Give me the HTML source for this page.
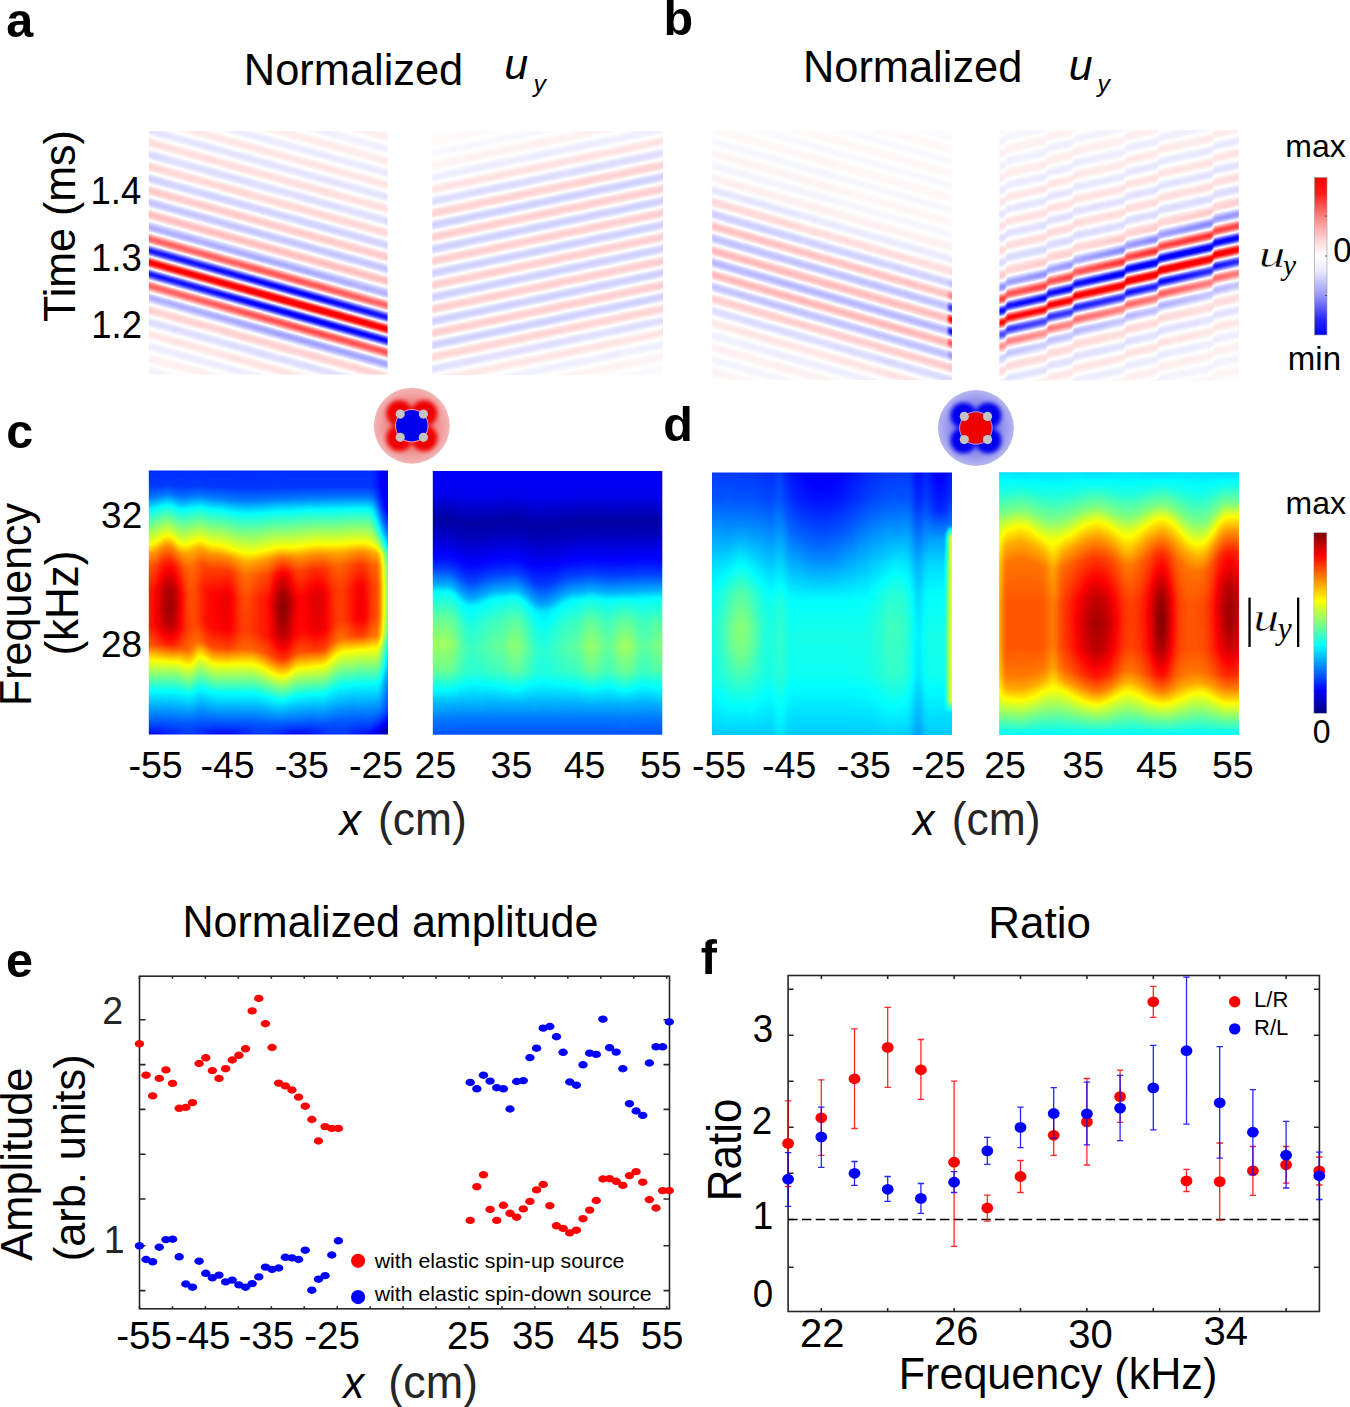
<!DOCTYPE html>
<html><head><meta charset="utf-8"><style>html,body{margin:0;padding:0;background:#fff}svg{display:block}text{font-family:"Liberation Sans",sans-serif}.b{font-weight:bold}.i{font-style:italic}.ga stop{stop-color:#808080}.si{font-family:"Liberation Serif",serif;font-style:italic}</style></head><body>
<svg width="1350" height="1407" viewBox="0 0 1350 1407">
<rect width="1350" height="1407" fill="#fff"/>
<defs><filter id="fjet" filterUnits="userSpaceOnUse" x="100" y="440" width="1200" height="320" color-interpolation-filters="sRGB"><feGaussianBlur stdDeviation="2.2 0.6"/><feComponentTransfer><feFuncR type="table" tableValues="0 0 0 0 0.5 1 1 1 0.5"/><feFuncG type="table" tableValues="0 0 0.5 1 1 1 0.5 0 0"/><feFuncB type="table" tableValues="0.5 1 1 1 0.5 0 0 0 0"/></feComponentTransfer></filter>
<filter id="fbwr" filterUnits="userSpaceOnUse" x="100" y="100" width="1200" height="320" color-interpolation-filters="sRGB"><feGaussianBlur stdDeviation="0.8 0.5"/><feComponentTransfer><feFuncR type="table" tableValues="0 0 0 0 0 0 0 0 0.08 0.17 0.25 0.34 0.42 0.5 0.58 0.66 0.74 0.81 0.88 0.95 1 1 1 1 1 1 1 1 1 1 1 1 1 1 1 1 1 1 1 1 1"/><feFuncG type="table" tableValues="0 0 0 0 0 0 0 0 0.08 0.17 0.25 0.34 0.42 0.5 0.58 0.66 0.74 0.81 0.88 0.95 1 0.95 0.88 0.81 0.74 0.66 0.58 0.5 0.42 0.34 0.25 0.17 0.08 0 0 0 0 0 0 0 0"/><feFuncB type="table" tableValues="1 1 1 1 1 1 1 1 1 1 1 1 1 1 1 1 1 1 1 1 1 0.95 0.88 0.81 0.74 0.66 0.58 0.5 0.42 0.34 0.25 0.17 0.08 0 0 0 0 0 0 0 0"/></feComponentTransfer></filter>
</defs>
<text x="6.19" y="37.3" font-size="48.5" class="b">a</text>
<text x="663.55" y="35" font-size="48.5" class="b">b</text>
<text x="6.3" y="448.4" font-size="48.5" class="b">c</text>
<text x="663.26" y="441.3" font-size="48.5" class="b">d</text>
<text x="6.1" y="976.7" font-size="48.5" class="b">e</text>
<text x="700.87" y="974" font-size="48.5" class="b">f</text>
<text transform="translate(243.83 84.8) scale(1 1.04)" font-size="43.4">Normalized</text>
<text transform="translate(504.28 79.4) scale(1 0.99)" font-size="43" class="i">u</text>
<text x="533.39" y="91.8" font-size="24.8" class="i">y</text>
<text transform="translate(802.93 82.3) scale(1 1.04)" font-size="43.4">Normalized</text>
<text transform="translate(1068.68 80.1) scale(1 0.99)" font-size="43" class="i">u</text>
<text x="1097.49" y="91.6" font-size="24.8" class="i">y</text>
<defs><linearGradient id="car0" gradientUnits="userSpaceOnUse" x1="0" y1="220.61" x2="0" y2="244.61" spreadMethod="repeat" gradientTransform="matrix(1 0.28 0 1 0 0)"><stop offset="0.0000" stop-color="#ffffff"/><stop offset="0.0625" stop-color="#f5f5f5"/><stop offset="0.1250" stop-color="#dadada"/><stop offset="0.1875" stop-color="#b0b0b0"/><stop offset="0.2500" stop-color="#808080"/><stop offset="0.3125" stop-color="#4f4f4f"/><stop offset="0.3750" stop-color="#252525"/><stop offset="0.4375" stop-color="#0a0a0a"/><stop offset="0.5000" stop-color="#000000"/><stop offset="0.5625" stop-color="#0a0a0a"/><stop offset="0.6250" stop-color="#252525"/><stop offset="0.6875" stop-color="#4f4f4f"/><stop offset="0.7500" stop-color="#7f7f7f"/><stop offset="0.8125" stop-color="#b0b0b0"/><stop offset="0.8750" stop-color="#dadada"/><stop offset="0.9375" stop-color="#f5f5f5"/><stop offset="1.0000" stop-color="#ffffff"/></linearGradient><linearGradient id="g1" class="ga" x2="0" y2="1"><stop offset="0.000" stop-opacity="0.91"/><stop offset="0.385" stop-opacity="0.79"/><stop offset="0.485" stop-opacity="0.39"/><stop offset="0.513" stop-opacity="0.32"/><stop offset="0.537" stop-opacity="0.30"/><stop offset="0.561" stop-opacity="0.33"/><stop offset="0.585" stop-opacity="0.39"/><stop offset="0.665" stop-opacity="0.72"/><stop offset="0.701" stop-opacity="0.84"/><stop offset="0.834" stop-opacity="0.92"/><stop offset="1.002" stop-opacity="0.97"/></linearGradient><linearGradient id="g2" class="ga" x2="0" y2="1"><stop offset="0.000" stop-opacity="0.91"/><stop offset="0.389" stop-opacity="0.79"/><stop offset="0.489" stop-opacity="0.39"/><stop offset="0.517" stop-opacity="0.32"/><stop offset="0.541" stop-opacity="0.30"/><stop offset="0.565" stop-opacity="0.32"/><stop offset="0.589" stop-opacity="0.39"/><stop offset="0.669" stop-opacity="0.72"/><stop offset="0.705" stop-opacity="0.84"/><stop offset="0.834" stop-opacity="0.92"/><stop offset="1.002" stop-opacity="0.96"/></linearGradient><linearGradient id="g3" class="ga" x2="0" y2="1"><stop offset="0.000" stop-opacity="0.91"/><stop offset="0.393" stop-opacity="0.79"/><stop offset="0.497" stop-opacity="0.38"/><stop offset="0.521" stop-opacity="0.32"/><stop offset="0.545" stop-opacity="0.30"/><stop offset="0.569" stop-opacity="0.32"/><stop offset="0.593" stop-opacity="0.39"/><stop offset="0.673" stop-opacity="0.72"/><stop offset="0.709" stop-opacity="0.84"/><stop offset="0.834" stop-opacity="0.92"/><stop offset="1.002" stop-opacity="0.96"/></linearGradient><linearGradient id="g4" class="ga" x2="0" y2="1"><stop offset="0.000" stop-opacity="0.91"/><stop offset="0.397" stop-opacity="0.79"/><stop offset="0.417" stop-opacity="0.72"/><stop offset="0.501" stop-opacity="0.38"/><stop offset="0.525" stop-opacity="0.32"/><stop offset="0.549" stop-opacity="0.30"/><stop offset="0.573" stop-opacity="0.32"/><stop offset="0.597" stop-opacity="0.38"/><stop offset="0.681" stop-opacity="0.73"/><stop offset="0.717" stop-opacity="0.85"/><stop offset="0.842" stop-opacity="0.92"/><stop offset="1.002" stop-opacity="0.96"/></linearGradient><linearGradient id="g5" class="ga" x2="0" y2="1"><stop offset="0.000" stop-opacity="0.91"/><stop offset="0.200" stop-opacity="0.86"/><stop offset="0.401" stop-opacity="0.79"/><stop offset="0.421" stop-opacity="0.73"/><stop offset="0.505" stop-opacity="0.38"/><stop offset="0.529" stop-opacity="0.32"/><stop offset="0.553" stop-opacity="0.30"/><stop offset="0.577" stop-opacity="0.32"/><stop offset="0.601" stop-opacity="0.38"/><stop offset="0.685" stop-opacity="0.73"/><stop offset="0.721" stop-opacity="0.85"/><stop offset="0.846" stop-opacity="0.92"/><stop offset="1.002" stop-opacity="0.96"/></linearGradient><linearGradient id="g6" class="ga" x2="0" y2="1"><stop offset="0.000" stop-opacity="0.91"/><stop offset="0.212" stop-opacity="0.86"/><stop offset="0.409" stop-opacity="0.79"/><stop offset="0.509" stop-opacity="0.38"/><stop offset="0.533" stop-opacity="0.32"/><stop offset="0.557" stop-opacity="0.30"/><stop offset="0.581" stop-opacity="0.32"/><stop offset="0.605" stop-opacity="0.38"/><stop offset="0.689" stop-opacity="0.73"/><stop offset="0.725" stop-opacity="0.85"/><stop offset="0.850" stop-opacity="0.92"/><stop offset="1.002" stop-opacity="0.96"/></linearGradient><linearGradient id="g7" class="ga" x2="0" y2="1"><stop offset="0.000" stop-opacity="0.92"/><stop offset="0.208" stop-opacity="0.86"/><stop offset="0.413" stop-opacity="0.79"/><stop offset="0.513" stop-opacity="0.38"/><stop offset="0.537" stop-opacity="0.32"/><stop offset="0.561" stop-opacity="0.30"/><stop offset="0.585" stop-opacity="0.32"/><stop offset="0.609" stop-opacity="0.38"/><stop offset="0.693" stop-opacity="0.72"/><stop offset="0.729" stop-opacity="0.85"/><stop offset="0.850" stop-opacity="0.92"/><stop offset="1.002" stop-opacity="0.96"/></linearGradient><linearGradient id="g8" class="ga" x2="0" y2="1"><stop offset="0.000" stop-opacity="0.92"/><stop offset="0.208" stop-opacity="0.87"/><stop offset="0.417" stop-opacity="0.79"/><stop offset="0.517" stop-opacity="0.38"/><stop offset="0.541" stop-opacity="0.32"/><stop offset="0.565" stop-opacity="0.30"/><stop offset="0.589" stop-opacity="0.32"/><stop offset="0.613" stop-opacity="0.38"/><stop offset="0.697" stop-opacity="0.72"/><stop offset="0.733" stop-opacity="0.84"/><stop offset="0.854" stop-opacity="0.91"/><stop offset="1.002" stop-opacity="0.96"/></linearGradient><linearGradient id="g9" class="ga" x2="0" y2="1"><stop offset="0.000" stop-opacity="0.92"/><stop offset="0.212" stop-opacity="0.87"/><stop offset="0.421" stop-opacity="0.79"/><stop offset="0.521" stop-opacity="0.39"/><stop offset="0.549" stop-opacity="0.31"/><stop offset="0.573" stop-opacity="0.30"/><stop offset="0.597" stop-opacity="0.32"/><stop offset="0.621" stop-opacity="0.39"/><stop offset="0.701" stop-opacity="0.72"/><stop offset="0.737" stop-opacity="0.84"/><stop offset="0.854" stop-opacity="0.91"/><stop offset="1.002" stop-opacity="0.96"/></linearGradient><linearGradient id="ga" class="ga" x2="0" y2="1"><stop offset="0.000" stop-opacity="0.92"/><stop offset="0.212" stop-opacity="0.87"/><stop offset="0.425" stop-opacity="0.79"/><stop offset="0.529" stop-opacity="0.37"/><stop offset="0.553" stop-opacity="0.31"/><stop offset="0.577" stop-opacity="0.30"/><stop offset="0.601" stop-opacity="0.32"/><stop offset="0.625" stop-opacity="0.38"/><stop offset="0.709" stop-opacity="0.73"/><stop offset="0.745" stop-opacity="0.85"/><stop offset="0.862" stop-opacity="0.91"/><stop offset="1.002" stop-opacity="0.96"/></linearGradient><linearGradient id="gb" class="ga" x2="0" y2="1"><stop offset="0.000" stop-opacity="0.92"/><stop offset="0.216" stop-opacity="0.87"/><stop offset="0.429" stop-opacity="0.79"/><stop offset="0.449" stop-opacity="0.72"/><stop offset="0.533" stop-opacity="0.37"/><stop offset="0.557" stop-opacity="0.31"/><stop offset="0.581" stop-opacity="0.29"/><stop offset="0.605" stop-opacity="0.32"/><stop offset="0.629" stop-opacity="0.38"/><stop offset="0.713" stop-opacity="0.73"/><stop offset="0.749" stop-opacity="0.85"/><stop offset="0.862" stop-opacity="0.91"/><stop offset="1.002" stop-opacity="0.96"/></linearGradient><linearGradient id="gc" class="ga" x2="0" y2="1"><stop offset="0.000" stop-opacity="0.92"/><stop offset="0.220" stop-opacity="0.87"/><stop offset="0.433" stop-opacity="0.79"/><stop offset="0.453" stop-opacity="0.72"/><stop offset="0.537" stop-opacity="0.38"/><stop offset="0.561" stop-opacity="0.31"/><stop offset="0.585" stop-opacity="0.29"/><stop offset="0.609" stop-opacity="0.32"/><stop offset="0.633" stop-opacity="0.38"/><stop offset="0.717" stop-opacity="0.73"/><stop offset="0.754" stop-opacity="0.85"/><stop offset="0.866" stop-opacity="0.91"/><stop offset="1.002" stop-opacity="0.96"/></linearGradient><linearGradient id="gd" class="ga" x2="0" y2="1"><stop offset="0.000" stop-opacity="0.92"/><stop offset="0.224" stop-opacity="0.87"/><stop offset="0.437" stop-opacity="0.79"/><stop offset="0.457" stop-opacity="0.73"/><stop offset="0.541" stop-opacity="0.38"/><stop offset="0.565" stop-opacity="0.31"/><stop offset="0.589" stop-opacity="0.29"/><stop offset="0.613" stop-opacity="0.31"/><stop offset="0.637" stop-opacity="0.38"/><stop offset="0.721" stop-opacity="0.72"/><stop offset="0.758" stop-opacity="0.85"/><stop offset="0.866" stop-opacity="0.91"/><stop offset="1.002" stop-opacity="0.95"/></linearGradient><linearGradient id="ge" class="ga" x2="0" y2="1"><stop offset="0.000" stop-opacity="0.92"/><stop offset="0.232" stop-opacity="0.87"/><stop offset="0.445" stop-opacity="0.79"/><stop offset="0.545" stop-opacity="0.38"/><stop offset="0.569" stop-opacity="0.31"/><stop offset="0.593" stop-opacity="0.29"/><stop offset="0.617" stop-opacity="0.31"/><stop offset="0.641" stop-opacity="0.37"/><stop offset="0.725" stop-opacity="0.72"/><stop offset="0.762" stop-opacity="0.84"/><stop offset="0.870" stop-opacity="0.91"/><stop offset="1.002" stop-opacity="0.95"/></linearGradient><linearGradient id="gf" class="ga" x2="0" y2="1"><stop offset="0.000" stop-opacity="0.92"/><stop offset="0.232" stop-opacity="0.87"/><stop offset="0.449" stop-opacity="0.79"/><stop offset="0.549" stop-opacity="0.38"/><stop offset="0.573" stop-opacity="0.31"/><stop offset="0.597" stop-opacity="0.29"/><stop offset="0.621" stop-opacity="0.31"/><stop offset="0.645" stop-opacity="0.37"/><stop offset="0.729" stop-opacity="0.72"/><stop offset="0.766" stop-opacity="0.84"/><stop offset="0.870" stop-opacity="0.91"/><stop offset="1.002" stop-opacity="0.95"/></linearGradient><linearGradient id="g10" class="ga" x2="0" y2="1"><stop offset="0.000" stop-opacity="0.92"/><stop offset="0.232" stop-opacity="0.87"/><stop offset="0.453" stop-opacity="0.79"/><stop offset="0.553" stop-opacity="0.38"/><stop offset="0.581" stop-opacity="0.31"/><stop offset="0.605" stop-opacity="0.29"/><stop offset="0.629" stop-opacity="0.31"/><stop offset="0.653" stop-opacity="0.38"/><stop offset="0.737" stop-opacity="0.73"/><stop offset="0.774" stop-opacity="0.85"/><stop offset="0.878" stop-opacity="0.91"/><stop offset="1.002" stop-opacity="0.95"/></linearGradient><linearGradient id="g11" class="ga" x2="0" y2="1"><stop offset="0.000" stop-opacity="0.92"/><stop offset="0.232" stop-opacity="0.87"/><stop offset="0.457" stop-opacity="0.79"/><stop offset="0.557" stop-opacity="0.38"/><stop offset="0.585" stop-opacity="0.31"/><stop offset="0.609" stop-opacity="0.29"/><stop offset="0.633" stop-opacity="0.31"/><stop offset="0.657" stop-opacity="0.38"/><stop offset="0.741" stop-opacity="0.73"/><stop offset="0.778" stop-opacity="0.85"/><stop offset="0.878" stop-opacity="0.91"/><stop offset="1.002" stop-opacity="0.95"/></linearGradient><linearGradient id="g12" class="ga" x2="0" y2="1"><stop offset="0.000" stop-opacity="0.92"/><stop offset="0.236" stop-opacity="0.87"/><stop offset="0.461" stop-opacity="0.79"/><stop offset="0.565" stop-opacity="0.36"/><stop offset="0.589" stop-opacity="0.30"/><stop offset="0.613" stop-opacity="0.28"/><stop offset="0.637" stop-opacity="0.31"/><stop offset="0.661" stop-opacity="0.37"/><stop offset="0.745" stop-opacity="0.73"/><stop offset="0.782" stop-opacity="0.85"/><stop offset="0.882" stop-opacity="0.91"/><stop offset="1.002" stop-opacity="0.95"/></linearGradient><linearGradient id="g13" class="ga" x2="0" y2="1"><stop offset="0.000" stop-opacity="0.93"/><stop offset="0.240" stop-opacity="0.87"/><stop offset="0.465" stop-opacity="0.79"/><stop offset="0.569" stop-opacity="0.36"/><stop offset="0.593" stop-opacity="0.30"/><stop offset="0.617" stop-opacity="0.28"/><stop offset="0.641" stop-opacity="0.30"/><stop offset="0.665" stop-opacity="0.37"/><stop offset="0.749" stop-opacity="0.72"/><stop offset="0.786" stop-opacity="0.85"/><stop offset="0.882" stop-opacity="0.90"/><stop offset="1.002" stop-opacity="0.95"/></linearGradient><linearGradient id="g14" class="ga" x2="0" y2="1"><stop offset="0.000" stop-opacity="0.93"/><stop offset="0.244" stop-opacity="0.87"/><stop offset="0.469" stop-opacity="0.79"/><stop offset="0.493" stop-opacity="0.70"/><stop offset="0.573" stop-opacity="0.36"/><stop offset="0.597" stop-opacity="0.30"/><stop offset="0.621" stop-opacity="0.28"/><stop offset="0.645" stop-opacity="0.30"/><stop offset="0.669" stop-opacity="0.36"/><stop offset="0.754" stop-opacity="0.72"/><stop offset="0.790" stop-opacity="0.84"/><stop offset="0.882" stop-opacity="0.90"/><stop offset="1.002" stop-opacity="0.95"/></linearGradient><linearGradient id="g15" class="ga" x2="0" y2="1"><stop offset="0.000" stop-opacity="0.93"/><stop offset="0.244" stop-opacity="0.87"/><stop offset="0.473" stop-opacity="0.79"/><stop offset="0.497" stop-opacity="0.71"/><stop offset="0.577" stop-opacity="0.36"/><stop offset="0.601" stop-opacity="0.30"/><stop offset="0.625" stop-opacity="0.28"/><stop offset="0.649" stop-opacity="0.30"/><stop offset="0.673" stop-opacity="0.36"/><stop offset="0.758" stop-opacity="0.72"/><stop offset="0.794" stop-opacity="0.84"/><stop offset="0.882" stop-opacity="0.90"/><stop offset="1.002" stop-opacity="0.95"/></linearGradient><linearGradient id="g16" class="ga" x2="0" y2="1"><stop offset="0.000" stop-opacity="0.93"/><stop offset="0.248" stop-opacity="0.87"/><stop offset="0.477" stop-opacity="0.79"/><stop offset="0.501" stop-opacity="0.71"/><stop offset="0.581" stop-opacity="0.36"/><stop offset="0.605" stop-opacity="0.30"/><stop offset="0.629" stop-opacity="0.27"/><stop offset="0.653" stop-opacity="0.29"/><stop offset="0.677" stop-opacity="0.35"/><stop offset="0.766" stop-opacity="0.73"/><stop offset="0.802" stop-opacity="0.85"/><stop offset="1.002" stop-opacity="0.94"/></linearGradient><linearGradient id="g17" class="ga" x2="0" y2="1"><stop offset="0.000" stop-opacity="0.93"/><stop offset="0.253" stop-opacity="0.87"/><stop offset="0.481" stop-opacity="0.79"/><stop offset="0.505" stop-opacity="0.71"/><stop offset="0.585" stop-opacity="0.36"/><stop offset="0.609" stop-opacity="0.30"/><stop offset="0.633" stop-opacity="0.27"/><stop offset="0.657" stop-opacity="0.29"/><stop offset="0.681" stop-opacity="0.35"/><stop offset="0.770" stop-opacity="0.73"/><stop offset="0.806" stop-opacity="0.85"/><stop offset="1.002" stop-opacity="0.94"/></linearGradient><linearGradient id="g18" class="ga" x2="0" y2="1"><stop offset="0.000" stop-opacity="0.93"/><stop offset="0.257" stop-opacity="0.87"/><stop offset="0.485" stop-opacity="0.79"/><stop offset="0.509" stop-opacity="0.71"/><stop offset="0.593" stop-opacity="0.35"/><stop offset="0.617" stop-opacity="0.29"/><stop offset="0.641" stop-opacity="0.27"/><stop offset="0.665" stop-opacity="0.29"/><stop offset="0.689" stop-opacity="0.36"/><stop offset="0.774" stop-opacity="0.72"/><stop offset="0.810" stop-opacity="0.85"/><stop offset="1.002" stop-opacity="0.94"/></linearGradient><linearGradient id="g19" class="ga" x2="0" y2="1"><stop offset="0.000" stop-opacity="0.93"/><stop offset="0.269" stop-opacity="0.87"/><stop offset="0.493" stop-opacity="0.79"/><stop offset="0.593" stop-opacity="0.36"/><stop offset="0.621" stop-opacity="0.28"/><stop offset="0.645" stop-opacity="0.26"/><stop offset="0.669" stop-opacity="0.29"/><stop offset="0.693" stop-opacity="0.35"/><stop offset="0.778" stop-opacity="0.72"/><stop offset="0.814" stop-opacity="0.84"/><stop offset="0.894" stop-opacity="0.90"/><stop offset="1.002" stop-opacity="0.94"/></linearGradient><linearGradient id="g1a" class="ga" x2="0" y2="1"><stop offset="0.000" stop-opacity="0.93"/><stop offset="0.269" stop-opacity="0.87"/><stop offset="0.497" stop-opacity="0.79"/><stop offset="0.601" stop-opacity="0.35"/><stop offset="0.625" stop-opacity="0.28"/><stop offset="0.649" stop-opacity="0.26"/><stop offset="0.673" stop-opacity="0.28"/><stop offset="0.697" stop-opacity="0.35"/><stop offset="0.782" stop-opacity="0.71"/><stop offset="0.818" stop-opacity="0.84"/><stop offset="0.894" stop-opacity="0.89"/><stop offset="1.002" stop-opacity="0.94"/></linearGradient><linearGradient id="g1b" class="ga" x2="0" y2="1"><stop offset="0.000" stop-opacity="0.93"/><stop offset="0.269" stop-opacity="0.87"/><stop offset="0.501" stop-opacity="0.79"/><stop offset="0.605" stop-opacity="0.34"/><stop offset="0.629" stop-opacity="0.28"/><stop offset="0.653" stop-opacity="0.26"/><stop offset="0.677" stop-opacity="0.28"/><stop offset="0.701" stop-opacity="0.34"/><stop offset="0.790" stop-opacity="0.73"/><stop offset="0.826" stop-opacity="0.85"/><stop offset="1.002" stop-opacity="0.94"/></linearGradient><linearGradient id="g1c" class="ga" x2="0" y2="1"><stop offset="0.000" stop-opacity="0.93"/><stop offset="0.269" stop-opacity="0.88"/><stop offset="0.505" stop-opacity="0.79"/><stop offset="0.609" stop-opacity="0.34"/><stop offset="0.633" stop-opacity="0.28"/><stop offset="0.657" stop-opacity="0.25"/><stop offset="0.681" stop-opacity="0.28"/><stop offset="0.705" stop-opacity="0.34"/><stop offset="0.794" stop-opacity="0.72"/><stop offset="0.830" stop-opacity="0.85"/><stop offset="1.002" stop-opacity="0.94"/></linearGradient><linearGradient id="g1d" class="ga" x2="0" y2="1"><stop offset="0.000" stop-opacity="0.93"/><stop offset="0.269" stop-opacity="0.88"/><stop offset="0.509" stop-opacity="0.79"/><stop offset="0.613" stop-opacity="0.34"/><stop offset="0.637" stop-opacity="0.28"/><stop offset="0.661" stop-opacity="0.25"/><stop offset="0.685" stop-opacity="0.27"/><stop offset="0.709" stop-opacity="0.33"/><stop offset="0.798" stop-opacity="0.72"/><stop offset="0.834" stop-opacity="0.85"/><stop offset="1.002" stop-opacity="0.93"/></linearGradient><linearGradient id="g1e" class="ga" x2="0" y2="1"><stop offset="0.000" stop-opacity="0.93"/><stop offset="0.273" stop-opacity="0.88"/><stop offset="0.513" stop-opacity="0.79"/><stop offset="0.617" stop-opacity="0.34"/><stop offset="0.641" stop-opacity="0.27"/><stop offset="0.665" stop-opacity="0.25"/><stop offset="0.689" stop-opacity="0.27"/><stop offset="0.713" stop-opacity="0.33"/><stop offset="0.802" stop-opacity="0.72"/><stop offset="0.838" stop-opacity="0.84"/><stop offset="1.002" stop-opacity="0.93"/></linearGradient><linearGradient id="g1f" class="ga" x2="0" y2="1"><stop offset="0.000" stop-opacity="0.93"/><stop offset="0.277" stop-opacity="0.88"/><stop offset="0.517" stop-opacity="0.79"/><stop offset="0.545" stop-opacity="0.68"/><stop offset="0.621" stop-opacity="0.34"/><stop offset="0.649" stop-opacity="0.26"/><stop offset="0.673" stop-opacity="0.24"/><stop offset="0.697" stop-opacity="0.27"/><stop offset="0.721" stop-opacity="0.34"/><stop offset="0.806" stop-opacity="0.71"/><stop offset="0.846" stop-opacity="0.85"/><stop offset="1.002" stop-opacity="0.93"/></linearGradient><linearGradient id="g20" class="ga" x2="0" y2="1"><stop offset="0.000" stop-opacity="0.93"/><stop offset="0.277" stop-opacity="0.88"/><stop offset="0.521" stop-opacity="0.79"/><stop offset="0.545" stop-opacity="0.70"/><stop offset="0.629" stop-opacity="0.33"/><stop offset="0.653" stop-opacity="0.26"/><stop offset="0.677" stop-opacity="0.24"/><stop offset="0.701" stop-opacity="0.27"/><stop offset="0.725" stop-opacity="0.33"/><stop offset="0.810" stop-opacity="0.71"/><stop offset="0.850" stop-opacity="0.85"/><stop offset="1.002" stop-opacity="0.93"/></linearGradient><linearGradient id="g21" class="ga" x2="0" y2="1"><stop offset="0.000" stop-opacity="0.94"/><stop offset="0.281" stop-opacity="0.88"/><stop offset="0.525" stop-opacity="0.79"/><stop offset="0.549" stop-opacity="0.70"/><stop offset="0.633" stop-opacity="0.33"/><stop offset="0.657" stop-opacity="0.26"/><stop offset="0.681" stop-opacity="0.24"/><stop offset="0.705" stop-opacity="0.26"/><stop offset="0.729" stop-opacity="0.33"/><stop offset="0.814" stop-opacity="0.71"/><stop offset="0.854" stop-opacity="0.85"/><stop offset="1.002" stop-opacity="0.93"/></linearGradient><linearGradient id="g22" class="ga" x2="0" y2="1"><stop offset="0.000" stop-opacity="0.94"/><stop offset="0.285" stop-opacity="0.88"/><stop offset="0.529" stop-opacity="0.79"/><stop offset="0.553" stop-opacity="0.70"/><stop offset="0.637" stop-opacity="0.33"/><stop offset="0.661" stop-opacity="0.26"/><stop offset="0.685" stop-opacity="0.24"/><stop offset="0.709" stop-opacity="0.26"/><stop offset="0.733" stop-opacity="0.33"/><stop offset="0.818" stop-opacity="0.70"/><stop offset="0.858" stop-opacity="0.85"/><stop offset="1.002" stop-opacity="0.93"/></linearGradient><linearGradient id="g23" class="ga" x2="0" y2="1"><stop offset="0.000" stop-opacity="0.94"/><stop offset="0.289" stop-opacity="0.88"/><stop offset="0.533" stop-opacity="0.79"/><stop offset="0.557" stop-opacity="0.70"/><stop offset="0.641" stop-opacity="0.33"/><stop offset="0.665" stop-opacity="0.26"/><stop offset="0.689" stop-opacity="0.23"/><stop offset="0.713" stop-opacity="0.26"/><stop offset="0.737" stop-opacity="0.32"/><stop offset="0.826" stop-opacity="0.72"/><stop offset="0.862" stop-opacity="0.84"/><stop offset="1.002" stop-opacity="0.92"/></linearGradient><linearGradient id="g24" class="ga" x2="0" y2="1"><stop offset="0.000" stop-opacity="0.94"/><stop offset="0.293" stop-opacity="0.88"/><stop offset="0.537" stop-opacity="0.79"/><stop offset="0.561" stop-opacity="0.71"/><stop offset="0.645" stop-opacity="0.33"/><stop offset="0.669" stop-opacity="0.26"/><stop offset="0.693" stop-opacity="0.23"/><stop offset="0.717" stop-opacity="0.25"/><stop offset="0.741" stop-opacity="0.32"/><stop offset="0.830" stop-opacity="0.71"/><stop offset="0.866" stop-opacity="0.84"/><stop offset="1.002" stop-opacity="0.92"/></linearGradient><linearGradient id="g25" class="ga" x2="0" y2="1"><stop offset="0.000" stop-opacity="0.94"/><stop offset="0.301" stop-opacity="0.88"/><stop offset="0.545" stop-opacity="0.79"/><stop offset="0.649" stop-opacity="0.33"/><stop offset="0.673" stop-opacity="0.26"/><stop offset="0.697" stop-opacity="0.23"/><stop offset="0.721" stop-opacity="0.25"/><stop offset="0.745" stop-opacity="0.32"/><stop offset="0.834" stop-opacity="0.71"/><stop offset="0.874" stop-opacity="0.85"/><stop offset="1.002" stop-opacity="0.92"/></linearGradient><linearGradient id="g26" class="ga" x2="0" y2="1"><stop offset="0.000" stop-opacity="0.94"/><stop offset="0.301" stop-opacity="0.88"/><stop offset="0.549" stop-opacity="0.79"/><stop offset="0.653" stop-opacity="0.33"/><stop offset="0.677" stop-opacity="0.26"/><stop offset="0.701" stop-opacity="0.23"/><stop offset="0.725" stop-opacity="0.25"/><stop offset="0.749" stop-opacity="0.31"/><stop offset="0.838" stop-opacity="0.71"/><stop offset="0.878" stop-opacity="0.85"/><stop offset="1.002" stop-opacity="0.92"/></linearGradient><linearGradient id="g27" class="ga" x2="0" y2="1"><stop offset="0.000" stop-opacity="0.94"/><stop offset="0.297" stop-opacity="0.88"/><stop offset="0.553" stop-opacity="0.79"/><stop offset="0.657" stop-opacity="0.33"/><stop offset="0.685" stop-opacity="0.25"/><stop offset="0.709" stop-opacity="0.23"/><stop offset="0.733" stop-opacity="0.26"/><stop offset="0.758" stop-opacity="0.32"/><stop offset="0.842" stop-opacity="0.71"/><stop offset="0.882" stop-opacity="0.85"/><stop offset="1.002" stop-opacity="0.92"/></linearGradient><linearGradient id="g28" class="ga" x2="0" y2="1"><stop offset="0.000" stop-opacity="0.94"/><stop offset="0.301" stop-opacity="0.88"/><stop offset="0.557" stop-opacity="0.79"/><stop offset="0.585" stop-opacity="0.68"/><stop offset="0.665" stop-opacity="0.32"/><stop offset="0.689" stop-opacity="0.25"/><stop offset="0.713" stop-opacity="0.23"/><stop offset="0.737" stop-opacity="0.26"/><stop offset="0.762" stop-opacity="0.32"/><stop offset="0.846" stop-opacity="0.70"/><stop offset="0.886" stop-opacity="0.85"/><stop offset="1.002" stop-opacity="0.92"/></linearGradient><linearGradient id="g29" class="ga" x2="0" y2="1"><stop offset="0.000" stop-opacity="0.94"/><stop offset="0.305" stop-opacity="0.88"/><stop offset="0.561" stop-opacity="0.79"/><stop offset="0.589" stop-opacity="0.68"/><stop offset="0.669" stop-opacity="0.32"/><stop offset="0.693" stop-opacity="0.25"/><stop offset="0.717" stop-opacity="0.23"/><stop offset="0.741" stop-opacity="0.25"/><stop offset="0.766" stop-opacity="0.32"/><stop offset="0.850" stop-opacity="0.70"/><stop offset="0.890" stop-opacity="0.85"/><stop offset="1.002" stop-opacity="0.91"/></linearGradient><linearGradient id="g2a" class="ga" x2="0" y2="1"><stop offset="0.000" stop-opacity="0.94"/><stop offset="0.309" stop-opacity="0.88"/><stop offset="0.565" stop-opacity="0.79"/><stop offset="0.593" stop-opacity="0.69"/><stop offset="0.673" stop-opacity="0.32"/><stop offset="0.697" stop-opacity="0.26"/><stop offset="0.721" stop-opacity="0.23"/><stop offset="0.745" stop-opacity="0.25"/><stop offset="0.770" stop-opacity="0.32"/><stop offset="0.858" stop-opacity="0.72"/><stop offset="0.894" stop-opacity="0.84"/><stop offset="1.002" stop-opacity="0.91"/></linearGradient><linearGradient id="g2b" class="ga" x2="0" y2="1"><stop offset="0.000" stop-opacity="0.94"/><stop offset="0.313" stop-opacity="0.88"/><stop offset="0.569" stop-opacity="0.79"/><stop offset="0.593" stop-opacity="0.71"/><stop offset="0.677" stop-opacity="0.33"/><stop offset="0.701" stop-opacity="0.26"/><stop offset="0.725" stop-opacity="0.23"/><stop offset="0.749" stop-opacity="0.25"/><stop offset="0.774" stop-opacity="0.32"/><stop offset="0.862" stop-opacity="0.71"/><stop offset="0.898" stop-opacity="0.84"/><stop offset="1.002" stop-opacity="0.91"/></linearGradient><linearGradient id="g2c" class="ga" x2="0" y2="1"><stop offset="0.000" stop-opacity="0.94"/><stop offset="0.321" stop-opacity="0.88"/><stop offset="0.577" stop-opacity="0.79"/><stop offset="0.681" stop-opacity="0.33"/><stop offset="0.705" stop-opacity="0.26"/><stop offset="0.729" stop-opacity="0.23"/><stop offset="0.754" stop-opacity="0.25"/><stop offset="0.778" stop-opacity="0.32"/><stop offset="0.866" stop-opacity="0.71"/><stop offset="0.902" stop-opacity="0.84"/><stop offset="1.002" stop-opacity="0.91"/></linearGradient><linearGradient id="g2d" class="ga" x2="0" y2="1"><stop offset="0.000" stop-opacity="0.94"/><stop offset="0.317" stop-opacity="0.88"/><stop offset="0.581" stop-opacity="0.79"/><stop offset="0.685" stop-opacity="0.33"/><stop offset="0.709" stop-opacity="0.26"/><stop offset="0.733" stop-opacity="0.24"/><stop offset="0.758" stop-opacity="0.26"/><stop offset="0.786" stop-opacity="0.33"/><stop offset="0.870" stop-opacity="0.71"/><stop offset="0.906" stop-opacity="0.84"/><stop offset="1.002" stop-opacity="0.91"/></linearGradient><linearGradient id="g2e" class="ga" x2="0" y2="1"><stop offset="0.000" stop-opacity="0.94"/><stop offset="0.317" stop-opacity="0.88"/><stop offset="0.585" stop-opacity="0.79"/><stop offset="0.609" stop-opacity="0.70"/><stop offset="0.693" stop-opacity="0.32"/><stop offset="0.717" stop-opacity="0.26"/><stop offset="0.741" stop-opacity="0.24"/><stop offset="0.766" stop-opacity="0.26"/><stop offset="0.790" stop-opacity="0.33"/><stop offset="0.874" stop-opacity="0.71"/><stop offset="0.914" stop-opacity="0.85"/><stop offset="1.002" stop-opacity="0.90"/></linearGradient><linearGradient id="g2f" class="ga" x2="0" y2="1"><stop offset="0.000" stop-opacity="0.94"/><stop offset="0.321" stop-opacity="0.88"/><stop offset="0.589" stop-opacity="0.79"/><stop offset="0.613" stop-opacity="0.70"/><stop offset="0.697" stop-opacity="0.33"/><stop offset="0.721" stop-opacity="0.26"/><stop offset="0.745" stop-opacity="0.24"/><stop offset="0.770" stop-opacity="0.27"/><stop offset="0.794" stop-opacity="0.33"/><stop offset="0.878" stop-opacity="0.71"/><stop offset="0.918" stop-opacity="0.85"/><stop offset="1.002" stop-opacity="0.90"/></linearGradient><linearGradient id="g30" class="ga" x2="0" y2="1"><stop offset="0.000" stop-opacity="0.94"/><stop offset="0.325" stop-opacity="0.88"/><stop offset="0.593" stop-opacity="0.79"/><stop offset="0.617" stop-opacity="0.71"/><stop offset="0.701" stop-opacity="0.33"/><stop offset="0.725" stop-opacity="0.27"/><stop offset="0.749" stop-opacity="0.24"/><stop offset="0.774" stop-opacity="0.27"/><stop offset="0.798" stop-opacity="0.33"/><stop offset="0.882" stop-opacity="0.71"/><stop offset="0.922" stop-opacity="0.85"/><stop offset="1.002" stop-opacity="0.90"/></linearGradient><linearGradient id="g31" class="ga" x2="0" y2="1"><stop offset="0.000" stop-opacity="0.95"/><stop offset="0.333" stop-opacity="0.88"/><stop offset="0.601" stop-opacity="0.79"/><stop offset="0.705" stop-opacity="0.34"/><stop offset="0.729" stop-opacity="0.27"/><stop offset="0.754" stop-opacity="0.25"/><stop offset="0.778" stop-opacity="0.27"/><stop offset="0.802" stop-opacity="0.33"/><stop offset="0.890" stop-opacity="0.72"/><stop offset="0.926" stop-opacity="0.85"/><stop offset="1.002" stop-opacity="0.90"/></linearGradient><linearGradient id="g32" class="ga" x2="0" y2="1"><stop offset="0.000" stop-opacity="0.95"/><stop offset="0.329" stop-opacity="0.89"/><stop offset="0.605" stop-opacity="0.79"/><stop offset="0.709" stop-opacity="0.34"/><stop offset="0.733" stop-opacity="0.28"/><stop offset="0.758" stop-opacity="0.25"/><stop offset="0.782" stop-opacity="0.27"/><stop offset="0.806" stop-opacity="0.34"/><stop offset="0.894" stop-opacity="0.72"/><stop offset="0.930" stop-opacity="0.85"/><stop offset="1.002" stop-opacity="0.89"/></linearGradient><linearGradient id="g33" class="ga" x2="0" y2="1"><stop offset="0.000" stop-opacity="0.95"/><stop offset="0.329" stop-opacity="0.89"/><stop offset="0.609" stop-opacity="0.79"/><stop offset="0.713" stop-opacity="0.35"/><stop offset="0.737" stop-opacity="0.28"/><stop offset="0.762" stop-opacity="0.25"/><stop offset="0.786" stop-opacity="0.27"/><stop offset="0.810" stop-opacity="0.34"/><stop offset="0.898" stop-opacity="0.72"/><stop offset="0.934" stop-opacity="0.85"/><stop offset="1.002" stop-opacity="0.89"/></linearGradient><linearGradient id="g34" class="ga" x2="0" y2="1"><stop offset="0.000" stop-opacity="0.95"/><stop offset="0.333" stop-opacity="0.89"/><stop offset="0.613" stop-opacity="0.79"/><stop offset="0.637" stop-opacity="0.70"/><stop offset="0.717" stop-opacity="0.35"/><stop offset="0.741" stop-opacity="0.28"/><stop offset="0.766" stop-opacity="0.26"/><stop offset="0.790" stop-opacity="0.28"/><stop offset="0.818" stop-opacity="0.35"/><stop offset="0.902" stop-opacity="0.72"/><stop offset="0.938" stop-opacity="0.85"/><stop offset="1.002" stop-opacity="0.89"/></linearGradient><linearGradient id="g35" class="ga" x2="0" y2="1"><stop offset="0.000" stop-opacity="0.95"/><stop offset="0.337" stop-opacity="0.89"/><stop offset="0.617" stop-opacity="0.79"/><stop offset="0.641" stop-opacity="0.71"/><stop offset="0.721" stop-opacity="0.36"/><stop offset="0.745" stop-opacity="0.29"/><stop offset="0.770" stop-opacity="0.26"/><stop offset="0.794" stop-opacity="0.28"/><stop offset="0.822" stop-opacity="0.35"/><stop offset="0.906" stop-opacity="0.72"/><stop offset="0.942" stop-opacity="0.84"/><stop offset="1.002" stop-opacity="0.89"/></linearGradient><linearGradient id="g36" class="ga" x2="0" y2="1"><stop offset="0.000" stop-opacity="0.95"/><stop offset="0.345" stop-opacity="0.89"/><stop offset="0.625" stop-opacity="0.79"/><stop offset="0.729" stop-opacity="0.35"/><stop offset="0.754" stop-opacity="0.29"/><stop offset="0.778" stop-opacity="0.26"/><stop offset="0.802" stop-opacity="0.29"/><stop offset="0.826" stop-opacity="0.35"/><stop offset="0.910" stop-opacity="0.72"/><stop offset="0.946" stop-opacity="0.84"/><stop offset="1.002" stop-opacity="0.88"/></linearGradient><linearGradient id="g37" class="ga" x2="0" y2="1"><stop offset="0.000" stop-opacity="0.95"/><stop offset="0.341" stop-opacity="0.89"/><stop offset="0.629" stop-opacity="0.79"/><stop offset="0.733" stop-opacity="0.35"/><stop offset="0.758" stop-opacity="0.29"/><stop offset="0.782" stop-opacity="0.27"/><stop offset="0.806" stop-opacity="0.29"/><stop offset="0.830" stop-opacity="0.35"/><stop offset="0.914" stop-opacity="0.72"/><stop offset="0.950" stop-opacity="0.84"/><stop offset="1.002" stop-opacity="0.88"/></linearGradient><linearGradient id="g38" class="ga" x2="0" y2="1"><stop offset="0.000" stop-opacity="0.95"/><stop offset="0.345" stop-opacity="0.89"/><stop offset="0.633" stop-opacity="0.79"/><stop offset="0.737" stop-opacity="0.36"/><stop offset="0.762" stop-opacity="0.29"/><stop offset="0.786" stop-opacity="0.27"/><stop offset="0.810" stop-opacity="0.29"/><stop offset="0.834" stop-opacity="0.36"/><stop offset="0.918" stop-opacity="0.72"/><stop offset="0.954" stop-opacity="0.84"/><stop offset="1.002" stop-opacity="0.88"/></linearGradient><linearGradient id="g39" class="ga" x2="0" y2="1"><stop offset="0.000" stop-opacity="0.95"/><stop offset="0.349" stop-opacity="0.89"/><stop offset="0.637" stop-opacity="0.79"/><stop offset="0.661" stop-opacity="0.70"/><stop offset="0.741" stop-opacity="0.36"/><stop offset="0.766" stop-opacity="0.30"/><stop offset="0.790" stop-opacity="0.27"/><stop offset="0.814" stop-opacity="0.29"/><stop offset="0.838" stop-opacity="0.36"/><stop offset="0.922" stop-opacity="0.71"/><stop offset="0.958" stop-opacity="0.84"/><stop offset="1.002" stop-opacity="0.88"/></linearGradient><linearGradient id="g3a" class="ga" x2="0" y2="1"><stop offset="0.000" stop-opacity="0.95"/><stop offset="0.349" stop-opacity="0.89"/><stop offset="0.641" stop-opacity="0.79"/><stop offset="0.665" stop-opacity="0.71"/><stop offset="0.745" stop-opacity="0.37"/><stop offset="0.770" stop-opacity="0.30"/><stop offset="0.794" stop-opacity="0.28"/><stop offset="0.818" stop-opacity="0.30"/><stop offset="0.842" stop-opacity="0.36"/><stop offset="0.926" stop-opacity="0.71"/><stop offset="0.962" stop-opacity="0.84"/><stop offset="1.002" stop-opacity="0.87"/></linearGradient><linearGradient id="g3b" class="ga" x2="0" y2="1"><stop offset="0.000" stop-opacity="0.95"/><stop offset="0.357" stop-opacity="0.89"/><stop offset="0.649" stop-opacity="0.79"/><stop offset="0.749" stop-opacity="0.37"/><stop offset="0.774" stop-opacity="0.31"/><stop offset="0.798" stop-opacity="0.28"/><stop offset="0.822" stop-opacity="0.30"/><stop offset="0.850" stop-opacity="0.37"/><stop offset="0.930" stop-opacity="0.71"/><stop offset="0.966" stop-opacity="0.84"/><stop offset="1.002" stop-opacity="0.87"/></linearGradient><linearGradient id="g3c" class="ga" x2="0" y2="1"><stop offset="0.000" stop-opacity="0.95"/><stop offset="0.353" stop-opacity="0.89"/><stop offset="0.653" stop-opacity="0.79"/><stop offset="0.754" stop-opacity="0.37"/><stop offset="0.778" stop-opacity="0.31"/><stop offset="0.802" stop-opacity="0.28"/><stop offset="0.822" stop-opacity="0.29"/><stop offset="0.846" stop-opacity="0.35"/><stop offset="0.870" stop-opacity="0.43"/><stop offset="0.958" stop-opacity="0.80"/><stop offset="0.974" stop-opacity="0.85"/><stop offset="1.002" stop-opacity="0.87"/></linearGradient><linearGradient id="g3d" class="ga" x2="0" y2="1"><stop offset="0.000" stop-opacity="0.95"/><stop offset="0.357" stop-opacity="0.89"/><stop offset="0.657" stop-opacity="0.79"/><stop offset="0.758" stop-opacity="0.38"/><stop offset="0.782" stop-opacity="0.31"/><stop offset="0.806" stop-opacity="0.28"/><stop offset="0.826" stop-opacity="0.30"/><stop offset="0.850" stop-opacity="0.35"/><stop offset="0.874" stop-opacity="0.43"/><stop offset="0.962" stop-opacity="0.80"/><stop offset="0.978" stop-opacity="0.85"/><stop offset="1.002" stop-opacity="0.86"/></linearGradient><linearGradient id="g3e" class="ga" x2="0" y2="1"><stop offset="0.000" stop-opacity="0.95"/><stop offset="0.361" stop-opacity="0.89"/><stop offset="0.661" stop-opacity="0.79"/><stop offset="0.685" stop-opacity="0.71"/><stop offset="0.766" stop-opacity="0.37"/><stop offset="0.790" stop-opacity="0.31"/><stop offset="0.814" stop-opacity="0.29"/><stop offset="0.834" stop-opacity="0.30"/><stop offset="0.858" stop-opacity="0.36"/><stop offset="0.962" stop-opacity="0.78"/><stop offset="0.982" stop-opacity="0.85"/><stop offset="1.002" stop-opacity="0.86"/></linearGradient><clipPath id="cs0"><rect x="148.9" y="131.1" width="238.7" height="243.5"/></clipPath><linearGradient id="car1" gradientUnits="userSpaceOnUse" x1="0" y1="352.1" x2="0" y2="376.1" spreadMethod="repeat" gradientTransform="matrix(1 -0.21 0 1 0 0)"><stop offset="0.0000" stop-color="#ffffff"/><stop offset="0.0625" stop-color="#f5f5f5"/><stop offset="0.1250" stop-color="#dadada"/><stop offset="0.1875" stop-color="#b0b0b0"/><stop offset="0.2500" stop-color="#808080"/><stop offset="0.3125" stop-color="#4f4f4f"/><stop offset="0.3750" stop-color="#252525"/><stop offset="0.4375" stop-color="#0a0a0a"/><stop offset="0.5000" stop-color="#000000"/><stop offset="0.5625" stop-color="#0a0a0a"/><stop offset="0.6250" stop-color="#252525"/><stop offset="0.6875" stop-color="#4f4f4f"/><stop offset="0.7500" stop-color="#7f7f7f"/><stop offset="0.8125" stop-color="#b0b0b0"/><stop offset="0.8750" stop-color="#dadada"/><stop offset="0.9375" stop-color="#f5f5f5"/><stop offset="1.0000" stop-color="#ffffff"/></linearGradient><linearGradient id="g3f" class="ga" x2="0" y2="1"><stop offset="0.000" stop-opacity="0.98"/><stop offset="0.148" stop-opacity="0.96"/><stop offset="0.360" stop-opacity="0.85"/><stop offset="0.876" stop-opacity="0.85"/><stop offset="1.000" stop-opacity="0.91"/></linearGradient><linearGradient id="g40" class="ga" x2="0" y2="1"><stop offset="0.000" stop-opacity="0.98"/><stop offset="0.144" stop-opacity="0.96"/><stop offset="0.360" stop-opacity="0.85"/><stop offset="0.872" stop-opacity="0.85"/><stop offset="1.000" stop-opacity="0.91"/></linearGradient><linearGradient id="g41" class="ga" x2="0" y2="1"><stop offset="0.000" stop-opacity="0.98"/><stop offset="0.140" stop-opacity="0.96"/><stop offset="0.356" stop-opacity="0.85"/><stop offset="0.872" stop-opacity="0.85"/><stop offset="1.000" stop-opacity="0.92"/></linearGradient><linearGradient id="g42" class="ga" x2="0" y2="1"><stop offset="0.000" stop-opacity="0.98"/><stop offset="0.140" stop-opacity="0.96"/><stop offset="0.352" stop-opacity="0.85"/><stop offset="0.868" stop-opacity="0.85"/><stop offset="1.000" stop-opacity="0.92"/></linearGradient><linearGradient id="g43" class="ga" x2="0" y2="1"><stop offset="0.000" stop-opacity="0.98"/><stop offset="0.136" stop-opacity="0.96"/><stop offset="0.352" stop-opacity="0.85"/><stop offset="0.864" stop-opacity="0.85"/><stop offset="1.000" stop-opacity="0.92"/></linearGradient><linearGradient id="g44" class="ga" x2="0" y2="1"><stop offset="0.000" stop-opacity="0.98"/><stop offset="0.132" stop-opacity="0.96"/><stop offset="0.348" stop-opacity="0.85"/><stop offset="0.860" stop-opacity="0.85"/><stop offset="1.000" stop-opacity="0.92"/></linearGradient><linearGradient id="g45" class="ga" x2="0" y2="1"><stop offset="0.000" stop-opacity="0.98"/><stop offset="0.132" stop-opacity="0.95"/><stop offset="0.344" stop-opacity="0.85"/><stop offset="0.860" stop-opacity="0.85"/><stop offset="1.000" stop-opacity="0.92"/></linearGradient><linearGradient id="g46" class="ga" x2="0" y2="1"><stop offset="0.000" stop-opacity="0.98"/><stop offset="0.128" stop-opacity="0.96"/><stop offset="0.340" stop-opacity="0.85"/><stop offset="0.856" stop-opacity="0.85"/><stop offset="1.000" stop-opacity="0.93"/></linearGradient><linearGradient id="g47" class="ga" x2="0" y2="1"><stop offset="0.000" stop-opacity="0.98"/><stop offset="0.124" stop-opacity="0.96"/><stop offset="0.340" stop-opacity="0.85"/><stop offset="0.852" stop-opacity="0.85"/><stop offset="1.000" stop-opacity="0.93"/></linearGradient><linearGradient id="g48" class="ga" x2="0" y2="1"><stop offset="0.000" stop-opacity="0.98"/><stop offset="0.124" stop-opacity="0.95"/><stop offset="0.336" stop-opacity="0.85"/><stop offset="0.848" stop-opacity="0.85"/><stop offset="1.000" stop-opacity="0.93"/></linearGradient><linearGradient id="g49" class="ga" x2="0" y2="1"><stop offset="0.000" stop-opacity="0.98"/><stop offset="0.120" stop-opacity="0.95"/><stop offset="0.332" stop-opacity="0.85"/><stop offset="0.848" stop-opacity="0.85"/><stop offset="1.000" stop-opacity="0.93"/></linearGradient><linearGradient id="g4a" class="ga" x2="0" y2="1"><stop offset="0.000" stop-opacity="0.98"/><stop offset="0.120" stop-opacity="0.95"/><stop offset="0.328" stop-opacity="0.85"/><stop offset="0.844" stop-opacity="0.85"/><stop offset="1.000" stop-opacity="0.93"/></linearGradient><linearGradient id="g4b" class="ga" x2="0" y2="1"><stop offset="0.000" stop-opacity="0.98"/><stop offset="0.116" stop-opacity="0.95"/><stop offset="0.268" stop-opacity="0.87"/><stop offset="0.328" stop-opacity="0.85"/><stop offset="0.840" stop-opacity="0.85"/><stop offset="1.000" stop-opacity="0.93"/></linearGradient><linearGradient id="g4c" class="ga" x2="0" y2="1"><stop offset="0.000" stop-opacity="0.98"/><stop offset="0.112" stop-opacity="0.95"/><stop offset="0.264" stop-opacity="0.87"/><stop offset="0.324" stop-opacity="0.85"/><stop offset="0.836" stop-opacity="0.85"/><stop offset="1.000" stop-opacity="0.94"/></linearGradient><linearGradient id="g4d" class="ga" x2="0" y2="1"><stop offset="0.000" stop-opacity="0.98"/><stop offset="0.112" stop-opacity="0.95"/><stop offset="0.320" stop-opacity="0.85"/><stop offset="0.836" stop-opacity="0.85"/><stop offset="1.000" stop-opacity="0.94"/></linearGradient><linearGradient id="g4e" class="ga" x2="0" y2="1"><stop offset="0.000" stop-opacity="0.98"/><stop offset="0.108" stop-opacity="0.95"/><stop offset="0.316" stop-opacity="0.85"/><stop offset="0.832" stop-opacity="0.85"/><stop offset="1.000" stop-opacity="0.94"/></linearGradient><linearGradient id="g4f" class="ga" x2="0" y2="1"><stop offset="0.000" stop-opacity="0.98"/><stop offset="0.104" stop-opacity="0.95"/><stop offset="0.256" stop-opacity="0.87"/><stop offset="0.316" stop-opacity="0.85"/><stop offset="0.828" stop-opacity="0.85"/><stop offset="1.000" stop-opacity="0.94"/></linearGradient><linearGradient id="g50" class="ga" x2="0" y2="1"><stop offset="0.000" stop-opacity="0.97"/><stop offset="0.104" stop-opacity="0.95"/><stop offset="0.252" stop-opacity="0.87"/><stop offset="0.312" stop-opacity="0.85"/><stop offset="0.828" stop-opacity="0.85"/><stop offset="1.000" stop-opacity="0.94"/></linearGradient><linearGradient id="g51" class="ga" x2="0" y2="1"><stop offset="0.000" stop-opacity="0.97"/><stop offset="0.100" stop-opacity="0.95"/><stop offset="0.248" stop-opacity="0.87"/><stop offset="0.308" stop-opacity="0.85"/><stop offset="0.824" stop-opacity="0.85"/><stop offset="1.000" stop-opacity="0.94"/></linearGradient><linearGradient id="g52" class="ga" x2="0" y2="1"><stop offset="0.000" stop-opacity="0.97"/><stop offset="0.100" stop-opacity="0.95"/><stop offset="0.304" stop-opacity="0.85"/><stop offset="0.820" stop-opacity="0.85"/><stop offset="1.000" stop-opacity="0.95"/></linearGradient><linearGradient id="g53" class="ga" x2="0" y2="1"><stop offset="0.000" stop-opacity="0.97"/><stop offset="0.096" stop-opacity="0.95"/><stop offset="0.244" stop-opacity="0.87"/><stop offset="0.304" stop-opacity="0.85"/><stop offset="0.816" stop-opacity="0.85"/><stop offset="1.000" stop-opacity="0.95"/></linearGradient><linearGradient id="g54" class="ga" x2="0" y2="1"><stop offset="0.000" stop-opacity="0.97"/><stop offset="0.092" stop-opacity="0.95"/><stop offset="0.240" stop-opacity="0.87"/><stop offset="0.300" stop-opacity="0.85"/><stop offset="0.812" stop-opacity="0.85"/><stop offset="1.000" stop-opacity="0.95"/></linearGradient><linearGradient id="g55" class="ga" x2="0" y2="1"><stop offset="0.000" stop-opacity="0.97"/><stop offset="0.092" stop-opacity="0.95"/><stop offset="0.236" stop-opacity="0.87"/><stop offset="0.296" stop-opacity="0.85"/><stop offset="0.812" stop-opacity="0.85"/><stop offset="1.000" stop-opacity="0.95"/></linearGradient><linearGradient id="g56" class="ga" x2="0" y2="1"><stop offset="0.000" stop-opacity="0.97"/><stop offset="0.088" stop-opacity="0.95"/><stop offset="0.232" stop-opacity="0.87"/><stop offset="0.292" stop-opacity="0.85"/><stop offset="0.808" stop-opacity="0.85"/><stop offset="1.000" stop-opacity="0.95"/></linearGradient><linearGradient id="g57" class="ga" x2="0" y2="1"><stop offset="0.000" stop-opacity="0.97"/><stop offset="0.084" stop-opacity="0.95"/><stop offset="0.232" stop-opacity="0.87"/><stop offset="0.292" stop-opacity="0.85"/><stop offset="0.804" stop-opacity="0.85"/><stop offset="1.000" stop-opacity="0.95"/></linearGradient><linearGradient id="g58" class="ga" x2="0" y2="1"><stop offset="0.000" stop-opacity="0.97"/><stop offset="0.084" stop-opacity="0.95"/><stop offset="0.228" stop-opacity="0.87"/><stop offset="0.288" stop-opacity="0.85"/><stop offset="0.800" stop-opacity="0.85"/><stop offset="1.000" stop-opacity="0.95"/></linearGradient><linearGradient id="g59" class="ga" x2="0" y2="1"><stop offset="0.000" stop-opacity="0.97"/><stop offset="0.284" stop-opacity="0.85"/><stop offset="0.800" stop-opacity="0.85"/><stop offset="1.000" stop-opacity="0.95"/></linearGradient><linearGradient id="g5a" class="ga" x2="0" y2="1"><stop offset="0.000" stop-opacity="0.97"/><stop offset="0.280" stop-opacity="0.85"/><stop offset="0.796" stop-opacity="0.85"/><stop offset="1.000" stop-opacity="0.96"/></linearGradient><linearGradient id="g5b" class="ga" x2="0" y2="1"><stop offset="0.000" stop-opacity="0.97"/><stop offset="0.280" stop-opacity="0.85"/><stop offset="0.792" stop-opacity="0.85"/><stop offset="1.000" stop-opacity="0.96"/></linearGradient><linearGradient id="g5c" class="ga" x2="0" y2="1"><stop offset="0.000" stop-opacity="0.97"/><stop offset="0.276" stop-opacity="0.85"/><stop offset="0.788" stop-opacity="0.85"/><stop offset="1.000" stop-opacity="0.96"/></linearGradient><linearGradient id="g5d" class="ga" x2="0" y2="1"><stop offset="0.000" stop-opacity="0.97"/><stop offset="0.272" stop-opacity="0.85"/><stop offset="0.788" stop-opacity="0.85"/><stop offset="1.000" stop-opacity="0.96"/></linearGradient><linearGradient id="g5e" class="ga" x2="0" y2="1"><stop offset="0.000" stop-opacity="0.97"/><stop offset="0.268" stop-opacity="0.85"/><stop offset="0.784" stop-opacity="0.85"/><stop offset="1.000" stop-opacity="0.96"/></linearGradient><linearGradient id="g5f" class="ga" x2="0" y2="1"><stop offset="0.000" stop-opacity="0.97"/><stop offset="0.268" stop-opacity="0.85"/><stop offset="0.780" stop-opacity="0.85"/><stop offset="1.000" stop-opacity="0.96"/></linearGradient><linearGradient id="g60" class="ga" x2="0" y2="1"><stop offset="0.000" stop-opacity="0.97"/><stop offset="0.264" stop-opacity="0.85"/><stop offset="0.776" stop-opacity="0.85"/><stop offset="1.000" stop-opacity="0.96"/></linearGradient><linearGradient id="g61" class="ga" x2="0" y2="1"><stop offset="0.000" stop-opacity="0.97"/><stop offset="0.260" stop-opacity="0.85"/><stop offset="0.772" stop-opacity="0.85"/><stop offset="1.000" stop-opacity="0.96"/></linearGradient><linearGradient id="g62" class="ga" x2="0" y2="1"><stop offset="0.000" stop-opacity="0.97"/><stop offset="0.256" stop-opacity="0.85"/><stop offset="0.772" stop-opacity="0.85"/><stop offset="1.000" stop-opacity="0.96"/></linearGradient><linearGradient id="g63" class="ga" x2="0" y2="1"><stop offset="0.000" stop-opacity="0.97"/><stop offset="0.200" stop-opacity="0.87"/><stop offset="0.256" stop-opacity="0.85"/><stop offset="0.768" stop-opacity="0.85"/><stop offset="1.000" stop-opacity="0.96"/></linearGradient><linearGradient id="g64" class="ga" x2="0" y2="1"><stop offset="0.000" stop-opacity="0.96"/><stop offset="0.232" stop-opacity="0.85"/><stop offset="0.744" stop-opacity="0.85"/><stop offset="0.804" stop-opacity="0.87"/><stop offset="1.000" stop-opacity="0.97"/></linearGradient><linearGradient id="g65" class="ga" x2="0" y2="1"><stop offset="0.000" stop-opacity="0.96"/><stop offset="0.232" stop-opacity="0.85"/><stop offset="0.744" stop-opacity="0.85"/><stop offset="1.000" stop-opacity="0.97"/></linearGradient><linearGradient id="g66" class="ga" x2="0" y2="1"><stop offset="0.000" stop-opacity="0.96"/><stop offset="0.228" stop-opacity="0.85"/><stop offset="0.740" stop-opacity="0.85"/><stop offset="1.000" stop-opacity="0.97"/></linearGradient><linearGradient id="g67" class="ga" x2="0" y2="1"><stop offset="0.000" stop-opacity="0.96"/><stop offset="0.224" stop-opacity="0.85"/><stop offset="0.736" stop-opacity="0.85"/><stop offset="1.000" stop-opacity="0.97"/></linearGradient><linearGradient id="g68" class="ga" x2="0" y2="1"><stop offset="0.000" stop-opacity="0.96"/><stop offset="0.220" stop-opacity="0.85"/><stop offset="0.736" stop-opacity="0.85"/><stop offset="1.000" stop-opacity="0.97"/></linearGradient><linearGradient id="g69" class="ga" x2="0" y2="1"><stop offset="0.000" stop-opacity="0.96"/><stop offset="0.220" stop-opacity="0.85"/><stop offset="0.732" stop-opacity="0.85"/><stop offset="1.000" stop-opacity="0.97"/></linearGradient><linearGradient id="g6a" class="ga" x2="0" y2="1"><stop offset="0.000" stop-opacity="0.96"/><stop offset="0.216" stop-opacity="0.85"/><stop offset="0.728" stop-opacity="0.85"/><stop offset="1.000" stop-opacity="0.97"/></linearGradient><linearGradient id="g6b" class="ga" x2="0" y2="1"><stop offset="0.000" stop-opacity="0.96"/><stop offset="0.212" stop-opacity="0.85"/><stop offset="0.724" stop-opacity="0.85"/><stop offset="1.000" stop-opacity="0.97"/></linearGradient><linearGradient id="g6c" class="ga" x2="0" y2="1"><stop offset="0.000" stop-opacity="0.96"/><stop offset="0.208" stop-opacity="0.85"/><stop offset="0.724" stop-opacity="0.85"/><stop offset="1.000" stop-opacity="0.97"/></linearGradient><linearGradient id="g6d" class="ga" x2="0" y2="1"><stop offset="0.000" stop-opacity="0.96"/><stop offset="0.204" stop-opacity="0.85"/><stop offset="0.720" stop-opacity="0.85"/><stop offset="1.000" stop-opacity="0.97"/></linearGradient><linearGradient id="g6e" class="ga" x2="0" y2="1"><stop offset="0.000" stop-opacity="0.96"/><stop offset="0.204" stop-opacity="0.85"/><stop offset="0.716" stop-opacity="0.85"/><stop offset="1.000" stop-opacity="0.97"/></linearGradient><linearGradient id="g6f" class="ga" x2="0" y2="1"><stop offset="0.000" stop-opacity="0.95"/><stop offset="0.200" stop-opacity="0.85"/><stop offset="0.712" stop-opacity="0.85"/><stop offset="0.772" stop-opacity="0.87"/><stop offset="0.916" stop-opacity="0.95"/><stop offset="1.000" stop-opacity="0.97"/></linearGradient><linearGradient id="g70" class="ga" x2="0" y2="1"><stop offset="0.000" stop-opacity="0.95"/><stop offset="0.196" stop-opacity="0.85"/><stop offset="0.712" stop-opacity="0.85"/><stop offset="0.772" stop-opacity="0.87"/><stop offset="0.916" stop-opacity="0.95"/><stop offset="1.000" stop-opacity="0.97"/></linearGradient><linearGradient id="g71" class="ga" x2="0" y2="1"><stop offset="0.000" stop-opacity="0.95"/><stop offset="0.192" stop-opacity="0.85"/><stop offset="0.708" stop-opacity="0.85"/><stop offset="0.768" stop-opacity="0.87"/><stop offset="0.912" stop-opacity="0.95"/><stop offset="1.000" stop-opacity="0.97"/></linearGradient><linearGradient id="g72" class="ga" x2="0" y2="1"><stop offset="0.000" stop-opacity="0.95"/><stop offset="0.192" stop-opacity="0.85"/><stop offset="0.704" stop-opacity="0.85"/><stop offset="0.764" stop-opacity="0.87"/><stop offset="0.912" stop-opacity="0.95"/><stop offset="1.000" stop-opacity="0.97"/></linearGradient><linearGradient id="g73" class="ga" x2="0" y2="1"><stop offset="0.000" stop-opacity="0.95"/><stop offset="0.188" stop-opacity="0.85"/><stop offset="0.700" stop-opacity="0.85"/><stop offset="0.760" stop-opacity="0.87"/><stop offset="0.908" stop-opacity="0.95"/><stop offset="1.000" stop-opacity="0.97"/></linearGradient><linearGradient id="g74" class="ga" x2="0" y2="1"><stop offset="0.000" stop-opacity="0.95"/><stop offset="0.184" stop-opacity="0.85"/><stop offset="0.700" stop-opacity="0.85"/><stop offset="0.760" stop-opacity="0.87"/><stop offset="0.904" stop-opacity="0.95"/><stop offset="1.000" stop-opacity="0.97"/></linearGradient><linearGradient id="g75" class="ga" x2="0" y2="1"><stop offset="0.000" stop-opacity="0.95"/><stop offset="0.180" stop-opacity="0.85"/><stop offset="0.696" stop-opacity="0.85"/><stop offset="0.756" stop-opacity="0.87"/><stop offset="0.904" stop-opacity="0.95"/><stop offset="1.000" stop-opacity="0.97"/></linearGradient><linearGradient id="g76" class="ga" x2="0" y2="1"><stop offset="0.000" stop-opacity="0.94"/><stop offset="0.180" stop-opacity="0.85"/><stop offset="0.692" stop-opacity="0.85"/><stop offset="0.752" stop-opacity="0.87"/><stop offset="0.900" stop-opacity="0.95"/><stop offset="1.000" stop-opacity="0.97"/></linearGradient><linearGradient id="g77" class="ga" x2="0" y2="1"><stop offset="0.000" stop-opacity="0.94"/><stop offset="0.176" stop-opacity="0.85"/><stop offset="0.688" stop-opacity="0.85"/><stop offset="0.748" stop-opacity="0.87"/><stop offset="0.896" stop-opacity="0.95"/><stop offset="1.000" stop-opacity="0.97"/></linearGradient><linearGradient id="g78" class="ga" x2="0" y2="1"><stop offset="0.000" stop-opacity="0.94"/><stop offset="0.172" stop-opacity="0.85"/><stop offset="0.688" stop-opacity="0.85"/><stop offset="0.896" stop-opacity="0.95"/><stop offset="1.000" stop-opacity="0.98"/></linearGradient><linearGradient id="g79" class="ga" x2="0" y2="1"><stop offset="0.000" stop-opacity="0.94"/><stop offset="0.168" stop-opacity="0.85"/><stop offset="0.684" stop-opacity="0.85"/><stop offset="0.744" stop-opacity="0.87"/><stop offset="0.892" stop-opacity="0.95"/><stop offset="1.000" stop-opacity="0.98"/></linearGradient><linearGradient id="g7a" class="ga" x2="0" y2="1"><stop offset="0.000" stop-opacity="0.94"/><stop offset="0.168" stop-opacity="0.85"/><stop offset="0.680" stop-opacity="0.85"/><stop offset="0.740" stop-opacity="0.87"/><stop offset="0.892" stop-opacity="0.95"/><stop offset="1.000" stop-opacity="0.98"/></linearGradient><clipPath id="cs1"><rect x="432.3" y="131.1" width="230.7" height="243.9"/></clipPath><linearGradient id="car2" gradientUnits="userSpaceOnUse" x1="0" y1="43.76" x2="0" y2="68.06" spreadMethod="repeat" gradientTransform="matrix(1 0.29 0 1 0 0)"><stop offset="0.0000" stop-color="#ffffff"/><stop offset="0.0625" stop-color="#f5f5f5"/><stop offset="0.1250" stop-color="#dadada"/><stop offset="0.1875" stop-color="#b0b0b0"/><stop offset="0.2500" stop-color="#808080"/><stop offset="0.3125" stop-color="#4f4f4f"/><stop offset="0.3750" stop-color="#252525"/><stop offset="0.4375" stop-color="#0a0a0a"/><stop offset="0.5000" stop-color="#000000"/><stop offset="0.5625" stop-color="#0a0a0a"/><stop offset="0.6250" stop-color="#252525"/><stop offset="0.6875" stop-color="#4f4f4f"/><stop offset="0.7500" stop-color="#7f7f7f"/><stop offset="0.8125" stop-color="#b0b0b0"/><stop offset="0.8750" stop-color="#dadada"/><stop offset="0.9375" stop-color="#f5f5f5"/><stop offset="1.0000" stop-color="#ffffff"/></linearGradient><linearGradient id="g7b" class="ga" x2="0" y2="1"><stop offset="0.000" stop-opacity="0.97"/><stop offset="0.188" stop-opacity="0.95"/><stop offset="0.372" stop-opacity="0.82"/><stop offset="0.474" stop-opacity="0.80"/><stop offset="0.478" stop-opacity="0.78"/><stop offset="0.580" stop-opacity="0.79"/><stop offset="0.795" stop-opacity="0.94"/><stop offset="1.000" stop-opacity="0.96"/></linearGradient><linearGradient id="g7c" class="ga" x2="0" y2="1"><stop offset="0.000" stop-opacity="0.97"/><stop offset="0.192" stop-opacity="0.95"/><stop offset="0.380" stop-opacity="0.81"/><stop offset="0.478" stop-opacity="0.80"/><stop offset="0.482" stop-opacity="0.78"/><stop offset="0.584" stop-opacity="0.79"/><stop offset="0.799" stop-opacity="0.94"/><stop offset="1.000" stop-opacity="0.96"/></linearGradient><linearGradient id="g7d" class="ga" x2="0" y2="1"><stop offset="0.000" stop-opacity="0.97"/><stop offset="0.196" stop-opacity="0.95"/><stop offset="0.384" stop-opacity="0.82"/><stop offset="0.486" stop-opacity="0.80"/><stop offset="0.490" stop-opacity="0.78"/><stop offset="0.591" stop-opacity="0.79"/><stop offset="0.803" stop-opacity="0.94"/><stop offset="1.000" stop-opacity="0.96"/></linearGradient><linearGradient id="g7e" class="ga" x2="0" y2="1"><stop offset="0.000" stop-opacity="0.97"/><stop offset="0.200" stop-opacity="0.95"/><stop offset="0.388" stop-opacity="0.82"/><stop offset="0.490" stop-opacity="0.80"/><stop offset="0.494" stop-opacity="0.78"/><stop offset="0.595" stop-opacity="0.79"/><stop offset="0.807" stop-opacity="0.94"/><stop offset="1.000" stop-opacity="0.96"/></linearGradient><linearGradient id="g7f" class="ga" x2="0" y2="1"><stop offset="0.000" stop-opacity="0.97"/><stop offset="0.204" stop-opacity="0.95"/><stop offset="0.392" stop-opacity="0.82"/><stop offset="0.494" stop-opacity="0.80"/><stop offset="0.497" stop-opacity="0.78"/><stop offset="0.599" stop-opacity="0.79"/><stop offset="0.811" stop-opacity="0.94"/><stop offset="1.000" stop-opacity="0.96"/></linearGradient><linearGradient id="g80" class="ga" x2="0" y2="1"><stop offset="0.000" stop-opacity="0.97"/><stop offset="0.208" stop-opacity="0.95"/><stop offset="0.400" stop-opacity="0.81"/><stop offset="0.497" stop-opacity="0.80"/><stop offset="0.501" stop-opacity="0.78"/><stop offset="0.603" stop-opacity="0.79"/><stop offset="0.815" stop-opacity="0.94"/><stop offset="1.000" stop-opacity="0.96"/></linearGradient><linearGradient id="g81" class="ga" x2="0" y2="1"><stop offset="0.000" stop-opacity="0.97"/><stop offset="0.212" stop-opacity="0.95"/><stop offset="0.403" stop-opacity="0.82"/><stop offset="0.505" stop-opacity="0.80"/><stop offset="0.509" stop-opacity="0.78"/><stop offset="0.611" stop-opacity="0.79"/><stop offset="0.819" stop-opacity="0.94"/><stop offset="1.000" stop-opacity="0.96"/></linearGradient><linearGradient id="g82" class="ga" x2="0" y2="1"><stop offset="0.000" stop-opacity="0.97"/><stop offset="0.215" stop-opacity="0.95"/><stop offset="0.407" stop-opacity="0.82"/><stop offset="0.509" stop-opacity="0.80"/><stop offset="0.513" stop-opacity="0.78"/><stop offset="0.615" stop-opacity="0.79"/><stop offset="0.823" stop-opacity="0.94"/><stop offset="1.000" stop-opacity="0.96"/></linearGradient><linearGradient id="g83" class="ga" x2="0" y2="1"><stop offset="0.000" stop-opacity="0.97"/><stop offset="0.219" stop-opacity="0.95"/><stop offset="0.411" stop-opacity="0.82"/><stop offset="0.513" stop-opacity="0.80"/><stop offset="0.517" stop-opacity="0.78"/><stop offset="0.619" stop-opacity="0.79"/><stop offset="0.826" stop-opacity="0.94"/><stop offset="1.000" stop-opacity="0.96"/></linearGradient><linearGradient id="g84" class="ga" x2="0" y2="1"><stop offset="0.000" stop-opacity="0.97"/><stop offset="0.223" stop-opacity="0.95"/><stop offset="0.419" stop-opacity="0.81"/><stop offset="0.517" stop-opacity="0.80"/><stop offset="0.521" stop-opacity="0.78"/><stop offset="0.623" stop-opacity="0.79"/><stop offset="0.830" stop-opacity="0.93"/><stop offset="1.000" stop-opacity="0.96"/></linearGradient><linearGradient id="g85" class="ga" x2="0" y2="1"><stop offset="0.000" stop-opacity="0.97"/><stop offset="0.227" stop-opacity="0.95"/><stop offset="0.423" stop-opacity="0.81"/><stop offset="0.525" stop-opacity="0.80"/><stop offset="0.529" stop-opacity="0.78"/><stop offset="0.631" stop-opacity="0.79"/><stop offset="0.834" stop-opacity="0.93"/><stop offset="1.000" stop-opacity="0.96"/></linearGradient><linearGradient id="g86" class="ga" x2="0" y2="1"><stop offset="0.000" stop-opacity="0.97"/><stop offset="0.231" stop-opacity="0.95"/><stop offset="0.427" stop-opacity="0.82"/><stop offset="0.529" stop-opacity="0.80"/><stop offset="0.533" stop-opacity="0.78"/><stop offset="0.635" stop-opacity="0.79"/><stop offset="0.838" stop-opacity="0.93"/><stop offset="1.000" stop-opacity="0.96"/></linearGradient><linearGradient id="g87" class="ga" x2="0" y2="1"><stop offset="0.000" stop-opacity="0.97"/><stop offset="0.235" stop-opacity="0.95"/><stop offset="0.431" stop-opacity="0.82"/><stop offset="0.533" stop-opacity="0.80"/><stop offset="0.537" stop-opacity="0.78"/><stop offset="0.638" stop-opacity="0.79"/><stop offset="0.846" stop-opacity="0.94"/><stop offset="1.000" stop-opacity="0.96"/></linearGradient><linearGradient id="g88" class="ga" x2="0" y2="1"><stop offset="0.000" stop-opacity="0.97"/><stop offset="0.239" stop-opacity="0.95"/><stop offset="0.439" stop-opacity="0.81"/><stop offset="0.537" stop-opacity="0.80"/><stop offset="0.541" stop-opacity="0.78"/><stop offset="0.642" stop-opacity="0.79"/><stop offset="0.850" stop-opacity="0.93"/><stop offset="1.000" stop-opacity="0.96"/></linearGradient><linearGradient id="g89" class="ga" x2="0" y2="1"><stop offset="0.000" stop-opacity="0.97"/><stop offset="0.247" stop-opacity="0.95"/><stop offset="0.443" stop-opacity="0.81"/><stop offset="0.541" stop-opacity="0.80"/><stop offset="0.544" stop-opacity="0.78"/><stop offset="0.650" stop-opacity="0.79"/><stop offset="0.854" stop-opacity="0.93"/><stop offset="1.000" stop-opacity="0.96"/></linearGradient><linearGradient id="g8a" class="ga" x2="0" y2="1"><stop offset="0.000" stop-opacity="0.97"/><stop offset="0.251" stop-opacity="0.95"/><stop offset="0.447" stop-opacity="0.82"/><stop offset="0.548" stop-opacity="0.80"/><stop offset="0.552" stop-opacity="0.78"/><stop offset="0.654" stop-opacity="0.79"/><stop offset="0.858" stop-opacity="0.93"/><stop offset="1.000" stop-opacity="0.96"/></linearGradient><linearGradient id="g8b" class="ga" x2="0" y2="1"><stop offset="0.000" stop-opacity="0.97"/><stop offset="0.255" stop-opacity="0.95"/><stop offset="0.450" stop-opacity="0.82"/><stop offset="0.552" stop-opacity="0.80"/><stop offset="0.556" stop-opacity="0.78"/><stop offset="0.658" stop-opacity="0.79"/><stop offset="0.862" stop-opacity="0.93"/><stop offset="1.000" stop-opacity="0.96"/></linearGradient><linearGradient id="g8c" class="ga" x2="0" y2="1"><stop offset="0.000" stop-opacity="0.97"/><stop offset="0.259" stop-opacity="0.95"/><stop offset="0.458" stop-opacity="0.81"/><stop offset="0.556" stop-opacity="0.80"/><stop offset="0.560" stop-opacity="0.78"/><stop offset="0.654" stop-opacity="0.78"/><stop offset="0.846" stop-opacity="0.92"/><stop offset="1.000" stop-opacity="0.96"/></linearGradient><linearGradient id="g8d" class="ga" x2="0" y2="1"><stop offset="0.000" stop-opacity="0.97"/><stop offset="0.262" stop-opacity="0.95"/><stop offset="0.462" stop-opacity="0.81"/><stop offset="0.560" stop-opacity="0.80"/><stop offset="0.564" stop-opacity="0.78"/><stop offset="0.658" stop-opacity="0.78"/><stop offset="0.850" stop-opacity="0.92"/><stop offset="1.000" stop-opacity="0.96"/></linearGradient><linearGradient id="g8e" class="ga" x2="0" y2="1"><stop offset="0.000" stop-opacity="0.97"/><stop offset="0.266" stop-opacity="0.95"/><stop offset="0.466" stop-opacity="0.82"/><stop offset="0.568" stop-opacity="0.80"/><stop offset="0.572" stop-opacity="0.78"/><stop offset="0.666" stop-opacity="0.78"/><stop offset="0.854" stop-opacity="0.92"/><stop offset="1.000" stop-opacity="0.96"/></linearGradient><linearGradient id="g8f" class="ga" x2="0" y2="1"><stop offset="0.000" stop-opacity="0.97"/><stop offset="0.270" stop-opacity="0.95"/><stop offset="0.470" stop-opacity="0.82"/><stop offset="0.572" stop-opacity="0.80"/><stop offset="0.576" stop-opacity="0.78"/><stop offset="0.670" stop-opacity="0.78"/><stop offset="0.858" stop-opacity="0.92"/><stop offset="1.000" stop-opacity="0.96"/></linearGradient><linearGradient id="g90" class="ga" x2="0" y2="1"><stop offset="0.000" stop-opacity="0.97"/><stop offset="0.274" stop-opacity="0.95"/><stop offset="0.478" stop-opacity="0.81"/><stop offset="0.576" stop-opacity="0.80"/><stop offset="0.580" stop-opacity="0.78"/><stop offset="0.674" stop-opacity="0.78"/><stop offset="0.862" stop-opacity="0.92"/><stop offset="1.000" stop-opacity="0.96"/></linearGradient><linearGradient id="g91" class="ga" x2="0" y2="1"><stop offset="0.000" stop-opacity="0.97"/><stop offset="0.278" stop-opacity="0.95"/><stop offset="0.482" stop-opacity="0.81"/><stop offset="0.580" stop-opacity="0.80"/><stop offset="0.584" stop-opacity="0.78"/><stop offset="0.682" stop-opacity="0.79"/><stop offset="0.866" stop-opacity="0.92"/><stop offset="1.000" stop-opacity="0.96"/></linearGradient><linearGradient id="g92" class="ga" x2="0" y2="1"><stop offset="0.000" stop-opacity="0.97"/><stop offset="0.282" stop-opacity="0.95"/><stop offset="0.349" stop-opacity="0.92"/><stop offset="0.486" stop-opacity="0.82"/><stop offset="0.588" stop-opacity="0.80"/><stop offset="0.591" stop-opacity="0.78"/><stop offset="0.685" stop-opacity="0.78"/><stop offset="0.870" stop-opacity="0.92"/><stop offset="1.000" stop-opacity="0.96"/></linearGradient><linearGradient id="g93" class="ga" x2="0" y2="1"><stop offset="0.000" stop-opacity="0.97"/><stop offset="0.286" stop-opacity="0.95"/><stop offset="0.356" stop-opacity="0.92"/><stop offset="0.490" stop-opacity="0.82"/><stop offset="0.591" stop-opacity="0.80"/><stop offset="0.595" stop-opacity="0.78"/><stop offset="0.689" stop-opacity="0.78"/><stop offset="0.873" stop-opacity="0.92"/><stop offset="1.000" stop-opacity="0.96"/></linearGradient><linearGradient id="g94" class="ga" x2="0" y2="1"><stop offset="0.000" stop-opacity="0.97"/><stop offset="0.290" stop-opacity="0.95"/><stop offset="0.360" stop-opacity="0.92"/><stop offset="0.497" stop-opacity="0.81"/><stop offset="0.595" stop-opacity="0.80"/><stop offset="0.599" stop-opacity="0.78"/><stop offset="0.697" stop-opacity="0.79"/><stop offset="0.877" stop-opacity="0.92"/><stop offset="1.000" stop-opacity="0.96"/></linearGradient><linearGradient id="g95" class="ga" x2="0" y2="1"><stop offset="0.000" stop-opacity="0.97"/><stop offset="0.298" stop-opacity="0.95"/><stop offset="0.501" stop-opacity="0.81"/><stop offset="0.599" stop-opacity="0.80"/><stop offset="0.603" stop-opacity="0.78"/><stop offset="0.701" stop-opacity="0.79"/><stop offset="0.881" stop-opacity="0.92"/><stop offset="1.000" stop-opacity="0.96"/></linearGradient><linearGradient id="g96" class="ga" x2="0" y2="1"><stop offset="0.000" stop-opacity="0.97"/><stop offset="0.302" stop-opacity="0.95"/><stop offset="0.368" stop-opacity="0.92"/><stop offset="0.505" stop-opacity="0.82"/><stop offset="0.607" stop-opacity="0.80"/><stop offset="0.611" stop-opacity="0.78"/><stop offset="0.705" stop-opacity="0.78"/><stop offset="0.885" stop-opacity="0.92"/><stop offset="1.000" stop-opacity="0.95"/></linearGradient><linearGradient id="g97" class="ga" x2="0" y2="1"><stop offset="0.000" stop-opacity="0.97"/><stop offset="0.306" stop-opacity="0.95"/><stop offset="0.372" stop-opacity="0.92"/><stop offset="0.509" stop-opacity="0.82"/><stop offset="0.611" stop-opacity="0.80"/><stop offset="0.615" stop-opacity="0.78"/><stop offset="0.713" stop-opacity="0.79"/><stop offset="0.889" stop-opacity="0.92"/><stop offset="1.000" stop-opacity="0.95"/></linearGradient><linearGradient id="g98" class="ga" x2="0" y2="1"><stop offset="0.000" stop-opacity="0.97"/><stop offset="0.309" stop-opacity="0.95"/><stop offset="0.376" stop-opacity="0.92"/><stop offset="0.517" stop-opacity="0.81"/><stop offset="0.615" stop-opacity="0.80"/><stop offset="0.619" stop-opacity="0.78"/><stop offset="0.717" stop-opacity="0.79"/><stop offset="0.889" stop-opacity="0.92"/><stop offset="1.000" stop-opacity="0.95"/></linearGradient><linearGradient id="g99" class="ga" x2="0" y2="1"><stop offset="0.000" stop-opacity="0.97"/><stop offset="0.313" stop-opacity="0.95"/><stop offset="0.384" stop-opacity="0.92"/><stop offset="0.521" stop-opacity="0.81"/><stop offset="0.619" stop-opacity="0.80"/><stop offset="0.623" stop-opacity="0.78"/><stop offset="0.721" stop-opacity="0.79"/><stop offset="0.893" stop-opacity="0.92"/><stop offset="1.000" stop-opacity="0.95"/></linearGradient><linearGradient id="g9a" class="ga" x2="0" y2="1"><stop offset="0.000" stop-opacity="0.97"/><stop offset="0.317" stop-opacity="0.95"/><stop offset="0.388" stop-opacity="0.92"/><stop offset="0.525" stop-opacity="0.82"/><stop offset="0.627" stop-opacity="0.80"/><stop offset="0.631" stop-opacity="0.78"/><stop offset="0.729" stop-opacity="0.79"/><stop offset="0.897" stop-opacity="0.91"/><stop offset="1.000" stop-opacity="0.95"/></linearGradient><linearGradient id="g9b" class="ga" x2="0" y2="1"><stop offset="0.000" stop-opacity="0.97"/><stop offset="0.321" stop-opacity="0.96"/><stop offset="0.392" stop-opacity="0.92"/><stop offset="0.529" stop-opacity="0.82"/><stop offset="0.631" stop-opacity="0.80"/><stop offset="0.635" stop-opacity="0.78"/><stop offset="0.732" stop-opacity="0.79"/><stop offset="0.901" stop-opacity="0.91"/><stop offset="1.000" stop-opacity="0.95"/></linearGradient><linearGradient id="g9c" class="ga" x2="0" y2="1"><stop offset="0.000" stop-opacity="0.97"/><stop offset="0.325" stop-opacity="0.96"/><stop offset="0.396" stop-opacity="0.92"/><stop offset="0.537" stop-opacity="0.81"/><stop offset="0.635" stop-opacity="0.80"/><stop offset="0.638" stop-opacity="0.78"/><stop offset="0.736" stop-opacity="0.79"/><stop offset="0.905" stop-opacity="0.91"/><stop offset="1.000" stop-opacity="0.95"/></linearGradient><linearGradient id="g9d" class="ga" x2="0" y2="1"><stop offset="0.000" stop-opacity="0.97"/><stop offset="0.329" stop-opacity="0.96"/><stop offset="0.400" stop-opacity="0.92"/><stop offset="0.541" stop-opacity="0.81"/><stop offset="0.638" stop-opacity="0.80"/><stop offset="0.642" stop-opacity="0.78"/><stop offset="0.744" stop-opacity="0.79"/><stop offset="0.909" stop-opacity="0.91"/><stop offset="1.000" stop-opacity="0.95"/></linearGradient><linearGradient id="g9e" class="ga" x2="0" y2="1"><stop offset="0.000" stop-opacity="0.97"/><stop offset="0.333" stop-opacity="0.96"/><stop offset="0.407" stop-opacity="0.92"/><stop offset="0.544" stop-opacity="0.81"/><stop offset="0.646" stop-opacity="0.80"/><stop offset="0.650" stop-opacity="0.78"/><stop offset="0.748" stop-opacity="0.79"/><stop offset="0.913" stop-opacity="0.91"/><stop offset="1.000" stop-opacity="0.95"/></linearGradient><linearGradient id="g9f" class="ga" x2="0" y2="1"><stop offset="0.000" stop-opacity="0.97"/><stop offset="0.337" stop-opacity="0.96"/><stop offset="0.411" stop-opacity="0.92"/><stop offset="0.548" stop-opacity="0.82"/><stop offset="0.650" stop-opacity="0.80"/><stop offset="0.654" stop-opacity="0.78"/><stop offset="0.752" stop-opacity="0.79"/><stop offset="0.917" stop-opacity="0.91"/><stop offset="1.000" stop-opacity="0.95"/></linearGradient><linearGradient id="ga0" class="ga" x2="0" y2="1"><stop offset="0.000" stop-opacity="0.97"/><stop offset="0.345" stop-opacity="0.96"/><stop offset="0.415" stop-opacity="0.92"/><stop offset="0.556" stop-opacity="0.81"/><stop offset="0.654" stop-opacity="0.80"/><stop offset="0.658" stop-opacity="0.78"/><stop offset="0.760" stop-opacity="0.79"/><stop offset="0.920" stop-opacity="0.91"/><stop offset="1.000" stop-opacity="0.95"/></linearGradient><linearGradient id="ga1" class="ga" x2="0" y2="1"><stop offset="0.000" stop-opacity="0.97"/><stop offset="0.349" stop-opacity="0.96"/><stop offset="0.419" stop-opacity="0.92"/><stop offset="0.560" stop-opacity="0.81"/><stop offset="0.658" stop-opacity="0.80"/><stop offset="0.662" stop-opacity="0.78"/><stop offset="0.764" stop-opacity="0.79"/><stop offset="0.920" stop-opacity="0.91"/><stop offset="1.000" stop-opacity="0.94"/></linearGradient><linearGradient id="ga2" class="ga" x2="0" y2="1"><stop offset="0.000" stop-opacity="0.97"/><stop offset="0.353" stop-opacity="0.96"/><stop offset="0.423" stop-opacity="0.92"/><stop offset="0.564" stop-opacity="0.81"/><stop offset="0.662" stop-opacity="0.80"/><stop offset="0.666" stop-opacity="0.78"/><stop offset="0.768" stop-opacity="0.79"/><stop offset="0.924" stop-opacity="0.91"/><stop offset="1.000" stop-opacity="0.94"/></linearGradient><linearGradient id="ga3" class="ga" x2="0" y2="1"><stop offset="0.000" stop-opacity="0.97"/><stop offset="0.356" stop-opacity="0.96"/><stop offset="0.431" stop-opacity="0.92"/><stop offset="0.568" stop-opacity="0.82"/><stop offset="0.670" stop-opacity="0.80"/><stop offset="0.674" stop-opacity="0.78"/><stop offset="0.776" stop-opacity="0.79"/><stop offset="0.928" stop-opacity="0.91"/><stop offset="1.000" stop-opacity="0.94"/></linearGradient><linearGradient id="ga4" class="ga" x2="0" y2="1"><stop offset="0.000" stop-opacity="0.97"/><stop offset="0.360" stop-opacity="0.96"/><stop offset="0.435" stop-opacity="0.92"/><stop offset="0.576" stop-opacity="0.81"/><stop offset="0.674" stop-opacity="0.80"/><stop offset="0.678" stop-opacity="0.78"/><stop offset="0.779" stop-opacity="0.79"/><stop offset="0.932" stop-opacity="0.91"/><stop offset="1.000" stop-opacity="0.94"/></linearGradient><linearGradient id="ga5" class="ga" x2="0" y2="1"><stop offset="0.000" stop-opacity="0.97"/><stop offset="0.364" stop-opacity="0.96"/><stop offset="0.439" stop-opacity="0.92"/><stop offset="0.580" stop-opacity="0.81"/><stop offset="0.678" stop-opacity="0.80"/><stop offset="0.682" stop-opacity="0.78"/><stop offset="0.783" stop-opacity="0.79"/><stop offset="1.000" stop-opacity="0.94"/></linearGradient><linearGradient id="ga6" class="ga" x2="0" y2="1"><stop offset="0.000" stop-opacity="0.97"/><stop offset="0.368" stop-opacity="0.96"/><stop offset="0.443" stop-opacity="0.92"/><stop offset="0.584" stop-opacity="0.81"/><stop offset="0.682" stop-opacity="0.80"/><stop offset="0.685" stop-opacity="0.78"/><stop offset="0.787" stop-opacity="0.79"/><stop offset="1.000" stop-opacity="0.94"/></linearGradient><linearGradient id="ga7" class="ga" x2="0" y2="1"><stop offset="0.000" stop-opacity="0.97"/><stop offset="0.372" stop-opacity="0.96"/><stop offset="0.447" stop-opacity="0.92"/><stop offset="0.588" stop-opacity="0.82"/><stop offset="0.689" stop-opacity="0.80"/><stop offset="0.693" stop-opacity="0.78"/><stop offset="0.795" stop-opacity="0.79"/><stop offset="1.000" stop-opacity="0.93"/></linearGradient><linearGradient id="ga8" class="ga" x2="0" y2="1"><stop offset="0.000" stop-opacity="0.97"/><stop offset="0.380" stop-opacity="0.96"/><stop offset="0.454" stop-opacity="0.92"/><stop offset="0.595" stop-opacity="0.81"/><stop offset="0.693" stop-opacity="0.80"/><stop offset="0.697" stop-opacity="0.78"/><stop offset="0.799" stop-opacity="0.79"/><stop offset="1.000" stop-opacity="0.93"/></linearGradient><linearGradient id="ga9" class="ga" x2="0" y2="1"><stop offset="0.000" stop-opacity="0.97"/><stop offset="0.384" stop-opacity="0.96"/><stop offset="0.458" stop-opacity="0.92"/><stop offset="0.599" stop-opacity="0.81"/><stop offset="0.697" stop-opacity="0.80"/><stop offset="0.701" stop-opacity="0.78"/><stop offset="0.803" stop-opacity="0.79"/><stop offset="1.000" stop-opacity="0.93"/></linearGradient><linearGradient id="gaa" class="ga" x2="0" y2="1"><stop offset="0.000" stop-opacity="0.97"/><stop offset="0.388" stop-opacity="0.96"/><stop offset="0.462" stop-opacity="0.92"/><stop offset="0.603" stop-opacity="0.81"/><stop offset="0.701" stop-opacity="0.80"/><stop offset="0.705" stop-opacity="0.78"/><stop offset="0.811" stop-opacity="0.79"/><stop offset="1.000" stop-opacity="0.93"/></linearGradient><linearGradient id="gab" class="ga" x2="0" y2="1"><stop offset="0.000" stop-opacity="0.97"/><stop offset="0.392" stop-opacity="0.96"/><stop offset="0.466" stop-opacity="0.92"/><stop offset="0.607" stop-opacity="0.82"/><stop offset="0.709" stop-opacity="0.80"/><stop offset="0.713" stop-opacity="0.78"/><stop offset="0.815" stop-opacity="0.79"/><stop offset="1.000" stop-opacity="0.93"/></linearGradient><linearGradient id="gac" class="ga" x2="0" y2="1"><stop offset="0.000" stop-opacity="0.97"/><stop offset="0.396" stop-opacity="0.96"/><stop offset="0.470" stop-opacity="0.92"/><stop offset="0.615" stop-opacity="0.81"/><stop offset="0.713" stop-opacity="0.80"/><stop offset="0.717" stop-opacity="0.78"/><stop offset="0.819" stop-opacity="0.79"/><stop offset="1.000" stop-opacity="0.92"/></linearGradient><linearGradient id="gad" class="ga" x2="0" y2="1"><stop offset="0.000" stop-opacity="0.97"/><stop offset="0.400" stop-opacity="0.96"/><stop offset="0.478" stop-opacity="0.92"/><stop offset="0.619" stop-opacity="0.81"/><stop offset="0.717" stop-opacity="0.80"/><stop offset="0.721" stop-opacity="0.78"/><stop offset="0.823" stop-opacity="0.79"/><stop offset="1.000" stop-opacity="0.92"/></linearGradient><linearGradient id="gae" class="ga" x2="0" y2="1"><stop offset="0.000" stop-opacity="0.97"/><stop offset="0.403" stop-opacity="0.96"/><stop offset="0.482" stop-opacity="0.92"/><stop offset="0.623" stop-opacity="0.81"/><stop offset="0.721" stop-opacity="0.80"/><stop offset="0.725" stop-opacity="0.78"/><stop offset="0.830" stop-opacity="0.79"/><stop offset="1.000" stop-opacity="0.92"/></linearGradient><linearGradient id="gaf" class="ga" x2="0" y2="1"><stop offset="0.000" stop-opacity="0.97"/><stop offset="0.407" stop-opacity="0.96"/><stop offset="0.486" stop-opacity="0.92"/><stop offset="0.627" stop-opacity="0.82"/><stop offset="0.729" stop-opacity="0.80"/><stop offset="0.732" stop-opacity="0.78"/><stop offset="0.834" stop-opacity="0.79"/><stop offset="1.000" stop-opacity="0.92"/></linearGradient><linearGradient id="gb0" class="ga" x2="0" y2="1"><stop offset="0.000" stop-opacity="0.97"/><stop offset="0.411" stop-opacity="0.96"/><stop offset="0.490" stop-opacity="0.92"/><stop offset="0.635" stop-opacity="0.81"/><stop offset="0.732" stop-opacity="0.80"/><stop offset="0.736" stop-opacity="0.78"/><stop offset="0.838" stop-opacity="0.79"/><stop offset="1.000" stop-opacity="0.91"/></linearGradient><linearGradient id="gb1" class="ga" x2="0" y2="1"><stop offset="0.000" stop-opacity="0.97"/><stop offset="0.419" stop-opacity="0.96"/><stop offset="0.494" stop-opacity="0.92"/><stop offset="0.638" stop-opacity="0.81"/><stop offset="0.736" stop-opacity="0.80"/><stop offset="0.740" stop-opacity="0.78"/><stop offset="0.842" stop-opacity="0.79"/><stop offset="1.000" stop-opacity="0.91"/></linearGradient><linearGradient id="gb2" class="ga" x2="0" y2="1"><stop offset="0.000" stop-opacity="0.97"/><stop offset="0.423" stop-opacity="0.96"/><stop offset="0.501" stop-opacity="0.92"/><stop offset="0.642" stop-opacity="0.81"/><stop offset="0.740" stop-opacity="0.80"/><stop offset="0.744" stop-opacity="0.78"/><stop offset="0.846" stop-opacity="0.79"/><stop offset="1.000" stop-opacity="0.91"/></linearGradient><linearGradient id="gb3" class="ga" x2="0" y2="1"><stop offset="0.000" stop-opacity="0.97"/><stop offset="0.427" stop-opacity="0.96"/><stop offset="0.505" stop-opacity="0.92"/><stop offset="0.646" stop-opacity="0.82"/><stop offset="0.748" stop-opacity="0.80"/><stop offset="0.752" stop-opacity="0.78"/><stop offset="0.854" stop-opacity="0.79"/><stop offset="1.000" stop-opacity="0.90"/></linearGradient><linearGradient id="gb4" class="ga" x2="0" y2="1"><stop offset="0.000" stop-opacity="0.97"/><stop offset="0.431" stop-opacity="0.96"/><stop offset="0.509" stop-opacity="0.92"/><stop offset="0.654" stop-opacity="0.81"/><stop offset="0.752" stop-opacity="0.80"/><stop offset="0.756" stop-opacity="0.78"/><stop offset="0.858" stop-opacity="0.79"/><stop offset="1.000" stop-opacity="0.90"/></linearGradient><linearGradient id="gb5" class="ga" x2="0" y2="1"><stop offset="0.000" stop-opacity="0.97"/><stop offset="0.435" stop-opacity="0.96"/><stop offset="0.513" stop-opacity="0.92"/><stop offset="0.658" stop-opacity="0.81"/><stop offset="0.756" stop-opacity="0.80"/><stop offset="0.760" stop-opacity="0.78"/><stop offset="0.862" stop-opacity="0.79"/><stop offset="1.000" stop-opacity="0.89"/></linearGradient><linearGradient id="gb6" class="ga" x2="0" y2="1"><stop offset="0.000" stop-opacity="0.97"/><stop offset="0.439" stop-opacity="0.96"/><stop offset="0.517" stop-opacity="0.92"/><stop offset="0.662" stop-opacity="0.81"/><stop offset="0.760" stop-opacity="0.80"/><stop offset="0.764" stop-opacity="0.78"/><stop offset="0.866" stop-opacity="0.79"/><stop offset="1.000" stop-opacity="0.89"/></linearGradient><linearGradient id="gb7" class="ga" x2="0" y2="1"><stop offset="0.000" stop-opacity="0.97"/><stop offset="0.396" stop-opacity="0.97"/><stop offset="0.474" stop-opacity="0.95"/><stop offset="0.537" stop-opacity="0.91"/><stop offset="0.584" stop-opacity="0.86"/><stop offset="0.619" stop-opacity="0.79"/><stop offset="0.650" stop-opacity="0.69"/><stop offset="0.725" stop-opacity="0.41"/><stop offset="0.748" stop-opacity="0.36"/><stop offset="0.768" stop-opacity="0.36"/><stop offset="0.772" stop-opacity="0.33"/><stop offset="0.803" stop-opacity="0.40"/><stop offset="0.870" stop-opacity="0.65"/><stop offset="0.905" stop-opacity="0.75"/><stop offset="0.948" stop-opacity="0.83"/><stop offset="1.000" stop-opacity="0.89"/></linearGradient><linearGradient id="gb8" class="ga" x2="0" y2="1"><stop offset="0.000" stop-opacity="0.97"/><stop offset="0.403" stop-opacity="0.97"/><stop offset="0.482" stop-opacity="0.95"/><stop offset="0.544" stop-opacity="0.91"/><stop offset="0.584" stop-opacity="0.86"/><stop offset="0.619" stop-opacity="0.78"/><stop offset="0.654" stop-opacity="0.65"/><stop offset="0.725" stop-opacity="0.31"/><stop offset="0.744" stop-opacity="0.26"/><stop offset="0.772" stop-opacity="0.25"/><stop offset="0.776" stop-opacity="0.23"/><stop offset="0.803" stop-opacity="0.31"/><stop offset="0.866" stop-opacity="0.60"/><stop offset="0.901" stop-opacity="0.72"/><stop offset="0.944" stop-opacity="0.82"/><stop offset="1.000" stop-opacity="0.88"/></linearGradient><clipPath id="cs2"><rect x="712.2" y="130.7" width="239.8" height="249.3"/></clipPath><linearGradient id="car3_0" gradientUnits="userSpaceOnUse" x1="0" y1="543.11" x2="0" y2="567.31" spreadMethod="repeat" gradientTransform="matrix(1 -0.22 0 1 0 0)"><stop offset="0.0000" stop-color="#ffffff"/><stop offset="0.0625" stop-color="#f5f5f5"/><stop offset="0.1250" stop-color="#dadada"/><stop offset="0.1875" stop-color="#b0b0b0"/><stop offset="0.2500" stop-color="#808080"/><stop offset="0.3125" stop-color="#4f4f4f"/><stop offset="0.3750" stop-color="#252525"/><stop offset="0.4375" stop-color="#0a0a0a"/><stop offset="0.5000" stop-color="#000000"/><stop offset="0.5625" stop-color="#0a0a0a"/><stop offset="0.6250" stop-color="#252525"/><stop offset="0.6875" stop-color="#4f4f4f"/><stop offset="0.7500" stop-color="#7f7f7f"/><stop offset="0.8125" stop-color="#b0b0b0"/><stop offset="0.8750" stop-color="#dadada"/><stop offset="0.9375" stop-color="#f5f5f5"/><stop offset="1.0000" stop-color="#ffffff"/></linearGradient><linearGradient id="car3_1" gradientUnits="userSpaceOnUse" x1="0" y1="539.61" x2="0" y2="563.81" spreadMethod="repeat" gradientTransform="matrix(1 -0.22 0 1 0 0)"><stop offset="0.0000" stop-color="#ffffff"/><stop offset="0.0625" stop-color="#f5f5f5"/><stop offset="0.1250" stop-color="#dadada"/><stop offset="0.1875" stop-color="#b0b0b0"/><stop offset="0.2500" stop-color="#808080"/><stop offset="0.3125" stop-color="#4f4f4f"/><stop offset="0.3750" stop-color="#252525"/><stop offset="0.4375" stop-color="#0a0a0a"/><stop offset="0.5000" stop-color="#000000"/><stop offset="0.5625" stop-color="#0a0a0a"/><stop offset="0.6250" stop-color="#252525"/><stop offset="0.6875" stop-color="#4f4f4f"/><stop offset="0.7500" stop-color="#7f7f7f"/><stop offset="0.8125" stop-color="#b0b0b0"/><stop offset="0.8750" stop-color="#dadada"/><stop offset="0.9375" stop-color="#f5f5f5"/><stop offset="1.0000" stop-color="#ffffff"/></linearGradient><linearGradient id="car3_2" gradientUnits="userSpaceOnUse" x1="0" y1="536.11" x2="0" y2="560.31" spreadMethod="repeat" gradientTransform="matrix(1 -0.22 0 1 0 0)"><stop offset="0.0000" stop-color="#ffffff"/><stop offset="0.0625" stop-color="#f5f5f5"/><stop offset="0.1250" stop-color="#dadada"/><stop offset="0.1875" stop-color="#b0b0b0"/><stop offset="0.2500" stop-color="#808080"/><stop offset="0.3125" stop-color="#4f4f4f"/><stop offset="0.3750" stop-color="#252525"/><stop offset="0.4375" stop-color="#0a0a0a"/><stop offset="0.5000" stop-color="#000000"/><stop offset="0.5625" stop-color="#0a0a0a"/><stop offset="0.6250" stop-color="#252525"/><stop offset="0.6875" stop-color="#4f4f4f"/><stop offset="0.7500" stop-color="#7f7f7f"/><stop offset="0.8125" stop-color="#b0b0b0"/><stop offset="0.8750" stop-color="#dadada"/><stop offset="0.9375" stop-color="#f5f5f5"/><stop offset="1.0000" stop-color="#ffffff"/></linearGradient><linearGradient id="car3_3" gradientUnits="userSpaceOnUse" x1="0" y1="532.61" x2="0" y2="556.81" spreadMethod="repeat" gradientTransform="matrix(1 -0.22 0 1 0 0)"><stop offset="0.0000" stop-color="#ffffff"/><stop offset="0.0625" stop-color="#f5f5f5"/><stop offset="0.1250" stop-color="#dadada"/><stop offset="0.1875" stop-color="#b0b0b0"/><stop offset="0.2500" stop-color="#808080"/><stop offset="0.3125" stop-color="#4f4f4f"/><stop offset="0.3750" stop-color="#252525"/><stop offset="0.4375" stop-color="#0a0a0a"/><stop offset="0.5000" stop-color="#000000"/><stop offset="0.5625" stop-color="#0a0a0a"/><stop offset="0.6250" stop-color="#252525"/><stop offset="0.6875" stop-color="#4f4f4f"/><stop offset="0.7500" stop-color="#7f7f7f"/><stop offset="0.8125" stop-color="#b0b0b0"/><stop offset="0.8750" stop-color="#dadada"/><stop offset="0.9375" stop-color="#f5f5f5"/><stop offset="1.0000" stop-color="#ffffff"/></linearGradient><linearGradient id="car3_4" gradientUnits="userSpaceOnUse" x1="0" y1="529.11" x2="0" y2="553.31" spreadMethod="repeat" gradientTransform="matrix(1 -0.22 0 1 0 0)"><stop offset="0.0000" stop-color="#ffffff"/><stop offset="0.0625" stop-color="#f5f5f5"/><stop offset="0.1250" stop-color="#dadada"/><stop offset="0.1875" stop-color="#b0b0b0"/><stop offset="0.2500" stop-color="#808080"/><stop offset="0.3125" stop-color="#4f4f4f"/><stop offset="0.3750" stop-color="#252525"/><stop offset="0.4375" stop-color="#0a0a0a"/><stop offset="0.5000" stop-color="#000000"/><stop offset="0.5625" stop-color="#0a0a0a"/><stop offset="0.6250" stop-color="#252525"/><stop offset="0.6875" stop-color="#4f4f4f"/><stop offset="0.7500" stop-color="#7f7f7f"/><stop offset="0.8125" stop-color="#b0b0b0"/><stop offset="0.8750" stop-color="#dadada"/><stop offset="0.9375" stop-color="#f5f5f5"/><stop offset="1.0000" stop-color="#ffffff"/></linearGradient><linearGradient id="car3_5" gradientUnits="userSpaceOnUse" x1="0" y1="525.61" x2="0" y2="549.81" spreadMethod="repeat" gradientTransform="matrix(1 -0.22 0 1 0 0)"><stop offset="0.0000" stop-color="#ffffff"/><stop offset="0.0625" stop-color="#f5f5f5"/><stop offset="0.1250" stop-color="#dadada"/><stop offset="0.1875" stop-color="#b0b0b0"/><stop offset="0.2500" stop-color="#808080"/><stop offset="0.3125" stop-color="#4f4f4f"/><stop offset="0.3750" stop-color="#252525"/><stop offset="0.4375" stop-color="#0a0a0a"/><stop offset="0.5000" stop-color="#000000"/><stop offset="0.5625" stop-color="#0a0a0a"/><stop offset="0.6250" stop-color="#252525"/><stop offset="0.6875" stop-color="#4f4f4f"/><stop offset="0.7500" stop-color="#7f7f7f"/><stop offset="0.8125" stop-color="#b0b0b0"/><stop offset="0.8750" stop-color="#dadada"/><stop offset="0.9375" stop-color="#f5f5f5"/><stop offset="1.0000" stop-color="#ffffff"/></linearGradient><linearGradient id="car3_6" gradientUnits="userSpaceOnUse" x1="0" y1="522.11" x2="0" y2="546.31" spreadMethod="repeat" gradientTransform="matrix(1 -0.22 0 1 0 0)"><stop offset="0.0000" stop-color="#ffffff"/><stop offset="0.0625" stop-color="#f5f5f5"/><stop offset="0.1250" stop-color="#dadada"/><stop offset="0.1875" stop-color="#b0b0b0"/><stop offset="0.2500" stop-color="#808080"/><stop offset="0.3125" stop-color="#4f4f4f"/><stop offset="0.3750" stop-color="#252525"/><stop offset="0.4375" stop-color="#0a0a0a"/><stop offset="0.5000" stop-color="#000000"/><stop offset="0.5625" stop-color="#0a0a0a"/><stop offset="0.6250" stop-color="#252525"/><stop offset="0.6875" stop-color="#4f4f4f"/><stop offset="0.7500" stop-color="#7f7f7f"/><stop offset="0.8125" stop-color="#b0b0b0"/><stop offset="0.8750" stop-color="#dadada"/><stop offset="0.9375" stop-color="#f5f5f5"/><stop offset="1.0000" stop-color="#ffffff"/></linearGradient><linearGradient id="gb9" class="ga" x2="0" y2="1"><stop offset="0.000" stop-opacity="0.96"/><stop offset="0.570" stop-opacity="0.87"/><stop offset="0.609" stop-opacity="0.76"/><stop offset="0.695" stop-opacity="0.42"/><stop offset="0.718" stop-opacity="0.36"/><stop offset="0.742" stop-opacity="0.33"/><stop offset="0.765" stop-opacity="0.35"/><stop offset="0.788" stop-opacity="0.41"/><stop offset="0.874" stop-opacity="0.75"/><stop offset="0.913" stop-opacity="0.87"/><stop offset="1.000" stop-opacity="0.91"/></linearGradient><linearGradient id="gba" class="ga" x2="0" y2="1"><stop offset="0.000" stop-opacity="0.96"/><stop offset="0.566" stop-opacity="0.87"/><stop offset="0.605" stop-opacity="0.76"/><stop offset="0.691" stop-opacity="0.41"/><stop offset="0.714" stop-opacity="0.36"/><stop offset="0.738" stop-opacity="0.33"/><stop offset="0.761" stop-opacity="0.35"/><stop offset="0.785" stop-opacity="0.41"/><stop offset="0.870" stop-opacity="0.75"/><stop offset="0.909" stop-opacity="0.87"/><stop offset="1.000" stop-opacity="0.91"/></linearGradient><linearGradient id="gbb" class="ga" x2="0" y2="1"><stop offset="0.000" stop-opacity="0.96"/><stop offset="0.562" stop-opacity="0.87"/><stop offset="0.601" stop-opacity="0.76"/><stop offset="0.687" stop-opacity="0.41"/><stop offset="0.710" stop-opacity="0.35"/><stop offset="0.734" stop-opacity="0.33"/><stop offset="0.757" stop-opacity="0.35"/><stop offset="0.781" stop-opacity="0.41"/><stop offset="0.867" stop-opacity="0.75"/><stop offset="0.906" stop-opacity="0.87"/><stop offset="1.000" stop-opacity="0.91"/></linearGradient><linearGradient id="gbc" class="ga" x2="0" y2="1"><stop offset="0.000" stop-opacity="0.96"/><stop offset="0.558" stop-opacity="0.87"/><stop offset="0.597" stop-opacity="0.75"/><stop offset="0.683" stop-opacity="0.41"/><stop offset="0.706" stop-opacity="0.35"/><stop offset="0.730" stop-opacity="0.33"/><stop offset="0.753" stop-opacity="0.35"/><stop offset="0.777" stop-opacity="0.41"/><stop offset="0.859" stop-opacity="0.74"/><stop offset="0.898" stop-opacity="0.87"/><stop offset="1.000" stop-opacity="0.91"/></linearGradient><linearGradient id="gbd" class="ga" x2="0" y2="1"><stop offset="0.000" stop-opacity="0.96"/><stop offset="0.312" stop-opacity="0.92"/><stop offset="0.554" stop-opacity="0.87"/><stop offset="0.593" stop-opacity="0.75"/><stop offset="0.679" stop-opacity="0.41"/><stop offset="0.703" stop-opacity="0.35"/><stop offset="0.726" stop-opacity="0.33"/><stop offset="0.749" stop-opacity="0.35"/><stop offset="0.773" stop-opacity="0.41"/><stop offset="0.855" stop-opacity="0.75"/><stop offset="0.894" stop-opacity="0.87"/><stop offset="1.000" stop-opacity="0.91"/></linearGradient><linearGradient id="gbe" class="ga" x2="0" y2="1"><stop offset="0.000" stop-opacity="0.96"/><stop offset="0.546" stop-opacity="0.87"/><stop offset="0.585" stop-opacity="0.76"/><stop offset="0.671" stop-opacity="0.42"/><stop offset="0.695" stop-opacity="0.35"/><stop offset="0.718" stop-opacity="0.33"/><stop offset="0.742" stop-opacity="0.35"/><stop offset="0.765" stop-opacity="0.40"/><stop offset="0.851" stop-opacity="0.75"/><stop offset="0.890" stop-opacity="0.87"/><stop offset="1.000" stop-opacity="0.92"/></linearGradient><linearGradient id="gbf" class="ga" x2="0" y2="1"><stop offset="0.000" stop-opacity="0.96"/><stop offset="0.543" stop-opacity="0.87"/><stop offset="0.582" stop-opacity="0.76"/><stop offset="0.667" stop-opacity="0.41"/><stop offset="0.691" stop-opacity="0.35"/><stop offset="0.714" stop-opacity="0.33"/><stop offset="0.738" stop-opacity="0.35"/><stop offset="0.761" stop-opacity="0.41"/><stop offset="0.847" stop-opacity="0.75"/><stop offset="0.886" stop-opacity="0.87"/><stop offset="1.000" stop-opacity="0.92"/></linearGradient><linearGradient id="gc0" class="ga" x2="0" y2="1"><stop offset="0.000" stop-opacity="0.96"/><stop offset="0.539" stop-opacity="0.87"/><stop offset="0.578" stop-opacity="0.76"/><stop offset="0.664" stop-opacity="0.41"/><stop offset="0.687" stop-opacity="0.35"/><stop offset="0.710" stop-opacity="0.33"/><stop offset="0.734" stop-opacity="0.35"/><stop offset="0.757" stop-opacity="0.41"/><stop offset="0.843" stop-opacity="0.75"/><stop offset="0.882" stop-opacity="0.87"/><stop offset="1.000" stop-opacity="0.92"/></linearGradient><linearGradient id="gc1" class="ga" x2="0" y2="1"><stop offset="0.000" stop-opacity="0.96"/><stop offset="0.535" stop-opacity="0.87"/><stop offset="0.574" stop-opacity="0.75"/><stop offset="0.660" stop-opacity="0.41"/><stop offset="0.683" stop-opacity="0.35"/><stop offset="0.706" stop-opacity="0.33"/><stop offset="0.730" stop-opacity="0.35"/><stop offset="0.753" stop-opacity="0.41"/><stop offset="0.835" stop-opacity="0.74"/><stop offset="0.874" stop-opacity="0.87"/><stop offset="1.000" stop-opacity="0.92"/></linearGradient><linearGradient id="gc2" class="ga" x2="0" y2="1"><stop offset="0.000" stop-opacity="0.96"/><stop offset="0.531" stop-opacity="0.87"/><stop offset="0.570" stop-opacity="0.75"/><stop offset="0.656" stop-opacity="0.40"/><stop offset="0.679" stop-opacity="0.35"/><stop offset="0.703" stop-opacity="0.33"/><stop offset="0.726" stop-opacity="0.35"/><stop offset="0.749" stop-opacity="0.41"/><stop offset="0.831" stop-opacity="0.74"/><stop offset="0.870" stop-opacity="0.87"/><stop offset="1.000" stop-opacity="0.92"/></linearGradient><linearGradient id="gc3" class="ga" x2="0" y2="1"><stop offset="0.000" stop-opacity="0.96"/><stop offset="0.523" stop-opacity="0.87"/><stop offset="0.562" stop-opacity="0.76"/><stop offset="0.648" stop-opacity="0.41"/><stop offset="0.671" stop-opacity="0.35"/><stop offset="0.695" stop-opacity="0.33"/><stop offset="0.718" stop-opacity="0.34"/><stop offset="0.742" stop-opacity="0.40"/><stop offset="0.827" stop-opacity="0.75"/><stop offset="0.867" stop-opacity="0.87"/><stop offset="1.000" stop-opacity="0.92"/></linearGradient><linearGradient id="gc4" class="ga" x2="0" y2="1"><stop offset="0.000" stop-opacity="0.95"/><stop offset="0.519" stop-opacity="0.87"/><stop offset="0.558" stop-opacity="0.76"/><stop offset="0.644" stop-opacity="0.41"/><stop offset="0.667" stop-opacity="0.35"/><stop offset="0.691" stop-opacity="0.32"/><stop offset="0.714" stop-opacity="0.34"/><stop offset="0.738" stop-opacity="0.40"/><stop offset="0.824" stop-opacity="0.75"/><stop offset="0.863" stop-opacity="0.87"/><stop offset="1.000" stop-opacity="0.92"/></linearGradient><linearGradient id="gc5" class="ga" x2="0" y2="1"><stop offset="0.000" stop-opacity="0.95"/><stop offset="0.515" stop-opacity="0.87"/><stop offset="0.554" stop-opacity="0.75"/><stop offset="0.640" stop-opacity="0.40"/><stop offset="0.664" stop-opacity="0.34"/><stop offset="0.687" stop-opacity="0.32"/><stop offset="0.710" stop-opacity="0.34"/><stop offset="0.734" stop-opacity="0.40"/><stop offset="0.820" stop-opacity="0.75"/><stop offset="0.859" stop-opacity="0.87"/><stop offset="1.000" stop-opacity="0.92"/></linearGradient><linearGradient id="gc6" class="ga" x2="0" y2="1"><stop offset="0.000" stop-opacity="0.95"/><stop offset="0.511" stop-opacity="0.87"/><stop offset="0.550" stop-opacity="0.75"/><stop offset="0.636" stop-opacity="0.40"/><stop offset="0.660" stop-opacity="0.34"/><stop offset="0.683" stop-opacity="0.32"/><stop offset="0.706" stop-opacity="0.34"/><stop offset="0.730" stop-opacity="0.40"/><stop offset="0.816" stop-opacity="0.75"/><stop offset="0.855" stop-opacity="0.87"/><stop offset="1.000" stop-opacity="0.93"/></linearGradient><linearGradient id="gc7" class="ga" x2="0" y2="1"><stop offset="0.000" stop-opacity="0.95"/><stop offset="0.504" stop-opacity="0.87"/><stop offset="0.543" stop-opacity="0.76"/><stop offset="0.632" stop-opacity="0.40"/><stop offset="0.656" stop-opacity="0.34"/><stop offset="0.679" stop-opacity="0.32"/><stop offset="0.703" stop-opacity="0.34"/><stop offset="0.726" stop-opacity="0.40"/><stop offset="0.812" stop-opacity="0.76"/><stop offset="0.851" stop-opacity="0.87"/><stop offset="1.000" stop-opacity="0.93"/></linearGradient><linearGradient id="gc8" class="ga" x2="0" y2="1"><stop offset="0.000" stop-opacity="0.95"/><stop offset="0.500" stop-opacity="0.87"/><stop offset="0.539" stop-opacity="0.76"/><stop offset="0.625" stop-opacity="0.40"/><stop offset="0.648" stop-opacity="0.34"/><stop offset="0.671" stop-opacity="0.32"/><stop offset="0.695" stop-opacity="0.34"/><stop offset="0.718" stop-opacity="0.39"/><stop offset="0.804" stop-opacity="0.74"/><stop offset="0.843" stop-opacity="0.87"/><stop offset="1.000" stop-opacity="0.93"/></linearGradient><linearGradient id="gc9" class="ga" x2="0" y2="1"><stop offset="0.000" stop-opacity="0.95"/><stop offset="0.496" stop-opacity="0.87"/><stop offset="0.535" stop-opacity="0.75"/><stop offset="0.621" stop-opacity="0.40"/><stop offset="0.644" stop-opacity="0.34"/><stop offset="0.667" stop-opacity="0.31"/><stop offset="0.691" stop-opacity="0.33"/><stop offset="0.714" stop-opacity="0.39"/><stop offset="0.800" stop-opacity="0.74"/><stop offset="0.839" stop-opacity="0.87"/><stop offset="1.000" stop-opacity="0.93"/></linearGradient><linearGradient id="gca" class="ga" x2="0" y2="1"><stop offset="0.000" stop-opacity="0.95"/><stop offset="0.492" stop-opacity="0.87"/><stop offset="0.531" stop-opacity="0.75"/><stop offset="0.617" stop-opacity="0.39"/><stop offset="0.640" stop-opacity="0.33"/><stop offset="0.664" stop-opacity="0.31"/><stop offset="0.687" stop-opacity="0.33"/><stop offset="0.710" stop-opacity="0.39"/><stop offset="0.796" stop-opacity="0.75"/><stop offset="0.835" stop-opacity="0.87"/><stop offset="1.000" stop-opacity="0.93"/></linearGradient><linearGradient id="gcb" class="ga" x2="0" y2="1"><stop offset="0.000" stop-opacity="0.95"/><stop offset="0.484" stop-opacity="0.88"/><stop offset="0.523" stop-opacity="0.76"/><stop offset="0.613" stop-opacity="0.39"/><stop offset="0.636" stop-opacity="0.33"/><stop offset="0.660" stop-opacity="0.31"/><stop offset="0.683" stop-opacity="0.33"/><stop offset="0.706" stop-opacity="0.39"/><stop offset="0.792" stop-opacity="0.75"/><stop offset="0.831" stop-opacity="0.87"/><stop offset="1.000" stop-opacity="0.93"/></linearGradient><linearGradient id="gcc" class="ga" x2="0" y2="1"><stop offset="0.000" stop-opacity="0.95"/><stop offset="0.480" stop-opacity="0.87"/><stop offset="0.519" stop-opacity="0.76"/><stop offset="0.609" stop-opacity="0.38"/><stop offset="0.632" stop-opacity="0.33"/><stop offset="0.656" stop-opacity="0.31"/><stop offset="0.679" stop-opacity="0.33"/><stop offset="0.703" stop-opacity="0.39"/><stop offset="0.788" stop-opacity="0.75"/><stop offset="0.827" stop-opacity="0.87"/><stop offset="1.000" stop-opacity="0.93"/></linearGradient><linearGradient id="gcd" class="ga" x2="0" y2="1"><stop offset="0.000" stop-opacity="0.95"/><stop offset="0.476" stop-opacity="0.87"/><stop offset="0.519" stop-opacity="0.74"/><stop offset="0.601" stop-opacity="0.39"/><stop offset="0.625" stop-opacity="0.33"/><stop offset="0.648" stop-opacity="0.30"/><stop offset="0.671" stop-opacity="0.32"/><stop offset="0.695" stop-opacity="0.38"/><stop offset="0.785" stop-opacity="0.75"/><stop offset="0.824" stop-opacity="0.87"/><stop offset="1.000" stop-opacity="0.93"/></linearGradient><linearGradient id="gce" class="ga" x2="0" y2="1"><stop offset="0.000" stop-opacity="0.95"/><stop offset="0.472" stop-opacity="0.87"/><stop offset="0.511" stop-opacity="0.75"/><stop offset="0.597" stop-opacity="0.39"/><stop offset="0.621" stop-opacity="0.32"/><stop offset="0.644" stop-opacity="0.30"/><stop offset="0.667" stop-opacity="0.32"/><stop offset="0.691" stop-opacity="0.38"/><stop offset="0.781" stop-opacity="0.75"/><stop offset="0.820" stop-opacity="0.88"/><stop offset="1.000" stop-opacity="0.94"/></linearGradient><linearGradient id="gcf" class="ga" x2="0" y2="1"><stop offset="0.000" stop-opacity="0.95"/><stop offset="0.464" stop-opacity="0.88"/><stop offset="0.507" stop-opacity="0.74"/><stop offset="0.593" stop-opacity="0.38"/><stop offset="0.617" stop-opacity="0.32"/><stop offset="0.640" stop-opacity="0.30"/><stop offset="0.664" stop-opacity="0.32"/><stop offset="0.687" stop-opacity="0.38"/><stop offset="0.773" stop-opacity="0.74"/><stop offset="0.816" stop-opacity="0.88"/><stop offset="1.000" stop-opacity="0.94"/></linearGradient><linearGradient id="gd0" class="ga" x2="0" y2="1"><stop offset="0.000" stop-opacity="0.95"/><stop offset="0.461" stop-opacity="0.88"/><stop offset="0.504" stop-opacity="0.74"/><stop offset="0.589" stop-opacity="0.37"/><stop offset="0.613" stop-opacity="0.31"/><stop offset="0.636" stop-opacity="0.29"/><stop offset="0.660" stop-opacity="0.32"/><stop offset="0.683" stop-opacity="0.38"/><stop offset="0.769" stop-opacity="0.74"/><stop offset="0.808" stop-opacity="0.87"/><stop offset="1.000" stop-opacity="0.94"/></linearGradient><linearGradient id="gd1" class="ga" x2="0" y2="1"><stop offset="0.000" stop-opacity="0.95"/><stop offset="0.457" stop-opacity="0.87"/><stop offset="0.500" stop-opacity="0.73"/><stop offset="0.585" stop-opacity="0.37"/><stop offset="0.609" stop-opacity="0.31"/><stop offset="0.632" stop-opacity="0.29"/><stop offset="0.656" stop-opacity="0.31"/><stop offset="0.679" stop-opacity="0.38"/><stop offset="0.765" stop-opacity="0.74"/><stop offset="0.804" stop-opacity="0.87"/><stop offset="1.000" stop-opacity="0.94"/></linearGradient><linearGradient id="gd2" class="ga" x2="0" y2="1"><stop offset="0.000" stop-opacity="0.95"/><stop offset="0.453" stop-opacity="0.87"/><stop offset="0.496" stop-opacity="0.73"/><stop offset="0.578" stop-opacity="0.38"/><stop offset="0.601" stop-opacity="0.31"/><stop offset="0.625" stop-opacity="0.29"/><stop offset="0.648" stop-opacity="0.30"/><stop offset="0.671" stop-opacity="0.36"/><stop offset="0.761" stop-opacity="0.75"/><stop offset="0.800" stop-opacity="0.87"/><stop offset="1.000" stop-opacity="0.94"/></linearGradient><linearGradient id="gd3" class="ga" x2="0" y2="1"><stop offset="0.000" stop-opacity="0.95"/><stop offset="0.445" stop-opacity="0.88"/><stop offset="0.488" stop-opacity="0.74"/><stop offset="0.574" stop-opacity="0.37"/><stop offset="0.597" stop-opacity="0.31"/><stop offset="0.621" stop-opacity="0.28"/><stop offset="0.644" stop-opacity="0.30"/><stop offset="0.667" stop-opacity="0.36"/><stop offset="0.753" stop-opacity="0.73"/><stop offset="0.796" stop-opacity="0.87"/><stop offset="1.000" stop-opacity="0.94"/></linearGradient><linearGradient id="gd4" class="ga" x2="0" y2="1"><stop offset="0.000" stop-opacity="0.95"/><stop offset="0.441" stop-opacity="0.88"/><stop offset="0.484" stop-opacity="0.74"/><stop offset="0.570" stop-opacity="0.36"/><stop offset="0.593" stop-opacity="0.30"/><stop offset="0.617" stop-opacity="0.28"/><stop offset="0.640" stop-opacity="0.30"/><stop offset="0.664" stop-opacity="0.36"/><stop offset="0.749" stop-opacity="0.73"/><stop offset="0.792" stop-opacity="0.87"/><stop offset="1.000" stop-opacity="0.94"/></linearGradient><linearGradient id="gd5" class="ga" x2="0" y2="1"><stop offset="0.000" stop-opacity="0.95"/><stop offset="0.437" stop-opacity="0.87"/><stop offset="0.480" stop-opacity="0.73"/><stop offset="0.566" stop-opacity="0.36"/><stop offset="0.589" stop-opacity="0.29"/><stop offset="0.613" stop-opacity="0.27"/><stop offset="0.636" stop-opacity="0.30"/><stop offset="0.660" stop-opacity="0.36"/><stop offset="0.746" stop-opacity="0.74"/><stop offset="0.788" stop-opacity="0.88"/><stop offset="1.000" stop-opacity="0.94"/></linearGradient><linearGradient id="gd6" class="ga" x2="0" y2="1"><stop offset="0.000" stop-opacity="0.95"/><stop offset="0.429" stop-opacity="0.88"/><stop offset="0.472" stop-opacity="0.74"/><stop offset="0.562" stop-opacity="0.35"/><stop offset="0.585" stop-opacity="0.29"/><stop offset="0.609" stop-opacity="0.27"/><stop offset="0.632" stop-opacity="0.29"/><stop offset="0.656" stop-opacity="0.36"/><stop offset="0.742" stop-opacity="0.74"/><stop offset="0.785" stop-opacity="0.88"/><stop offset="1.000" stop-opacity="0.94"/></linearGradient><linearGradient id="gd7" class="ga" x2="0" y2="1"><stop offset="0.000" stop-opacity="0.95"/><stop offset="0.425" stop-opacity="0.88"/><stop offset="0.468" stop-opacity="0.74"/><stop offset="0.554" stop-opacity="0.36"/><stop offset="0.578" stop-opacity="0.29"/><stop offset="0.601" stop-opacity="0.26"/><stop offset="0.625" stop-opacity="0.28"/><stop offset="0.648" stop-opacity="0.34"/><stop offset="0.738" stop-opacity="0.74"/><stop offset="0.781" stop-opacity="0.88"/><stop offset="1.000" stop-opacity="0.94"/></linearGradient><linearGradient id="gd8" class="ga" x2="0" y2="1"><stop offset="0.000" stop-opacity="0.95"/><stop offset="0.422" stop-opacity="0.88"/><stop offset="0.464" stop-opacity="0.73"/><stop offset="0.550" stop-opacity="0.35"/><stop offset="0.574" stop-opacity="0.28"/><stop offset="0.597" stop-opacity="0.26"/><stop offset="0.621" stop-opacity="0.28"/><stop offset="0.644" stop-opacity="0.34"/><stop offset="0.734" stop-opacity="0.74"/><stop offset="0.777" stop-opacity="0.88"/><stop offset="1.000" stop-opacity="0.95"/></linearGradient><linearGradient id="gd9" class="ga" x2="0" y2="1"><stop offset="0.000" stop-opacity="0.95"/><stop offset="0.418" stop-opacity="0.87"/><stop offset="0.461" stop-opacity="0.73"/><stop offset="0.546" stop-opacity="0.34"/><stop offset="0.570" stop-opacity="0.28"/><stop offset="0.593" stop-opacity="0.26"/><stop offset="0.617" stop-opacity="0.28"/><stop offset="0.640" stop-opacity="0.34"/><stop offset="0.726" stop-opacity="0.73"/><stop offset="0.769" stop-opacity="0.87"/><stop offset="1.000" stop-opacity="0.95"/></linearGradient><linearGradient id="gda" class="ga" x2="0" y2="1"><stop offset="0.000" stop-opacity="0.94"/><stop offset="0.410" stop-opacity="0.88"/><stop offset="0.453" stop-opacity="0.74"/><stop offset="0.543" stop-opacity="0.34"/><stop offset="0.566" stop-opacity="0.27"/><stop offset="0.589" stop-opacity="0.25"/><stop offset="0.613" stop-opacity="0.28"/><stop offset="0.636" stop-opacity="0.34"/><stop offset="0.722" stop-opacity="0.73"/><stop offset="0.765" stop-opacity="0.87"/><stop offset="1.000" stop-opacity="0.95"/></linearGradient><linearGradient id="gdb" class="ga" x2="0" y2="1"><stop offset="0.000" stop-opacity="0.94"/><stop offset="0.406" stop-opacity="0.88"/><stop offset="0.449" stop-opacity="0.74"/><stop offset="0.539" stop-opacity="0.33"/><stop offset="0.562" stop-opacity="0.27"/><stop offset="0.585" stop-opacity="0.25"/><stop offset="0.609" stop-opacity="0.27"/><stop offset="0.632" stop-opacity="0.34"/><stop offset="0.718" stop-opacity="0.73"/><stop offset="0.761" stop-opacity="0.87"/><stop offset="1.000" stop-opacity="0.95"/></linearGradient><linearGradient id="gdc" class="ga" x2="0" y2="1"><stop offset="0.000" stop-opacity="0.94"/><stop offset="0.402" stop-opacity="0.87"/><stop offset="0.445" stop-opacity="0.73"/><stop offset="0.531" stop-opacity="0.34"/><stop offset="0.554" stop-opacity="0.27"/><stop offset="0.578" stop-opacity="0.24"/><stop offset="0.601" stop-opacity="0.26"/><stop offset="0.625" stop-opacity="0.33"/><stop offset="0.714" stop-opacity="0.73"/><stop offset="0.757" stop-opacity="0.87"/><stop offset="1.000" stop-opacity="0.95"/></linearGradient><linearGradient id="gdd" class="ga" x2="0" y2="1"><stop offset="0.000" stop-opacity="0.94"/><stop offset="0.398" stop-opacity="0.87"/><stop offset="0.441" stop-opacity="0.73"/><stop offset="0.527" stop-opacity="0.33"/><stop offset="0.550" stop-opacity="0.27"/><stop offset="0.574" stop-opacity="0.24"/><stop offset="0.597" stop-opacity="0.26"/><stop offset="0.621" stop-opacity="0.33"/><stop offset="0.710" stop-opacity="0.73"/><stop offset="0.753" stop-opacity="0.88"/><stop offset="1.000" stop-opacity="0.95"/></linearGradient><linearGradient id="gde" class="ga" x2="0" y2="1"><stop offset="0.000" stop-opacity="0.94"/><stop offset="0.390" stop-opacity="0.88"/><stop offset="0.433" stop-opacity="0.74"/><stop offset="0.523" stop-opacity="0.33"/><stop offset="0.546" stop-opacity="0.26"/><stop offset="0.570" stop-opacity="0.24"/><stop offset="0.593" stop-opacity="0.26"/><stop offset="0.617" stop-opacity="0.33"/><stop offset="0.706" stop-opacity="0.74"/><stop offset="0.749" stop-opacity="0.88"/><stop offset="1.000" stop-opacity="0.95"/></linearGradient><linearGradient id="gdf" class="ga" x2="0" y2="1"><stop offset="0.000" stop-opacity="0.94"/><stop offset="0.386" stop-opacity="0.88"/><stop offset="0.429" stop-opacity="0.73"/><stop offset="0.519" stop-opacity="0.32"/><stop offset="0.543" stop-opacity="0.26"/><stop offset="0.566" stop-opacity="0.24"/><stop offset="0.589" stop-opacity="0.26"/><stop offset="0.613" stop-opacity="0.33"/><stop offset="0.703" stop-opacity="0.74"/><stop offset="0.746" stop-opacity="0.88"/><stop offset="1.000" stop-opacity="0.95"/></linearGradient><linearGradient id="ge0" class="ga" x2="0" y2="1"><stop offset="0.000" stop-opacity="0.94"/><stop offset="0.383" stop-opacity="0.87"/><stop offset="0.425" stop-opacity="0.73"/><stop offset="0.515" stop-opacity="0.32"/><stop offset="0.539" stop-opacity="0.26"/><stop offset="0.562" stop-opacity="0.23"/><stop offset="0.585" stop-opacity="0.26"/><stop offset="0.609" stop-opacity="0.33"/><stop offset="0.699" stop-opacity="0.74"/><stop offset="0.742" stop-opacity="0.88"/><stop offset="1.000" stop-opacity="0.95"/></linearGradient><linearGradient id="ge1" class="ga" x2="0" y2="1"><stop offset="0.000" stop-opacity="0.94"/><stop offset="0.379" stop-opacity="0.87"/><stop offset="0.422" stop-opacity="0.73"/><stop offset="0.511" stop-opacity="0.32"/><stop offset="0.535" stop-opacity="0.25"/><stop offset="0.558" stop-opacity="0.23"/><stop offset="0.582" stop-opacity="0.26"/><stop offset="0.605" stop-opacity="0.33"/><stop offset="0.691" stop-opacity="0.73"/><stop offset="0.734" stop-opacity="0.87"/><stop offset="1.000" stop-opacity="0.95"/></linearGradient><linearGradient id="ge2" class="ga" x2="0" y2="1"><stop offset="0.000" stop-opacity="0.94"/><stop offset="0.371" stop-opacity="0.88"/><stop offset="0.414" stop-opacity="0.74"/><stop offset="0.504" stop-opacity="0.33"/><stop offset="0.527" stop-opacity="0.26"/><stop offset="0.550" stop-opacity="0.23"/><stop offset="0.574" stop-opacity="0.25"/><stop offset="0.597" stop-opacity="0.32"/><stop offset="0.687" stop-opacity="0.73"/><stop offset="0.730" stop-opacity="0.87"/><stop offset="1.000" stop-opacity="0.95"/></linearGradient><linearGradient id="ge3" class="ga" x2="0" y2="1"><stop offset="0.000" stop-opacity="0.94"/><stop offset="0.367" stop-opacity="0.88"/><stop offset="0.410" stop-opacity="0.74"/><stop offset="0.500" stop-opacity="0.32"/><stop offset="0.523" stop-opacity="0.25"/><stop offset="0.546" stop-opacity="0.23"/><stop offset="0.570" stop-opacity="0.25"/><stop offset="0.593" stop-opacity="0.32"/><stop offset="0.683" stop-opacity="0.73"/><stop offset="0.726" stop-opacity="0.88"/><stop offset="1.000" stop-opacity="0.95"/></linearGradient><linearGradient id="ge4" class="ga" x2="0" y2="1"><stop offset="0.000" stop-opacity="0.94"/><stop offset="0.363" stop-opacity="0.88"/><stop offset="0.406" stop-opacity="0.73"/><stop offset="0.496" stop-opacity="0.32"/><stop offset="0.519" stop-opacity="0.25"/><stop offset="0.543" stop-opacity="0.23"/><stop offset="0.566" stop-opacity="0.25"/><stop offset="0.589" stop-opacity="0.32"/><stop offset="0.679" stop-opacity="0.74"/><stop offset="0.722" stop-opacity="0.88"/><stop offset="1.000" stop-opacity="0.96"/></linearGradient><linearGradient id="ge5" class="ga" x2="0" y2="1"><stop offset="0.000" stop-opacity="0.94"/><stop offset="0.359" stop-opacity="0.87"/><stop offset="0.402" stop-opacity="0.73"/><stop offset="0.492" stop-opacity="0.32"/><stop offset="0.515" stop-opacity="0.25"/><stop offset="0.539" stop-opacity="0.23"/><stop offset="0.562" stop-opacity="0.26"/><stop offset="0.585" stop-opacity="0.33"/><stop offset="0.671" stop-opacity="0.72"/><stop offset="0.718" stop-opacity="0.88"/><stop offset="1.000" stop-opacity="0.96"/></linearGradient><linearGradient id="ge6" class="ga" x2="0" y2="1"><stop offset="0.000" stop-opacity="0.94"/><stop offset="0.355" stop-opacity="0.87"/><stop offset="0.398" stop-opacity="0.73"/><stop offset="0.488" stop-opacity="0.31"/><stop offset="0.511" stop-opacity="0.25"/><stop offset="0.535" stop-opacity="0.23"/><stop offset="0.558" stop-opacity="0.26"/><stop offset="0.582" stop-opacity="0.33"/><stop offset="0.667" stop-opacity="0.73"/><stop offset="0.710" stop-opacity="0.87"/><stop offset="0.831" stop-opacity="0.92"/><stop offset="1.000" stop-opacity="0.96"/></linearGradient><linearGradient id="ge7" class="ga" x2="0" y2="1"><stop offset="0.000" stop-opacity="0.94"/><stop offset="0.347" stop-opacity="0.88"/><stop offset="0.390" stop-opacity="0.74"/><stop offset="0.480" stop-opacity="0.33"/><stop offset="0.504" stop-opacity="0.26"/><stop offset="0.527" stop-opacity="0.23"/><stop offset="0.550" stop-opacity="0.25"/><stop offset="0.574" stop-opacity="0.32"/><stop offset="0.664" stop-opacity="0.73"/><stop offset="0.706" stop-opacity="0.87"/><stop offset="1.000" stop-opacity="0.96"/></linearGradient><linearGradient id="ge8" class="ga" x2="0" y2="1"><stop offset="0.000" stop-opacity="0.94"/><stop offset="0.343" stop-opacity="0.88"/><stop offset="0.386" stop-opacity="0.74"/><stop offset="0.476" stop-opacity="0.32"/><stop offset="0.500" stop-opacity="0.26"/><stop offset="0.523" stop-opacity="0.23"/><stop offset="0.546" stop-opacity="0.26"/><stop offset="0.570" stop-opacity="0.32"/><stop offset="0.660" stop-opacity="0.73"/><stop offset="0.703" stop-opacity="0.88"/><stop offset="1.000" stop-opacity="0.96"/></linearGradient><linearGradient id="ge9" class="ga" x2="0" y2="1"><stop offset="0.000" stop-opacity="0.94"/><stop offset="0.340" stop-opacity="0.88"/><stop offset="0.383" stop-opacity="0.73"/><stop offset="0.472" stop-opacity="0.32"/><stop offset="0.496" stop-opacity="0.26"/><stop offset="0.519" stop-opacity="0.24"/><stop offset="0.543" stop-opacity="0.26"/><stop offset="0.566" stop-opacity="0.33"/><stop offset="0.656" stop-opacity="0.74"/><stop offset="0.699" stop-opacity="0.88"/><stop offset="1.000" stop-opacity="0.96"/></linearGradient><linearGradient id="gea" class="ga" x2="0" y2="1"><stop offset="0.000" stop-opacity="0.94"/><stop offset="0.336" stop-opacity="0.88"/><stop offset="0.379" stop-opacity="0.73"/><stop offset="0.468" stop-opacity="0.32"/><stop offset="0.492" stop-opacity="0.26"/><stop offset="0.515" stop-opacity="0.24"/><stop offset="0.539" stop-opacity="0.26"/><stop offset="0.562" stop-opacity="0.33"/><stop offset="0.652" stop-opacity="0.74"/><stop offset="0.695" stop-opacity="0.88"/><stop offset="1.000" stop-opacity="0.96"/></linearGradient><linearGradient id="geb" class="ga" x2="0" y2="1"><stop offset="0.000" stop-opacity="0.94"/><stop offset="0.332" stop-opacity="0.87"/><stop offset="0.375" stop-opacity="0.73"/><stop offset="0.464" stop-opacity="0.32"/><stop offset="0.488" stop-opacity="0.26"/><stop offset="0.511" stop-opacity="0.24"/><stop offset="0.535" stop-opacity="0.27"/><stop offset="0.558" stop-opacity="0.34"/><stop offset="0.644" stop-opacity="0.73"/><stop offset="0.687" stop-opacity="0.87"/><stop offset="0.820" stop-opacity="0.92"/><stop offset="1.000" stop-opacity="0.96"/></linearGradient><linearGradient id="gec" class="ga" x2="0" y2="1"><stop offset="0.000" stop-opacity="0.93"/><stop offset="0.328" stop-opacity="0.87"/><stop offset="0.371" stop-opacity="0.73"/><stop offset="0.457" stop-opacity="0.34"/><stop offset="0.480" stop-opacity="0.27"/><stop offset="0.504" stop-opacity="0.24"/><stop offset="0.527" stop-opacity="0.26"/><stop offset="0.550" stop-opacity="0.33"/><stop offset="0.640" stop-opacity="0.73"/><stop offset="0.683" stop-opacity="0.88"/><stop offset="0.824" stop-opacity="0.93"/><stop offset="1.000" stop-opacity="0.96"/></linearGradient><linearGradient id="ged" class="ga" x2="0" y2="1"><stop offset="0.000" stop-opacity="0.93"/><stop offset="0.320" stop-opacity="0.88"/><stop offset="0.363" stop-opacity="0.74"/><stop offset="0.453" stop-opacity="0.34"/><stop offset="0.476" stop-opacity="0.27"/><stop offset="0.500" stop-opacity="0.25"/><stop offset="0.523" stop-opacity="0.27"/><stop offset="0.546" stop-opacity="0.33"/><stop offset="0.636" stop-opacity="0.74"/><stop offset="0.679" stop-opacity="0.88"/><stop offset="0.824" stop-opacity="0.93"/><stop offset="1.000" stop-opacity="0.96"/></linearGradient><linearGradient id="gee" class="ga" x2="0" y2="1"><stop offset="0.000" stop-opacity="0.93"/><stop offset="0.316" stop-opacity="0.88"/><stop offset="0.359" stop-opacity="0.74"/><stop offset="0.449" stop-opacity="0.34"/><stop offset="0.472" stop-opacity="0.27"/><stop offset="0.496" stop-opacity="0.25"/><stop offset="0.519" stop-opacity="0.27"/><stop offset="0.543" stop-opacity="0.34"/><stop offset="0.632" stop-opacity="0.74"/><stop offset="0.675" stop-opacity="0.88"/><stop offset="0.824" stop-opacity="0.93"/><stop offset="1.000" stop-opacity="0.96"/></linearGradient><linearGradient id="gef" class="ga" x2="0" y2="1"><stop offset="0.000" stop-opacity="0.93"/><stop offset="0.312" stop-opacity="0.88"/><stop offset="0.355" stop-opacity="0.74"/><stop offset="0.445" stop-opacity="0.34"/><stop offset="0.468" stop-opacity="0.27"/><stop offset="0.492" stop-opacity="0.25"/><stop offset="0.515" stop-opacity="0.28"/><stop offset="0.539" stop-opacity="0.35"/><stop offset="0.625" stop-opacity="0.73"/><stop offset="0.667" stop-opacity="0.87"/><stop offset="0.812" stop-opacity="0.93"/><stop offset="1.000" stop-opacity="0.96"/></linearGradient><linearGradient id="gf0" class="ga" x2="0" y2="1"><stop offset="0.000" stop-opacity="0.93"/><stop offset="0.308" stop-opacity="0.88"/><stop offset="0.351" stop-opacity="0.74"/><stop offset="0.441" stop-opacity="0.34"/><stop offset="0.464" stop-opacity="0.28"/><stop offset="0.488" stop-opacity="0.26"/><stop offset="0.511" stop-opacity="0.28"/><stop offset="0.535" stop-opacity="0.35"/><stop offset="0.621" stop-opacity="0.74"/><stop offset="0.664" stop-opacity="0.88"/><stop offset="0.816" stop-opacity="0.93"/><stop offset="1.000" stop-opacity="0.96"/></linearGradient><linearGradient id="gf1" class="ga" x2="0" y2="1"><stop offset="0.000" stop-opacity="0.93"/><stop offset="0.304" stop-opacity="0.88"/><stop offset="0.347" stop-opacity="0.73"/><stop offset="0.433" stop-opacity="0.35"/><stop offset="0.457" stop-opacity="0.29"/><stop offset="0.480" stop-opacity="0.26"/><stop offset="0.504" stop-opacity="0.28"/><stop offset="0.527" stop-opacity="0.34"/><stop offset="0.617" stop-opacity="0.74"/><stop offset="0.660" stop-opacity="0.88"/><stop offset="0.812" stop-opacity="0.93"/><stop offset="1.000" stop-opacity="0.96"/></linearGradient><linearGradient id="gf2" class="ga" x2="0" y2="1"><stop offset="0.000" stop-opacity="0.93"/><stop offset="0.301" stop-opacity="0.87"/><stop offset="0.343" stop-opacity="0.73"/><stop offset="0.429" stop-opacity="0.35"/><stop offset="0.453" stop-opacity="0.29"/><stop offset="0.476" stop-opacity="0.27"/><stop offset="0.500" stop-opacity="0.29"/><stop offset="0.523" stop-opacity="0.35"/><stop offset="0.609" stop-opacity="0.73"/><stop offset="0.652" stop-opacity="0.87"/><stop offset="0.800" stop-opacity="0.93"/><stop offset="1.000" stop-opacity="0.97"/></linearGradient><linearGradient id="gf3" class="ga" x2="0" y2="1"><stop offset="0.000" stop-opacity="0.93"/><stop offset="0.297" stop-opacity="0.87"/><stop offset="0.340" stop-opacity="0.73"/><stop offset="0.425" stop-opacity="0.35"/><stop offset="0.449" stop-opacity="0.29"/><stop offset="0.472" stop-opacity="0.27"/><stop offset="0.496" stop-opacity="0.29"/><stop offset="0.519" stop-opacity="0.36"/><stop offset="0.605" stop-opacity="0.73"/><stop offset="0.648" stop-opacity="0.88"/><stop offset="0.804" stop-opacity="0.93"/><stop offset="1.000" stop-opacity="0.97"/></linearGradient><linearGradient id="gf4" class="ga" x2="0" y2="1"><stop offset="0.000" stop-opacity="0.93"/><stop offset="0.293" stop-opacity="0.87"/><stop offset="0.336" stop-opacity="0.73"/><stop offset="0.422" stop-opacity="0.36"/><stop offset="0.445" stop-opacity="0.29"/><stop offset="0.468" stop-opacity="0.27"/><stop offset="0.492" stop-opacity="0.30"/><stop offset="0.515" stop-opacity="0.36"/><stop offset="0.601" stop-opacity="0.74"/><stop offset="0.644" stop-opacity="0.88"/><stop offset="0.804" stop-opacity="0.93"/><stop offset="1.000" stop-opacity="0.97"/></linearGradient><linearGradient id="gf5" class="ga" x2="0" y2="1"><stop offset="0.000" stop-opacity="0.93"/><stop offset="0.289" stop-opacity="0.87"/><stop offset="0.328" stop-opacity="0.74"/><stop offset="0.418" stop-opacity="0.36"/><stop offset="0.441" stop-opacity="0.30"/><stop offset="0.464" stop-opacity="0.28"/><stop offset="0.488" stop-opacity="0.30"/><stop offset="0.511" stop-opacity="0.37"/><stop offset="0.597" stop-opacity="0.74"/><stop offset="0.640" stop-opacity="0.88"/><stop offset="0.800" stop-opacity="0.93"/><stop offset="1.000" stop-opacity="0.97"/></linearGradient><linearGradient id="gf6" class="ga" x2="0" y2="1"><stop offset="0.000" stop-opacity="0.93"/><stop offset="0.281" stop-opacity="0.88"/><stop offset="0.324" stop-opacity="0.74"/><stop offset="0.410" stop-opacity="0.37"/><stop offset="0.433" stop-opacity="0.31"/><stop offset="0.457" stop-opacity="0.28"/><stop offset="0.480" stop-opacity="0.30"/><stop offset="0.504" stop-opacity="0.36"/><stop offset="0.589" stop-opacity="0.73"/><stop offset="0.632" stop-opacity="0.87"/><stop offset="0.792" stop-opacity="0.93"/><stop offset="1.000" stop-opacity="0.97"/></linearGradient><clipPath id="cs3"><rect x="999.4" y="130.3" width="239.4" height="250.2"/></clipPath></defs>
<g clip-path="url(#cs0)"><g filter="url(#fbwr)"><rect x="142.9" y="128.1" width="250.7" height="249.5" fill="url(#car0)"/><g fill="#808080"><rect x="144" y="128.1" width="4" height="249.5" fill="url(#g1)"/><rect x="148" y="128.1" width="4" height="249.5" fill="url(#g2)"/><rect x="152" y="128.1" width="4" height="249.5" fill="url(#g3)"/><rect x="156" y="128.1" width="4" height="249.5" fill="url(#g4)"/><rect x="160" y="128.1" width="4" height="249.5" fill="url(#g5)"/><rect x="164" y="128.1" width="4" height="249.5" fill="url(#g6)"/><rect x="168" y="128.1" width="4" height="249.5" fill="url(#g7)"/><rect x="172" y="128.1" width="4" height="249.5" fill="url(#g8)"/><rect x="176" y="128.1" width="4" height="249.5" fill="url(#g9)"/><rect x="180" y="128.1" width="4" height="249.5" fill="url(#ga)"/><rect x="184" y="128.1" width="4" height="249.5" fill="url(#gb)"/><rect x="188" y="128.1" width="4" height="249.5" fill="url(#gc)"/><rect x="192" y="128.1" width="4" height="249.5" fill="url(#gd)"/><rect x="196" y="128.1" width="4" height="249.5" fill="url(#ge)"/><rect x="200" y="128.1" width="4" height="249.5" fill="url(#gf)"/><rect x="204" y="128.1" width="4" height="249.5" fill="url(#g10)"/><rect x="208" y="128.1" width="4" height="249.5" fill="url(#g11)"/><rect x="212" y="128.1" width="4" height="249.5" fill="url(#g12)"/><rect x="216" y="128.1" width="4" height="249.5" fill="url(#g13)"/><rect x="220" y="128.1" width="4" height="249.5" fill="url(#g14)"/><rect x="224" y="128.1" width="4" height="249.5" fill="url(#g15)"/><rect x="228" y="128.1" width="4" height="249.5" fill="url(#g16)"/><rect x="232" y="128.1" width="4" height="249.5" fill="url(#g17)"/><rect x="236" y="128.1" width="4" height="249.5" fill="url(#g18)"/><rect x="240" y="128.1" width="4" height="249.5" fill="url(#g19)"/><rect x="244" y="128.1" width="4" height="249.5" fill="url(#g1a)"/><rect x="248" y="128.1" width="4" height="249.5" fill="url(#g1b)"/><rect x="252" y="128.1" width="4" height="249.5" fill="url(#g1c)"/><rect x="256" y="128.1" width="4" height="249.5" fill="url(#g1d)"/><rect x="260" y="128.1" width="4" height="249.5" fill="url(#g1e)"/><rect x="264" y="128.1" width="4" height="249.5" fill="url(#g1f)"/><rect x="268" y="128.1" width="4" height="249.5" fill="url(#g20)"/><rect x="272" y="128.1" width="4" height="249.5" fill="url(#g21)"/><rect x="276" y="128.1" width="4" height="249.5" fill="url(#g22)"/><rect x="280" y="128.1" width="4" height="249.5" fill="url(#g23)"/><rect x="284" y="128.1" width="4" height="249.5" fill="url(#g24)"/><rect x="288" y="128.1" width="4" height="249.5" fill="url(#g25)"/><rect x="292" y="128.1" width="4" height="249.5" fill="url(#g26)"/><rect x="296" y="128.1" width="4" height="249.5" fill="url(#g27)"/><rect x="300" y="128.1" width="4" height="249.5" fill="url(#g28)"/><rect x="304" y="128.1" width="4" height="249.5" fill="url(#g29)"/><rect x="308" y="128.1" width="4" height="249.5" fill="url(#g2a)"/><rect x="312" y="128.1" width="4" height="249.5" fill="url(#g2b)"/><rect x="316" y="128.1" width="4" height="249.5" fill="url(#g2c)"/><rect x="320" y="128.1" width="4" height="249.5" fill="url(#g2d)"/><rect x="324" y="128.1" width="4" height="249.5" fill="url(#g2e)"/><rect x="328" y="128.1" width="4" height="249.5" fill="url(#g2f)"/><rect x="332" y="128.1" width="4" height="249.5" fill="url(#g30)"/><rect x="336" y="128.1" width="4" height="249.5" fill="url(#g31)"/><rect x="340" y="128.1" width="4" height="249.5" fill="url(#g32)"/><rect x="344" y="128.1" width="4" height="249.5" fill="url(#g33)"/><rect x="348" y="128.1" width="4" height="249.5" fill="url(#g34)"/><rect x="352" y="128.1" width="4" height="249.5" fill="url(#g35)"/><rect x="356" y="128.1" width="4" height="249.5" fill="url(#g36)"/><rect x="360" y="128.1" width="4" height="249.5" fill="url(#g37)"/><rect x="364" y="128.1" width="4" height="249.5" fill="url(#g38)"/><rect x="368" y="128.1" width="4" height="249.5" fill="url(#g39)"/><rect x="372" y="128.1" width="4" height="249.5" fill="url(#g3a)"/><rect x="376" y="128.1" width="4" height="249.5" fill="url(#g3b)"/><rect x="380" y="128.1" width="4" height="249.5" fill="url(#g3c)"/><rect x="384" y="128.1" width="4" height="249.5" fill="url(#g3d)"/><rect x="388" y="128.1" width="4" height="249.5" fill="url(#g3e)"/></g></g></g><g clip-path="url(#cs1)"><g filter="url(#fbwr)"><rect x="426.3" y="128.1" width="242.7" height="249.9" fill="url(#car1)"/><g fill="#808080"><rect x="428" y="128.1" width="4" height="249.9" fill="url(#g3f)"/><rect x="432" y="128.1" width="4" height="249.9" fill="url(#g40)"/><rect x="436" y="128.1" width="4" height="249.9" fill="url(#g41)"/><rect x="440" y="128.1" width="4" height="249.9" fill="url(#g42)"/><rect x="444" y="128.1" width="4" height="249.9" fill="url(#g43)"/><rect x="448" y="128.1" width="4" height="249.9" fill="url(#g44)"/><rect x="452" y="128.1" width="4" height="249.9" fill="url(#g45)"/><rect x="456" y="128.1" width="4" height="249.9" fill="url(#g46)"/><rect x="460" y="128.1" width="4" height="249.9" fill="url(#g47)"/><rect x="464" y="128.1" width="4" height="249.9" fill="url(#g48)"/><rect x="468" y="128.1" width="4" height="249.9" fill="url(#g49)"/><rect x="472" y="128.1" width="4" height="249.9" fill="url(#g4a)"/><rect x="476" y="128.1" width="4" height="249.9" fill="url(#g4b)"/><rect x="480" y="128.1" width="4" height="249.9" fill="url(#g4c)"/><rect x="484" y="128.1" width="4" height="249.9" fill="url(#g4d)"/><rect x="488" y="128.1" width="4" height="249.9" fill="url(#g4e)"/><rect x="492" y="128.1" width="4" height="249.9" fill="url(#g4f)"/><rect x="496" y="128.1" width="4" height="249.9" fill="url(#g50)"/><rect x="500" y="128.1" width="4" height="249.9" fill="url(#g51)"/><rect x="504" y="128.1" width="4" height="249.9" fill="url(#g52)"/><rect x="508" y="128.1" width="4" height="249.9" fill="url(#g53)"/><rect x="512" y="128.1" width="4" height="249.9" fill="url(#g54)"/><rect x="516" y="128.1" width="4" height="249.9" fill="url(#g55)"/><rect x="520" y="128.1" width="4" height="249.9" fill="url(#g56)"/><rect x="524" y="128.1" width="4" height="249.9" fill="url(#g57)"/><rect x="528" y="128.1" width="4" height="249.9" fill="url(#g58)"/><rect x="532" y="128.1" width="4" height="249.9" fill="url(#g59)"/><rect x="536" y="128.1" width="4" height="249.9" fill="url(#g5a)"/><rect x="540" y="128.1" width="4" height="249.9" fill="url(#g5b)"/><rect x="544" y="128.1" width="4" height="249.9" fill="url(#g5c)"/><rect x="548" y="128.1" width="4" height="249.9" fill="url(#g5d)"/><rect x="552" y="128.1" width="4" height="249.9" fill="url(#g5e)"/><rect x="556" y="128.1" width="4" height="249.9" fill="url(#g5f)"/><rect x="560" y="128.1" width="4" height="249.9" fill="url(#g60)"/><rect x="564" y="128.1" width="4" height="249.9" fill="url(#g61)"/><rect x="568" y="128.1" width="4" height="249.9" fill="url(#g62)"/><rect x="572" y="128.1" width="4" height="249.9" fill="url(#g63)"/><rect x="576" y="128.1" width="4" height="249.9" fill="url(#g64)"/><rect x="580" y="128.1" width="4" height="249.9" fill="url(#g65)"/><rect x="584" y="128.1" width="4" height="249.9" fill="url(#g66)"/><rect x="588" y="128.1" width="4" height="249.9" fill="url(#g67)"/><rect x="592" y="128.1" width="4" height="249.9" fill="url(#g68)"/><rect x="596" y="128.1" width="4" height="249.9" fill="url(#g69)"/><rect x="600" y="128.1" width="4" height="249.9" fill="url(#g6a)"/><rect x="604" y="128.1" width="4" height="249.9" fill="url(#g6b)"/><rect x="608" y="128.1" width="4" height="249.9" fill="url(#g6c)"/><rect x="612" y="128.1" width="4" height="249.9" fill="url(#g6d)"/><rect x="616" y="128.1" width="4" height="249.9" fill="url(#g6e)"/><rect x="620" y="128.1" width="4" height="249.9" fill="url(#g6f)"/><rect x="624" y="128.1" width="4" height="249.9" fill="url(#g70)"/><rect x="628" y="128.1" width="4" height="249.9" fill="url(#g71)"/><rect x="632" y="128.1" width="4" height="249.9" fill="url(#g72)"/><rect x="636" y="128.1" width="4" height="249.9" fill="url(#g73)"/><rect x="640" y="128.1" width="4" height="249.9" fill="url(#g74)"/><rect x="644" y="128.1" width="4" height="249.9" fill="url(#g75)"/><rect x="648" y="128.1" width="4" height="249.9" fill="url(#g76)"/><rect x="652" y="128.1" width="4" height="249.9" fill="url(#g77)"/><rect x="656" y="128.1" width="4" height="249.9" fill="url(#g78)"/><rect x="660" y="128.1" width="4" height="249.9" fill="url(#g79)"/><rect x="664" y="128.1" width="4" height="249.9" fill="url(#g7a)"/></g></g></g><g clip-path="url(#cs2)"><g filter="url(#fbwr)"><rect x="706.2" y="127.7" width="251.8" height="255.3" fill="url(#car2)"/><g fill="#808080"><rect x="708" y="127.7" width="4" height="255.3" fill="url(#g7b)"/><rect x="712" y="127.7" width="4" height="255.3" fill="url(#g7c)"/><rect x="716" y="127.7" width="4" height="255.3" fill="url(#g7d)"/><rect x="720" y="127.7" width="4" height="255.3" fill="url(#g7e)"/><rect x="724" y="127.7" width="4" height="255.3" fill="url(#g7f)"/><rect x="728" y="127.7" width="4" height="255.3" fill="url(#g80)"/><rect x="732" y="127.7" width="4" height="255.3" fill="url(#g81)"/><rect x="736" y="127.7" width="4" height="255.3" fill="url(#g82)"/><rect x="740" y="127.7" width="4" height="255.3" fill="url(#g83)"/><rect x="744" y="127.7" width="4" height="255.3" fill="url(#g84)"/><rect x="748" y="127.7" width="4" height="255.3" fill="url(#g85)"/><rect x="752" y="127.7" width="4" height="255.3" fill="url(#g86)"/><rect x="756" y="127.7" width="4" height="255.3" fill="url(#g87)"/><rect x="760" y="127.7" width="4" height="255.3" fill="url(#g88)"/><rect x="764" y="127.7" width="4" height="255.3" fill="url(#g89)"/><rect x="768" y="127.7" width="4" height="255.3" fill="url(#g8a)"/><rect x="772" y="127.7" width="4" height="255.3" fill="url(#g8b)"/><rect x="776" y="127.7" width="4" height="255.3" fill="url(#g8c)"/><rect x="780" y="127.7" width="4" height="255.3" fill="url(#g8d)"/><rect x="784" y="127.7" width="4" height="255.3" fill="url(#g8e)"/><rect x="788" y="127.7" width="4" height="255.3" fill="url(#g8f)"/><rect x="792" y="127.7" width="4" height="255.3" fill="url(#g90)"/><rect x="796" y="127.7" width="4" height="255.3" fill="url(#g91)"/><rect x="800" y="127.7" width="4" height="255.3" fill="url(#g92)"/><rect x="804" y="127.7" width="4" height="255.3" fill="url(#g93)"/><rect x="808" y="127.7" width="4" height="255.3" fill="url(#g94)"/><rect x="812" y="127.7" width="4" height="255.3" fill="url(#g95)"/><rect x="816" y="127.7" width="4" height="255.3" fill="url(#g96)"/><rect x="820" y="127.7" width="4" height="255.3" fill="url(#g97)"/><rect x="824" y="127.7" width="4" height="255.3" fill="url(#g98)"/><rect x="828" y="127.7" width="4" height="255.3" fill="url(#g99)"/><rect x="832" y="127.7" width="4" height="255.3" fill="url(#g9a)"/><rect x="836" y="127.7" width="4" height="255.3" fill="url(#g9b)"/><rect x="840" y="127.7" width="4" height="255.3" fill="url(#g9c)"/><rect x="844" y="127.7" width="4" height="255.3" fill="url(#g9d)"/><rect x="848" y="127.7" width="4" height="255.3" fill="url(#g9e)"/><rect x="852" y="127.7" width="4" height="255.3" fill="url(#g9f)"/><rect x="856" y="127.7" width="4" height="255.3" fill="url(#ga0)"/><rect x="860" y="127.7" width="4" height="255.3" fill="url(#ga1)"/><rect x="864" y="127.7" width="4" height="255.3" fill="url(#ga2)"/><rect x="868" y="127.7" width="4" height="255.3" fill="url(#ga3)"/><rect x="872" y="127.7" width="4" height="255.3" fill="url(#ga4)"/><rect x="876" y="127.7" width="4" height="255.3" fill="url(#ga5)"/><rect x="880" y="127.7" width="4" height="255.3" fill="url(#ga6)"/><rect x="884" y="127.7" width="4" height="255.3" fill="url(#ga7)"/><rect x="888" y="127.7" width="4" height="255.3" fill="url(#ga8)"/><rect x="892" y="127.7" width="4" height="255.3" fill="url(#ga9)"/><rect x="896" y="127.7" width="4" height="255.3" fill="url(#gaa)"/><rect x="900" y="127.7" width="4" height="255.3" fill="url(#gab)"/><rect x="904" y="127.7" width="4" height="255.3" fill="url(#gac)"/><rect x="908" y="127.7" width="4" height="255.3" fill="url(#gad)"/><rect x="912" y="127.7" width="4" height="255.3" fill="url(#gae)"/><rect x="916" y="127.7" width="4" height="255.3" fill="url(#gaf)"/><rect x="920" y="127.7" width="4" height="255.3" fill="url(#gb0)"/><rect x="924" y="127.7" width="4" height="255.3" fill="url(#gb1)"/><rect x="928" y="127.7" width="4" height="255.3" fill="url(#gb2)"/><rect x="932" y="127.7" width="4" height="255.3" fill="url(#gb3)"/><rect x="936" y="127.7" width="4" height="255.3" fill="url(#gb4)"/><rect x="940" y="127.7" width="4" height="255.3" fill="url(#gb5)"/><rect x="944" y="127.7" width="4" height="255.3" fill="url(#gb6)"/><rect x="948" y="127.7" width="4" height="255.3" fill="url(#gb7)"/><rect x="952" y="127.7" width="4" height="255.3" fill="url(#gb8)"/></g></g></g><g clip-path="url(#cs3)"><g filter="url(#fbwr)"><rect x="993.4" y="127.3" width="12.9" height="256.2" fill="url(#car3_0)"/><rect x="1006" y="127.3" width="41.3" height="256.2" fill="url(#car3_1)"/><rect x="1047" y="127.3" width="26.3" height="256.2" fill="url(#car3_2)"/><rect x="1073" y="127.3" width="52.3" height="256.2" fill="url(#car3_3)"/><rect x="1125" y="127.3" width="33.3" height="256.2" fill="url(#car3_4)"/><rect x="1158" y="127.3" width="55.3" height="256.2" fill="url(#car3_5)"/><rect x="1213" y="127.3" width="32.1" height="256.2" fill="url(#car3_6)"/><g fill="#808080"><rect x="995" y="127.3" width="4" height="256.2" fill="url(#gb9)"/><rect x="999" y="127.3" width="4" height="256.2" fill="url(#gba)"/><rect x="1003" y="127.3" width="4" height="256.2" fill="url(#gbb)"/><rect x="1007" y="127.3" width="4" height="256.2" fill="url(#gbc)"/><rect x="1011" y="127.3" width="4" height="256.2" fill="url(#gbd)"/><rect x="1015" y="127.3" width="4" height="256.2" fill="url(#gbe)"/><rect x="1019" y="127.3" width="4" height="256.2" fill="url(#gbf)"/><rect x="1023" y="127.3" width="4" height="256.2" fill="url(#gc0)"/><rect x="1027" y="127.3" width="4" height="256.2" fill="url(#gc1)"/><rect x="1031" y="127.3" width="4" height="256.2" fill="url(#gc2)"/><rect x="1035" y="127.3" width="4" height="256.2" fill="url(#gc3)"/><rect x="1039" y="127.3" width="4" height="256.2" fill="url(#gc4)"/><rect x="1043" y="127.3" width="4" height="256.2" fill="url(#gc5)"/><rect x="1047" y="127.3" width="4" height="256.2" fill="url(#gc6)"/><rect x="1051" y="127.3" width="4" height="256.2" fill="url(#gc7)"/><rect x="1055" y="127.3" width="4" height="256.2" fill="url(#gc8)"/><rect x="1059" y="127.3" width="4" height="256.2" fill="url(#gc9)"/><rect x="1063" y="127.3" width="4" height="256.2" fill="url(#gca)"/><rect x="1067" y="127.3" width="4" height="256.2" fill="url(#gcb)"/><rect x="1071" y="127.3" width="4" height="256.2" fill="url(#gcc)"/><rect x="1075" y="127.3" width="4" height="256.2" fill="url(#gcd)"/><rect x="1079" y="127.3" width="4" height="256.2" fill="url(#gce)"/><rect x="1083" y="127.3" width="4" height="256.2" fill="url(#gcf)"/><rect x="1087" y="127.3" width="4" height="256.2" fill="url(#gd0)"/><rect x="1091" y="127.3" width="4" height="256.2" fill="url(#gd1)"/><rect x="1095" y="127.3" width="4" height="256.2" fill="url(#gd2)"/><rect x="1099" y="127.3" width="4" height="256.2" fill="url(#gd3)"/><rect x="1103" y="127.3" width="4" height="256.2" fill="url(#gd4)"/><rect x="1107" y="127.3" width="4" height="256.2" fill="url(#gd5)"/><rect x="1111" y="127.3" width="4" height="256.2" fill="url(#gd6)"/><rect x="1115" y="127.3" width="4" height="256.2" fill="url(#gd7)"/><rect x="1119" y="127.3" width="4" height="256.2" fill="url(#gd8)"/><rect x="1123" y="127.3" width="4" height="256.2" fill="url(#gd9)"/><rect x="1127" y="127.3" width="4" height="256.2" fill="url(#gda)"/><rect x="1131" y="127.3" width="4" height="256.2" fill="url(#gdb)"/><rect x="1135" y="127.3" width="4" height="256.2" fill="url(#gdc)"/><rect x="1139" y="127.3" width="4" height="256.2" fill="url(#gdd)"/><rect x="1143" y="127.3" width="4" height="256.2" fill="url(#gde)"/><rect x="1147" y="127.3" width="4" height="256.2" fill="url(#gdf)"/><rect x="1151" y="127.3" width="4" height="256.2" fill="url(#ge0)"/><rect x="1155" y="127.3" width="4" height="256.2" fill="url(#ge1)"/><rect x="1159" y="127.3" width="4" height="256.2" fill="url(#ge2)"/><rect x="1163" y="127.3" width="4" height="256.2" fill="url(#ge3)"/><rect x="1167" y="127.3" width="4" height="256.2" fill="url(#ge4)"/><rect x="1171" y="127.3" width="4" height="256.2" fill="url(#ge5)"/><rect x="1175" y="127.3" width="4" height="256.2" fill="url(#ge6)"/><rect x="1179" y="127.3" width="4" height="256.2" fill="url(#ge7)"/><rect x="1183" y="127.3" width="4" height="256.2" fill="url(#ge8)"/><rect x="1187" y="127.3" width="4" height="256.2" fill="url(#ge9)"/><rect x="1191" y="127.3" width="4" height="256.2" fill="url(#gea)"/><rect x="1195" y="127.3" width="4" height="256.2" fill="url(#geb)"/><rect x="1199" y="127.3" width="4" height="256.2" fill="url(#gec)"/><rect x="1203" y="127.3" width="4" height="256.2" fill="url(#ged)"/><rect x="1207" y="127.3" width="4" height="256.2" fill="url(#gee)"/><rect x="1211" y="127.3" width="4" height="256.2" fill="url(#gef)"/><rect x="1215" y="127.3" width="4" height="256.2" fill="url(#gf0)"/><rect x="1219" y="127.3" width="4" height="256.2" fill="url(#gf1)"/><rect x="1223" y="127.3" width="4" height="256.2" fill="url(#gf2)"/><rect x="1227" y="127.3" width="4" height="256.2" fill="url(#gf3)"/><rect x="1231" y="127.3" width="4" height="256.2" fill="url(#gf4)"/><rect x="1235" y="127.3" width="4" height="256.2" fill="url(#gf5)"/><rect x="1239" y="127.3" width="4" height="256.2" fill="url(#gf6)"/></g></g></g>
<text transform="translate(75.4 226.8) rotate(-90) scale(1 1.04)" x="-95.14" font-size="43">Time (ms)</text>
<text transform="translate(90.48 203.7) scale(1 1.04)" font-size="36.5">1.4</text>
<text transform="translate(91.03 271) scale(1 1.04)" font-size="36.5">1.3</text>
<text transform="translate(91.21 337.5) scale(1 1.04)" font-size="36.5">1.2</text>
<defs><linearGradient id="cbw" x1="0" y1="0" x2="0" y2="1"><stop offset="0" stop-color="#f00"/><stop offset=".1" stop-color="#ff1919"/><stop offset=".25" stop-color="#ff8282"/><stop offset=".4" stop-color="#ffd7d7"/><stop offset=".5" stop-color="#fff"/><stop offset=".6" stop-color="#e6e6ff"/><stop offset=".75" stop-color="#9696ff"/><stop offset=".9" stop-color="#2828ff"/><stop offset="1" stop-color="#00f"/></linearGradient></defs>
<rect x="1314.5" y="177.5" width="12.5" height="157.5" fill="url(#cbw)" stroke="#999" stroke-width="0.6"/>
<path d="M1327 216h-2M1327 256h-2M1327 295.5h-2" stroke="#555" stroke-width="1"/>
<text x="1285.22" y="157.4" font-size="32">max</text>
<text transform="translate(1333.14 261.6) scale(1 1.04)" font-size="33">0</text>
<text transform="translate(1287.86 370.3) scale(1 0.98)" font-size="33">min</text>
<text class="si" font-size="38.7" stroke="#fff" stroke-width="0.6" transform="translate(1258.56 266.5) scale(1.4 1)">u</text>
<text x="1283.1" y="274.5" font-size="29.4" class="si">y</text>
<defs><filter id="fic" x="-20%" y="-20%" width="140%" height="140%"><feGaussianBlur stdDeviation="2.2"/></filter><clipPath id="cic1"><circle cx="411.8" cy="425.7" r="38"/></clipPath><clipPath id="cic2"><circle cx="975.9" cy="428" r="38"/></clipPath><radialGradient id="rg1"><stop offset=".55" stop-color="#f08080"/><stop offset="1" stop-color="#f2b6b6"/></radialGradient><radialGradient id="rg2"><stop offset=".55" stop-color="#8080f0"/><stop offset="1" stop-color="#b6b6ee"/></radialGradient></defs>
<circle cx="411.8" cy="425.7" r="38" fill="url(#rg1)"/>
<g clip-path="url(#cic1)"><g fill="#ee0000" filter="url(#fic)"><circle cx="399.3" cy="413.2" r="13"/><circle cx="399.3" cy="438.2" r="13"/><circle cx="424.3" cy="413.2" r="13"/><circle cx="424.3" cy="438.2" r="13"/></g></g>
<circle cx="411.8" cy="425.7" r="16.8" fill="#fff" opacity=".6"/>
<circle cx="411.8" cy="425.7" r="15.8" fill="#0000ee"/>
<g fill="#c4c4c4"><circle cx="400.2" cy="414.1" r="4.6"/><circle cx="400.2" cy="437.3" r="4.6"/><circle cx="423.4" cy="414.1" r="4.6"/><circle cx="423.4" cy="437.3" r="4.6"/></g>
<circle cx="975.9" cy="428" r="38" fill="url(#rg2)"/>
<g clip-path="url(#cic2)"><g fill="#0000ee" filter="url(#fic)"><circle cx="963.4" cy="415.5" r="13"/><circle cx="963.4" cy="440.5" r="13"/><circle cx="988.4" cy="415.5" r="13"/><circle cx="988.4" cy="440.5" r="13"/></g></g>
<circle cx="975.9" cy="428" r="16.8" fill="#fff" opacity=".6"/>
<circle cx="975.9" cy="428" r="15.8" fill="#ee0000"/>
<g fill="#c4c4c4"><circle cx="964.3" cy="416.4" r="4.6"/><circle cx="964.3" cy="439.6" r="4.6"/><circle cx="987.5" cy="416.4" r="4.6"/><circle cx="987.5" cy="439.6" r="4.6"/></g>
<defs><linearGradient id="gf7" x2="0" y2="1"><stop offset="0.000" stop-color="#2b2b2b"/><stop offset="0.070" stop-color="#2e2e2e"/><stop offset="0.111" stop-color="#3e3e3e"/><stop offset="0.156" stop-color="#5f5f5f"/><stop offset="0.285" stop-color="#9f9f9f"/><stop offset="0.319" stop-color="#b7b7b7"/><stop offset="0.371" stop-color="#cbcbcb"/><stop offset="0.463" stop-color="#d9d9d9"/><stop offset="0.586" stop-color="#d9d9d9"/><stop offset="0.656" stop-color="#cacaca"/><stop offset="0.715" stop-color="#9e9e9e"/><stop offset="0.827" stop-color="#606060"/><stop offset="0.941" stop-color="#373737"/><stop offset="0.986" stop-color="#232323"/><stop offset="1.001" stop-color="#222222"/></linearGradient><linearGradient id="gf8" x2="0" y2="1"><stop offset="0.000" stop-color="#2b2b2b"/><stop offset="0.070" stop-color="#2e2e2e"/><stop offset="0.111" stop-color="#3e3e3e"/><stop offset="0.156" stop-color="#5f5f5f"/><stop offset="0.285" stop-color="#9f9f9f"/><stop offset="0.319" stop-color="#b7b7b7"/><stop offset="0.371" stop-color="#cbcbcb"/><stop offset="0.463" stop-color="#d9d9d9"/><stop offset="0.586" stop-color="#d9d9d9"/><stop offset="0.656" stop-color="#cacaca"/><stop offset="0.715" stop-color="#9e9e9e"/><stop offset="0.827" stop-color="#606060"/><stop offset="0.941" stop-color="#373737"/><stop offset="0.986" stop-color="#232323"/><stop offset="1.001" stop-color="#212121"/></linearGradient><linearGradient id="gf9" x2="0" y2="1"><stop offset="0.000" stop-color="#2b2b2b"/><stop offset="0.070" stop-color="#2e2e2e"/><stop offset="0.111" stop-color="#3e3e3e"/><stop offset="0.156" stop-color="#5f5f5f"/><stop offset="0.285" stop-color="#9f9f9f"/><stop offset="0.319" stop-color="#b8b8b8"/><stop offset="0.371" stop-color="#cbcbcb"/><stop offset="0.463" stop-color="#d9d9d9"/><stop offset="0.586" stop-color="#d9d9d9"/><stop offset="0.656" stop-color="#cacaca"/><stop offset="0.715" stop-color="#9e9e9e"/><stop offset="0.827" stop-color="#606060"/><stop offset="0.941" stop-color="#373737"/><stop offset="0.986" stop-color="#232323"/><stop offset="1.001" stop-color="#212121"/></linearGradient><linearGradient id="gfa" x2="0" y2="1"><stop offset="0.000" stop-color="#2b2b2b"/><stop offset="0.070" stop-color="#2e2e2e"/><stop offset="0.111" stop-color="#3f3f3f"/><stop offset="0.156" stop-color="#616161"/><stop offset="0.282" stop-color="#a0a0a0"/><stop offset="0.315" stop-color="#b9b9b9"/><stop offset="0.367" stop-color="#cdcdcd"/><stop offset="0.460" stop-color="#dcdcdc"/><stop offset="0.545" stop-color="#dddddd"/><stop offset="0.586" stop-color="#dcdcdc"/><stop offset="0.656" stop-color="#cccccc"/><stop offset="0.715" stop-color="#9f9f9f"/><stop offset="0.827" stop-color="#606060"/><stop offset="0.941" stop-color="#373737"/><stop offset="0.986" stop-color="#232323"/><stop offset="1.001" stop-color="#222222"/></linearGradient><linearGradient id="gfb" x2="0" y2="1"><stop offset="0.000" stop-color="#2b2b2b"/><stop offset="0.067" stop-color="#2e2e2e"/><stop offset="0.107" stop-color="#3f3f3f"/><stop offset="0.148" stop-color="#606060"/><stop offset="0.271" stop-color="#9f9f9f"/><stop offset="0.304" stop-color="#b9b9b9"/><stop offset="0.360" stop-color="#d1d1d1"/><stop offset="0.452" stop-color="#e3e3e3"/><stop offset="0.519" stop-color="#e5e5e5"/><stop offset="0.582" stop-color="#e3e3e3"/><stop offset="0.656" stop-color="#cfcfcf"/><stop offset="0.715" stop-color="#a0a0a0"/><stop offset="0.827" stop-color="#606060"/><stop offset="0.941" stop-color="#373737"/><stop offset="0.986" stop-color="#242424"/><stop offset="1.001" stop-color="#232323"/></linearGradient><linearGradient id="gfc" x2="0" y2="1"><stop offset="0.000" stop-color="#2b2b2b"/><stop offset="0.067" stop-color="#2e2e2e"/><stop offset="0.104" stop-color="#3f3f3f"/><stop offset="0.145" stop-color="#616161"/><stop offset="0.259" stop-color="#9f9f9f"/><stop offset="0.297" stop-color="#bcbcbc"/><stop offset="0.352" stop-color="#d5d5d5"/><stop offset="0.448" stop-color="#ebebeb"/><stop offset="0.515" stop-color="#eeeeee"/><stop offset="0.582" stop-color="#eaeaea"/><stop offset="0.656" stop-color="#d3d3d3"/><stop offset="0.715" stop-color="#a1a1a1"/><stop offset="0.767" stop-color="#808080"/><stop offset="0.827" stop-color="#606060"/><stop offset="0.986" stop-color="#252525"/><stop offset="1.001" stop-color="#242424"/></linearGradient><linearGradient id="gfd" x2="0" y2="1"><stop offset="0.000" stop-color="#2b2b2b"/><stop offset="0.063" stop-color="#2e2e2e"/><stop offset="0.100" stop-color="#3f3f3f"/><stop offset="0.141" stop-color="#616161"/><stop offset="0.245" stop-color="#9a9a9a"/><stop offset="0.289" stop-color="#bcbcbc"/><stop offset="0.348" stop-color="#d7d7d7"/><stop offset="0.445" stop-color="#f1f1f1"/><stop offset="0.511" stop-color="#f5f5f5"/><stop offset="0.578" stop-color="#f0f0f0"/><stop offset="0.656" stop-color="#d6d6d6"/><stop offset="0.719" stop-color="#9f9f9f"/><stop offset="0.767" stop-color="#818181"/><stop offset="0.827" stop-color="#616161"/><stop offset="0.986" stop-color="#272727"/><stop offset="1.001" stop-color="#252525"/></linearGradient><linearGradient id="gfe" x2="0" y2="1"><stop offset="0.000" stop-color="#2b2b2b"/><stop offset="0.063" stop-color="#2e2e2e"/><stop offset="0.100" stop-color="#3f3f3f"/><stop offset="0.141" stop-color="#606060"/><stop offset="0.245" stop-color="#9a9a9a"/><stop offset="0.289" stop-color="#bcbcbc"/><stop offset="0.348" stop-color="#d8d8d8"/><stop offset="0.445" stop-color="#f3f3f3"/><stop offset="0.511" stop-color="#f7f7f7"/><stop offset="0.578" stop-color="#f3f3f3"/><stop offset="0.656" stop-color="#d8d8d8"/><stop offset="0.723" stop-color="#9d9d9d"/><stop offset="0.767" stop-color="#818181"/><stop offset="0.827" stop-color="#616161"/><stop offset="0.901" stop-color="#444444"/><stop offset="0.986" stop-color="#282828"/><stop offset="1.001" stop-color="#272727"/></linearGradient><linearGradient id="gff" x2="0" y2="1"><stop offset="0.000" stop-color="#2b2b2b"/><stop offset="0.067" stop-color="#2e2e2e"/><stop offset="0.104" stop-color="#3e3e3e"/><stop offset="0.145" stop-color="#5f5f5f"/><stop offset="0.263" stop-color="#9f9f9f"/><stop offset="0.300" stop-color="#bcbcbc"/><stop offset="0.356" stop-color="#d7d7d7"/><stop offset="0.452" stop-color="#f1f1f1"/><stop offset="0.511" stop-color="#f4f4f4"/><stop offset="0.582" stop-color="#efefef"/><stop offset="0.656" stop-color="#d6d6d6"/><stop offset="0.675" stop-color="#c9c9c9"/><stop offset="0.719" stop-color="#a0a0a0"/><stop offset="0.767" stop-color="#818181"/><stop offset="0.827" stop-color="#616161"/><stop offset="0.949" stop-color="#353535"/><stop offset="0.990" stop-color="#292929"/><stop offset="1.001" stop-color="#292929"/></linearGradient><linearGradient id="g100" x2="0" y2="1"><stop offset="0.000" stop-color="#2b2b2b"/><stop offset="0.070" stop-color="#2e2e2e"/><stop offset="0.111" stop-color="#3f3f3f"/><stop offset="0.152" stop-color="#5f5f5f"/><stop offset="0.256" stop-color="#939393"/><stop offset="0.282" stop-color="#a1a1a1"/><stop offset="0.315" stop-color="#bcbcbc"/><stop offset="0.367" stop-color="#d4d4d4"/><stop offset="0.460" stop-color="#e8e8e8"/><stop offset="0.511" stop-color="#eaeaea"/><stop offset="0.589" stop-color="#e6e6e6"/><stop offset="0.660" stop-color="#d2d2d2"/><stop offset="0.719" stop-color="#a0a0a0"/><stop offset="0.771" stop-color="#808080"/><stop offset="0.830" stop-color="#606060"/><stop offset="0.945" stop-color="#363636"/><stop offset="0.990" stop-color="#2a2a2a"/><stop offset="1.001" stop-color="#2a2a2a"/></linearGradient><linearGradient id="g101" x2="0" y2="1"><stop offset="0.000" stop-color="#2b2b2b"/><stop offset="0.070" stop-color="#2e2e2e"/><stop offset="0.111" stop-color="#3e3e3e"/><stop offset="0.156" stop-color="#5f5f5f"/><stop offset="0.285" stop-color="#9f9f9f"/><stop offset="0.322" stop-color="#bababa"/><stop offset="0.374" stop-color="#cecece"/><stop offset="0.467" stop-color="#dddddd"/><stop offset="0.511" stop-color="#dddddd"/><stop offset="0.593" stop-color="#dcdcdc"/><stop offset="0.667" stop-color="#cbcbcb"/><stop offset="0.726" stop-color="#9f9f9f"/><stop offset="0.834" stop-color="#606060"/><stop offset="0.949" stop-color="#353535"/><stop offset="1.001" stop-color="#2b2b2b"/></linearGradient><linearGradient id="g102" x2="0" y2="1"><stop offset="0.000" stop-color="#2b2b2b"/><stop offset="0.070" stop-color="#2e2e2e"/><stop offset="0.111" stop-color="#3f3f3f"/><stop offset="0.156" stop-color="#606060"/><stop offset="0.282" stop-color="#9d9d9d"/><stop offset="0.319" stop-color="#b6b6b6"/><stop offset="0.374" stop-color="#c8c8c8"/><stop offset="0.467" stop-color="#d2d2d2"/><stop offset="0.597" stop-color="#d3d3d3"/><stop offset="0.675" stop-color="#c6c6c6"/><stop offset="0.734" stop-color="#9e9e9e"/><stop offset="0.838" stop-color="#606060"/><stop offset="0.949" stop-color="#363636"/><stop offset="1.001" stop-color="#2b2b2b"/></linearGradient><linearGradient id="g103" x2="0" y2="1"><stop offset="0.000" stop-color="#2b2b2b"/><stop offset="0.070" stop-color="#2e2e2e"/><stop offset="0.111" stop-color="#404040"/><stop offset="0.152" stop-color="#606060"/><stop offset="0.278" stop-color="#9e9e9e"/><stop offset="0.311" stop-color="#b3b3b3"/><stop offset="0.371" stop-color="#c5c5c5"/><stop offset="0.467" stop-color="#cbcbcb"/><stop offset="0.600" stop-color="#cecece"/><stop offset="0.678" stop-color="#c3c3c3"/><stop offset="0.841" stop-color="#5f5f5f"/><stop offset="0.949" stop-color="#363636"/><stop offset="1.001" stop-color="#2b2b2b"/></linearGradient><linearGradient id="g104" x2="0" y2="1"><stop offset="0.000" stop-color="#2b2b2b"/><stop offset="0.070" stop-color="#2f2f2f"/><stop offset="0.107" stop-color="#3f3f3f"/><stop offset="0.148" stop-color="#5f5f5f"/><stop offset="0.271" stop-color="#9d9d9d"/><stop offset="0.308" stop-color="#b5b5b5"/><stop offset="0.363" stop-color="#c5c5c5"/><stop offset="0.456" stop-color="#cbcbcb"/><stop offset="0.589" stop-color="#cdcdcd"/><stop offset="0.663" stop-color="#c3c3c3"/><stop offset="0.775" stop-color="#808080"/><stop offset="0.834" stop-color="#5f5f5f"/><stop offset="0.949" stop-color="#353535"/><stop offset="1.001" stop-color="#2a2a2a"/></linearGradient><linearGradient id="g105" x2="0" y2="1"><stop offset="0.000" stop-color="#2b2b2b"/><stop offset="0.070" stop-color="#2f2f2f"/><stop offset="0.107" stop-color="#404040"/><stop offset="0.148" stop-color="#606060"/><stop offset="0.267" stop-color="#9e9e9e"/><stop offset="0.300" stop-color="#b5b5b5"/><stop offset="0.356" stop-color="#c8c8c8"/><stop offset="0.445" stop-color="#d0d0d0"/><stop offset="0.571" stop-color="#d0d0d0"/><stop offset="0.645" stop-color="#c4c4c4"/><stop offset="0.704" stop-color="#9d9d9d"/><stop offset="0.819" stop-color="#606060"/><stop offset="0.945" stop-color="#353535"/><stop offset="0.990" stop-color="#2a2a2a"/><stop offset="1.001" stop-color="#292929"/></linearGradient><linearGradient id="g106" x2="0" y2="1"><stop offset="0.000" stop-color="#2b2b2b"/><stop offset="0.067" stop-color="#2e2e2e"/><stop offset="0.107" stop-color="#404040"/><stop offset="0.148" stop-color="#606060"/><stop offset="0.267" stop-color="#9e9e9e"/><stop offset="0.300" stop-color="#b6b6b6"/><stop offset="0.356" stop-color="#cbcbcb"/><stop offset="0.445" stop-color="#d6d6d6"/><stop offset="0.571" stop-color="#d6d6d6"/><stop offset="0.645" stop-color="#c7c7c7"/><stop offset="0.701" stop-color="#9f9f9f"/><stop offset="0.819" stop-color="#606060"/><stop offset="0.893" stop-color="#454545"/><stop offset="0.986" stop-color="#292929"/><stop offset="1.001" stop-color="#282828"/></linearGradient><linearGradient id="g107" x2="0" y2="1"><stop offset="0.000" stop-color="#2b2b2b"/><stop offset="0.070" stop-color="#2e2e2e"/><stop offset="0.111" stop-color="#404040"/><stop offset="0.152" stop-color="#606060"/><stop offset="0.278" stop-color="#a0a0a0"/><stop offset="0.311" stop-color="#b9b9b9"/><stop offset="0.363" stop-color="#cdcdcd"/><stop offset="0.456" stop-color="#dbdbdb"/><stop offset="0.537" stop-color="#dbdbdb"/><stop offset="0.582" stop-color="#dbdbdb"/><stop offset="0.652" stop-color="#cbcbcb"/><stop offset="0.712" stop-color="#9e9e9e"/><stop offset="0.823" stop-color="#606060"/><stop offset="0.986" stop-color="#272727"/><stop offset="1.001" stop-color="#262626"/></linearGradient><linearGradient id="g108" x2="0" y2="1"><stop offset="0.000" stop-color="#2b2b2b"/><stop offset="0.070" stop-color="#2e2e2e"/><stop offset="0.111" stop-color="#3f3f3f"/><stop offset="0.156" stop-color="#606060"/><stop offset="0.285" stop-color="#a0a0a0"/><stop offset="0.319" stop-color="#b9b9b9"/><stop offset="0.371" stop-color="#cecece"/><stop offset="0.463" stop-color="#dddddd"/><stop offset="0.530" stop-color="#dedede"/><stop offset="0.593" stop-color="#dcdcdc"/><stop offset="0.663" stop-color="#cccccc"/><stop offset="0.723" stop-color="#9e9e9e"/><stop offset="0.830" stop-color="#606060"/><stop offset="0.986" stop-color="#262626"/><stop offset="1.001" stop-color="#242424"/></linearGradient><linearGradient id="g109" x2="0" y2="1"><stop offset="0.000" stop-color="#2b2b2b"/><stop offset="0.070" stop-color="#2e2e2e"/><stop offset="0.115" stop-color="#404040"/><stop offset="0.156" stop-color="#5f5f5f"/><stop offset="0.285" stop-color="#9f9f9f"/><stop offset="0.322" stop-color="#bababa"/><stop offset="0.374" stop-color="#cfcfcf"/><stop offset="0.467" stop-color="#dedede"/><stop offset="0.530" stop-color="#dedede"/><stop offset="0.597" stop-color="#dddddd"/><stop offset="0.671" stop-color="#cbcbcb"/><stop offset="0.730" stop-color="#9e9e9e"/><stop offset="0.834" stop-color="#606060"/><stop offset="0.986" stop-color="#242424"/><stop offset="1.001" stop-color="#232323"/></linearGradient><linearGradient id="g10a" x2="0" y2="1"><stop offset="0.000" stop-color="#2b2b2b"/><stop offset="0.070" stop-color="#2e2e2e"/><stop offset="0.115" stop-color="#404040"/><stop offset="0.159" stop-color="#616161"/><stop offset="0.285" stop-color="#9e9e9e"/><stop offset="0.322" stop-color="#bababa"/><stop offset="0.374" stop-color="#cfcfcf"/><stop offset="0.467" stop-color="#dfdfdf"/><stop offset="0.526" stop-color="#e0e0e0"/><stop offset="0.597" stop-color="#dedede"/><stop offset="0.671" stop-color="#cccccc"/><stop offset="0.730" stop-color="#9e9e9e"/><stop offset="0.834" stop-color="#616161"/><stop offset="0.941" stop-color="#383838"/><stop offset="0.986" stop-color="#232323"/><stop offset="1.001" stop-color="#222222"/></linearGradient><linearGradient id="g10b" x2="0" y2="1"><stop offset="0.000" stop-color="#2b2b2b"/><stop offset="0.070" stop-color="#2e2e2e"/><stop offset="0.115" stop-color="#3f3f3f"/><stop offset="0.159" stop-color="#606060"/><stop offset="0.289" stop-color="#9f9f9f"/><stop offset="0.326" stop-color="#bababa"/><stop offset="0.378" stop-color="#d0d0d0"/><stop offset="0.471" stop-color="#e1e1e1"/><stop offset="0.526" stop-color="#e2e2e2"/><stop offset="0.597" stop-color="#e0e0e0"/><stop offset="0.671" stop-color="#cdcdcd"/><stop offset="0.730" stop-color="#9f9f9f"/><stop offset="0.834" stop-color="#616161"/><stop offset="0.941" stop-color="#383838"/><stop offset="0.986" stop-color="#232323"/><stop offset="1.001" stop-color="#212121"/></linearGradient><linearGradient id="g10c" x2="0" y2="1"><stop offset="0.000" stop-color="#2b2b2b"/><stop offset="0.074" stop-color="#2e2e2e"/><stop offset="0.115" stop-color="#3e3e3e"/><stop offset="0.163" stop-color="#616161"/><stop offset="0.285" stop-color="#9b9b9b"/><stop offset="0.297" stop-color="#a0a0a0"/><stop offset="0.330" stop-color="#bbbbbb"/><stop offset="0.382" stop-color="#d1d1d1"/><stop offset="0.471" stop-color="#e2e2e2"/><stop offset="0.523" stop-color="#e3e3e3"/><stop offset="0.600" stop-color="#e0e0e0"/><stop offset="0.671" stop-color="#cecece"/><stop offset="0.730" stop-color="#9f9f9f"/><stop offset="0.834" stop-color="#616161"/><stop offset="0.941" stop-color="#383838"/><stop offset="0.986" stop-color="#232323"/><stop offset="1.001" stop-color="#212121"/></linearGradient><linearGradient id="g10d" x2="0" y2="1"><stop offset="0.000" stop-color="#2b2b2b"/><stop offset="0.074" stop-color="#2e2e2e"/><stop offset="0.119" stop-color="#3f3f3f"/><stop offset="0.163" stop-color="#5f5f5f"/><stop offset="0.297" stop-color="#9e9e9e"/><stop offset="0.334" stop-color="#bababa"/><stop offset="0.385" stop-color="#d1d1d1"/><stop offset="0.474" stop-color="#e2e2e2"/><stop offset="0.523" stop-color="#e2e2e2"/><stop offset="0.600" stop-color="#e0e0e0"/><stop offset="0.671" stop-color="#cecece"/><stop offset="0.730" stop-color="#9f9f9f"/><stop offset="0.834" stop-color="#616161"/><stop offset="0.941" stop-color="#383838"/><stop offset="0.986" stop-color="#232323"/><stop offset="1.001" stop-color="#222222"/></linearGradient><linearGradient id="g10e" x2="0" y2="1"><stop offset="0.000" stop-color="#2b2b2b"/><stop offset="0.074" stop-color="#2e2e2e"/><stop offset="0.119" stop-color="#3e3e3e"/><stop offset="0.167" stop-color="#606060"/><stop offset="0.304" stop-color="#9f9f9f"/><stop offset="0.337" stop-color="#b8b8b8"/><stop offset="0.389" stop-color="#cecece"/><stop offset="0.478" stop-color="#dcdcdc"/><stop offset="0.541" stop-color="#dcdcdc"/><stop offset="0.604" stop-color="#dbdbdb"/><stop offset="0.671" stop-color="#cbcbcb"/><stop offset="0.730" stop-color="#9e9e9e"/><stop offset="0.834" stop-color="#616161"/><stop offset="0.941" stop-color="#383838"/><stop offset="0.986" stop-color="#242424"/><stop offset="1.001" stop-color="#232323"/></linearGradient><linearGradient id="g10f" x2="0" y2="1"><stop offset="0.000" stop-color="#2b2b2b"/><stop offset="0.078" stop-color="#2e2e2e"/><stop offset="0.122" stop-color="#3f3f3f"/><stop offset="0.170" stop-color="#606060"/><stop offset="0.308" stop-color="#9e9e9e"/><stop offset="0.341" stop-color="#b6b6b6"/><stop offset="0.393" stop-color="#c9c9c9"/><stop offset="0.482" stop-color="#d4d4d4"/><stop offset="0.604" stop-color="#d5d5d5"/><stop offset="0.675" stop-color="#c7c7c7"/><stop offset="0.730" stop-color="#9e9e9e"/><stop offset="0.834" stop-color="#616161"/><stop offset="0.986" stop-color="#262626"/><stop offset="1.001" stop-color="#242424"/></linearGradient><linearGradient id="g110" x2="0" y2="1"><stop offset="0.000" stop-color="#2b2b2b"/><stop offset="0.078" stop-color="#2e2e2e"/><stop offset="0.122" stop-color="#3f3f3f"/><stop offset="0.170" stop-color="#606060"/><stop offset="0.311" stop-color="#9d9d9d"/><stop offset="0.345" stop-color="#b4b4b4"/><stop offset="0.397" stop-color="#c5c5c5"/><stop offset="0.482" stop-color="#cecece"/><stop offset="0.604" stop-color="#d1d1d1"/><stop offset="0.675" stop-color="#c5c5c5"/><stop offset="0.730" stop-color="#9d9d9d"/><stop offset="0.834" stop-color="#616161"/><stop offset="0.986" stop-color="#272727"/><stop offset="1.001" stop-color="#262626"/></linearGradient><linearGradient id="g111" x2="0" y2="1"><stop offset="0.000" stop-color="#2b2b2b"/><stop offset="0.078" stop-color="#2e2e2e"/><stop offset="0.122" stop-color="#3e3e3e"/><stop offset="0.174" stop-color="#616161"/><stop offset="0.315" stop-color="#9e9e9e"/><stop offset="0.348" stop-color="#b4b4b4"/><stop offset="0.397" stop-color="#c3c3c3"/><stop offset="0.486" stop-color="#cccccc"/><stop offset="0.604" stop-color="#d0d0d0"/><stop offset="0.675" stop-color="#c5c5c5"/><stop offset="0.730" stop-color="#9d9d9d"/><stop offset="0.834" stop-color="#616161"/><stop offset="0.949" stop-color="#353535"/><stop offset="0.990" stop-color="#282828"/><stop offset="1.001" stop-color="#272727"/></linearGradient><linearGradient id="g112" x2="0" y2="1"><stop offset="0.000" stop-color="#2b2b2b"/><stop offset="0.078" stop-color="#2e2e2e"/><stop offset="0.122" stop-color="#3e3e3e"/><stop offset="0.174" stop-color="#616161"/><stop offset="0.315" stop-color="#9e9e9e"/><stop offset="0.348" stop-color="#b4b4b4"/><stop offset="0.397" stop-color="#c4c4c4"/><stop offset="0.486" stop-color="#cecece"/><stop offset="0.604" stop-color="#d1d1d1"/><stop offset="0.675" stop-color="#c5c5c5"/><stop offset="0.730" stop-color="#9d9d9d"/><stop offset="0.834" stop-color="#616161"/><stop offset="0.949" stop-color="#353535"/><stop offset="0.990" stop-color="#292929"/><stop offset="1.001" stop-color="#292929"/></linearGradient><linearGradient id="g113" x2="0" y2="1"><stop offset="0.000" stop-color="#2b2b2b"/><stop offset="0.078" stop-color="#2e2e2e"/><stop offset="0.122" stop-color="#3f3f3f"/><stop offset="0.170" stop-color="#5f5f5f"/><stop offset="0.315" stop-color="#9e9e9e"/><stop offset="0.348" stop-color="#b6b6b6"/><stop offset="0.397" stop-color="#c6c6c6"/><stop offset="0.486" stop-color="#d2d2d2"/><stop offset="0.604" stop-color="#d3d3d3"/><stop offset="0.675" stop-color="#c7c7c7"/><stop offset="0.730" stop-color="#9f9f9f"/><stop offset="0.838" stop-color="#5f5f5f"/><stop offset="0.949" stop-color="#353535"/><stop offset="0.990" stop-color="#2b2b2b"/><stop offset="1.001" stop-color="#2a2a2a"/></linearGradient><linearGradient id="g114" x2="0" y2="1"><stop offset="0.000" stop-color="#2b2b2b"/><stop offset="0.078" stop-color="#2e2e2e"/><stop offset="0.122" stop-color="#3f3f3f"/><stop offset="0.170" stop-color="#606060"/><stop offset="0.311" stop-color="#9e9e9e"/><stop offset="0.345" stop-color="#b6b6b6"/><stop offset="0.397" stop-color="#c9c9c9"/><stop offset="0.486" stop-color="#d5d5d5"/><stop offset="0.608" stop-color="#d6d6d6"/><stop offset="0.678" stop-color="#c8c8c8"/><stop offset="0.734" stop-color="#9f9f9f"/><stop offset="0.841" stop-color="#5f5f5f"/><stop offset="0.949" stop-color="#363636"/><stop offset="1.001" stop-color="#2b2b2b"/></linearGradient><linearGradient id="g115" x2="0" y2="1"><stop offset="0.000" stop-color="#2b2b2b"/><stop offset="0.078" stop-color="#2e2e2e"/><stop offset="0.122" stop-color="#3f3f3f"/><stop offset="0.170" stop-color="#606060"/><stop offset="0.308" stop-color="#9e9e9e"/><stop offset="0.345" stop-color="#b8b8b8"/><stop offset="0.397" stop-color="#cbcbcb"/><stop offset="0.486" stop-color="#d8d8d8"/><stop offset="0.612" stop-color="#d8d8d8"/><stop offset="0.686" stop-color="#c9c9c9"/><stop offset="0.741" stop-color="#9f9f9f"/><stop offset="0.845" stop-color="#5f5f5f"/><stop offset="0.949" stop-color="#363636"/><stop offset="1.001" stop-color="#2b2b2b"/></linearGradient><linearGradient id="g116" x2="0" y2="1"><stop offset="0.000" stop-color="#2b2b2b"/><stop offset="0.074" stop-color="#2e2e2e"/><stop offset="0.122" stop-color="#404040"/><stop offset="0.167" stop-color="#606060"/><stop offset="0.308" stop-color="#a0a0a0"/><stop offset="0.341" stop-color="#b8b8b8"/><stop offset="0.397" stop-color="#cccccc"/><stop offset="0.489" stop-color="#d9d9d9"/><stop offset="0.523" stop-color="#d9d9d9"/><stop offset="0.619" stop-color="#d9d9d9"/><stop offset="0.689" stop-color="#cacaca"/><stop offset="0.793" stop-color="#828282"/><stop offset="0.849" stop-color="#5f5f5f"/><stop offset="0.953" stop-color="#353535"/><stop offset="1.001" stop-color="#2b2b2b"/></linearGradient><linearGradient id="g117" x2="0" y2="1"><stop offset="0.000" stop-color="#2b2b2b"/><stop offset="0.074" stop-color="#2e2e2e"/><stop offset="0.119" stop-color="#3f3f3f"/><stop offset="0.167" stop-color="#606060"/><stop offset="0.304" stop-color="#a0a0a0"/><stop offset="0.337" stop-color="#b9b9b9"/><stop offset="0.393" stop-color="#cfcfcf"/><stop offset="0.489" stop-color="#dfdfdf"/><stop offset="0.511" stop-color="#dfdfdf"/><stop offset="0.623" stop-color="#dddddd"/><stop offset="0.697" stop-color="#cccccc"/><stop offset="0.801" stop-color="#818181"/><stop offset="0.852" stop-color="#606060"/><stop offset="0.953" stop-color="#363636"/><stop offset="0.990" stop-color="#2b2b2b"/><stop offset="1.001" stop-color="#2a2a2a"/></linearGradient><linearGradient id="g118" x2="0" y2="1"><stop offset="0.000" stop-color="#2b2b2b"/><stop offset="0.078" stop-color="#2f2f2f"/><stop offset="0.119" stop-color="#3f3f3f"/><stop offset="0.163" stop-color="#5f5f5f"/><stop offset="0.282" stop-color="#979797"/><stop offset="0.300" stop-color="#a0a0a0"/><stop offset="0.337" stop-color="#bdbdbd"/><stop offset="0.393" stop-color="#d7d7d7"/><stop offset="0.478" stop-color="#e8e8e8"/><stop offset="0.511" stop-color="#ebebeb"/><stop offset="0.626" stop-color="#e4e4e4"/><stop offset="0.704" stop-color="#cecece"/><stop offset="0.808" stop-color="#808080"/><stop offset="0.856" stop-color="#606060"/><stop offset="0.956" stop-color="#343434"/><stop offset="0.990" stop-color="#292929"/><stop offset="1.001" stop-color="#292929"/></linearGradient><linearGradient id="g119" x2="0" y2="1"><stop offset="0.000" stop-color="#2b2b2b"/><stop offset="0.078" stop-color="#2f2f2f"/><stop offset="0.119" stop-color="#404040"/><stop offset="0.163" stop-color="#606060"/><stop offset="0.285" stop-color="#9a9a9a"/><stop offset="0.300" stop-color="#a3a3a3"/><stop offset="0.334" stop-color="#bfbfbf"/><stop offset="0.393" stop-color="#dedede"/><stop offset="0.471" stop-color="#f2f2f2"/><stop offset="0.511" stop-color="#f6f6f6"/><stop offset="0.563" stop-color="#f3f3f3"/><stop offset="0.630" stop-color="#eaeaea"/><stop offset="0.708" stop-color="#d1d1d1"/><stop offset="0.797" stop-color="#8b8b8b"/><stop offset="0.860" stop-color="#606060"/><stop offset="0.956" stop-color="#343434"/><stop offset="0.990" stop-color="#282828"/><stop offset="1.001" stop-color="#272727"/></linearGradient><linearGradient id="g11a" x2="0" y2="1"><stop offset="0.000" stop-color="#2b2b2b"/><stop offset="0.074" stop-color="#2e2e2e"/><stop offset="0.119" stop-color="#404040"/><stop offset="0.163" stop-color="#606060"/><stop offset="0.234" stop-color="#808080"/><stop offset="0.293" stop-color="#9f9f9f"/><stop offset="0.334" stop-color="#c2c2c2"/><stop offset="0.393" stop-color="#e2e2e2"/><stop offset="0.471" stop-color="#f8f8f8"/><stop offset="0.511" stop-color="#fcfcfc"/><stop offset="0.563" stop-color="#f9f9f9"/><stop offset="0.630" stop-color="#eeeeee"/><stop offset="0.712" stop-color="#d1d1d1"/><stop offset="0.797" stop-color="#8d8d8d"/><stop offset="0.860" stop-color="#616161"/><stop offset="0.956" stop-color="#343434"/><stop offset="0.990" stop-color="#262626"/><stop offset="1.001" stop-color="#262626"/></linearGradient><linearGradient id="g11b" x2="0" y2="1"><stop offset="0.000" stop-color="#2b2b2b"/><stop offset="0.074" stop-color="#2e2e2e"/><stop offset="0.119" stop-color="#404040"/><stop offset="0.163" stop-color="#606060"/><stop offset="0.234" stop-color="#808080"/><stop offset="0.297" stop-color="#a1a1a1"/><stop offset="0.334" stop-color="#c1c1c1"/><stop offset="0.393" stop-color="#e1e1e1"/><stop offset="0.471" stop-color="#f6f6f6"/><stop offset="0.511" stop-color="#fafafa"/><stop offset="0.563" stop-color="#f7f7f7"/><stop offset="0.630" stop-color="#ededed"/><stop offset="0.708" stop-color="#d2d2d2"/><stop offset="0.797" stop-color="#8c8c8c"/><stop offset="0.860" stop-color="#606060"/><stop offset="0.986" stop-color="#262626"/><stop offset="1.001" stop-color="#242424"/></linearGradient><linearGradient id="g11c" x2="0" y2="1"><stop offset="0.000" stop-color="#2b2b2b"/><stop offset="0.074" stop-color="#2e2e2e"/><stop offset="0.119" stop-color="#404040"/><stop offset="0.163" stop-color="#606060"/><stop offset="0.285" stop-color="#9b9b9b"/><stop offset="0.297" stop-color="#a1a1a1"/><stop offset="0.334" stop-color="#bfbfbf"/><stop offset="0.389" stop-color="#dadada"/><stop offset="0.478" stop-color="#efefef"/><stop offset="0.515" stop-color="#f1f1f1"/><stop offset="0.623" stop-color="#e8e8e8"/><stop offset="0.701" stop-color="#d0d0d0"/><stop offset="0.789" stop-color="#8c8c8c"/><stop offset="0.856" stop-color="#5f5f5f"/><stop offset="0.986" stop-color="#242424"/><stop offset="1.001" stop-color="#232323"/></linearGradient><linearGradient id="g11d" x2="0" y2="1"><stop offset="0.000" stop-color="#2b2b2b"/><stop offset="0.074" stop-color="#2e2e2e"/><stop offset="0.115" stop-color="#3f3f3f"/><stop offset="0.163" stop-color="#616161"/><stop offset="0.271" stop-color="#939393"/><stop offset="0.297" stop-color="#a1a1a1"/><stop offset="0.330" stop-color="#bbbbbb"/><stop offset="0.385" stop-color="#d3d3d3"/><stop offset="0.482" stop-color="#e6e6e6"/><stop offset="0.519" stop-color="#e6e6e6"/><stop offset="0.615" stop-color="#e2e2e2"/><stop offset="0.693" stop-color="#cdcdcd"/><stop offset="0.775" stop-color="#8f8f8f"/><stop offset="0.849" stop-color="#606060"/><stop offset="0.941" stop-color="#3a3a3a"/><stop offset="0.986" stop-color="#232323"/><stop offset="1.001" stop-color="#222222"/></linearGradient><linearGradient id="g11e" x2="0" y2="1"><stop offset="0.000" stop-color="#2b2b2b"/><stop offset="0.074" stop-color="#2e2e2e"/><stop offset="0.115" stop-color="#3f3f3f"/><stop offset="0.159" stop-color="#5f5f5f"/><stop offset="0.293" stop-color="#9f9f9f"/><stop offset="0.330" stop-color="#bababa"/><stop offset="0.382" stop-color="#cecece"/><stop offset="0.478" stop-color="#dfdfdf"/><stop offset="0.534" stop-color="#dfdfdf"/><stop offset="0.612" stop-color="#dddddd"/><stop offset="0.686" stop-color="#cbcbcb"/><stop offset="0.752" stop-color="#9a9a9a"/><stop offset="0.845" stop-color="#606060"/><stop offset="0.941" stop-color="#393939"/><stop offset="0.986" stop-color="#232323"/><stop offset="1.001" stop-color="#212121"/></linearGradient><linearGradient id="g11f" x2="0" y2="1"><stop offset="0.000" stop-color="#2b2b2b"/><stop offset="0.070" stop-color="#2e2e2e"/><stop offset="0.115" stop-color="#3f3f3f"/><stop offset="0.159" stop-color="#606060"/><stop offset="0.289" stop-color="#9e9e9e"/><stop offset="0.326" stop-color="#b9b9b9"/><stop offset="0.382" stop-color="#cfcfcf"/><stop offset="0.478" stop-color="#dedede"/><stop offset="0.537" stop-color="#dedede"/><stop offset="0.608" stop-color="#dddddd"/><stop offset="0.682" stop-color="#cccccc"/><stop offset="0.771" stop-color="#8d8d8d"/><stop offset="0.845" stop-color="#5f5f5f"/><stop offset="0.941" stop-color="#393939"/><stop offset="0.986" stop-color="#232323"/><stop offset="1.001" stop-color="#212121"/></linearGradient><linearGradient id="g120" x2="0" y2="1"><stop offset="0.000" stop-color="#2b2b2b"/><stop offset="0.070" stop-color="#2e2e2e"/><stop offset="0.115" stop-color="#3f3f3f"/><stop offset="0.159" stop-color="#606060"/><stop offset="0.289" stop-color="#9f9f9f"/><stop offset="0.326" stop-color="#bababa"/><stop offset="0.382" stop-color="#d0d0d0"/><stop offset="0.474" stop-color="#e0e0e0"/><stop offset="0.526" stop-color="#e0e0e0"/><stop offset="0.608" stop-color="#dedede"/><stop offset="0.682" stop-color="#cccccc"/><stop offset="0.749" stop-color="#9b9b9b"/><stop offset="0.841" stop-color="#616161"/><stop offset="0.941" stop-color="#393939"/><stop offset="0.986" stop-color="#232323"/><stop offset="1.001" stop-color="#222222"/></linearGradient><linearGradient id="g121" x2="0" y2="1"><stop offset="0.000" stop-color="#2b2b2b"/><stop offset="0.070" stop-color="#2e2e2e"/><stop offset="0.115" stop-color="#404040"/><stop offset="0.159" stop-color="#616161"/><stop offset="0.285" stop-color="#9e9e9e"/><stop offset="0.322" stop-color="#bababa"/><stop offset="0.378" stop-color="#d2d2d2"/><stop offset="0.471" stop-color="#e3e3e3"/><stop offset="0.519" stop-color="#e4e4e4"/><stop offset="0.604" stop-color="#e1e1e1"/><stop offset="0.678" stop-color="#cecece"/><stop offset="0.749" stop-color="#999999"/><stop offset="0.841" stop-color="#606060"/><stop offset="0.986" stop-color="#242424"/><stop offset="1.001" stop-color="#232323"/></linearGradient><linearGradient id="g122" x2="0" y2="1"><stop offset="0.000" stop-color="#2b2b2b"/><stop offset="0.070" stop-color="#2e2e2e"/><stop offset="0.115" stop-color="#404040"/><stop offset="0.156" stop-color="#5f5f5f"/><stop offset="0.285" stop-color="#9f9f9f"/><stop offset="0.322" stop-color="#bbbbbb"/><stop offset="0.378" stop-color="#d4d4d4"/><stop offset="0.471" stop-color="#e6e6e6"/><stop offset="0.515" stop-color="#e7e7e7"/><stop offset="0.604" stop-color="#e3e3e3"/><stop offset="0.678" stop-color="#cfcfcf"/><stop offset="0.741" stop-color="#9d9d9d"/><stop offset="0.841" stop-color="#5f5f5f"/><stop offset="0.986" stop-color="#262626"/><stop offset="1.001" stop-color="#242424"/></linearGradient><linearGradient id="g123" x2="0" y2="1"><stop offset="0.000" stop-color="#2b2b2b"/><stop offset="0.070" stop-color="#2e2e2e"/><stop offset="0.115" stop-color="#404040"/><stop offset="0.156" stop-color="#5f5f5f"/><stop offset="0.285" stop-color="#a0a0a0"/><stop offset="0.322" stop-color="#bcbcbc"/><stop offset="0.378" stop-color="#d4d4d4"/><stop offset="0.471" stop-color="#e7e7e7"/><stop offset="0.515" stop-color="#e8e8e8"/><stop offset="0.600" stop-color="#e4e4e4"/><stop offset="0.678" stop-color="#cecece"/><stop offset="0.741" stop-color="#9c9c9c"/><stop offset="0.841" stop-color="#5f5f5f"/><stop offset="0.986" stop-color="#272727"/><stop offset="1.001" stop-color="#262626"/></linearGradient><linearGradient id="g124" x2="0" y2="1"><stop offset="0.000" stop-color="#2b2b2b"/><stop offset="0.070" stop-color="#2e2e2e"/><stop offset="0.115" stop-color="#404040"/><stop offset="0.156" stop-color="#5f5f5f"/><stop offset="0.285" stop-color="#9f9f9f"/><stop offset="0.322" stop-color="#bcbcbc"/><stop offset="0.374" stop-color="#d2d2d2"/><stop offset="0.471" stop-color="#e5e5e5"/><stop offset="0.511" stop-color="#e6e6e6"/><stop offset="0.600" stop-color="#e3e3e3"/><stop offset="0.675" stop-color="#cfcfcf"/><stop offset="0.738" stop-color="#9e9e9e"/><stop offset="0.838" stop-color="#616161"/><stop offset="0.953" stop-color="#343434"/><stop offset="0.990" stop-color="#282828"/><stop offset="1.001" stop-color="#282828"/></linearGradient><linearGradient id="g125" x2="0" y2="1"><stop offset="0.000" stop-color="#2b2b2b"/><stop offset="0.070" stop-color="#2e2e2e"/><stop offset="0.111" stop-color="#3e3e3e"/><stop offset="0.156" stop-color="#5f5f5f"/><stop offset="0.285" stop-color="#9f9f9f"/><stop offset="0.322" stop-color="#bbbbbb"/><stop offset="0.374" stop-color="#d0d0d0"/><stop offset="0.467" stop-color="#e0e0e0"/><stop offset="0.511" stop-color="#e1e1e1"/><stop offset="0.597" stop-color="#dfdfdf"/><stop offset="0.671" stop-color="#cdcdcd"/><stop offset="0.730" stop-color="#9f9f9f"/><stop offset="0.834" stop-color="#616161"/><stop offset="0.949" stop-color="#353535"/><stop offset="0.990" stop-color="#2a2a2a"/><stop offset="1.001" stop-color="#292929"/></linearGradient><linearGradient id="g126" x2="0" y2="1"><stop offset="0.000" stop-color="#2b2b2b"/><stop offset="0.070" stop-color="#2e2e2e"/><stop offset="0.111" stop-color="#3e3e3e"/><stop offset="0.156" stop-color="#606060"/><stop offset="0.285" stop-color="#9f9f9f"/><stop offset="0.319" stop-color="#b8b8b8"/><stop offset="0.371" stop-color="#cccccc"/><stop offset="0.463" stop-color="#d9d9d9"/><stop offset="0.526" stop-color="#d9d9d9"/><stop offset="0.589" stop-color="#d9d9d9"/><stop offset="0.660" stop-color="#cacaca"/><stop offset="0.719" stop-color="#9e9e9e"/><stop offset="0.830" stop-color="#5f5f5f"/><stop offset="0.945" stop-color="#363636"/><stop offset="1.001" stop-color="#2a2a2a"/></linearGradient><linearGradient id="g127" x2="0" y2="1"><stop offset="0.000" stop-color="#2b2b2b"/><stop offset="0.070" stop-color="#2e2e2e"/><stop offset="0.111" stop-color="#3f3f3f"/><stop offset="0.156" stop-color="#606060"/><stop offset="0.285" stop-color="#9f9f9f"/><stop offset="0.319" stop-color="#b7b7b7"/><stop offset="0.367" stop-color="#c8c8c8"/><stop offset="0.456" stop-color="#d3d3d3"/><stop offset="0.578" stop-color="#d4d4d4"/><stop offset="0.649" stop-color="#c7c7c7"/><stop offset="0.704" stop-color="#9f9f9f"/><stop offset="0.823" stop-color="#5f5f5f"/><stop offset="0.945" stop-color="#353535"/><stop offset="1.001" stop-color="#2b2b2b"/></linearGradient><linearGradient id="g128" x2="0" y2="1"><stop offset="0.000" stop-color="#2b2b2b"/><stop offset="0.070" stop-color="#2e2e2e"/><stop offset="0.111" stop-color="#3f3f3f"/><stop offset="0.156" stop-color="#606060"/><stop offset="0.282" stop-color="#9e9e9e"/><stop offset="0.315" stop-color="#b6b6b6"/><stop offset="0.367" stop-color="#c7c7c7"/><stop offset="0.452" stop-color="#d0d0d0"/><stop offset="0.571" stop-color="#d0d0d0"/><stop offset="0.641" stop-color="#c3c3c3"/><stop offset="0.693" stop-color="#9e9e9e"/><stop offset="0.815" stop-color="#5f5f5f"/><stop offset="0.941" stop-color="#363636"/><stop offset="1.001" stop-color="#2b2b2b"/></linearGradient><linearGradient id="g129" x2="0" y2="1"><stop offset="0.000" stop-color="#2b2b2b"/><stop offset="0.070" stop-color="#2e2e2e"/><stop offset="0.111" stop-color="#3f3f3f"/><stop offset="0.156" stop-color="#606060"/><stop offset="0.282" stop-color="#9e9e9e"/><stop offset="0.315" stop-color="#b6b6b6"/><stop offset="0.363" stop-color="#c7c7c7"/><stop offset="0.448" stop-color="#d0d0d0"/><stop offset="0.567" stop-color="#d0d0d0"/><stop offset="0.634" stop-color="#c3c3c3"/><stop offset="0.686" stop-color="#9e9e9e"/><stop offset="0.812" stop-color="#5f5f5f"/><stop offset="0.941" stop-color="#363636"/><stop offset="1.001" stop-color="#2b2b2b"/></linearGradient><linearGradient id="g12a" x2="0" y2="1"><stop offset="0.000" stop-color="#2b2b2b"/><stop offset="0.070" stop-color="#2e2e2e"/><stop offset="0.111" stop-color="#3f3f3f"/><stop offset="0.156" stop-color="#616161"/><stop offset="0.282" stop-color="#9f9f9f"/><stop offset="0.315" stop-color="#b7b7b7"/><stop offset="0.363" stop-color="#c9c9c9"/><stop offset="0.448" stop-color="#d3d3d3"/><stop offset="0.563" stop-color="#d3d3d3"/><stop offset="0.630" stop-color="#c6c6c6"/><stop offset="0.686" stop-color="#9d9d9d"/><stop offset="0.808" stop-color="#606060"/><stop offset="0.941" stop-color="#363636"/><stop offset="1.001" stop-color="#2a2a2a"/></linearGradient><linearGradient id="g12b" x2="0" y2="1"><stop offset="0.000" stop-color="#2b2b2b"/><stop offset="0.070" stop-color="#2e2e2e"/><stop offset="0.111" stop-color="#3f3f3f"/><stop offset="0.156" stop-color="#616161"/><stop offset="0.278" stop-color="#9e9e9e"/><stop offset="0.311" stop-color="#b7b7b7"/><stop offset="0.360" stop-color="#cbcbcb"/><stop offset="0.445" stop-color="#d7d7d7"/><stop offset="0.560" stop-color="#d7d7d7"/><stop offset="0.630" stop-color="#c8c8c8"/><stop offset="0.682" stop-color="#9f9f9f"/><stop offset="0.808" stop-color="#606060"/><stop offset="0.890" stop-color="#444444"/><stop offset="0.986" stop-color="#2a2a2a"/><stop offset="1.001" stop-color="#292929"/></linearGradient><linearGradient id="g12c" x2="0" y2="1"><stop offset="0.000" stop-color="#2b2b2b"/><stop offset="0.070" stop-color="#2e2e2e"/><stop offset="0.111" stop-color="#3f3f3f"/><stop offset="0.152" stop-color="#5f5f5f"/><stop offset="0.278" stop-color="#9e9e9e"/><stop offset="0.311" stop-color="#b9b9b9"/><stop offset="0.360" stop-color="#cecece"/><stop offset="0.445" stop-color="#dcdcdc"/><stop offset="0.523" stop-color="#dddddd"/><stop offset="0.560" stop-color="#dddddd"/><stop offset="0.626" stop-color="#cccccc"/><stop offset="0.678" stop-color="#a0a0a0"/><stop offset="0.804" stop-color="#606060"/><stop offset="0.886" stop-color="#454545"/><stop offset="0.986" stop-color="#282828"/><stop offset="1.001" stop-color="#272727"/></linearGradient><linearGradient id="g12d" x2="0" y2="1"><stop offset="0.000" stop-color="#2b2b2b"/><stop offset="0.070" stop-color="#2e2e2e"/><stop offset="0.111" stop-color="#3f3f3f"/><stop offset="0.152" stop-color="#5f5f5f"/><stop offset="0.278" stop-color="#9f9f9f"/><stop offset="0.311" stop-color="#bababa"/><stop offset="0.360" stop-color="#d0d0d0"/><stop offset="0.441" stop-color="#e0e0e0"/><stop offset="0.519" stop-color="#e1e1e1"/><stop offset="0.556" stop-color="#e1e1e1"/><stop offset="0.623" stop-color="#cfcfcf"/><stop offset="0.675" stop-color="#a0a0a0"/><stop offset="0.734" stop-color="#818181"/><stop offset="0.804" stop-color="#606060"/><stop offset="0.986" stop-color="#272727"/><stop offset="1.001" stop-color="#262626"/></linearGradient><linearGradient id="g12e" x2="0" y2="1"><stop offset="0.000" stop-color="#2b2b2b"/><stop offset="0.070" stop-color="#2e2e2e"/><stop offset="0.111" stop-color="#3f3f3f"/><stop offset="0.152" stop-color="#5f5f5f"/><stop offset="0.274" stop-color="#9d9d9d"/><stop offset="0.311" stop-color="#bbbbbb"/><stop offset="0.360" stop-color="#d1d1d1"/><stop offset="0.441" stop-color="#e1e1e1"/><stop offset="0.519" stop-color="#e3e3e3"/><stop offset="0.556" stop-color="#e2e2e2"/><stop offset="0.619" stop-color="#d1d1d1"/><stop offset="0.634" stop-color="#c6c6c6"/><stop offset="0.675" stop-color="#a0a0a0"/><stop offset="0.734" stop-color="#808080"/><stop offset="0.801" stop-color="#616161"/><stop offset="0.986" stop-color="#252525"/><stop offset="1.001" stop-color="#242424"/></linearGradient><linearGradient id="g12f" x2="0" y2="1"><stop offset="0.000" stop-color="#2b2b2b"/><stop offset="0.070" stop-color="#2e2e2e"/><stop offset="0.111" stop-color="#3f3f3f"/><stop offset="0.152" stop-color="#5f5f5f"/><stop offset="0.278" stop-color="#9f9f9f"/><stop offset="0.311" stop-color="#b9b9b9"/><stop offset="0.360" stop-color="#cecece"/><stop offset="0.441" stop-color="#dddddd"/><stop offset="0.534" stop-color="#dedede"/><stop offset="0.556" stop-color="#dedede"/><stop offset="0.623" stop-color="#cccccc"/><stop offset="0.675" stop-color="#9f9f9f"/><stop offset="0.804" stop-color="#5f5f5f"/><stop offset="0.945" stop-color="#343434"/><stop offset="0.986" stop-color="#242424"/><stop offset="1.001" stop-color="#232323"/></linearGradient><linearGradient id="g130" x2="0" y2="1"><stop offset="0.000" stop-color="#2b2b2b"/><stop offset="0.070" stop-color="#2e2e2e"/><stop offset="0.111" stop-color="#3f3f3f"/><stop offset="0.156" stop-color="#616161"/><stop offset="0.282" stop-color="#9f9f9f"/><stop offset="0.311" stop-color="#b6b6b6"/><stop offset="0.360" stop-color="#c9c9c9"/><stop offset="0.441" stop-color="#d4d4d4"/><stop offset="0.556" stop-color="#d4d4d4"/><stop offset="0.623" stop-color="#c5c5c5"/><stop offset="0.675" stop-color="#9e9e9e"/><stop offset="0.804" stop-color="#5f5f5f"/><stop offset="0.945" stop-color="#343434"/><stop offset="0.986" stop-color="#232323"/><stop offset="1.001" stop-color="#222222"/></linearGradient><linearGradient id="g131" x2="0" y2="1"><stop offset="0.000" stop-color="#292929"/><stop offset="0.070" stop-color="#2b2b2b"/><stop offset="0.111" stop-color="#393939"/><stop offset="0.156" stop-color="#565656"/><stop offset="0.222" stop-color="#777777"/><stop offset="0.282" stop-color="#999999"/><stop offset="0.315" stop-color="#b4b4b4"/><stop offset="0.363" stop-color="#c6c6c6"/><stop offset="0.445" stop-color="#cecece"/><stop offset="0.556" stop-color="#cdcdcd"/><stop offset="0.623" stop-color="#c1c1c1"/><stop offset="0.675" stop-color="#9d9d9d"/><stop offset="0.801" stop-color="#616161"/><stop offset="0.941" stop-color="#323232"/><stop offset="0.986" stop-color="#1d1d1d"/><stop offset="1.001" stop-color="#1c1c1c"/></linearGradient><linearGradient id="g132" x2="0" y2="1"><stop offset="0.000" stop-color="#232323"/><stop offset="0.070" stop-color="#252525"/><stop offset="0.115" stop-color="#2f2f2f"/><stop offset="0.137" stop-color="#383838"/><stop offset="0.204" stop-color="#5b5b5b"/><stop offset="0.245" stop-color="#747474"/><stop offset="0.285" stop-color="#929292"/><stop offset="0.322" stop-color="#b7b7b7"/><stop offset="0.363" stop-color="#c6c6c6"/><stop offset="0.445" stop-color="#cecece"/><stop offset="0.556" stop-color="#cdcdcd"/><stop offset="0.623" stop-color="#c1c1c1"/><stop offset="0.675" stop-color="#9d9d9d"/><stop offset="0.801" stop-color="#616161"/><stop offset="0.908" stop-color="#3e3e3e"/><stop offset="0.945" stop-color="#2e2e2e"/><stop offset="0.982" stop-color="#191919"/><stop offset="1.001" stop-color="#161616"/></linearGradient><linearGradient id="g133" x2="0" y2="1"><stop offset="0.000" stop-color="#1d1d1d"/><stop offset="0.074" stop-color="#1e1e1e"/><stop offset="0.145" stop-color="#282828"/><stop offset="0.196" stop-color="#3e3e3e"/><stop offset="0.241" stop-color="#575757"/><stop offset="0.289" stop-color="#7a7a7a"/><stop offset="0.322" stop-color="#9d9d9d"/><stop offset="0.363" stop-color="#aaaaaa"/><stop offset="0.445" stop-color="#b1b1b1"/><stop offset="0.556" stop-color="#b0b0b0"/><stop offset="0.619" stop-color="#a6a6a6"/><stop offset="0.671" stop-color="#888888"/><stop offset="0.734" stop-color="#6f6f6f"/><stop offset="0.801" stop-color="#555555"/><stop offset="0.904" stop-color="#3a3a3a"/><stop offset="0.941" stop-color="#292929"/><stop offset="0.982" stop-color="#111111"/><stop offset="1.001" stop-color="#0f0f0f"/></linearGradient><linearGradient id="g134" x2="0" y2="1"><stop offset="0.000" stop-color="#1b1b1b"/><stop offset="0.119" stop-color="#1c1c1c"/><stop offset="0.156" stop-color="#212121"/><stop offset="0.204" stop-color="#313131"/><stop offset="0.248" stop-color="#454545"/><stop offset="0.297" stop-color="#626262"/><stop offset="0.322" stop-color="#797979"/><stop offset="0.367" stop-color="#848484"/><stop offset="0.445" stop-color="#8a8a8a"/><stop offset="0.549" stop-color="#898989"/><stop offset="0.608" stop-color="#828282"/><stop offset="0.656" stop-color="#6c6c6c"/><stop offset="0.789" stop-color="#474747"/><stop offset="0.904" stop-color="#323232"/><stop offset="0.941" stop-color="#212121"/><stop offset="0.979" stop-color="#0b0b0b"/><stop offset="1.001" stop-color="#070707"/></linearGradient><linearGradient id="g135" x2="0" y2="1"><stop offset="0.000" stop-color="#1b1b1b"/><stop offset="0.122" stop-color="#1c1c1c"/><stop offset="0.156" stop-color="#202020"/><stop offset="0.204" stop-color="#2d2d2d"/><stop offset="0.248" stop-color="#3d3d3d"/><stop offset="0.304" stop-color="#585858"/><stop offset="0.330" stop-color="#696969"/><stop offset="0.371" stop-color="#727272"/><stop offset="0.441" stop-color="#767676"/><stop offset="0.541" stop-color="#767676"/><stop offset="0.597" stop-color="#6f6f6f"/><stop offset="0.641" stop-color="#5e5e5e"/><stop offset="0.782" stop-color="#404040"/><stop offset="0.904" stop-color="#2e2e2e"/><stop offset="0.941" stop-color="#1d1d1d"/><stop offset="0.979" stop-color="#080808"/><stop offset="1.001" stop-color="#050505"/></linearGradient><linearGradient id="g136" x2="0" y2="1"><stop offset="0.000" stop-color="#1b1b1b"/><stop offset="0.122" stop-color="#1c1c1c"/><stop offset="0.156" stop-color="#202020"/><stop offset="0.204" stop-color="#2d2d2d"/><stop offset="0.248" stop-color="#3d3d3d"/><stop offset="0.304" stop-color="#575757"/><stop offset="0.330" stop-color="#696969"/><stop offset="0.371" stop-color="#727272"/><stop offset="0.441" stop-color="#767676"/><stop offset="0.537" stop-color="#757575"/><stop offset="0.597" stop-color="#6f6f6f"/><stop offset="0.641" stop-color="#5d5d5d"/><stop offset="0.782" stop-color="#3f3f3f"/><stop offset="0.904" stop-color="#2e2e2e"/><stop offset="0.979" stop-color="#090909"/><stop offset="1.001" stop-color="#060606"/></linearGradient><clipPath id="cj0"><rect x="148.8" y="470.6" width="239.2" height="263.8"/></clipPath><linearGradient id="g137" x2="0" y2="1"><stop offset="0.000" stop-color="#1f1f1f"/><stop offset="0.093" stop-color="#1c1c1c"/><stop offset="0.185" stop-color="#090909"/><stop offset="0.234" stop-color="#0f0f0f"/><stop offset="0.334" stop-color="#232323"/><stop offset="0.374" stop-color="#303030"/><stop offset="0.434" stop-color="#4c4c4c"/><stop offset="0.460" stop-color="#616161"/><stop offset="0.552" stop-color="#787878"/><stop offset="0.649" stop-color="#888888"/><stop offset="0.749" stop-color="#7b7b7b"/><stop offset="0.871" stop-color="#4e4e4e"/><stop offset="0.934" stop-color="#3e3e3e"/><stop offset="1.001" stop-color="#333333"/></linearGradient><linearGradient id="g138" x2="0" y2="1"><stop offset="0.000" stop-color="#1f1f1f"/><stop offset="0.093" stop-color="#1c1c1c"/><stop offset="0.185" stop-color="#090909"/><stop offset="0.234" stop-color="#0f0f0f"/><stop offset="0.334" stop-color="#232323"/><stop offset="0.374" stop-color="#303030"/><stop offset="0.434" stop-color="#4c4c4c"/><stop offset="0.460" stop-color="#616161"/><stop offset="0.552" stop-color="#787878"/><stop offset="0.649" stop-color="#888888"/><stop offset="0.749" stop-color="#7b7b7b"/><stop offset="0.871" stop-color="#4e4e4e"/><stop offset="0.934" stop-color="#3e3e3e"/><stop offset="1.001" stop-color="#333333"/></linearGradient><linearGradient id="g139" x2="0" y2="1"><stop offset="0.000" stop-color="#1f1f1f"/><stop offset="0.093" stop-color="#1c1c1c"/><stop offset="0.185" stop-color="#090909"/><stop offset="0.234" stop-color="#0f0f0f"/><stop offset="0.334" stop-color="#232323"/><stop offset="0.374" stop-color="#303030"/><stop offset="0.434" stop-color="#4c4c4c"/><stop offset="0.460" stop-color="#616161"/><stop offset="0.552" stop-color="#787878"/><stop offset="0.649" stop-color="#888888"/><stop offset="0.749" stop-color="#7b7b7b"/><stop offset="0.871" stop-color="#4e4e4e"/><stop offset="0.934" stop-color="#3e3e3e"/><stop offset="1.001" stop-color="#333333"/></linearGradient><linearGradient id="g13a" x2="0" y2="1"><stop offset="0.000" stop-color="#1f1f1f"/><stop offset="0.093" stop-color="#1c1c1c"/><stop offset="0.185" stop-color="#090909"/><stop offset="0.234" stop-color="#0f0f0f"/><stop offset="0.334" stop-color="#232323"/><stop offset="0.374" stop-color="#303030"/><stop offset="0.434" stop-color="#4c4c4c"/><stop offset="0.460" stop-color="#616161"/><stop offset="0.552" stop-color="#787878"/><stop offset="0.649" stop-color="#888888"/><stop offset="0.749" stop-color="#7b7b7b"/><stop offset="0.871" stop-color="#4e4e4e"/><stop offset="0.934" stop-color="#3e3e3e"/><stop offset="1.001" stop-color="#333333"/></linearGradient><linearGradient id="g13b" x2="0" y2="1"><stop offset="0.000" stop-color="#1f1f1f"/><stop offset="0.093" stop-color="#1c1c1c"/><stop offset="0.185" stop-color="#090909"/><stop offset="0.234" stop-color="#0f0f0f"/><stop offset="0.334" stop-color="#232323"/><stop offset="0.374" stop-color="#303030"/><stop offset="0.434" stop-color="#4c4c4c"/><stop offset="0.460" stop-color="#616161"/><stop offset="0.552" stop-color="#787878"/><stop offset="0.649" stop-color="#888888"/><stop offset="0.749" stop-color="#7b7b7b"/><stop offset="0.871" stop-color="#4e4e4e"/><stop offset="0.934" stop-color="#3e3e3e"/><stop offset="1.001" stop-color="#333333"/></linearGradient><linearGradient id="g13c" x2="0" y2="1"><stop offset="0.000" stop-color="#1f1f1f"/><stop offset="0.093" stop-color="#1c1c1c"/><stop offset="0.185" stop-color="#090909"/><stop offset="0.234" stop-color="#0f0f0f"/><stop offset="0.334" stop-color="#232323"/><stop offset="0.374" stop-color="#303030"/><stop offset="0.434" stop-color="#4c4c4c"/><stop offset="0.460" stop-color="#616161"/><stop offset="0.552" stop-color="#787878"/><stop offset="0.649" stop-color="#888888"/><stop offset="0.749" stop-color="#7b7b7b"/><stop offset="0.871" stop-color="#4e4e4e"/><stop offset="0.934" stop-color="#3e3e3e"/><stop offset="1.001" stop-color="#333333"/></linearGradient><linearGradient id="g13d" x2="0" y2="1"><stop offset="0.000" stop-color="#1f1f1f"/><stop offset="0.096" stop-color="#1c1c1c"/><stop offset="0.189" stop-color="#090909"/><stop offset="0.237" stop-color="#0f0f0f"/><stop offset="0.337" stop-color="#242424"/><stop offset="0.378" stop-color="#303030"/><stop offset="0.437" stop-color="#4d4d4d"/><stop offset="0.463" stop-color="#616161"/><stop offset="0.552" stop-color="#777777"/><stop offset="0.649" stop-color="#878787"/><stop offset="0.749" stop-color="#7a7a7a"/><stop offset="0.871" stop-color="#4e4e4e"/><stop offset="0.934" stop-color="#3e3e3e"/><stop offset="1.001" stop-color="#333333"/></linearGradient><linearGradient id="g13e" x2="0" y2="1"><stop offset="0.000" stop-color="#1f1f1f"/><stop offset="0.096" stop-color="#1c1c1c"/><stop offset="0.193" stop-color="#090909"/><stop offset="0.241" stop-color="#0f0f0f"/><stop offset="0.341" stop-color="#232323"/><stop offset="0.385" stop-color="#313131"/><stop offset="0.445" stop-color="#4d4d4d"/><stop offset="0.471" stop-color="#616161"/><stop offset="0.560" stop-color="#767676"/><stop offset="0.652" stop-color="#838383"/><stop offset="0.752" stop-color="#777777"/><stop offset="0.871" stop-color="#4e4e4e"/><stop offset="0.934" stop-color="#3d3d3d"/><stop offset="1.001" stop-color="#333333"/></linearGradient><linearGradient id="g13f" x2="0" y2="1"><stop offset="0.000" stop-color="#1f1f1f"/><stop offset="0.100" stop-color="#1c1c1c"/><stop offset="0.196" stop-color="#090909"/><stop offset="0.248" stop-color="#0f0f0f"/><stop offset="0.352" stop-color="#242424"/><stop offset="0.397" stop-color="#313131"/><stop offset="0.456" stop-color="#4c4c4c"/><stop offset="0.486" stop-color="#616161"/><stop offset="0.567" stop-color="#727272"/><stop offset="0.660" stop-color="#7c7c7c"/><stop offset="0.756" stop-color="#727272"/><stop offset="0.871" stop-color="#4d4d4d"/><stop offset="0.934" stop-color="#3d3d3d"/><stop offset="1.001" stop-color="#333333"/></linearGradient><linearGradient id="g140" x2="0" y2="1"><stop offset="0.000" stop-color="#1f1f1f"/><stop offset="0.100" stop-color="#1c1c1c"/><stop offset="0.200" stop-color="#090909"/><stop offset="0.252" stop-color="#0f0f0f"/><stop offset="0.363" stop-color="#242424"/><stop offset="0.408" stop-color="#303030"/><stop offset="0.471" stop-color="#4c4c4c"/><stop offset="0.500" stop-color="#5f5f5f"/><stop offset="0.578" stop-color="#6e6e6e"/><stop offset="0.663" stop-color="#767676"/><stop offset="0.756" stop-color="#6e6e6e"/><stop offset="0.871" stop-color="#4c4c4c"/><stop offset="0.934" stop-color="#3d3d3d"/><stop offset="1.001" stop-color="#333333"/></linearGradient><linearGradient id="g141" x2="0" y2="1"><stop offset="0.000" stop-color="#1f1f1f"/><stop offset="0.104" stop-color="#1c1c1c"/><stop offset="0.208" stop-color="#090909"/><stop offset="0.259" stop-color="#0f0f0f"/><stop offset="0.371" stop-color="#242424"/><stop offset="0.415" stop-color="#303030"/><stop offset="0.482" stop-color="#4c4c4c"/><stop offset="0.508" stop-color="#5e5e5e"/><stop offset="0.586" stop-color="#6a6a6a"/><stop offset="0.671" stop-color="#717171"/><stop offset="0.760" stop-color="#6b6b6b"/><stop offset="0.934" stop-color="#3d3d3d"/><stop offset="1.001" stop-color="#333333"/></linearGradient><linearGradient id="g142" x2="0" y2="1"><stop offset="0.000" stop-color="#1f1f1f"/><stop offset="0.104" stop-color="#1c1c1c"/><stop offset="0.208" stop-color="#090909"/><stop offset="0.259" stop-color="#0f0f0f"/><stop offset="0.371" stop-color="#232323"/><stop offset="0.419" stop-color="#303030"/><stop offset="0.486" stop-color="#4b4b4b"/><stop offset="0.511" stop-color="#5d5d5d"/><stop offset="0.589" stop-color="#696969"/><stop offset="0.671" stop-color="#6f6f6f"/><stop offset="0.760" stop-color="#6a6a6a"/><stop offset="0.934" stop-color="#3d3d3d"/><stop offset="1.001" stop-color="#333333"/></linearGradient><linearGradient id="g143" x2="0" y2="1"><stop offset="0.000" stop-color="#1f1f1f"/><stop offset="0.104" stop-color="#1c1c1c"/><stop offset="0.208" stop-color="#090909"/><stop offset="0.259" stop-color="#0f0f0f"/><stop offset="0.371" stop-color="#232323"/><stop offset="0.419" stop-color="#303030"/><stop offset="0.482" stop-color="#4a4a4a"/><stop offset="0.511" stop-color="#5d5d5d"/><stop offset="0.586" stop-color="#696969"/><stop offset="0.671" stop-color="#6f6f6f"/><stop offset="0.760" stop-color="#6a6a6a"/><stop offset="0.934" stop-color="#3d3d3d"/><stop offset="1.001" stop-color="#333333"/></linearGradient><linearGradient id="g144" x2="0" y2="1"><stop offset="0.000" stop-color="#1f1f1f"/><stop offset="0.104" stop-color="#1c1c1c"/><stop offset="0.204" stop-color="#090909"/><stop offset="0.256" stop-color="#0f0f0f"/><stop offset="0.367" stop-color="#232323"/><stop offset="0.415" stop-color="#303030"/><stop offset="0.478" stop-color="#4a4a4a"/><stop offset="0.508" stop-color="#5e5e5e"/><stop offset="0.586" stop-color="#6a6a6a"/><stop offset="0.671" stop-color="#717171"/><stop offset="0.760" stop-color="#6a6a6a"/><stop offset="0.934" stop-color="#3d3d3d"/><stop offset="1.001" stop-color="#333333"/></linearGradient><linearGradient id="g145" x2="0" y2="1"><stop offset="0.000" stop-color="#1f1f1f"/><stop offset="0.104" stop-color="#1c1c1c"/><stop offset="0.204" stop-color="#090909"/><stop offset="0.256" stop-color="#0f0f0f"/><stop offset="0.363" stop-color="#232323"/><stop offset="0.411" stop-color="#313131"/><stop offset="0.474" stop-color="#4b4b4b"/><stop offset="0.504" stop-color="#5f5f5f"/><stop offset="0.582" stop-color="#6c6c6c"/><stop offset="0.667" stop-color="#727272"/><stop offset="0.756" stop-color="#6c6c6c"/><stop offset="0.934" stop-color="#3d3d3d"/><stop offset="1.001" stop-color="#333333"/></linearGradient><linearGradient id="g146" x2="0" y2="1"><stop offset="0.000" stop-color="#1f1f1f"/><stop offset="0.100" stop-color="#1c1c1c"/><stop offset="0.200" stop-color="#090909"/><stop offset="0.252" stop-color="#0f0f0f"/><stop offset="0.360" stop-color="#232323"/><stop offset="0.404" stop-color="#303030"/><stop offset="0.467" stop-color="#4b4b4b"/><stop offset="0.497" stop-color="#5f5f5f"/><stop offset="0.574" stop-color="#6d6d6d"/><stop offset="0.663" stop-color="#747474"/><stop offset="0.756" stop-color="#6d6d6d"/><stop offset="0.871" stop-color="#4c4c4c"/><stop offset="0.934" stop-color="#3d3d3d"/><stop offset="1.001" stop-color="#333333"/></linearGradient><linearGradient id="g147" x2="0" y2="1"><stop offset="0.000" stop-color="#1f1f1f"/><stop offset="0.100" stop-color="#1c1c1c"/><stop offset="0.200" stop-color="#090909"/><stop offset="0.248" stop-color="#0f0f0f"/><stop offset="0.356" stop-color="#232323"/><stop offset="0.400" stop-color="#303030"/><stop offset="0.463" stop-color="#4c4c4c"/><stop offset="0.489" stop-color="#5f5f5f"/><stop offset="0.571" stop-color="#6e6e6e"/><stop offset="0.660" stop-color="#767676"/><stop offset="0.756" stop-color="#6e6e6e"/><stop offset="0.871" stop-color="#4c4c4c"/><stop offset="0.934" stop-color="#3d3d3d"/><stop offset="1.001" stop-color="#333333"/></linearGradient><linearGradient id="g148" x2="0" y2="1"><stop offset="0.000" stop-color="#1f1f1f"/><stop offset="0.100" stop-color="#1c1c1c"/><stop offset="0.196" stop-color="#090909"/><stop offset="0.248" stop-color="#0f0f0f"/><stop offset="0.352" stop-color="#232323"/><stop offset="0.397" stop-color="#303030"/><stop offset="0.460" stop-color="#4d4d4d"/><stop offset="0.486" stop-color="#606060"/><stop offset="0.567" stop-color="#6f6f6f"/><stop offset="0.660" stop-color="#787878"/><stop offset="0.756" stop-color="#6f6f6f"/><stop offset="0.871" stop-color="#4c4c4c"/><stop offset="0.934" stop-color="#3d3d3d"/><stop offset="1.001" stop-color="#333333"/></linearGradient><linearGradient id="g149" x2="0" y2="1"><stop offset="0.000" stop-color="#1f1f1f"/><stop offset="0.100" stop-color="#1c1c1c"/><stop offset="0.196" stop-color="#090909"/><stop offset="0.245" stop-color="#0f0f0f"/><stop offset="0.352" stop-color="#242424"/><stop offset="0.393" stop-color="#303030"/><stop offset="0.456" stop-color="#4c4c4c"/><stop offset="0.482" stop-color="#5f5f5f"/><stop offset="0.567" stop-color="#707070"/><stop offset="0.660" stop-color="#797979"/><stop offset="0.756" stop-color="#707070"/><stop offset="0.871" stop-color="#4c4c4c"/><stop offset="0.934" stop-color="#3d3d3d"/><stop offset="1.001" stop-color="#333333"/></linearGradient><linearGradient id="g14a" x2="0" y2="1"><stop offset="0.000" stop-color="#1f1f1f"/><stop offset="0.100" stop-color="#1c1c1c"/><stop offset="0.196" stop-color="#090909"/><stop offset="0.245" stop-color="#0f0f0f"/><stop offset="0.352" stop-color="#242424"/><stop offset="0.393" stop-color="#303030"/><stop offset="0.456" stop-color="#4c4c4c"/><stop offset="0.482" stop-color="#606060"/><stop offset="0.567" stop-color="#717171"/><stop offset="0.660" stop-color="#797979"/><stop offset="0.756" stop-color="#707070"/><stop offset="0.871" stop-color="#4d4d4d"/><stop offset="0.934" stop-color="#3d3d3d"/><stop offset="1.001" stop-color="#333333"/></linearGradient><linearGradient id="g14b" x2="0" y2="1"><stop offset="0.000" stop-color="#1f1f1f"/><stop offset="0.096" stop-color="#1c1c1c"/><stop offset="0.196" stop-color="#090909"/><stop offset="0.245" stop-color="#0f0f0f"/><stop offset="0.348" stop-color="#232323"/><stop offset="0.393" stop-color="#303030"/><stop offset="0.456" stop-color="#4d4d4d"/><stop offset="0.482" stop-color="#616161"/><stop offset="0.567" stop-color="#737373"/><stop offset="0.656" stop-color="#7d7d7d"/><stop offset="0.752" stop-color="#737373"/><stop offset="0.871" stop-color="#4d4d4d"/><stop offset="0.934" stop-color="#3d3d3d"/><stop offset="1.001" stop-color="#333333"/></linearGradient><linearGradient id="g14c" x2="0" y2="1"><stop offset="0.000" stop-color="#1f1f1f"/><stop offset="0.096" stop-color="#1c1c1c"/><stop offset="0.193" stop-color="#090909"/><stop offset="0.245" stop-color="#0f0f0f"/><stop offset="0.348" stop-color="#242424"/><stop offset="0.393" stop-color="#313131"/><stop offset="0.452" stop-color="#4c4c4c"/><stop offset="0.482" stop-color="#626262"/><stop offset="0.563" stop-color="#757575"/><stop offset="0.656" stop-color="#818181"/><stop offset="0.752" stop-color="#767676"/><stop offset="0.871" stop-color="#4d4d4d"/><stop offset="0.934" stop-color="#3d3d3d"/><stop offset="1.001" stop-color="#333333"/></linearGradient><linearGradient id="g14d" x2="0" y2="1"><stop offset="0.000" stop-color="#1f1f1f"/><stop offset="0.096" stop-color="#1c1c1c"/><stop offset="0.193" stop-color="#090909"/><stop offset="0.245" stop-color="#0f0f0f"/><stop offset="0.348" stop-color="#242424"/><stop offset="0.393" stop-color="#313131"/><stop offset="0.452" stop-color="#4d4d4d"/><stop offset="0.478" stop-color="#616161"/><stop offset="0.563" stop-color="#767676"/><stop offset="0.656" stop-color="#838383"/><stop offset="0.752" stop-color="#777777"/><stop offset="0.871" stop-color="#4e4e4e"/><stop offset="0.934" stop-color="#3d3d3d"/><stop offset="1.001" stop-color="#333333"/></linearGradient><linearGradient id="g14e" x2="0" y2="1"><stop offset="0.000" stop-color="#1f1f1f"/><stop offset="0.096" stop-color="#1c1c1c"/><stop offset="0.196" stop-color="#090909"/><stop offset="0.245" stop-color="#0f0f0f"/><stop offset="0.348" stop-color="#232323"/><stop offset="0.393" stop-color="#303030"/><stop offset="0.456" stop-color="#4e4e4e"/><stop offset="0.482" stop-color="#616161"/><stop offset="0.567" stop-color="#767676"/><stop offset="0.656" stop-color="#828282"/><stop offset="0.752" stop-color="#767676"/><stop offset="0.871" stop-color="#4d4d4d"/><stop offset="0.934" stop-color="#3d3d3d"/><stop offset="1.001" stop-color="#333333"/></linearGradient><linearGradient id="g14f" x2="0" y2="1"><stop offset="0.000" stop-color="#1f1f1f"/><stop offset="0.100" stop-color="#1c1c1c"/><stop offset="0.200" stop-color="#090909"/><stop offset="0.248" stop-color="#0f0f0f"/><stop offset="0.356" stop-color="#242424"/><stop offset="0.400" stop-color="#313131"/><stop offset="0.463" stop-color="#4d4d4d"/><stop offset="0.489" stop-color="#616161"/><stop offset="0.571" stop-color="#737373"/><stop offset="0.660" stop-color="#7e7e7e"/><stop offset="0.756" stop-color="#747474"/><stop offset="0.871" stop-color="#4d4d4d"/><stop offset="0.934" stop-color="#3d3d3d"/><stop offset="1.001" stop-color="#333333"/></linearGradient><linearGradient id="g150" x2="0" y2="1"><stop offset="0.000" stop-color="#1f1f1f"/><stop offset="0.100" stop-color="#1c1c1c"/><stop offset="0.204" stop-color="#090909"/><stop offset="0.256" stop-color="#0f0f0f"/><stop offset="0.363" stop-color="#232323"/><stop offset="0.408" stop-color="#303030"/><stop offset="0.471" stop-color="#4b4b4b"/><stop offset="0.500" stop-color="#606060"/><stop offset="0.578" stop-color="#707070"/><stop offset="0.667" stop-color="#797979"/><stop offset="0.756" stop-color="#707070"/><stop offset="0.871" stop-color="#4d4d4d"/><stop offset="0.934" stop-color="#3d3d3d"/><stop offset="1.001" stop-color="#333333"/></linearGradient><linearGradient id="g151" x2="0" y2="1"><stop offset="0.000" stop-color="#1f1f1f"/><stop offset="0.104" stop-color="#1c1c1c"/><stop offset="0.208" stop-color="#090909"/><stop offset="0.259" stop-color="#0f0f0f"/><stop offset="0.371" stop-color="#232323"/><stop offset="0.419" stop-color="#303030"/><stop offset="0.486" stop-color="#4c4c4c"/><stop offset="0.515" stop-color="#5f5f5f"/><stop offset="0.589" stop-color="#6c6c6c"/><stop offset="0.671" stop-color="#747474"/><stop offset="0.760" stop-color="#6d6d6d"/><stop offset="0.871" stop-color="#4c4c4c"/><stop offset="0.934" stop-color="#3d3d3d"/><stop offset="1.001" stop-color="#333333"/></linearGradient><linearGradient id="g152" x2="0" y2="1"><stop offset="0.000" stop-color="#1f1f1f"/><stop offset="0.107" stop-color="#1c1c1c"/><stop offset="0.211" stop-color="#090909"/><stop offset="0.267" stop-color="#0f0f0f"/><stop offset="0.382" stop-color="#242424"/><stop offset="0.426" stop-color="#2f2f2f"/><stop offset="0.493" stop-color="#494949"/><stop offset="0.526" stop-color="#5d5d5d"/><stop offset="0.597" stop-color="#686868"/><stop offset="0.678" stop-color="#6f6f6f"/><stop offset="0.760" stop-color="#6a6a6a"/><stop offset="0.934" stop-color="#3d3d3d"/><stop offset="1.001" stop-color="#333333"/></linearGradient><linearGradient id="g153" x2="0" y2="1"><stop offset="0.000" stop-color="#1f1f1f"/><stop offset="0.107" stop-color="#1c1c1c"/><stop offset="0.219" stop-color="#090909"/><stop offset="0.330" stop-color="#191919"/><stop offset="0.434" stop-color="#2f2f2f"/><stop offset="0.500" stop-color="#484848"/><stop offset="0.534" stop-color="#5b5b5b"/><stop offset="0.600" stop-color="#656565"/><stop offset="0.682" stop-color="#6b6b6b"/><stop offset="0.764" stop-color="#676767"/><stop offset="0.934" stop-color="#3d3d3d"/><stop offset="1.001" stop-color="#333333"/></linearGradient><linearGradient id="g154" x2="0" y2="1"><stop offset="0.000" stop-color="#1f1f1f"/><stop offset="0.107" stop-color="#1c1c1c"/><stop offset="0.219" stop-color="#090909"/><stop offset="0.334" stop-color="#1a1a1a"/><stop offset="0.437" stop-color="#303030"/><stop offset="0.504" stop-color="#484848"/><stop offset="0.534" stop-color="#5a5a5a"/><stop offset="0.604" stop-color="#646464"/><stop offset="0.682" stop-color="#6a6a6a"/><stop offset="0.764" stop-color="#676767"/><stop offset="0.934" stop-color="#3d3d3d"/><stop offset="1.001" stop-color="#333333"/></linearGradient><linearGradient id="g155" x2="0" y2="1"><stop offset="0.000" stop-color="#1f1f1f"/><stop offset="0.107" stop-color="#1c1c1c"/><stop offset="0.219" stop-color="#090909"/><stop offset="0.334" stop-color="#1a1a1a"/><stop offset="0.434" stop-color="#2f2f2f"/><stop offset="0.504" stop-color="#494949"/><stop offset="0.534" stop-color="#5a5a5a"/><stop offset="0.604" stop-color="#646464"/><stop offset="0.682" stop-color="#6a6a6a"/><stop offset="0.764" stop-color="#676767"/><stop offset="0.934" stop-color="#3d3d3d"/><stop offset="1.001" stop-color="#333333"/></linearGradient><linearGradient id="g156" x2="0" y2="1"><stop offset="0.000" stop-color="#1f1f1f"/><stop offset="0.107" stop-color="#1c1c1c"/><stop offset="0.215" stop-color="#090909"/><stop offset="0.330" stop-color="#1a1a1a"/><stop offset="0.430" stop-color="#2f2f2f"/><stop offset="0.500" stop-color="#4a4a4a"/><stop offset="0.530" stop-color="#5b5b5b"/><stop offset="0.600" stop-color="#666666"/><stop offset="0.678" stop-color="#6c6c6c"/><stop offset="0.764" stop-color="#676767"/><stop offset="0.934" stop-color="#3d3d3d"/><stop offset="1.001" stop-color="#333333"/></linearGradient><linearGradient id="g157" x2="0" y2="1"><stop offset="0.000" stop-color="#1f1f1f"/><stop offset="0.104" stop-color="#1c1c1c"/><stop offset="0.211" stop-color="#090909"/><stop offset="0.263" stop-color="#0f0f0f"/><stop offset="0.378" stop-color="#232323"/><stop offset="0.426" stop-color="#303030"/><stop offset="0.493" stop-color="#4a4a4a"/><stop offset="0.523" stop-color="#5c5c5c"/><stop offset="0.593" stop-color="#676767"/><stop offset="0.675" stop-color="#6d6d6d"/><stop offset="0.760" stop-color="#696969"/><stop offset="0.934" stop-color="#3d3d3d"/><stop offset="1.001" stop-color="#333333"/></linearGradient><linearGradient id="g158" x2="0" y2="1"><stop offset="0.000" stop-color="#1f1f1f"/><stop offset="0.104" stop-color="#1c1c1c"/><stop offset="0.208" stop-color="#090909"/><stop offset="0.259" stop-color="#0f0f0f"/><stop offset="0.374" stop-color="#242424"/><stop offset="0.419" stop-color="#303030"/><stop offset="0.486" stop-color="#4b4b4b"/><stop offset="0.515" stop-color="#5e5e5e"/><stop offset="0.589" stop-color="#6a6a6a"/><stop offset="0.671" stop-color="#707070"/><stop offset="0.760" stop-color="#6a6a6a"/><stop offset="0.934" stop-color="#3d3d3d"/><stop offset="1.001" stop-color="#333333"/></linearGradient><linearGradient id="g159" x2="0" y2="1"><stop offset="0.000" stop-color="#1f1f1f"/><stop offset="0.104" stop-color="#1c1c1c"/><stop offset="0.204" stop-color="#090909"/><stop offset="0.256" stop-color="#0f0f0f"/><stop offset="0.367" stop-color="#242424"/><stop offset="0.411" stop-color="#303030"/><stop offset="0.478" stop-color="#4c4c4c"/><stop offset="0.504" stop-color="#5e5e5e"/><stop offset="0.582" stop-color="#6b6b6b"/><stop offset="0.667" stop-color="#727272"/><stop offset="0.760" stop-color="#6b6b6b"/><stop offset="0.871" stop-color="#4c4c4c"/><stop offset="0.934" stop-color="#3d3d3d"/><stop offset="1.001" stop-color="#333333"/></linearGradient><linearGradient id="g15a" x2="0" y2="1"><stop offset="0.000" stop-color="#1f1f1f"/><stop offset="0.100" stop-color="#1c1c1c"/><stop offset="0.200" stop-color="#090909"/><stop offset="0.252" stop-color="#0f0f0f"/><stop offset="0.363" stop-color="#242424"/><stop offset="0.408" stop-color="#313131"/><stop offset="0.471" stop-color="#4c4c4c"/><stop offset="0.497" stop-color="#5e5e5e"/><stop offset="0.578" stop-color="#6d6d6d"/><stop offset="0.663" stop-color="#747474"/><stop offset="0.756" stop-color="#6d6d6d"/><stop offset="0.871" stop-color="#4c4c4c"/><stop offset="0.934" stop-color="#3d3d3d"/><stop offset="1.001" stop-color="#333333"/></linearGradient><linearGradient id="g15b" x2="0" y2="1"><stop offset="0.000" stop-color="#1f1f1f"/><stop offset="0.100" stop-color="#1c1c1c"/><stop offset="0.200" stop-color="#090909"/><stop offset="0.248" stop-color="#0f0f0f"/><stop offset="0.356" stop-color="#232323"/><stop offset="0.404" stop-color="#313131"/><stop offset="0.463" stop-color="#4b4b4b"/><stop offset="0.493" stop-color="#5f5f5f"/><stop offset="0.574" stop-color="#6e6e6e"/><stop offset="0.663" stop-color="#767676"/><stop offset="0.756" stop-color="#6e6e6e"/><stop offset="0.871" stop-color="#4c4c4c"/><stop offset="0.934" stop-color="#3d3d3d"/><stop offset="1.001" stop-color="#333333"/></linearGradient><linearGradient id="g15c" x2="0" y2="1"><stop offset="0.000" stop-color="#1f1f1f"/><stop offset="0.100" stop-color="#1c1c1c"/><stop offset="0.200" stop-color="#090909"/><stop offset="0.248" stop-color="#0f0f0f"/><stop offset="0.356" stop-color="#232323"/><stop offset="0.400" stop-color="#303030"/><stop offset="0.463" stop-color="#4c4c4c"/><stop offset="0.489" stop-color="#5f5f5f"/><stop offset="0.571" stop-color="#6e6e6e"/><stop offset="0.660" stop-color="#767676"/><stop offset="0.756" stop-color="#6e6e6e"/><stop offset="0.871" stop-color="#4c4c4c"/><stop offset="0.934" stop-color="#3d3d3d"/><stop offset="1.001" stop-color="#333333"/></linearGradient><linearGradient id="g15d" x2="0" y2="1"><stop offset="0.000" stop-color="#1f1f1f"/><stop offset="0.100" stop-color="#1c1c1c"/><stop offset="0.200" stop-color="#090909"/><stop offset="0.248" stop-color="#0f0f0f"/><stop offset="0.356" stop-color="#242424"/><stop offset="0.400" stop-color="#303030"/><stop offset="0.463" stop-color="#4d4d4d"/><stop offset="0.489" stop-color="#606060"/><stop offset="0.571" stop-color="#6f6f6f"/><stop offset="0.660" stop-color="#787878"/><stop offset="0.756" stop-color="#6f6f6f"/><stop offset="0.871" stop-color="#4c4c4c"/><stop offset="0.934" stop-color="#3d3d3d"/><stop offset="1.001" stop-color="#333333"/></linearGradient><linearGradient id="g15e" x2="0" y2="1"><stop offset="0.000" stop-color="#1f1f1f"/><stop offset="0.100" stop-color="#1c1c1c"/><stop offset="0.196" stop-color="#090909"/><stop offset="0.248" stop-color="#0f0f0f"/><stop offset="0.352" stop-color="#232323"/><stop offset="0.397" stop-color="#303030"/><stop offset="0.460" stop-color="#4c4c4c"/><stop offset="0.489" stop-color="#616161"/><stop offset="0.571" stop-color="#737373"/><stop offset="0.660" stop-color="#7d7d7d"/><stop offset="0.756" stop-color="#727272"/><stop offset="0.871" stop-color="#4d4d4d"/><stop offset="0.934" stop-color="#3d3d3d"/><stop offset="1.001" stop-color="#333333"/></linearGradient><linearGradient id="g15f" x2="0" y2="1"><stop offset="0.000" stop-color="#1f1f1f"/><stop offset="0.100" stop-color="#1c1c1c"/><stop offset="0.196" stop-color="#090909"/><stop offset="0.248" stop-color="#0f0f0f"/><stop offset="0.352" stop-color="#242424"/><stop offset="0.397" stop-color="#313131"/><stop offset="0.456" stop-color="#4c4c4c"/><stop offset="0.486" stop-color="#626262"/><stop offset="0.567" stop-color="#767676"/><stop offset="0.660" stop-color="#828282"/><stop offset="0.752" stop-color="#777777"/><stop offset="0.871" stop-color="#4d4d4d"/><stop offset="0.934" stop-color="#3d3d3d"/><stop offset="1.001" stop-color="#333333"/></linearGradient><linearGradient id="g160" x2="0" y2="1"><stop offset="0.000" stop-color="#1f1f1f"/><stop offset="0.100" stop-color="#1c1c1c"/><stop offset="0.196" stop-color="#090909"/><stop offset="0.245" stop-color="#0f0f0f"/><stop offset="0.352" stop-color="#242424"/><stop offset="0.393" stop-color="#303030"/><stop offset="0.456" stop-color="#4d4d4d"/><stop offset="0.482" stop-color="#626262"/><stop offset="0.567" stop-color="#787878"/><stop offset="0.660" stop-color="#868686"/><stop offset="0.752" stop-color="#797979"/><stop offset="0.871" stop-color="#4e4e4e"/><stop offset="0.934" stop-color="#3d3d3d"/><stop offset="1.001" stop-color="#333333"/></linearGradient><linearGradient id="g161" x2="0" y2="1"><stop offset="0.000" stop-color="#1f1f1f"/><stop offset="0.100" stop-color="#1c1c1c"/><stop offset="0.196" stop-color="#090909"/><stop offset="0.248" stop-color="#101010"/><stop offset="0.352" stop-color="#242424"/><stop offset="0.397" stop-color="#313131"/><stop offset="0.456" stop-color="#4d4d4d"/><stop offset="0.486" stop-color="#626262"/><stop offset="0.567" stop-color="#777777"/><stop offset="0.660" stop-color="#858585"/><stop offset="0.752" stop-color="#787878"/><stop offset="0.871" stop-color="#4e4e4e"/><stop offset="0.934" stop-color="#3d3d3d"/><stop offset="1.001" stop-color="#333333"/></linearGradient><linearGradient id="g162" x2="0" y2="1"><stop offset="0.000" stop-color="#1f1f1f"/><stop offset="0.100" stop-color="#1c1c1c"/><stop offset="0.196" stop-color="#090909"/><stop offset="0.248" stop-color="#0f0f0f"/><stop offset="0.352" stop-color="#232323"/><stop offset="0.397" stop-color="#303030"/><stop offset="0.460" stop-color="#4e4e4e"/><stop offset="0.486" stop-color="#616161"/><stop offset="0.567" stop-color="#757575"/><stop offset="0.660" stop-color="#818181"/><stop offset="0.756" stop-color="#757575"/><stop offset="0.871" stop-color="#4d4d4d"/><stop offset="0.934" stop-color="#3d3d3d"/><stop offset="1.001" stop-color="#333333"/></linearGradient><linearGradient id="g163" x2="0" y2="1"><stop offset="0.000" stop-color="#1f1f1f"/><stop offset="0.100" stop-color="#1c1c1c"/><stop offset="0.196" stop-color="#090909"/><stop offset="0.248" stop-color="#0f0f0f"/><stop offset="0.356" stop-color="#242424"/><stop offset="0.400" stop-color="#313131"/><stop offset="0.460" stop-color="#4c4c4c"/><stop offset="0.489" stop-color="#616161"/><stop offset="0.571" stop-color="#727272"/><stop offset="0.660" stop-color="#7d7d7d"/><stop offset="0.756" stop-color="#727272"/><stop offset="0.871" stop-color="#4d4d4d"/><stop offset="0.934" stop-color="#3d3d3d"/><stop offset="1.001" stop-color="#333333"/></linearGradient><linearGradient id="g164" x2="0" y2="1"><stop offset="0.000" stop-color="#1f1f1f"/><stop offset="0.100" stop-color="#1c1c1c"/><stop offset="0.200" stop-color="#090909"/><stop offset="0.248" stop-color="#0f0f0f"/><stop offset="0.356" stop-color="#242424"/><stop offset="0.400" stop-color="#303030"/><stop offset="0.463" stop-color="#4d4d4d"/><stop offset="0.489" stop-color="#606060"/><stop offset="0.571" stop-color="#707070"/><stop offset="0.660" stop-color="#797979"/><stop offset="0.756" stop-color="#707070"/><stop offset="0.871" stop-color="#4d4d4d"/><stop offset="0.934" stop-color="#3d3d3d"/><stop offset="1.001" stop-color="#333333"/></linearGradient><linearGradient id="g165" x2="0" y2="1"><stop offset="0.000" stop-color="#1f1f1f"/><stop offset="0.100" stop-color="#1c1c1c"/><stop offset="0.200" stop-color="#090909"/><stop offset="0.248" stop-color="#0f0f0f"/><stop offset="0.356" stop-color="#232323"/><stop offset="0.400" stop-color="#303030"/><stop offset="0.463" stop-color="#4c4c4c"/><stop offset="0.489" stop-color="#606060"/><stop offset="0.571" stop-color="#707070"/><stop offset="0.660" stop-color="#797979"/><stop offset="0.756" stop-color="#707070"/><stop offset="0.871" stop-color="#4d4d4d"/><stop offset="0.934" stop-color="#3d3d3d"/><stop offset="1.001" stop-color="#333333"/></linearGradient><linearGradient id="g166" x2="0" y2="1"><stop offset="0.000" stop-color="#1f1f1f"/><stop offset="0.100" stop-color="#1c1c1c"/><stop offset="0.200" stop-color="#090909"/><stop offset="0.248" stop-color="#0f0f0f"/><stop offset="0.356" stop-color="#242424"/><stop offset="0.400" stop-color="#303030"/><stop offset="0.463" stop-color="#4d4d4d"/><stop offset="0.489" stop-color="#606060"/><stop offset="0.571" stop-color="#737373"/><stop offset="0.660" stop-color="#7d7d7d"/><stop offset="0.756" stop-color="#737373"/><stop offset="0.871" stop-color="#4d4d4d"/><stop offset="0.934" stop-color="#3d3d3d"/><stop offset="1.001" stop-color="#333333"/></linearGradient><linearGradient id="g167" x2="0" y2="1"><stop offset="0.000" stop-color="#1f1f1f"/><stop offset="0.100" stop-color="#1c1c1c"/><stop offset="0.200" stop-color="#090909"/><stop offset="0.248" stop-color="#0f0f0f"/><stop offset="0.356" stop-color="#242424"/><stop offset="0.400" stop-color="#303030"/><stop offset="0.463" stop-color="#4d4d4d"/><stop offset="0.489" stop-color="#616161"/><stop offset="0.571" stop-color="#767676"/><stop offset="0.660" stop-color="#838383"/><stop offset="0.756" stop-color="#767676"/><stop offset="0.871" stop-color="#4e4e4e"/><stop offset="0.934" stop-color="#3d3d3d"/><stop offset="1.001" stop-color="#333333"/></linearGradient><linearGradient id="g168" x2="0" y2="1"><stop offset="0.000" stop-color="#1f1f1f"/><stop offset="0.100" stop-color="#1c1c1c"/><stop offset="0.200" stop-color="#090909"/><stop offset="0.252" stop-color="#101010"/><stop offset="0.356" stop-color="#242424"/><stop offset="0.400" stop-color="#313131"/><stop offset="0.463" stop-color="#4e4e4e"/><stop offset="0.489" stop-color="#626262"/><stop offset="0.571" stop-color="#797979"/><stop offset="0.660" stop-color="#878787"/><stop offset="0.756" stop-color="#797979"/><stop offset="0.871" stop-color="#4e4e4e"/><stop offset="0.934" stop-color="#3e3e3e"/><stop offset="1.001" stop-color="#333333"/></linearGradient><linearGradient id="g169" x2="0" y2="1"><stop offset="0.000" stop-color="#1f1f1f"/><stop offset="0.100" stop-color="#1c1c1c"/><stop offset="0.200" stop-color="#090909"/><stop offset="0.252" stop-color="#101010"/><stop offset="0.356" stop-color="#242424"/><stop offset="0.400" stop-color="#313131"/><stop offset="0.463" stop-color="#4e4e4e"/><stop offset="0.489" stop-color="#626262"/><stop offset="0.571" stop-color="#797979"/><stop offset="0.660" stop-color="#888888"/><stop offset="0.756" stop-color="#7a7a7a"/><stop offset="0.871" stop-color="#4e4e4e"/><stop offset="0.934" stop-color="#3e3e3e"/><stop offset="1.001" stop-color="#333333"/></linearGradient><linearGradient id="g16a" x2="0" y2="1"><stop offset="0.000" stop-color="#1f1f1f"/><stop offset="0.100" stop-color="#1c1c1c"/><stop offset="0.196" stop-color="#090909"/><stop offset="0.248" stop-color="#0f0f0f"/><stop offset="0.356" stop-color="#242424"/><stop offset="0.400" stop-color="#313131"/><stop offset="0.460" stop-color="#4c4c4c"/><stop offset="0.489" stop-color="#626262"/><stop offset="0.571" stop-color="#787878"/><stop offset="0.660" stop-color="#868686"/><stop offset="0.756" stop-color="#787878"/><stop offset="0.871" stop-color="#4e4e4e"/><stop offset="0.934" stop-color="#3d3d3d"/><stop offset="1.001" stop-color="#333333"/></linearGradient><linearGradient id="g16b" x2="0" y2="1"><stop offset="0.000" stop-color="#1f1f1f"/><stop offset="0.100" stop-color="#1c1c1c"/><stop offset="0.196" stop-color="#090909"/><stop offset="0.248" stop-color="#0f0f0f"/><stop offset="0.352" stop-color="#232323"/><stop offset="0.397" stop-color="#303030"/><stop offset="0.460" stop-color="#4d4d4d"/><stop offset="0.489" stop-color="#626262"/><stop offset="0.571" stop-color="#757575"/><stop offset="0.660" stop-color="#818181"/><stop offset="0.756" stop-color="#757575"/><stop offset="0.871" stop-color="#4d4d4d"/><stop offset="0.934" stop-color="#3d3d3d"/><stop offset="1.001" stop-color="#333333"/></linearGradient><linearGradient id="g16c" x2="0" y2="1"><stop offset="0.000" stop-color="#1f1f1f"/><stop offset="0.100" stop-color="#1c1c1c"/><stop offset="0.196" stop-color="#090909"/><stop offset="0.248" stop-color="#0f0f0f"/><stop offset="0.352" stop-color="#242424"/><stop offset="0.397" stop-color="#303030"/><stop offset="0.456" stop-color="#4c4c4c"/><stop offset="0.486" stop-color="#606060"/><stop offset="0.567" stop-color="#717171"/><stop offset="0.660" stop-color="#7b7b7b"/><stop offset="0.756" stop-color="#717171"/><stop offset="0.871" stop-color="#4d4d4d"/><stop offset="0.934" stop-color="#3d3d3d"/><stop offset="1.001" stop-color="#333333"/></linearGradient><linearGradient id="g16d" x2="0" y2="1"><stop offset="0.000" stop-color="#1f1f1f"/><stop offset="0.100" stop-color="#1c1c1c"/><stop offset="0.196" stop-color="#090909"/><stop offset="0.245" stop-color="#0f0f0f"/><stop offset="0.352" stop-color="#242424"/><stop offset="0.393" stop-color="#303030"/><stop offset="0.456" stop-color="#4c4c4c"/><stop offset="0.486" stop-color="#606060"/><stop offset="0.567" stop-color="#6f6f6f"/><stop offset="0.660" stop-color="#777777"/><stop offset="0.756" stop-color="#6f6f6f"/><stop offset="0.871" stop-color="#4c4c4c"/><stop offset="0.934" stop-color="#3d3d3d"/><stop offset="1.001" stop-color="#333333"/></linearGradient><linearGradient id="g16e" x2="0" y2="1"><stop offset="0.000" stop-color="#1f1f1f"/><stop offset="0.100" stop-color="#1c1c1c"/><stop offset="0.196" stop-color="#090909"/><stop offset="0.245" stop-color="#0f0f0f"/><stop offset="0.352" stop-color="#242424"/><stop offset="0.393" stop-color="#303030"/><stop offset="0.456" stop-color="#4c4c4c"/><stop offset="0.482" stop-color="#5f5f5f"/><stop offset="0.567" stop-color="#6f6f6f"/><stop offset="0.660" stop-color="#777777"/><stop offset="0.756" stop-color="#6e6e6e"/><stop offset="0.871" stop-color="#4c4c4c"/><stop offset="0.934" stop-color="#3d3d3d"/><stop offset="1.001" stop-color="#333333"/></linearGradient><linearGradient id="g16f" x2="0" y2="1"><stop offset="0.000" stop-color="#1f1f1f"/><stop offset="0.100" stop-color="#1c1c1c"/><stop offset="0.196" stop-color="#090909"/><stop offset="0.245" stop-color="#0f0f0f"/><stop offset="0.352" stop-color="#242424"/><stop offset="0.393" stop-color="#303030"/><stop offset="0.456" stop-color="#4c4c4c"/><stop offset="0.482" stop-color="#606060"/><stop offset="0.567" stop-color="#707070"/><stop offset="0.660" stop-color="#797979"/><stop offset="0.756" stop-color="#707070"/><stop offset="0.871" stop-color="#4c4c4c"/><stop offset="0.934" stop-color="#3d3d3d"/><stop offset="1.001" stop-color="#333333"/></linearGradient><linearGradient id="g170" x2="0" y2="1"><stop offset="0.000" stop-color="#1f1f1f"/><stop offset="0.100" stop-color="#1c1c1c"/><stop offset="0.196" stop-color="#090909"/><stop offset="0.245" stop-color="#0f0f0f"/><stop offset="0.352" stop-color="#242424"/><stop offset="0.393" stop-color="#303030"/><stop offset="0.456" stop-color="#4d4d4d"/><stop offset="0.482" stop-color="#606060"/><stop offset="0.567" stop-color="#737373"/><stop offset="0.660" stop-color="#7d7d7d"/><stop offset="0.752" stop-color="#737373"/><stop offset="0.871" stop-color="#4d4d4d"/><stop offset="0.934" stop-color="#3d3d3d"/><stop offset="1.001" stop-color="#333333"/></linearGradient><linearGradient id="g171" x2="0" y2="1"><stop offset="0.000" stop-color="#1f1f1f"/><stop offset="0.100" stop-color="#1c1c1c"/><stop offset="0.196" stop-color="#090909"/><stop offset="0.245" stop-color="#0f0f0f"/><stop offset="0.352" stop-color="#242424"/><stop offset="0.393" stop-color="#303030"/><stop offset="0.456" stop-color="#4d4d4d"/><stop offset="0.482" stop-color="#616161"/><stop offset="0.567" stop-color="#747474"/><stop offset="0.660" stop-color="#808080"/><stop offset="0.752" stop-color="#757575"/><stop offset="0.871" stop-color="#4d4d4d"/><stop offset="0.934" stop-color="#3d3d3d"/><stop offset="1.001" stop-color="#333333"/></linearGradient><linearGradient id="g172" x2="0" y2="1"><stop offset="0.000" stop-color="#1f1f1f"/><stop offset="0.100" stop-color="#1c1c1c"/><stop offset="0.196" stop-color="#090909"/><stop offset="0.245" stop-color="#0f0f0f"/><stop offset="0.352" stop-color="#242424"/><stop offset="0.393" stop-color="#303030"/><stop offset="0.456" stop-color="#4d4d4d"/><stop offset="0.482" stop-color="#616161"/><stop offset="0.567" stop-color="#757575"/><stop offset="0.660" stop-color="#818181"/><stop offset="0.752" stop-color="#767676"/><stop offset="0.871" stop-color="#4d4d4d"/><stop offset="0.934" stop-color="#3d3d3d"/><stop offset="1.001" stop-color="#333333"/></linearGradient><linearGradient id="g173" x2="0" y2="1"><stop offset="0.000" stop-color="#1f1f1f"/><stop offset="0.100" stop-color="#1c1c1c"/><stop offset="0.196" stop-color="#090909"/><stop offset="0.245" stop-color="#0f0f0f"/><stop offset="0.352" stop-color="#242424"/><stop offset="0.393" stop-color="#303030"/><stop offset="0.456" stop-color="#4d4d4d"/><stop offset="0.482" stop-color="#616161"/><stop offset="0.567" stop-color="#757575"/><stop offset="0.660" stop-color="#818181"/><stop offset="0.752" stop-color="#767676"/><stop offset="0.871" stop-color="#4d4d4d"/><stop offset="0.934" stop-color="#3d3d3d"/><stop offset="1.001" stop-color="#333333"/></linearGradient><linearGradient id="g174" x2="0" y2="1"><stop offset="0.000" stop-color="#1f1f1f"/><stop offset="0.100" stop-color="#1c1c1c"/><stop offset="0.196" stop-color="#090909"/><stop offset="0.245" stop-color="#0f0f0f"/><stop offset="0.352" stop-color="#242424"/><stop offset="0.393" stop-color="#303030"/><stop offset="0.456" stop-color="#4d4d4d"/><stop offset="0.482" stop-color="#616161"/><stop offset="0.567" stop-color="#757575"/><stop offset="0.660" stop-color="#818181"/><stop offset="0.752" stop-color="#767676"/><stop offset="0.871" stop-color="#4d4d4d"/><stop offset="0.934" stop-color="#3d3d3d"/><stop offset="1.001" stop-color="#333333"/></linearGradient><clipPath id="cj1"><rect x="432.8" y="471.0" width="229.5" height="263.8"/></clipPath><linearGradient id="g175" x2="0" y2="1"><stop offset="0.000" stop-color="#2e2e2e"/><stop offset="0.115" stop-color="#363636"/><stop offset="0.350" stop-color="#565656"/><stop offset="0.462" stop-color="#606060"/><stop offset="0.548" stop-color="#636363"/><stop offset="0.615" stop-color="#666666"/><stop offset="0.764" stop-color="#646464"/><stop offset="1.000" stop-color="#525252"/></linearGradient><linearGradient id="g176" x2="0" y2="1"><stop offset="0.000" stop-color="#2e2e2e"/><stop offset="0.115" stop-color="#363636"/><stop offset="0.350" stop-color="#565656"/><stop offset="0.466" stop-color="#616161"/><stop offset="0.570" stop-color="#656565"/><stop offset="0.764" stop-color="#646464"/><stop offset="1.000" stop-color="#525252"/></linearGradient><linearGradient id="g177" x2="0" y2="1"><stop offset="0.000" stop-color="#2e2e2e"/><stop offset="0.115" stop-color="#363636"/><stop offset="0.350" stop-color="#575757"/><stop offset="0.462" stop-color="#626262"/><stop offset="0.581" stop-color="#676767"/><stop offset="0.764" stop-color="#656565"/><stop offset="1.000" stop-color="#525252"/></linearGradient><linearGradient id="g178" x2="0" y2="1"><stop offset="0.000" stop-color="#2e2e2e"/><stop offset="0.115" stop-color="#363636"/><stop offset="0.350" stop-color="#575757"/><stop offset="0.462" stop-color="#646464"/><stop offset="0.585" stop-color="#6a6a6a"/><stop offset="0.764" stop-color="#676767"/><stop offset="1.000" stop-color="#525252"/></linearGradient><linearGradient id="g179" x2="0" y2="1"><stop offset="0.000" stop-color="#2e2e2e"/><stop offset="0.115" stop-color="#363636"/><stop offset="0.462" stop-color="#676767"/><stop offset="0.585" stop-color="#6e6e6e"/><stop offset="0.764" stop-color="#696969"/><stop offset="1.000" stop-color="#525252"/></linearGradient><linearGradient id="g17a" x2="0" y2="1"><stop offset="0.000" stop-color="#2e2e2e"/><stop offset="0.115" stop-color="#363636"/><stop offset="0.238" stop-color="#464646"/><stop offset="0.462" stop-color="#6a6a6a"/><stop offset="0.589" stop-color="#747474"/><stop offset="0.648" stop-color="#737373"/><stop offset="0.764" stop-color="#6b6b6b"/><stop offset="1.000" stop-color="#525252"/></linearGradient><linearGradient id="g17b" x2="0" y2="1"><stop offset="0.000" stop-color="#2e2e2e"/><stop offset="0.130" stop-color="#383838"/><stop offset="0.238" stop-color="#464646"/><stop offset="0.466" stop-color="#6f6f6f"/><stop offset="0.589" stop-color="#797979"/><stop offset="0.652" stop-color="#787878"/><stop offset="0.764" stop-color="#6e6e6e"/><stop offset="1.000" stop-color="#525252"/></linearGradient><linearGradient id="g17c" x2="0" y2="1"><stop offset="0.000" stop-color="#2e2e2e"/><stop offset="0.112" stop-color="#353535"/><stop offset="0.190" stop-color="#404040"/><stop offset="0.265" stop-color="#4b4b4b"/><stop offset="0.466" stop-color="#727272"/><stop offset="0.589" stop-color="#7e7e7e"/><stop offset="0.633" stop-color="#7e7e7e"/><stop offset="0.700" stop-color="#787878"/><stop offset="0.917" stop-color="#5b5b5b"/><stop offset="1.000" stop-color="#525252"/></linearGradient><linearGradient id="g17d" x2="0" y2="1"><stop offset="0.000" stop-color="#2e2e2e"/><stop offset="0.112" stop-color="#353535"/><stop offset="0.205" stop-color="#424242"/><stop offset="0.466" stop-color="#757575"/><stop offset="0.589" stop-color="#828282"/><stop offset="0.689" stop-color="#7c7c7c"/><stop offset="0.909" stop-color="#5c5c5c"/><stop offset="1.000" stop-color="#525252"/></linearGradient><linearGradient id="g17e" x2="0" y2="1"><stop offset="0.000" stop-color="#2d2d2d"/><stop offset="0.112" stop-color="#353535"/><stop offset="0.209" stop-color="#424242"/><stop offset="0.466" stop-color="#757575"/><stop offset="0.589" stop-color="#828282"/><stop offset="0.689" stop-color="#7d7d7d"/><stop offset="0.909" stop-color="#5c5c5c"/><stop offset="1.000" stop-color="#525252"/></linearGradient><linearGradient id="g17f" x2="0" y2="1"><stop offset="0.000" stop-color="#2d2d2d"/><stop offset="0.112" stop-color="#353535"/><stop offset="0.201" stop-color="#414141"/><stop offset="0.466" stop-color="#747474"/><stop offset="0.589" stop-color="#808080"/><stop offset="0.693" stop-color="#7a7a7a"/><stop offset="0.913" stop-color="#5b5b5b"/><stop offset="1.000" stop-color="#525252"/></linearGradient><linearGradient id="g180" x2="0" y2="1"><stop offset="0.000" stop-color="#2d2d2d"/><stop offset="0.112" stop-color="#353535"/><stop offset="0.179" stop-color="#3d3d3d"/><stop offset="0.261" stop-color="#4a4a4a"/><stop offset="0.466" stop-color="#717171"/><stop offset="0.589" stop-color="#7c7c7c"/><stop offset="0.633" stop-color="#7c7c7c"/><stop offset="0.708" stop-color="#767676"/><stop offset="1.000" stop-color="#525252"/></linearGradient><linearGradient id="g181" x2="0" y2="1"><stop offset="0.000" stop-color="#2d2d2d"/><stop offset="0.115" stop-color="#353535"/><stop offset="0.238" stop-color="#454545"/><stop offset="0.466" stop-color="#6d6d6d"/><stop offset="0.585" stop-color="#767676"/><stop offset="0.648" stop-color="#767676"/><stop offset="0.764" stop-color="#6d6d6d"/><stop offset="1.000" stop-color="#525252"/></linearGradient><linearGradient id="g182" x2="0" y2="1"><stop offset="0.000" stop-color="#2c2c2c"/><stop offset="0.112" stop-color="#343434"/><stop offset="0.183" stop-color="#3d3d3d"/><stop offset="0.466" stop-color="#696969"/><stop offset="0.585" stop-color="#717171"/><stop offset="0.645" stop-color="#717171"/><stop offset="0.764" stop-color="#6a6a6a"/><stop offset="1.000" stop-color="#525252"/></linearGradient><linearGradient id="g183" x2="0" y2="1"><stop offset="0.000" stop-color="#2b2b2b"/><stop offset="0.115" stop-color="#333333"/><stop offset="0.462" stop-color="#656565"/><stop offset="0.581" stop-color="#6c6c6c"/><stop offset="0.764" stop-color="#686868"/><stop offset="1.000" stop-color="#525252"/></linearGradient><linearGradient id="g184" x2="0" y2="1"><stop offset="0.000" stop-color="#2b2b2b"/><stop offset="0.115" stop-color="#333333"/><stop offset="0.462" stop-color="#626262"/><stop offset="0.570" stop-color="#686868"/><stop offset="0.764" stop-color="#666666"/><stop offset="1.000" stop-color="#525252"/></linearGradient><linearGradient id="g185" x2="0" y2="1"><stop offset="0.000" stop-color="#2a2a2a"/><stop offset="0.115" stop-color="#323232"/><stop offset="0.462" stop-color="#616161"/><stop offset="0.540" stop-color="#656565"/><stop offset="0.615" stop-color="#686868"/><stop offset="0.764" stop-color="#656565"/><stop offset="1.000" stop-color="#525252"/></linearGradient><linearGradient id="g186" x2="0" y2="1"><stop offset="0.000" stop-color="#2b2b2b"/><stop offset="0.115" stop-color="#333333"/><stop offset="0.488" stop-color="#646464"/><stop offset="0.615" stop-color="#686868"/><stop offset="0.764" stop-color="#676767"/><stop offset="1.000" stop-color="#545454"/></linearGradient><linearGradient id="g187" x2="0" y2="1"><stop offset="0.000" stop-color="#2f2f2f"/><stop offset="0.115" stop-color="#363636"/><stop offset="0.488" stop-color="#686868"/><stop offset="0.615" stop-color="#6c6c6c"/><stop offset="0.764" stop-color="#6a6a6a"/><stop offset="1.000" stop-color="#585858"/></linearGradient><linearGradient id="g188" x2="0" y2="1"><stop offset="0.000" stop-color="#2d2d2d"/><stop offset="0.115" stop-color="#353535"/><stop offset="0.488" stop-color="#676767"/><stop offset="0.615" stop-color="#6c6c6c"/><stop offset="0.764" stop-color="#6a6a6a"/><stop offset="1.000" stop-color="#585858"/></linearGradient><linearGradient id="g189" x2="0" y2="1"><stop offset="0.000" stop-color="#282828"/><stop offset="0.115" stop-color="#303030"/><stop offset="0.488" stop-color="#636363"/><stop offset="0.615" stop-color="#676767"/><stop offset="0.764" stop-color="#666666"/><stop offset="1.000" stop-color="#545454"/></linearGradient><linearGradient id="g18a" x2="0" y2="1"><stop offset="0.000" stop-color="#242424"/><stop offset="0.115" stop-color="#2c2c2c"/><stop offset="0.238" stop-color="#3b3b3b"/><stop offset="0.488" stop-color="#616161"/><stop offset="0.615" stop-color="#656565"/><stop offset="0.764" stop-color="#646464"/><stop offset="1.000" stop-color="#525252"/></linearGradient><linearGradient id="g18b" x2="0" y2="1"><stop offset="0.000" stop-color="#222222"/><stop offset="0.112" stop-color="#2a2a2a"/><stop offset="0.235" stop-color="#393939"/><stop offset="0.488" stop-color="#606060"/><stop offset="0.615" stop-color="#656565"/><stop offset="0.764" stop-color="#636363"/><stop offset="1.000" stop-color="#525252"/></linearGradient><linearGradient id="g18c" x2="0" y2="1"><stop offset="0.000" stop-color="#212121"/><stop offset="0.112" stop-color="#282828"/><stop offset="0.235" stop-color="#383838"/><stop offset="0.488" stop-color="#606060"/><stop offset="0.615" stop-color="#656565"/><stop offset="0.764" stop-color="#636363"/><stop offset="1.000" stop-color="#525252"/></linearGradient><linearGradient id="g18d" x2="0" y2="1"><stop offset="0.000" stop-color="#202020"/><stop offset="0.112" stop-color="#272727"/><stop offset="0.235" stop-color="#363636"/><stop offset="0.488" stop-color="#606060"/><stop offset="0.615" stop-color="#656565"/><stop offset="0.764" stop-color="#636363"/><stop offset="1.000" stop-color="#525252"/></linearGradient><linearGradient id="g18e" x2="0" y2="1"><stop offset="0.000" stop-color="#1e1e1e"/><stop offset="0.112" stop-color="#262626"/><stop offset="0.235" stop-color="#353535"/><stop offset="0.335" stop-color="#444444"/><stop offset="0.488" stop-color="#606060"/><stop offset="0.615" stop-color="#656565"/><stop offset="0.764" stop-color="#636363"/><stop offset="1.000" stop-color="#525252"/></linearGradient><linearGradient id="g18f" x2="0" y2="1"><stop offset="0.000" stop-color="#1d1d1d"/><stop offset="0.112" stop-color="#252525"/><stop offset="0.238" stop-color="#353535"/><stop offset="0.335" stop-color="#434343"/><stop offset="0.488" stop-color="#606060"/><stop offset="0.615" stop-color="#656565"/><stop offset="0.764" stop-color="#636363"/><stop offset="1.000" stop-color="#525252"/></linearGradient><linearGradient id="g190" x2="0" y2="1"><stop offset="0.000" stop-color="#1d1d1d"/><stop offset="0.112" stop-color="#242424"/><stop offset="0.238" stop-color="#343434"/><stop offset="0.335" stop-color="#424242"/><stop offset="0.488" stop-color="#606060"/><stop offset="0.615" stop-color="#656565"/><stop offset="0.764" stop-color="#636363"/><stop offset="1.000" stop-color="#525252"/></linearGradient><linearGradient id="g191" x2="0" y2="1"><stop offset="0.000" stop-color="#1c1c1c"/><stop offset="0.112" stop-color="#242424"/><stop offset="0.238" stop-color="#333333"/><stop offset="0.335" stop-color="#424242"/><stop offset="0.488" stop-color="#606060"/><stop offset="0.615" stop-color="#656565"/><stop offset="0.764" stop-color="#636363"/><stop offset="1.000" stop-color="#525252"/></linearGradient><linearGradient id="g192" x2="0" y2="1"><stop offset="0.000" stop-color="#1c1c1c"/><stop offset="0.112" stop-color="#242424"/><stop offset="0.238" stop-color="#333333"/><stop offset="0.335" stop-color="#424242"/><stop offset="0.488" stop-color="#606060"/><stop offset="0.615" stop-color="#656565"/><stop offset="0.764" stop-color="#636363"/><stop offset="1.000" stop-color="#525252"/></linearGradient><linearGradient id="g193" x2="0" y2="1"><stop offset="0.000" stop-color="#1c1c1c"/><stop offset="0.112" stop-color="#242424"/><stop offset="0.238" stop-color="#333333"/><stop offset="0.335" stop-color="#424242"/><stop offset="0.488" stop-color="#606060"/><stop offset="0.615" stop-color="#656565"/><stop offset="0.764" stop-color="#636363"/><stop offset="1.000" stop-color="#525252"/></linearGradient><linearGradient id="g194" x2="0" y2="1"><stop offset="0.000" stop-color="#1d1d1d"/><stop offset="0.112" stop-color="#242424"/><stop offset="0.238" stop-color="#343434"/><stop offset="0.335" stop-color="#424242"/><stop offset="0.488" stop-color="#606060"/><stop offset="0.615" stop-color="#656565"/><stop offset="0.764" stop-color="#636363"/><stop offset="1.000" stop-color="#525252"/></linearGradient><linearGradient id="g195" x2="0" y2="1"><stop offset="0.000" stop-color="#1d1d1d"/><stop offset="0.112" stop-color="#252525"/><stop offset="0.238" stop-color="#353535"/><stop offset="0.335" stop-color="#434343"/><stop offset="0.488" stop-color="#606060"/><stop offset="0.615" stop-color="#656565"/><stop offset="0.764" stop-color="#636363"/><stop offset="1.000" stop-color="#525252"/></linearGradient><linearGradient id="g196" x2="0" y2="1"><stop offset="0.000" stop-color="#1e1e1e"/><stop offset="0.112" stop-color="#262626"/><stop offset="0.235" stop-color="#353535"/><stop offset="0.335" stop-color="#444444"/><stop offset="0.488" stop-color="#606060"/><stop offset="0.615" stop-color="#656565"/><stop offset="0.764" stop-color="#636363"/><stop offset="1.000" stop-color="#525252"/></linearGradient><linearGradient id="g197" x2="0" y2="1"><stop offset="0.000" stop-color="#202020"/><stop offset="0.112" stop-color="#272727"/><stop offset="0.235" stop-color="#363636"/><stop offset="0.488" stop-color="#606060"/><stop offset="0.615" stop-color="#656565"/><stop offset="0.764" stop-color="#636363"/><stop offset="1.000" stop-color="#525252"/></linearGradient><linearGradient id="g198" x2="0" y2="1"><stop offset="0.000" stop-color="#212121"/><stop offset="0.112" stop-color="#282828"/><stop offset="0.235" stop-color="#383838"/><stop offset="0.488" stop-color="#606060"/><stop offset="0.615" stop-color="#656565"/><stop offset="0.764" stop-color="#636363"/><stop offset="1.000" stop-color="#525252"/></linearGradient><linearGradient id="g199" x2="0" y2="1"><stop offset="0.000" stop-color="#222222"/><stop offset="0.112" stop-color="#2a2a2a"/><stop offset="0.235" stop-color="#393939"/><stop offset="0.488" stop-color="#606060"/><stop offset="0.615" stop-color="#656565"/><stop offset="0.764" stop-color="#636363"/><stop offset="1.000" stop-color="#525252"/></linearGradient><linearGradient id="g19a" x2="0" y2="1"><stop offset="0.000" stop-color="#242424"/><stop offset="0.115" stop-color="#2c2c2c"/><stop offset="0.238" stop-color="#3b3b3b"/><stop offset="0.488" stop-color="#606060"/><stop offset="0.615" stop-color="#656565"/><stop offset="0.764" stop-color="#646464"/><stop offset="1.000" stop-color="#525252"/></linearGradient><linearGradient id="g19b" x2="0" y2="1"><stop offset="0.000" stop-color="#252525"/><stop offset="0.115" stop-color="#2d2d2d"/><stop offset="0.488" stop-color="#616161"/><stop offset="0.615" stop-color="#656565"/><stop offset="0.764" stop-color="#646464"/><stop offset="1.000" stop-color="#525252"/></linearGradient><linearGradient id="g19c" x2="0" y2="1"><stop offset="0.000" stop-color="#272727"/><stop offset="0.115" stop-color="#2e2e2e"/><stop offset="0.488" stop-color="#616161"/><stop offset="0.615" stop-color="#656565"/><stop offset="0.764" stop-color="#646464"/><stop offset="1.000" stop-color="#525252"/></linearGradient><linearGradient id="g19d" x2="0" y2="1"><stop offset="0.000" stop-color="#282828"/><stop offset="0.115" stop-color="#303030"/><stop offset="0.488" stop-color="#616161"/><stop offset="0.615" stop-color="#666666"/><stop offset="0.764" stop-color="#646464"/><stop offset="1.000" stop-color="#525252"/></linearGradient><linearGradient id="g19e" x2="0" y2="1"><stop offset="0.000" stop-color="#292929"/><stop offset="0.115" stop-color="#313131"/><stop offset="0.350" stop-color="#525252"/><stop offset="0.488" stop-color="#626262"/><stop offset="0.615" stop-color="#666666"/><stop offset="0.764" stop-color="#656565"/><stop offset="1.000" stop-color="#525252"/></linearGradient><linearGradient id="g19f" x2="0" y2="1"><stop offset="0.000" stop-color="#2a2a2a"/><stop offset="0.115" stop-color="#323232"/><stop offset="0.350" stop-color="#535353"/><stop offset="0.462" stop-color="#616161"/><stop offset="0.514" stop-color="#646464"/><stop offset="0.615" stop-color="#686868"/><stop offset="0.764" stop-color="#666666"/><stop offset="1.000" stop-color="#525252"/></linearGradient><linearGradient id="g1a0" x2="0" y2="1"><stop offset="0.000" stop-color="#2b2b2b"/><stop offset="0.115" stop-color="#333333"/><stop offset="0.462" stop-color="#636363"/><stop offset="0.555" stop-color="#686868"/><stop offset="0.615" stop-color="#6a6a6a"/><stop offset="0.764" stop-color="#676767"/><stop offset="1.000" stop-color="#525252"/></linearGradient><linearGradient id="g1a1" x2="0" y2="1"><stop offset="0.000" stop-color="#2c2c2c"/><stop offset="0.115" stop-color="#343434"/><stop offset="0.462" stop-color="#656565"/><stop offset="0.570" stop-color="#6b6b6b"/><stop offset="0.764" stop-color="#696969"/><stop offset="1.000" stop-color="#535353"/></linearGradient><linearGradient id="g1a2" x2="0" y2="1"><stop offset="0.000" stop-color="#2c2c2c"/><stop offset="0.115" stop-color="#353535"/><stop offset="0.462" stop-color="#676767"/><stop offset="0.577" stop-color="#6e6e6e"/><stop offset="0.764" stop-color="#6b6b6b"/><stop offset="1.000" stop-color="#535353"/></linearGradient><linearGradient id="g1a3" x2="0" y2="1"><stop offset="0.000" stop-color="#2d2d2d"/><stop offset="0.115" stop-color="#353535"/><stop offset="0.462" stop-color="#696969"/><stop offset="0.581" stop-color="#707070"/><stop offset="0.764" stop-color="#6c6c6c"/><stop offset="1.000" stop-color="#535353"/></linearGradient><linearGradient id="g1a4" x2="0" y2="1"><stop offset="0.000" stop-color="#2d2d2d"/><stop offset="0.115" stop-color="#363636"/><stop offset="0.235" stop-color="#464646"/><stop offset="0.350" stop-color="#5b5b5b"/><stop offset="0.462" stop-color="#6a6a6a"/><stop offset="0.585" stop-color="#707070"/><stop offset="0.764" stop-color="#6d6d6d"/><stop offset="1.000" stop-color="#535353"/></linearGradient><linearGradient id="g1a5" x2="0" y2="1"><stop offset="0.000" stop-color="#2d2d2d"/><stop offset="0.115" stop-color="#363636"/><stop offset="0.235" stop-color="#464646"/><stop offset="0.350" stop-color="#5b5b5b"/><stop offset="0.462" stop-color="#696969"/><stop offset="0.585" stop-color="#707070"/><stop offset="0.764" stop-color="#6c6c6c"/><stop offset="1.000" stop-color="#535353"/></linearGradient><linearGradient id="g1a6" x2="0" y2="1"><stop offset="0.000" stop-color="#2e2e2e"/><stop offset="0.115" stop-color="#363636"/><stop offset="0.350" stop-color="#5a5a5a"/><stop offset="0.462" stop-color="#686868"/><stop offset="0.585" stop-color="#6e6e6e"/><stop offset="0.764" stop-color="#6b6b6b"/><stop offset="1.000" stop-color="#535353"/></linearGradient><linearGradient id="g1a7" x2="0" y2="1"><stop offset="0.000" stop-color="#2e2e2e"/><stop offset="0.115" stop-color="#363636"/><stop offset="0.350" stop-color="#595959"/><stop offset="0.462" stop-color="#666666"/><stop offset="0.581" stop-color="#6b6b6b"/><stop offset="0.764" stop-color="#696969"/><stop offset="1.000" stop-color="#535353"/></linearGradient><linearGradient id="g1a8" x2="0" y2="1"><stop offset="0.000" stop-color="#2d2d2d"/><stop offset="0.115" stop-color="#353535"/><stop offset="0.350" stop-color="#575757"/><stop offset="0.462" stop-color="#636363"/><stop offset="0.577" stop-color="#686868"/><stop offset="0.764" stop-color="#666666"/><stop offset="1.000" stop-color="#515151"/></linearGradient><linearGradient id="g1a9" x2="0" y2="1"><stop offset="0.000" stop-color="#272727"/><stop offset="0.115" stop-color="#2f2f2f"/><stop offset="0.350" stop-color="#505050"/><stop offset="0.462" stop-color="#5b5b5b"/><stop offset="0.566" stop-color="#606060"/><stop offset="0.764" stop-color="#5f5f5f"/><stop offset="1.000" stop-color="#4b4b4b"/></linearGradient><linearGradient id="g1aa" x2="0" y2="1"><stop offset="0.000" stop-color="#202020"/><stop offset="0.115" stop-color="#282828"/><stop offset="0.350" stop-color="#4a4a4a"/><stop offset="0.462" stop-color="#545454"/><stop offset="0.529" stop-color="#575757"/><stop offset="0.615" stop-color="#5a5a5a"/><stop offset="0.764" stop-color="#585858"/><stop offset="1.000" stop-color="#454545"/></linearGradient><linearGradient id="g1ab" x2="0" y2="1"><stop offset="0.000" stop-color="#252525"/><stop offset="0.115" stop-color="#2d2d2d"/><stop offset="0.346" stop-color="#4f4f4f"/><stop offset="0.466" stop-color="#5a5a5a"/><stop offset="0.615" stop-color="#5f5f5f"/><stop offset="0.764" stop-color="#5d5d5d"/><stop offset="1.000" stop-color="#4b4b4b"/></linearGradient><linearGradient id="g1ac" x2="0" y2="1"><stop offset="0.000" stop-color="#282828"/><stop offset="0.115" stop-color="#303030"/><stop offset="0.346" stop-color="#545454"/><stop offset="0.466" stop-color="#5f5f5f"/><stop offset="0.615" stop-color="#646464"/><stop offset="0.764" stop-color="#636363"/><stop offset="1.000" stop-color="#515151"/></linearGradient><linearGradient id="g1ad" x2="0" y2="1"><stop offset="0.000" stop-color="#242424"/><stop offset="0.149" stop-color="#303030"/><stop offset="0.265" stop-color="#494949"/><stop offset="0.350" stop-color="#565656"/><stop offset="0.466" stop-color="#606060"/><stop offset="0.615" stop-color="#656565"/><stop offset="0.764" stop-color="#646464"/><stop offset="1.000" stop-color="#525252"/></linearGradient><linearGradient id="g1ae" x2="0" y2="1"><stop offset="0.000" stop-color="#202020"/><stop offset="0.149" stop-color="#2c2c2c"/><stop offset="0.265" stop-color="#494949"/><stop offset="0.350" stop-color="#565656"/><stop offset="0.466" stop-color="#606060"/><stop offset="0.615" stop-color="#656565"/><stop offset="0.764" stop-color="#646464"/><stop offset="1.000" stop-color="#525252"/></linearGradient><linearGradient id="g1af" x2="0" y2="1"><stop offset="0.000" stop-color="#1c1c1c"/><stop offset="0.149" stop-color="#292929"/><stop offset="0.265" stop-color="#494949"/><stop offset="0.350" stop-color="#565656"/><stop offset="0.466" stop-color="#606060"/><stop offset="0.615" stop-color="#656565"/><stop offset="0.764" stop-color="#636363"/><stop offset="1.000" stop-color="#525252"/></linearGradient><linearGradient id="g1b0" x2="0" y2="1"><stop offset="0.000" stop-color="#1c1c1c"/><stop offset="0.149" stop-color="#292929"/><stop offset="0.265" stop-color="#494949"/><stop offset="0.350" stop-color="#565656"/><stop offset="0.466" stop-color="#606060"/><stop offset="0.615" stop-color="#656565"/><stop offset="0.764" stop-color="#636363"/><stop offset="1.000" stop-color="#525252"/></linearGradient><linearGradient id="g1b1" x2="0" y2="1"><stop offset="0.000" stop-color="#202020"/><stop offset="0.149" stop-color="#2c2c2c"/><stop offset="0.265" stop-color="#494949"/><stop offset="0.350" stop-color="#565656"/><stop offset="0.466" stop-color="#606060"/><stop offset="0.615" stop-color="#656565"/><stop offset="0.764" stop-color="#636363"/><stop offset="1.000" stop-color="#525252"/></linearGradient><linearGradient id="g1b2" x2="0" y2="1"><stop offset="0.000" stop-color="#242424"/><stop offset="0.115" stop-color="#2c2c2c"/><stop offset="0.205" stop-color="#3c3c3c"/><stop offset="0.209" stop-color="#414141"/><stop offset="0.246" stop-color="#939393"/><stop offset="0.253" stop-color="#9e9e9e"/><stop offset="0.857" stop-color="#9e9e9e"/><stop offset="0.861" stop-color="#9b9b9b"/><stop offset="0.902" stop-color="#5c5c5c"/><stop offset="0.905" stop-color="#595959"/><stop offset="1.000" stop-color="#525252"/></linearGradient><linearGradient id="g1b3" x2="0" y2="1"><stop offset="0.000" stop-color="#292929"/><stop offset="0.115" stop-color="#303030"/><stop offset="0.205" stop-color="#3e3e3e"/><stop offset="0.209" stop-color="#434343"/><stop offset="0.250" stop-color="#9a9a9a"/><stop offset="0.253" stop-color="#9e9e9e"/><stop offset="0.857" stop-color="#9e9e9e"/><stop offset="0.861" stop-color="#9b9b9b"/><stop offset="0.902" stop-color="#5c5c5c"/><stop offset="0.905" stop-color="#595959"/><stop offset="1.000" stop-color="#525252"/></linearGradient><linearGradient id="g1b4" x2="0" y2="1"><stop offset="0.000" stop-color="#2b2b2b"/><stop offset="0.112" stop-color="#333333"/><stop offset="0.205" stop-color="#404040"/><stop offset="0.209" stop-color="#444444"/><stop offset="0.250" stop-color="#9a9a9a"/><stop offset="0.253" stop-color="#9e9e9e"/><stop offset="0.857" stop-color="#9e9e9e"/><stop offset="0.861" stop-color="#9b9b9b"/><stop offset="0.902" stop-color="#5c5c5c"/><stop offset="0.905" stop-color="#595959"/><stop offset="1.000" stop-color="#525252"/></linearGradient><clipPath id="cj2"><rect x="712.0" y="472.5" width="240" height="262.4"/></clipPath><linearGradient id="g1b5" x2="0" y2="1"><stop offset="0.000" stop-color="#575757"/><stop offset="0.082" stop-color="#666666"/><stop offset="0.167" stop-color="#7f7f7f"/><stop offset="0.197" stop-color="#8d8d8d"/><stop offset="0.283" stop-color="#9f9f9f"/><stop offset="0.354" stop-color="#a8a8a8"/><stop offset="0.495" stop-color="#b0b0b0"/><stop offset="0.674" stop-color="#b0b0b0"/><stop offset="0.759" stop-color="#a9a9a9"/><stop offset="0.811" stop-color="#a1a1a1"/><stop offset="0.893" stop-color="#8c8c8c"/><stop offset="0.986" stop-color="#606060"/><stop offset="1.001" stop-color="#5e5e5e"/></linearGradient><linearGradient id="g1b6" x2="0" y2="1"><stop offset="0.000" stop-color="#575757"/><stop offset="0.082" stop-color="#666666"/><stop offset="0.167" stop-color="#7f7f7f"/><stop offset="0.197" stop-color="#8d8d8d"/><stop offset="0.283" stop-color="#9f9f9f"/><stop offset="0.354" stop-color="#a8a8a8"/><stop offset="0.495" stop-color="#b0b0b0"/><stop offset="0.674" stop-color="#b0b0b0"/><stop offset="0.759" stop-color="#a9a9a9"/><stop offset="0.811" stop-color="#a1a1a1"/><stop offset="0.893" stop-color="#8c8c8c"/><stop offset="0.986" stop-color="#606060"/><stop offset="1.001" stop-color="#5e5e5e"/></linearGradient><linearGradient id="g1b7" x2="0" y2="1"><stop offset="0.000" stop-color="#575757"/><stop offset="0.086" stop-color="#676767"/><stop offset="0.167" stop-color="#7f7f7f"/><stop offset="0.197" stop-color="#8d8d8d"/><stop offset="0.283" stop-color="#a4a4a4"/><stop offset="0.354" stop-color="#afafaf"/><stop offset="0.495" stop-color="#b6b6b6"/><stop offset="0.674" stop-color="#b6b6b6"/><stop offset="0.763" stop-color="#afafaf"/><stop offset="0.811" stop-color="#a6a6a6"/><stop offset="0.893" stop-color="#8c8c8c"/><stop offset="0.986" stop-color="#606060"/><stop offset="1.001" stop-color="#5e5e5e"/></linearGradient><linearGradient id="g1b8" x2="0" y2="1"><stop offset="0.000" stop-color="#575757"/><stop offset="0.082" stop-color="#666666"/><stop offset="0.164" stop-color="#7f7f7f"/><stop offset="0.231" stop-color="#a0a0a0"/><stop offset="0.283" stop-color="#b3b3b3"/><stop offset="0.350" stop-color="#c2c2c2"/><stop offset="0.495" stop-color="#c9c9c9"/><stop offset="0.674" stop-color="#c9c9c9"/><stop offset="0.763" stop-color="#c2c2c2"/><stop offset="0.815" stop-color="#b4b4b4"/><stop offset="0.942" stop-color="#747474"/><stop offset="0.986" stop-color="#606060"/><stop offset="1.001" stop-color="#5e5e5e"/></linearGradient><linearGradient id="g1b9" x2="0" y2="1"><stop offset="0.000" stop-color="#575757"/><stop offset="0.078" stop-color="#666666"/><stop offset="0.160" stop-color="#7f7f7f"/><stop offset="0.223" stop-color="#9f9f9f"/><stop offset="0.275" stop-color="#b3b3b3"/><stop offset="0.346" stop-color="#c2c2c2"/><stop offset="0.491" stop-color="#c9c9c9"/><stop offset="0.674" stop-color="#c9c9c9"/><stop offset="0.763" stop-color="#c2c2c2"/><stop offset="0.815" stop-color="#b5b5b5"/><stop offset="0.942" stop-color="#747474"/><stop offset="0.986" stop-color="#606060"/><stop offset="1.001" stop-color="#5e5e5e"/></linearGradient><linearGradient id="g1ba" x2="0" y2="1"><stop offset="0.000" stop-color="#575757"/><stop offset="0.078" stop-color="#666666"/><stop offset="0.156" stop-color="#7f7f7f"/><stop offset="0.216" stop-color="#9f9f9f"/><stop offset="0.272" stop-color="#b3b3b3"/><stop offset="0.339" stop-color="#c2c2c2"/><stop offset="0.488" stop-color="#c9c9c9"/><stop offset="0.670" stop-color="#c9c9c9"/><stop offset="0.767" stop-color="#c1c1c1"/><stop offset="0.819" stop-color="#b4b4b4"/><stop offset="0.942" stop-color="#757575"/><stop offset="0.986" stop-color="#606060"/><stop offset="1.001" stop-color="#5e5e5e"/></linearGradient><linearGradient id="g1bb" x2="0" y2="1"><stop offset="0.000" stop-color="#575757"/><stop offset="0.011" stop-color="#575757"/><stop offset="0.074" stop-color="#666666"/><stop offset="0.153" stop-color="#7f7f7f"/><stop offset="0.212" stop-color="#9f9f9f"/><stop offset="0.268" stop-color="#b3b3b3"/><stop offset="0.335" stop-color="#c2c2c2"/><stop offset="0.488" stop-color="#c9c9c9"/><stop offset="0.670" stop-color="#c9c9c9"/><stop offset="0.767" stop-color="#c1c1c1"/><stop offset="0.819" stop-color="#b4b4b4"/><stop offset="0.986" stop-color="#606060"/><stop offset="1.001" stop-color="#5e5e5e"/></linearGradient><linearGradient id="g1bc" x2="0" y2="1"><stop offset="0.000" stop-color="#575757"/><stop offset="0.011" stop-color="#575757"/><stop offset="0.074" stop-color="#666666"/><stop offset="0.153" stop-color="#7f7f7f"/><stop offset="0.212" stop-color="#a0a0a0"/><stop offset="0.264" stop-color="#b3b3b3"/><stop offset="0.335" stop-color="#c2c2c2"/><stop offset="0.488" stop-color="#c9c9c9"/><stop offset="0.670" stop-color="#c9c9c9"/><stop offset="0.767" stop-color="#c1c1c1"/><stop offset="0.819" stop-color="#b5b5b5"/><stop offset="0.986" stop-color="#606060"/><stop offset="1.001" stop-color="#5e5e5e"/></linearGradient><linearGradient id="g1bd" x2="0" y2="1"><stop offset="0.000" stop-color="#575757"/><stop offset="0.011" stop-color="#575757"/><stop offset="0.078" stop-color="#666666"/><stop offset="0.153" stop-color="#7f7f7f"/><stop offset="0.216" stop-color="#a0a0a0"/><stop offset="0.268" stop-color="#b3b3b3"/><stop offset="0.339" stop-color="#c2c2c2"/><stop offset="0.488" stop-color="#c9c9c9"/><stop offset="0.670" stop-color="#c9c9c9"/><stop offset="0.763" stop-color="#c2c2c2"/><stop offset="0.815" stop-color="#b5b5b5"/><stop offset="0.942" stop-color="#757575"/><stop offset="0.986" stop-color="#606060"/><stop offset="1.001" stop-color="#5e5e5e"/></linearGradient><linearGradient id="g1be" x2="0" y2="1"><stop offset="0.000" stop-color="#575757"/><stop offset="0.078" stop-color="#666666"/><stop offset="0.160" stop-color="#808080"/><stop offset="0.220" stop-color="#9f9f9f"/><stop offset="0.275" stop-color="#b3b3b3"/><stop offset="0.342" stop-color="#c2c2c2"/><stop offset="0.488" stop-color="#c9c9c9"/><stop offset="0.670" stop-color="#c9c9c9"/><stop offset="0.763" stop-color="#c1c1c1"/><stop offset="0.811" stop-color="#b5b5b5"/><stop offset="0.938" stop-color="#757575"/><stop offset="0.986" stop-color="#606060"/><stop offset="1.001" stop-color="#5e5e5e"/></linearGradient><linearGradient id="g1bf" x2="0" y2="1"><stop offset="0.000" stop-color="#575757"/><stop offset="0.082" stop-color="#666666"/><stop offset="0.164" stop-color="#7f7f7f"/><stop offset="0.231" stop-color="#a0a0a0"/><stop offset="0.283" stop-color="#b3b3b3"/><stop offset="0.350" stop-color="#c2c2c2"/><stop offset="0.491" stop-color="#cacaca"/><stop offset="0.666" stop-color="#cacaca"/><stop offset="0.755" stop-color="#c2c2c2"/><stop offset="0.804" stop-color="#b5b5b5"/><stop offset="0.934" stop-color="#767676"/><stop offset="0.986" stop-color="#606060"/><stop offset="1.001" stop-color="#5e5e5e"/></linearGradient><linearGradient id="g1c0" x2="0" y2="1"><stop offset="0.000" stop-color="#575757"/><stop offset="0.086" stop-color="#666666"/><stop offset="0.171" stop-color="#7f7f7f"/><stop offset="0.287" stop-color="#b2b2b2"/><stop offset="0.354" stop-color="#c2c2c2"/><stop offset="0.495" stop-color="#cacaca"/><stop offset="0.662" stop-color="#cacaca"/><stop offset="0.752" stop-color="#c1c1c1"/><stop offset="0.796" stop-color="#b6b6b6"/><stop offset="0.930" stop-color="#767676"/><stop offset="0.986" stop-color="#606060"/><stop offset="1.001" stop-color="#5e5e5e"/></linearGradient><linearGradient id="g1c1" x2="0" y2="1"><stop offset="0.000" stop-color="#575757"/><stop offset="0.089" stop-color="#666666"/><stop offset="0.179" stop-color="#7f7f7f"/><stop offset="0.298" stop-color="#b2b2b2"/><stop offset="0.361" stop-color="#c2c2c2"/><stop offset="0.495" stop-color="#cacaca"/><stop offset="0.659" stop-color="#cacaca"/><stop offset="0.744" stop-color="#c2c2c2"/><stop offset="0.793" stop-color="#b4b4b4"/><stop offset="0.830" stop-color="#a0a0a0"/><stop offset="0.930" stop-color="#757575"/><stop offset="0.986" stop-color="#5f5f5f"/><stop offset="1.001" stop-color="#5e5e5e"/></linearGradient><linearGradient id="g1c2" x2="0" y2="1"><stop offset="0.000" stop-color="#575757"/><stop offset="0.093" stop-color="#666666"/><stop offset="0.186" stop-color="#7f7f7f"/><stop offset="0.305" stop-color="#b1b1b1"/><stop offset="0.365" stop-color="#c0c0c0"/><stop offset="0.499" stop-color="#c8c8c8"/><stop offset="0.659" stop-color="#c8c8c8"/><stop offset="0.741" stop-color="#c0c0c0"/><stop offset="0.785" stop-color="#b4b4b4"/><stop offset="0.826" stop-color="#9e9e9e"/><stop offset="0.927" stop-color="#757575"/><stop offset="0.986" stop-color="#5f5f5f"/><stop offset="1.001" stop-color="#5e5e5e"/></linearGradient><linearGradient id="g1c3" x2="0" y2="1"><stop offset="0.000" stop-color="#575757"/><stop offset="0.093" stop-color="#666666"/><stop offset="0.190" stop-color="#7f7f7f"/><stop offset="0.253" stop-color="#9a9a9a"/><stop offset="0.368" stop-color="#bababa"/><stop offset="0.499" stop-color="#c3c3c3"/><stop offset="0.655" stop-color="#c3c3c3"/><stop offset="0.737" stop-color="#bbbbbb"/><stop offset="0.782" stop-color="#aeaeae"/><stop offset="0.986" stop-color="#5f5f5f"/><stop offset="1.001" stop-color="#5e5e5e"/></linearGradient><linearGradient id="g1c4" x2="0" y2="1"><stop offset="0.000" stop-color="#575757"/><stop offset="0.097" stop-color="#676767"/><stop offset="0.194" stop-color="#808080"/><stop offset="0.253" stop-color="#999999"/><stop offset="0.372" stop-color="#b6b6b6"/><stop offset="0.499" stop-color="#bfbfbf"/><stop offset="0.655" stop-color="#bfbfbf"/><stop offset="0.737" stop-color="#b6b6b6"/><stop offset="0.834" stop-color="#999999"/><stop offset="0.986" stop-color="#5f5f5f"/><stop offset="1.001" stop-color="#5e5e5e"/></linearGradient><linearGradient id="g1c5" x2="0" y2="1"><stop offset="0.000" stop-color="#575757"/><stop offset="0.093" stop-color="#666666"/><stop offset="0.190" stop-color="#7f7f7f"/><stop offset="0.253" stop-color="#9a9a9a"/><stop offset="0.368" stop-color="#bbbbbb"/><stop offset="0.517" stop-color="#c5c5c5"/><stop offset="0.655" stop-color="#c5c5c5"/><stop offset="0.737" stop-color="#bcbcbc"/><stop offset="0.782" stop-color="#aeaeae"/><stop offset="0.927" stop-color="#747474"/><stop offset="0.986" stop-color="#5f5f5f"/><stop offset="1.001" stop-color="#5e5e5e"/></linearGradient><linearGradient id="g1c6" x2="0" y2="1"><stop offset="0.000" stop-color="#575757"/><stop offset="0.093" stop-color="#666666"/><stop offset="0.186" stop-color="#7f7f7f"/><stop offset="0.305" stop-color="#b1b1b1"/><stop offset="0.368" stop-color="#c3c3c3"/><stop offset="0.495" stop-color="#cdcdcd"/><stop offset="0.543" stop-color="#cdcdcd"/><stop offset="0.659" stop-color="#cdcdcd"/><stop offset="0.741" stop-color="#c3c3c3"/><stop offset="0.782" stop-color="#b6b6b6"/><stop offset="0.822" stop-color="#9f9f9f"/><stop offset="0.927" stop-color="#757575"/><stop offset="0.986" stop-color="#5f5f5f"/><stop offset="1.001" stop-color="#5e5e5e"/></linearGradient><linearGradient id="g1c7" x2="0" y2="1"><stop offset="0.000" stop-color="#575757"/><stop offset="0.089" stop-color="#666666"/><stop offset="0.182" stop-color="#7f7f7f"/><stop offset="0.301" stop-color="#b4b4b4"/><stop offset="0.361" stop-color="#c5c5c5"/><stop offset="0.495" stop-color="#d1d1d1"/><stop offset="0.555" stop-color="#d2d2d2"/><stop offset="0.659" stop-color="#d1d1d1"/><stop offset="0.744" stop-color="#c7c7c7"/><stop offset="0.789" stop-color="#b7b7b7"/><stop offset="0.830" stop-color="#9f9f9f"/><stop offset="0.927" stop-color="#767676"/><stop offset="0.986" stop-color="#5f5f5f"/><stop offset="1.001" stop-color="#5e5e5e"/></linearGradient><linearGradient id="g1c8" x2="0" y2="1"><stop offset="0.000" stop-color="#575757"/><stop offset="0.086" stop-color="#666666"/><stop offset="0.175" stop-color="#7f7f7f"/><stop offset="0.294" stop-color="#b5b5b5"/><stop offset="0.357" stop-color="#c7c7c7"/><stop offset="0.491" stop-color="#d5d5d5"/><stop offset="0.562" stop-color="#d6d6d6"/><stop offset="0.662" stop-color="#d5d5d5"/><stop offset="0.748" stop-color="#c9c9c9"/><stop offset="0.793" stop-color="#bababa"/><stop offset="0.837" stop-color="#9f9f9f"/><stop offset="0.930" stop-color="#757575"/><stop offset="0.986" stop-color="#606060"/><stop offset="1.001" stop-color="#5e5e5e"/></linearGradient><linearGradient id="g1c9" x2="0" y2="1"><stop offset="0.000" stop-color="#575757"/><stop offset="0.086" stop-color="#666666"/><stop offset="0.171" stop-color="#808080"/><stop offset="0.287" stop-color="#b5b5b5"/><stop offset="0.350" stop-color="#c8c8c8"/><stop offset="0.491" stop-color="#d9d9d9"/><stop offset="0.569" stop-color="#dbdbdb"/><stop offset="0.662" stop-color="#d9d9d9"/><stop offset="0.752" stop-color="#cccccc"/><stop offset="0.800" stop-color="#bbbbbb"/><stop offset="0.845" stop-color="#9f9f9f"/><stop offset="0.934" stop-color="#757575"/><stop offset="0.986" stop-color="#606060"/><stop offset="1.001" stop-color="#5e5e5e"/></linearGradient><linearGradient id="g1ca" x2="0" y2="1"><stop offset="0.000" stop-color="#575757"/><stop offset="0.082" stop-color="#666666"/><stop offset="0.164" stop-color="#7f7f7f"/><stop offset="0.227" stop-color="#a0a0a0"/><stop offset="0.275" stop-color="#b5b5b5"/><stop offset="0.346" stop-color="#cbcbcb"/><stop offset="0.488" stop-color="#dedede"/><stop offset="0.569" stop-color="#e1e1e1"/><stop offset="0.666" stop-color="#dedede"/><stop offset="0.759" stop-color="#cecece"/><stop offset="0.808" stop-color="#bbbbbb"/><stop offset="0.863" stop-color="#999999"/><stop offset="0.938" stop-color="#747474"/><stop offset="0.986" stop-color="#606060"/><stop offset="1.001" stop-color="#5e5e5e"/></linearGradient><linearGradient id="g1cb" x2="0" y2="1"><stop offset="0.000" stop-color="#575757"/><stop offset="0.078" stop-color="#666666"/><stop offset="0.156" stop-color="#7f7f7f"/><stop offset="0.216" stop-color="#9f9f9f"/><stop offset="0.268" stop-color="#b6b6b6"/><stop offset="0.339" stop-color="#cccccc"/><stop offset="0.484" stop-color="#e2e2e2"/><stop offset="0.573" stop-color="#e7e7e7"/><stop offset="0.670" stop-color="#e3e3e3"/><stop offset="0.763" stop-color="#d2d2d2"/><stop offset="0.811" stop-color="#bebebe"/><stop offset="0.871" stop-color="#999999"/><stop offset="0.938" stop-color="#767676"/><stop offset="0.986" stop-color="#606060"/><stop offset="1.001" stop-color="#5e5e5e"/></linearGradient><linearGradient id="g1cc" x2="0" y2="1"><stop offset="0.000" stop-color="#575757"/><stop offset="0.011" stop-color="#575757"/><stop offset="0.074" stop-color="#666666"/><stop offset="0.149" stop-color="#7f7f7f"/><stop offset="0.208" stop-color="#a0a0a0"/><stop offset="0.261" stop-color="#b6b6b6"/><stop offset="0.331" stop-color="#cdcdcd"/><stop offset="0.484" stop-color="#e7e7e7"/><stop offset="0.573" stop-color="#ececec"/><stop offset="0.670" stop-color="#e7e7e7"/><stop offset="0.767" stop-color="#d4d4d4"/><stop offset="0.819" stop-color="#bebebe"/><stop offset="0.875" stop-color="#9a9a9a"/><stop offset="0.942" stop-color="#757575"/><stop offset="0.986" stop-color="#606060"/><stop offset="1.001" stop-color="#5e5e5e"/></linearGradient><linearGradient id="g1cd" x2="0" y2="1"><stop offset="0.000" stop-color="#575757"/><stop offset="0.011" stop-color="#575757"/><stop offset="0.071" stop-color="#656565"/><stop offset="0.145" stop-color="#7f7f7f"/><stop offset="0.205" stop-color="#a1a1a1"/><stop offset="0.257" stop-color="#b7b7b7"/><stop offset="0.328" stop-color="#cecece"/><stop offset="0.484" stop-color="#ebebeb"/><stop offset="0.573" stop-color="#f1f1f1"/><stop offset="0.674" stop-color="#ebebeb"/><stop offset="0.770" stop-color="#d6d6d6"/><stop offset="0.822" stop-color="#bfbfbf"/><stop offset="0.882" stop-color="#989898"/><stop offset="0.945" stop-color="#747474"/><stop offset="0.990" stop-color="#5e5e5e"/><stop offset="1.001" stop-color="#5e5e5e"/></linearGradient><linearGradient id="g1ce" x2="0" y2="1"><stop offset="0.000" stop-color="#575757"/><stop offset="0.011" stop-color="#575757"/><stop offset="0.071" stop-color="#666666"/><stop offset="0.141" stop-color="#7f7f7f"/><stop offset="0.197" stop-color="#9f9f9f"/><stop offset="0.253" stop-color="#b7b7b7"/><stop offset="0.324" stop-color="#cfcfcf"/><stop offset="0.480" stop-color="#ededed"/><stop offset="0.573" stop-color="#f4f4f4"/><stop offset="0.674" stop-color="#eeeeee"/><stop offset="0.774" stop-color="#d7d7d7"/><stop offset="0.826" stop-color="#c0c0c0"/><stop offset="0.886" stop-color="#989898"/><stop offset="0.945" stop-color="#757575"/><stop offset="0.990" stop-color="#5e5e5e"/><stop offset="1.001" stop-color="#5e5e5e"/></linearGradient><linearGradient id="g1cf" x2="0" y2="1"><stop offset="0.000" stop-color="#575757"/><stop offset="0.011" stop-color="#575757"/><stop offset="0.071" stop-color="#666666"/><stop offset="0.141" stop-color="#7f7f7f"/><stop offset="0.197" stop-color="#a0a0a0"/><stop offset="0.249" stop-color="#b6b6b6"/><stop offset="0.324" stop-color="#cfcfcf"/><stop offset="0.480" stop-color="#eeeeee"/><stop offset="0.573" stop-color="#f5f5f5"/><stop offset="0.674" stop-color="#efefef"/><stop offset="0.774" stop-color="#d8d8d8"/><stop offset="0.826" stop-color="#c0c0c0"/><stop offset="0.886" stop-color="#989898"/><stop offset="0.945" stop-color="#757575"/><stop offset="0.990" stop-color="#5e5e5e"/><stop offset="1.001" stop-color="#5e5e5e"/></linearGradient><linearGradient id="g1d0" x2="0" y2="1"><stop offset="0.000" stop-color="#575757"/><stop offset="0.011" stop-color="#575757"/><stop offset="0.071" stop-color="#666666"/><stop offset="0.141" stop-color="#7f7f7f"/><stop offset="0.201" stop-color="#a1a1a1"/><stop offset="0.253" stop-color="#b7b7b7"/><stop offset="0.328" stop-color="#cfcfcf"/><stop offset="0.480" stop-color="#ededed"/><stop offset="0.573" stop-color="#f4f4f4"/><stop offset="0.674" stop-color="#eeeeee"/><stop offset="0.774" stop-color="#d7d7d7"/><stop offset="0.826" stop-color="#bfbfbf"/><stop offset="0.882" stop-color="#9a9a9a"/><stop offset="0.945" stop-color="#757575"/><stop offset="0.990" stop-color="#5e5e5e"/><stop offset="1.001" stop-color="#5e5e5e"/></linearGradient><linearGradient id="g1d1" x2="0" y2="1"><stop offset="0.000" stop-color="#575757"/><stop offset="0.011" stop-color="#575757"/><stop offset="0.074" stop-color="#666666"/><stop offset="0.145" stop-color="#7f7f7f"/><stop offset="0.205" stop-color="#a0a0a0"/><stop offset="0.257" stop-color="#b6b6b6"/><stop offset="0.328" stop-color="#cecece"/><stop offset="0.484" stop-color="#ebebeb"/><stop offset="0.573" stop-color="#f1f1f1"/><stop offset="0.674" stop-color="#ebebeb"/><stop offset="0.770" stop-color="#d6d6d6"/><stop offset="0.822" stop-color="#bfbfbf"/><stop offset="0.878" stop-color="#999999"/><stop offset="0.942" stop-color="#767676"/><stop offset="0.986" stop-color="#606060"/><stop offset="1.001" stop-color="#5e5e5e"/></linearGradient><linearGradient id="g1d2" x2="0" y2="1"><stop offset="0.000" stop-color="#575757"/><stop offset="0.011" stop-color="#575757"/><stop offset="0.074" stop-color="#666666"/><stop offset="0.153" stop-color="#7f7f7f"/><stop offset="0.212" stop-color="#a0a0a0"/><stop offset="0.264" stop-color="#b6b6b6"/><stop offset="0.335" stop-color="#cdcdcd"/><stop offset="0.484" stop-color="#e7e7e7"/><stop offset="0.573" stop-color="#ececec"/><stop offset="0.670" stop-color="#e7e7e7"/><stop offset="0.763" stop-color="#d5d5d5"/><stop offset="0.815" stop-color="#bebebe"/><stop offset="0.871" stop-color="#9a9a9a"/><stop offset="0.942" stop-color="#757575"/><stop offset="0.986" stop-color="#606060"/><stop offset="1.001" stop-color="#5e5e5e"/></linearGradient><linearGradient id="g1d3" x2="0" y2="1"><stop offset="0.000" stop-color="#575757"/><stop offset="0.078" stop-color="#666666"/><stop offset="0.160" stop-color="#7f7f7f"/><stop offset="0.223" stop-color="#a0a0a0"/><stop offset="0.272" stop-color="#b5b5b5"/><stop offset="0.342" stop-color="#cccccc"/><stop offset="0.488" stop-color="#e2e2e2"/><stop offset="0.573" stop-color="#e6e6e6"/><stop offset="0.666" stop-color="#e2e2e2"/><stop offset="0.759" stop-color="#d1d1d1"/><stop offset="0.808" stop-color="#bdbdbd"/><stop offset="0.863" stop-color="#9a9a9a"/><stop offset="0.938" stop-color="#757575"/><stop offset="0.986" stop-color="#606060"/><stop offset="1.001" stop-color="#5e5e5e"/></linearGradient><linearGradient id="g1d4" x2="0" y2="1"><stop offset="0.000" stop-color="#575757"/><stop offset="0.082" stop-color="#666666"/><stop offset="0.167" stop-color="#808080"/><stop offset="0.231" stop-color="#9f9f9f"/><stop offset="0.283" stop-color="#b4b4b4"/><stop offset="0.346" stop-color="#c8c8c8"/><stop offset="0.488" stop-color="#dcdcdc"/><stop offset="0.569" stop-color="#dfdfdf"/><stop offset="0.662" stop-color="#dcdcdc"/><stop offset="0.752" stop-color="#cecece"/><stop offset="0.800" stop-color="#bababa"/><stop offset="0.845" stop-color="#9f9f9f"/><stop offset="0.934" stop-color="#757575"/><stop offset="0.986" stop-color="#606060"/><stop offset="1.001" stop-color="#5e5e5e"/></linearGradient><linearGradient id="g1d5" x2="0" y2="1"><stop offset="0.000" stop-color="#575757"/><stop offset="0.086" stop-color="#666666"/><stop offset="0.171" stop-color="#7f7f7f"/><stop offset="0.238" stop-color="#9e9e9e"/><stop offset="0.354" stop-color="#c5c5c5"/><stop offset="0.491" stop-color="#d6d6d6"/><stop offset="0.566" stop-color="#d8d8d8"/><stop offset="0.662" stop-color="#d6d6d6"/><stop offset="0.748" stop-color="#c9c9c9"/><stop offset="0.796" stop-color="#b6b6b6"/><stop offset="0.837" stop-color="#9f9f9f"/><stop offset="0.930" stop-color="#767676"/><stop offset="0.986" stop-color="#606060"/><stop offset="1.001" stop-color="#5e5e5e"/></linearGradient><linearGradient id="g1d6" x2="0" y2="1"><stop offset="0.000" stop-color="#575757"/><stop offset="0.086" stop-color="#666666"/><stop offset="0.175" stop-color="#7f7f7f"/><stop offset="0.231" stop-color="#999999"/><stop offset="0.354" stop-color="#c1c1c1"/><stop offset="0.491" stop-color="#d1d1d1"/><stop offset="0.562" stop-color="#d3d3d3"/><stop offset="0.659" stop-color="#d1d1d1"/><stop offset="0.748" stop-color="#c4c4c4"/><stop offset="0.793" stop-color="#b4b4b4"/><stop offset="0.822" stop-color="#a3a3a3"/><stop offset="0.930" stop-color="#757575"/><stop offset="0.986" stop-color="#606060"/><stop offset="1.001" stop-color="#5e5e5e"/></linearGradient><linearGradient id="g1d7" x2="0" y2="1"><stop offset="0.000" stop-color="#575757"/><stop offset="0.086" stop-color="#666666"/><stop offset="0.175" stop-color="#7f7f7f"/><stop offset="0.231" stop-color="#999999"/><stop offset="0.357" stop-color="#c1c1c1"/><stop offset="0.491" stop-color="#cfcfcf"/><stop offset="0.558" stop-color="#d0d0d0"/><stop offset="0.659" stop-color="#cfcfcf"/><stop offset="0.744" stop-color="#c3c3c3"/><stop offset="0.793" stop-color="#b2b2b2"/><stop offset="0.811" stop-color="#a7a7a7"/><stop offset="0.930" stop-color="#757575"/><stop offset="0.986" stop-color="#5f5f5f"/><stop offset="1.001" stop-color="#5e5e5e"/></linearGradient><linearGradient id="g1d8" x2="0" y2="1"><stop offset="0.000" stop-color="#575757"/><stop offset="0.086" stop-color="#666666"/><stop offset="0.171" stop-color="#7f7f7f"/><stop offset="0.242" stop-color="#9e9e9e"/><stop offset="0.354" stop-color="#c2c2c2"/><stop offset="0.491" stop-color="#cfcfcf"/><stop offset="0.551" stop-color="#d0d0d0"/><stop offset="0.662" stop-color="#cfcfcf"/><stop offset="0.748" stop-color="#c3c3c3"/><stop offset="0.793" stop-color="#b4b4b4"/><stop offset="0.830" stop-color="#a1a1a1"/><stop offset="0.930" stop-color="#757575"/><stop offset="0.986" stop-color="#606060"/><stop offset="1.001" stop-color="#5e5e5e"/></linearGradient><linearGradient id="g1d9" x2="0" y2="1"><stop offset="0.000" stop-color="#575757"/><stop offset="0.082" stop-color="#666666"/><stop offset="0.167" stop-color="#7f7f7f"/><stop offset="0.234" stop-color="#9e9e9e"/><stop offset="0.283" stop-color="#b1b1b1"/><stop offset="0.350" stop-color="#c4c4c4"/><stop offset="0.488" stop-color="#d1d1d1"/><stop offset="0.547" stop-color="#d2d2d2"/><stop offset="0.662" stop-color="#d1d1d1"/><stop offset="0.752" stop-color="#c5c5c5"/><stop offset="0.796" stop-color="#b6b6b6"/><stop offset="0.837" stop-color="#a0a0a0"/><stop offset="0.934" stop-color="#747474"/><stop offset="0.986" stop-color="#606060"/><stop offset="1.001" stop-color="#5e5e5e"/></linearGradient><linearGradient id="g1da" x2="0" y2="1"><stop offset="0.000" stop-color="#575757"/><stop offset="0.082" stop-color="#666666"/><stop offset="0.160" stop-color="#7f7f7f"/><stop offset="0.227" stop-color="#a0a0a0"/><stop offset="0.275" stop-color="#b3b3b3"/><stop offset="0.342" stop-color="#c6c6c6"/><stop offset="0.484" stop-color="#d4d4d4"/><stop offset="0.547" stop-color="#d6d6d6"/><stop offset="0.662" stop-color="#d4d4d4"/><stop offset="0.755" stop-color="#c7c7c7"/><stop offset="0.804" stop-color="#b7b7b7"/><stop offset="0.845" stop-color="#a0a0a0"/><stop offset="0.934" stop-color="#757575"/><stop offset="0.986" stop-color="#606060"/><stop offset="1.001" stop-color="#5e5e5e"/></linearGradient><linearGradient id="g1db" x2="0" y2="1"><stop offset="0.000" stop-color="#575757"/><stop offset="0.011" stop-color="#575757"/><stop offset="0.078" stop-color="#666666"/><stop offset="0.153" stop-color="#7f7f7f"/><stop offset="0.216" stop-color="#a0a0a0"/><stop offset="0.264" stop-color="#b4b4b4"/><stop offset="0.335" stop-color="#c9c9c9"/><stop offset="0.480" stop-color="#d9d9d9"/><stop offset="0.547" stop-color="#dadada"/><stop offset="0.666" stop-color="#d8d8d8"/><stop offset="0.759" stop-color="#cbcbcb"/><stop offset="0.808" stop-color="#bababa"/><stop offset="0.938" stop-color="#757575"/><stop offset="0.986" stop-color="#606060"/><stop offset="1.001" stop-color="#5e5e5e"/></linearGradient><linearGradient id="g1dc" x2="0" y2="1"><stop offset="0.000" stop-color="#575757"/><stop offset="0.011" stop-color="#575757"/><stop offset="0.074" stop-color="#666666"/><stop offset="0.145" stop-color="#7f7f7f"/><stop offset="0.205" stop-color="#a0a0a0"/><stop offset="0.257" stop-color="#b6b6b6"/><stop offset="0.328" stop-color="#cccccc"/><stop offset="0.480" stop-color="#e0e0e0"/><stop offset="0.551" stop-color="#e2e2e2"/><stop offset="0.666" stop-color="#dedede"/><stop offset="0.763" stop-color="#cfcfcf"/><stop offset="0.815" stop-color="#bbbbbb"/><stop offset="0.942" stop-color="#757575"/><stop offset="0.986" stop-color="#606060"/><stop offset="1.001" stop-color="#5e5e5e"/></linearGradient><linearGradient id="g1dd" x2="0" y2="1"><stop offset="0.000" stop-color="#575757"/><stop offset="0.011" stop-color="#575757"/><stop offset="0.071" stop-color="#666666"/><stop offset="0.141" stop-color="#808080"/><stop offset="0.197" stop-color="#a1a1a1"/><stop offset="0.249" stop-color="#b7b7b7"/><stop offset="0.320" stop-color="#cfcfcf"/><stop offset="0.476" stop-color="#e9e9e9"/><stop offset="0.555" stop-color="#ededed"/><stop offset="0.670" stop-color="#e7e7e7"/><stop offset="0.767" stop-color="#d4d4d4"/><stop offset="0.822" stop-color="#bcbcbc"/><stop offset="0.878" stop-color="#999999"/><stop offset="0.945" stop-color="#747474"/><stop offset="0.990" stop-color="#5e5e5e"/><stop offset="1.001" stop-color="#5e5e5e"/></linearGradient><linearGradient id="g1de" x2="0" y2="1"><stop offset="0.000" stop-color="#575757"/><stop offset="0.011" stop-color="#575757"/><stop offset="0.067" stop-color="#666666"/><stop offset="0.134" stop-color="#7e7e7e"/><stop offset="0.190" stop-color="#a1a1a1"/><stop offset="0.242" stop-color="#b7b7b7"/><stop offset="0.316" stop-color="#d3d3d3"/><stop offset="0.473" stop-color="#f3f3f3"/><stop offset="0.558" stop-color="#f9f9f9"/><stop offset="0.610" stop-color="#f7f7f7"/><stop offset="0.670" stop-color="#f0f0f0"/><stop offset="0.770" stop-color="#d8d8d8"/><stop offset="0.826" stop-color="#bfbfbf"/><stop offset="0.882" stop-color="#9a9a9a"/><stop offset="0.945" stop-color="#757575"/><stop offset="0.990" stop-color="#5e5e5e"/><stop offset="1.001" stop-color="#5e5e5e"/></linearGradient><linearGradient id="g1df" x2="0" y2="1"><stop offset="0.000" stop-color="#575757"/><stop offset="0.011" stop-color="#575757"/><stop offset="0.067" stop-color="#666666"/><stop offset="0.134" stop-color="#7f7f7f"/><stop offset="0.186" stop-color="#a0a0a0"/><stop offset="0.242" stop-color="#b9b9b9"/><stop offset="0.316" stop-color="#d5d5d5"/><stop offset="0.473" stop-color="#f8f8f8"/><stop offset="0.558" stop-color="#ffffff"/><stop offset="0.610" stop-color="#fcfcfc"/><stop offset="0.670" stop-color="#f5f5f5"/><stop offset="0.770" stop-color="#dbdbdb"/><stop offset="0.826" stop-color="#c1c1c1"/><stop offset="0.886" stop-color="#989898"/><stop offset="0.945" stop-color="#757575"/><stop offset="0.990" stop-color="#5e5e5e"/><stop offset="1.001" stop-color="#5e5e5e"/></linearGradient><linearGradient id="g1e0" x2="0" y2="1"><stop offset="0.000" stop-color="#575757"/><stop offset="0.011" stop-color="#575757"/><stop offset="0.067" stop-color="#666666"/><stop offset="0.134" stop-color="#7f7f7f"/><stop offset="0.186" stop-color="#a0a0a0"/><stop offset="0.242" stop-color="#b8b8b8"/><stop offset="0.316" stop-color="#d3d3d3"/><stop offset="0.473" stop-color="#f4f4f4"/><stop offset="0.558" stop-color="#fafafa"/><stop offset="0.610" stop-color="#f8f8f8"/><stop offset="0.670" stop-color="#f1f1f1"/><stop offset="0.770" stop-color="#d9d9d9"/><stop offset="0.826" stop-color="#c0c0c0"/><stop offset="0.886" stop-color="#989898"/><stop offset="0.945" stop-color="#757575"/><stop offset="0.990" stop-color="#5e5e5e"/><stop offset="1.001" stop-color="#5e5e5e"/></linearGradient><linearGradient id="g1e1" x2="0" y2="1"><stop offset="0.000" stop-color="#575757"/><stop offset="0.011" stop-color="#575757"/><stop offset="0.071" stop-color="#666666"/><stop offset="0.138" stop-color="#7f7f7f"/><stop offset="0.194" stop-color="#a0a0a0"/><stop offset="0.249" stop-color="#b7b7b7"/><stop offset="0.320" stop-color="#cfcfcf"/><stop offset="0.476" stop-color="#e9e9e9"/><stop offset="0.555" stop-color="#ededed"/><stop offset="0.670" stop-color="#e7e7e7"/><stop offset="0.770" stop-color="#d2d2d2"/><stop offset="0.822" stop-color="#bebebe"/><stop offset="0.942" stop-color="#777777"/><stop offset="0.986" stop-color="#606060"/><stop offset="1.001" stop-color="#5e5e5e"/></linearGradient><linearGradient id="g1e2" x2="0" y2="1"><stop offset="0.000" stop-color="#575757"/><stop offset="0.011" stop-color="#575757"/><stop offset="0.074" stop-color="#666666"/><stop offset="0.145" stop-color="#7f7f7f"/><stop offset="0.205" stop-color="#a0a0a0"/><stop offset="0.257" stop-color="#b5b5b5"/><stop offset="0.328" stop-color="#cacaca"/><stop offset="0.480" stop-color="#dcdcdc"/><stop offset="0.551" stop-color="#dfdfdf"/><stop offset="0.670" stop-color="#dbdbdb"/><stop offset="0.767" stop-color="#cccccc"/><stop offset="0.819" stop-color="#bbbbbb"/><stop offset="0.942" stop-color="#767676"/><stop offset="0.986" stop-color="#606060"/><stop offset="1.001" stop-color="#5e5e5e"/></linearGradient><linearGradient id="g1e3" x2="0" y2="1"><stop offset="0.000" stop-color="#575757"/><stop offset="0.078" stop-color="#666666"/><stop offset="0.156" stop-color="#7f7f7f"/><stop offset="0.220" stop-color="#a0a0a0"/><stop offset="0.268" stop-color="#b3b3b3"/><stop offset="0.339" stop-color="#c6c6c6"/><stop offset="0.488" stop-color="#d3d3d3"/><stop offset="0.540" stop-color="#d4d4d4"/><stop offset="0.670" stop-color="#d2d2d2"/><stop offset="0.767" stop-color="#c6c6c6"/><stop offset="0.815" stop-color="#b8b8b8"/><stop offset="0.942" stop-color="#747474"/><stop offset="0.986" stop-color="#606060"/><stop offset="1.001" stop-color="#5e5e5e"/></linearGradient><linearGradient id="g1e4" x2="0" y2="1"><stop offset="0.000" stop-color="#575757"/><stop offset="0.082" stop-color="#666666"/><stop offset="0.167" stop-color="#7f7f7f"/><stop offset="0.234" stop-color="#a0a0a0"/><stop offset="0.283" stop-color="#b3b3b3"/><stop offset="0.350" stop-color="#c4c4c4"/><stop offset="0.506" stop-color="#cecece"/><stop offset="0.670" stop-color="#cdcdcd"/><stop offset="0.763" stop-color="#c4c4c4"/><stop offset="0.811" stop-color="#b6b6b6"/><stop offset="0.938" stop-color="#757575"/><stop offset="0.986" stop-color="#606060"/><stop offset="1.001" stop-color="#5e5e5e"/></linearGradient><linearGradient id="g1e5" x2="0" y2="1"><stop offset="0.000" stop-color="#575757"/><stop offset="0.089" stop-color="#666666"/><stop offset="0.179" stop-color="#7f7f7f"/><stop offset="0.298" stop-color="#b3b3b3"/><stop offset="0.361" stop-color="#c2c2c2"/><stop offset="0.502" stop-color="#cbcbcb"/><stop offset="0.670" stop-color="#cbcbcb"/><stop offset="0.759" stop-color="#c2c2c2"/><stop offset="0.804" stop-color="#b6b6b6"/><stop offset="0.934" stop-color="#767676"/><stop offset="0.986" stop-color="#606060"/><stop offset="1.001" stop-color="#5e5e5e"/></linearGradient><linearGradient id="g1e6" x2="0" y2="1"><stop offset="0.000" stop-color="#575757"/><stop offset="0.093" stop-color="#666666"/><stop offset="0.190" stop-color="#7f7f7f"/><stop offset="0.309" stop-color="#b2b2b2"/><stop offset="0.372" stop-color="#c2c2c2"/><stop offset="0.506" stop-color="#cacaca"/><stop offset="0.670" stop-color="#cacaca"/><stop offset="0.755" stop-color="#c2c2c2"/><stop offset="0.800" stop-color="#b6b6b6"/><stop offset="0.841" stop-color="#9f9f9f"/><stop offset="0.934" stop-color="#757575"/><stop offset="0.986" stop-color="#606060"/><stop offset="1.001" stop-color="#5e5e5e"/></linearGradient><linearGradient id="g1e7" x2="0" y2="1"><stop offset="0.000" stop-color="#575757"/><stop offset="0.097" stop-color="#666666"/><stop offset="0.197" stop-color="#7f7f7f"/><stop offset="0.320" stop-color="#b3b3b3"/><stop offset="0.380" stop-color="#c2c2c2"/><stop offset="0.510" stop-color="#cacaca"/><stop offset="0.670" stop-color="#cacaca"/><stop offset="0.752" stop-color="#c2c2c2"/><stop offset="0.796" stop-color="#b6b6b6"/><stop offset="0.837" stop-color="#9f9f9f"/><stop offset="0.930" stop-color="#757575"/><stop offset="0.986" stop-color="#606060"/><stop offset="1.001" stop-color="#5e5e5e"/></linearGradient><linearGradient id="g1e8" x2="0" y2="1"><stop offset="0.000" stop-color="#575757"/><stop offset="0.097" stop-color="#666666"/><stop offset="0.201" stop-color="#7f7f7f"/><stop offset="0.324" stop-color="#b2b2b2"/><stop offset="0.383" stop-color="#c2c2c2"/><stop offset="0.514" stop-color="#cbcbcb"/><stop offset="0.670" stop-color="#cacaca"/><stop offset="0.752" stop-color="#c2c2c2"/><stop offset="0.796" stop-color="#b5b5b5"/><stop offset="0.834" stop-color="#9f9f9f"/><stop offset="0.930" stop-color="#757575"/><stop offset="0.986" stop-color="#5f5f5f"/><stop offset="1.001" stop-color="#5e5e5e"/></linearGradient><linearGradient id="g1e9" x2="0" y2="1"><stop offset="0.000" stop-color="#575757"/><stop offset="0.100" stop-color="#666666"/><stop offset="0.201" stop-color="#7f7f7f"/><stop offset="0.328" stop-color="#b4b4b4"/><stop offset="0.383" stop-color="#c3c3c3"/><stop offset="0.514" stop-color="#cccccc"/><stop offset="0.670" stop-color="#cbcbcb"/><stop offset="0.752" stop-color="#c3c3c3"/><stop offset="0.796" stop-color="#b5b5b5"/><stop offset="0.834" stop-color="#9f9f9f"/><stop offset="0.930" stop-color="#757575"/><stop offset="0.986" stop-color="#5f5f5f"/><stop offset="1.001" stop-color="#5e5e5e"/></linearGradient><linearGradient id="g1ea" x2="0" y2="1"><stop offset="0.000" stop-color="#575757"/><stop offset="0.097" stop-color="#666666"/><stop offset="0.197" stop-color="#7f7f7f"/><stop offset="0.320" stop-color="#b5b5b5"/><stop offset="0.380" stop-color="#c5c5c5"/><stop offset="0.510" stop-color="#cfcfcf"/><stop offset="0.670" stop-color="#cdcdcd"/><stop offset="0.752" stop-color="#c4c4c4"/><stop offset="0.796" stop-color="#b7b7b7"/><stop offset="0.837" stop-color="#9f9f9f"/><stop offset="0.930" stop-color="#757575"/><stop offset="0.986" stop-color="#606060"/><stop offset="1.001" stop-color="#5e5e5e"/></linearGradient><linearGradient id="g1eb" x2="0" y2="1"><stop offset="0.000" stop-color="#575757"/><stop offset="0.089" stop-color="#666666"/><stop offset="0.186" stop-color="#808080"/><stop offset="0.305" stop-color="#b6b6b6"/><stop offset="0.368" stop-color="#c9c9c9"/><stop offset="0.506" stop-color="#d3d3d3"/><stop offset="0.670" stop-color="#d1d1d1"/><stop offset="0.755" stop-color="#c6c6c6"/><stop offset="0.800" stop-color="#b8b8b8"/><stop offset="0.841" stop-color="#a0a0a0"/><stop offset="0.934" stop-color="#757575"/><stop offset="0.986" stop-color="#606060"/><stop offset="1.001" stop-color="#5e5e5e"/></linearGradient><linearGradient id="g1ec" x2="0" y2="1"><stop offset="0.000" stop-color="#575757"/><stop offset="0.082" stop-color="#666666"/><stop offset="0.167" stop-color="#7f7f7f"/><stop offset="0.287" stop-color="#b8b8b8"/><stop offset="0.350" stop-color="#cccccc"/><stop offset="0.510" stop-color="#dadada"/><stop offset="0.670" stop-color="#d6d6d6"/><stop offset="0.759" stop-color="#c9c9c9"/><stop offset="0.808" stop-color="#b9b9b9"/><stop offset="0.856" stop-color="#9d9d9d"/><stop offset="0.938" stop-color="#747474"/><stop offset="0.986" stop-color="#606060"/><stop offset="1.001" stop-color="#5e5e5e"/></linearGradient><linearGradient id="g1ed" x2="0" y2="1"><stop offset="0.000" stop-color="#575757"/><stop offset="0.011" stop-color="#575757"/><stop offset="0.074" stop-color="#656565"/><stop offset="0.153" stop-color="#7f7f7f"/><stop offset="0.212" stop-color="#a0a0a0"/><stop offset="0.264" stop-color="#b9b9b9"/><stop offset="0.335" stop-color="#d1d1d1"/><stop offset="0.454" stop-color="#e0e0e0"/><stop offset="0.514" stop-color="#e3e3e3"/><stop offset="0.666" stop-color="#dddddd"/><stop offset="0.763" stop-color="#cdcdcd"/><stop offset="0.815" stop-color="#b9b9b9"/><stop offset="0.871" stop-color="#999999"/><stop offset="0.942" stop-color="#747474"/><stop offset="0.986" stop-color="#606060"/><stop offset="1.001" stop-color="#5e5e5e"/></linearGradient><linearGradient id="g1ee" x2="0" y2="1"><stop offset="0.000" stop-color="#575757"/><stop offset="0.011" stop-color="#575757"/><stop offset="0.071" stop-color="#666666"/><stop offset="0.138" stop-color="#7f7f7f"/><stop offset="0.194" stop-color="#a1a1a1"/><stop offset="0.246" stop-color="#b9b9b9"/><stop offset="0.320" stop-color="#d5d5d5"/><stop offset="0.450" stop-color="#e8e8e8"/><stop offset="0.517" stop-color="#ececec"/><stop offset="0.584" stop-color="#eaeaea"/><stop offset="0.666" stop-color="#e3e3e3"/><stop offset="0.767" stop-color="#d0d0d0"/><stop offset="0.819" stop-color="#bcbcbc"/><stop offset="0.942" stop-color="#757575"/><stop offset="0.986" stop-color="#606060"/><stop offset="1.001" stop-color="#5e5e5e"/></linearGradient><linearGradient id="g1ef" x2="0" y2="1"><stop offset="0.000" stop-color="#575757"/><stop offset="0.011" stop-color="#575757"/><stop offset="0.067" stop-color="#666666"/><stop offset="0.130" stop-color="#7f7f7f"/><stop offset="0.182" stop-color="#a1a1a1"/><stop offset="0.238" stop-color="#bcbcbc"/><stop offset="0.309" stop-color="#d7d7d7"/><stop offset="0.443" stop-color="#eeeeee"/><stop offset="0.517" stop-color="#f4f4f4"/><stop offset="0.584" stop-color="#f1f1f1"/><stop offset="0.662" stop-color="#e9e9e9"/><stop offset="0.767" stop-color="#d4d4d4"/><stop offset="0.822" stop-color="#bdbdbd"/><stop offset="0.945" stop-color="#747474"/><stop offset="0.990" stop-color="#5e5e5e"/><stop offset="1.001" stop-color="#5e5e5e"/></linearGradient><linearGradient id="g1f0" x2="0" y2="1"><stop offset="0.000" stop-color="#575757"/><stop offset="0.011" stop-color="#575757"/><stop offset="0.063" stop-color="#656565"/><stop offset="0.127" stop-color="#7e7e7e"/><stop offset="0.179" stop-color="#a1a1a1"/><stop offset="0.234" stop-color="#bcbcbc"/><stop offset="0.309" stop-color="#d9d9d9"/><stop offset="0.443" stop-color="#f2f2f2"/><stop offset="0.517" stop-color="#f7f7f7"/><stop offset="0.581" stop-color="#f5f5f5"/><stop offset="0.655" stop-color="#ededed"/><stop offset="0.767" stop-color="#d5d5d5"/><stop offset="0.822" stop-color="#bebebe"/><stop offset="0.945" stop-color="#747474"/><stop offset="0.990" stop-color="#5e5e5e"/><stop offset="1.001" stop-color="#5e5e5e"/></linearGradient><linearGradient id="g1f1" x2="0" y2="1"><stop offset="0.000" stop-color="#575757"/><stop offset="0.011" stop-color="#575757"/><stop offset="0.063" stop-color="#656565"/><stop offset="0.127" stop-color="#7e7e7e"/><stop offset="0.179" stop-color="#a1a1a1"/><stop offset="0.234" stop-color="#bcbcbc"/><stop offset="0.309" stop-color="#d9d9d9"/><stop offset="0.447" stop-color="#f1f1f1"/><stop offset="0.517" stop-color="#f6f6f6"/><stop offset="0.584" stop-color="#f4f4f4"/><stop offset="0.659" stop-color="#ececec"/><stop offset="0.767" stop-color="#d5d5d5"/><stop offset="0.822" stop-color="#bebebe"/><stop offset="0.945" stop-color="#747474"/><stop offset="0.990" stop-color="#5e5e5e"/><stop offset="1.001" stop-color="#5e5e5e"/></linearGradient><linearGradient id="g1f2" x2="0" y2="1"><stop offset="0.000" stop-color="#575757"/><stop offset="0.011" stop-color="#575757"/><stop offset="0.063" stop-color="#656565"/><stop offset="0.127" stop-color="#7e7e7e"/><stop offset="0.179" stop-color="#a1a1a1"/><stop offset="0.234" stop-color="#bababa"/><stop offset="0.309" stop-color="#d6d6d6"/><stop offset="0.447" stop-color="#ececec"/><stop offset="0.517" stop-color="#f0f0f0"/><stop offset="0.584" stop-color="#eeeeee"/><stop offset="0.666" stop-color="#e6e6e6"/><stop offset="0.767" stop-color="#d2d2d2"/><stop offset="0.822" stop-color="#bdbdbd"/><stop offset="0.945" stop-color="#747474"/><stop offset="0.990" stop-color="#5e5e5e"/><stop offset="1.001" stop-color="#5e5e5e"/></linearGradient><linearGradient id="g1f3" x2="0" y2="1"><stop offset="0.000" stop-color="#575757"/><stop offset="0.011" stop-color="#575757"/><stop offset="0.067" stop-color="#676767"/><stop offset="0.130" stop-color="#808080"/><stop offset="0.179" stop-color="#a1a1a1"/><stop offset="0.234" stop-color="#b9b9b9"/><stop offset="0.309" stop-color="#d1d1d1"/><stop offset="0.447" stop-color="#e4e4e4"/><stop offset="0.514" stop-color="#e8e8e8"/><stop offset="0.666" stop-color="#e0e0e0"/><stop offset="0.767" stop-color="#cfcfcf"/><stop offset="0.822" stop-color="#bbbbbb"/><stop offset="0.945" stop-color="#747474"/><stop offset="0.990" stop-color="#5e5e5e"/><stop offset="1.001" stop-color="#5e5e5e"/></linearGradient><linearGradient id="g1f4" x2="0" y2="1"><stop offset="0.000" stop-color="#575757"/><stop offset="0.011" stop-color="#575757"/><stop offset="0.067" stop-color="#676767"/><stop offset="0.130" stop-color="#808080"/><stop offset="0.179" stop-color="#a0a0a0"/><stop offset="0.234" stop-color="#b7b7b7"/><stop offset="0.309" stop-color="#cdcdcd"/><stop offset="0.450" stop-color="#dcdcdc"/><stop offset="0.510" stop-color="#dedede"/><stop offset="0.666" stop-color="#d9d9d9"/><stop offset="0.767" stop-color="#cbcbcb"/><stop offset="0.822" stop-color="#b9b9b9"/><stop offset="0.945" stop-color="#747474"/><stop offset="0.990" stop-color="#5e5e5e"/><stop offset="1.001" stop-color="#5e5e5e"/></linearGradient><clipPath id="cj3"><rect x="999.1" y="472.2" width="239.9" height="262.7"/></clipPath></defs>
<g clip-path="url(#cj0)"><g filter="url(#fjet)"><rect x="140" y="467.6" width="4.5" height="269.8" fill="url(#gf7)"/><rect x="144" y="467.6" width="4.5" height="269.8" fill="url(#gf8)"/><rect x="148" y="467.6" width="4.5" height="269.8" fill="url(#gf9)"/><rect x="152" y="467.6" width="4.5" height="269.8" fill="url(#gfa)"/><rect x="156" y="467.6" width="4.5" height="269.8" fill="url(#gfb)"/><rect x="160" y="467.6" width="4.5" height="269.8" fill="url(#gfc)"/><rect x="164" y="467.6" width="4.5" height="269.8" fill="url(#gfd)"/><rect x="168" y="467.6" width="4.5" height="269.8" fill="url(#gfe)"/><rect x="172" y="467.6" width="4.5" height="269.8" fill="url(#gff)"/><rect x="176" y="467.6" width="4.5" height="269.8" fill="url(#g100)"/><rect x="180" y="467.6" width="4.5" height="269.8" fill="url(#g101)"/><rect x="184" y="467.6" width="4.5" height="269.8" fill="url(#g102)"/><rect x="188" y="467.6" width="4.5" height="269.8" fill="url(#g103)"/><rect x="192" y="467.6" width="4.5" height="269.8" fill="url(#g104)"/><rect x="196" y="467.6" width="4.5" height="269.8" fill="url(#g105)"/><rect x="200" y="467.6" width="4.5" height="269.8" fill="url(#g106)"/><rect x="204" y="467.6" width="4.5" height="269.8" fill="url(#g107)"/><rect x="208" y="467.6" width="4.5" height="269.8" fill="url(#g108)"/><rect x="212" y="467.6" width="4.5" height="269.8" fill="url(#g109)"/><rect x="216" y="467.6" width="4.5" height="269.8" fill="url(#g10a)"/><rect x="220" y="467.6" width="4.5" height="269.8" fill="url(#g10b)"/><rect x="224" y="467.6" width="4.5" height="269.8" fill="url(#g10c)"/><rect x="228" y="467.6" width="4.5" height="269.8" fill="url(#g10d)"/><rect x="232" y="467.6" width="4.5" height="269.8" fill="url(#g10e)"/><rect x="236" y="467.6" width="4.5" height="269.8" fill="url(#g10f)"/><rect x="240" y="467.6" width="4.5" height="269.8" fill="url(#g110)"/><rect x="244" y="467.6" width="4.5" height="269.8" fill="url(#g111)"/><rect x="248" y="467.6" width="4.5" height="269.8" fill="url(#g112)"/><rect x="252" y="467.6" width="4.5" height="269.8" fill="url(#g113)"/><rect x="256" y="467.6" width="4.5" height="269.8" fill="url(#g114)"/><rect x="260" y="467.6" width="4.5" height="269.8" fill="url(#g115)"/><rect x="264" y="467.6" width="4.5" height="269.8" fill="url(#g116)"/><rect x="268" y="467.6" width="4.5" height="269.8" fill="url(#g117)"/><rect x="272" y="467.6" width="4.5" height="269.8" fill="url(#g118)"/><rect x="276" y="467.6" width="4.5" height="269.8" fill="url(#g119)"/><rect x="280" y="467.6" width="4.5" height="269.8" fill="url(#g11a)"/><rect x="284" y="467.6" width="4.5" height="269.8" fill="url(#g11b)"/><rect x="288" y="467.6" width="4.5" height="269.8" fill="url(#g11c)"/><rect x="292" y="467.6" width="4.5" height="269.8" fill="url(#g11d)"/><rect x="296" y="467.6" width="4.5" height="269.8" fill="url(#g11e)"/><rect x="300" y="467.6" width="4.5" height="269.8" fill="url(#g11f)"/><rect x="304" y="467.6" width="4.5" height="269.8" fill="url(#g120)"/><rect x="308" y="467.6" width="4.5" height="269.8" fill="url(#g121)"/><rect x="312" y="467.6" width="4.5" height="269.8" fill="url(#g122)"/><rect x="316" y="467.6" width="4.5" height="269.8" fill="url(#g123)"/><rect x="320" y="467.6" width="4.5" height="269.8" fill="url(#g124)"/><rect x="324" y="467.6" width="4.5" height="269.8" fill="url(#g125)"/><rect x="328" y="467.6" width="4.5" height="269.8" fill="url(#g126)"/><rect x="332" y="467.6" width="4.5" height="269.8" fill="url(#g127)"/><rect x="336" y="467.6" width="4.5" height="269.8" fill="url(#g128)"/><rect x="340" y="467.6" width="4.5" height="269.8" fill="url(#g129)"/><rect x="344" y="467.6" width="4.5" height="269.8" fill="url(#g12a)"/><rect x="348" y="467.6" width="4.5" height="269.8" fill="url(#g12b)"/><rect x="352" y="467.6" width="4.5" height="269.8" fill="url(#g12c)"/><rect x="356" y="467.6" width="4.5" height="269.8" fill="url(#g12d)"/><rect x="360" y="467.6" width="4.5" height="269.8" fill="url(#g12e)"/><rect x="364" y="467.6" width="4.5" height="269.8" fill="url(#g12f)"/><rect x="368" y="467.6" width="4.5" height="269.8" fill="url(#g130)"/><rect x="372" y="467.6" width="4.5" height="269.8" fill="url(#g131)"/><rect x="376" y="467.6" width="4.5" height="269.8" fill="url(#g132)"/><rect x="380" y="467.6" width="4.5" height="269.8" fill="url(#g133)"/><rect x="384" y="467.6" width="4.5" height="269.8" fill="url(#g134)"/><rect x="388" y="467.6" width="4.5" height="269.8" fill="url(#g135)"/><rect x="392" y="467.6" width="4.5" height="269.8" fill="url(#g136)"/></g></g><g clip-path="url(#cj1)"><g filter="url(#fjet)"><rect x="424" y="468" width="4.5" height="269.8" fill="url(#g137)"/><rect x="428" y="468" width="4.5" height="269.8" fill="url(#g138)"/><rect x="432" y="468" width="4.5" height="269.8" fill="url(#g139)"/><rect x="436" y="468" width="4.5" height="269.8" fill="url(#g13a)"/><rect x="440" y="468" width="4.5" height="269.8" fill="url(#g13b)"/><rect x="444" y="468" width="4.5" height="269.8" fill="url(#g13c)"/><rect x="448" y="468" width="4.5" height="269.8" fill="url(#g13d)"/><rect x="452" y="468" width="4.5" height="269.8" fill="url(#g13e)"/><rect x="456" y="468" width="4.5" height="269.8" fill="url(#g13f)"/><rect x="460" y="468" width="4.5" height="269.8" fill="url(#g140)"/><rect x="464" y="468" width="4.5" height="269.8" fill="url(#g141)"/><rect x="468" y="468" width="4.5" height="269.8" fill="url(#g142)"/><rect x="472" y="468" width="4.5" height="269.8" fill="url(#g143)"/><rect x="476" y="468" width="4.5" height="269.8" fill="url(#g144)"/><rect x="480" y="468" width="4.5" height="269.8" fill="url(#g145)"/><rect x="484" y="468" width="4.5" height="269.8" fill="url(#g146)"/><rect x="488" y="468" width="4.5" height="269.8" fill="url(#g147)"/><rect x="492" y="468" width="4.5" height="269.8" fill="url(#g148)"/><rect x="496" y="468" width="4.5" height="269.8" fill="url(#g149)"/><rect x="500" y="468" width="4.5" height="269.8" fill="url(#g14a)"/><rect x="504" y="468" width="4.5" height="269.8" fill="url(#g14b)"/><rect x="508" y="468" width="4.5" height="269.8" fill="url(#g14c)"/><rect x="512" y="468" width="4.5" height="269.8" fill="url(#g14d)"/><rect x="516" y="468" width="4.5" height="269.8" fill="url(#g14e)"/><rect x="520" y="468" width="4.5" height="269.8" fill="url(#g14f)"/><rect x="524" y="468" width="4.5" height="269.8" fill="url(#g150)"/><rect x="528" y="468" width="4.5" height="269.8" fill="url(#g151)"/><rect x="532" y="468" width="4.5" height="269.8" fill="url(#g152)"/><rect x="536" y="468" width="4.5" height="269.8" fill="url(#g153)"/><rect x="540" y="468" width="4.5" height="269.8" fill="url(#g154)"/><rect x="544" y="468" width="4.5" height="269.8" fill="url(#g155)"/><rect x="548" y="468" width="4.5" height="269.8" fill="url(#g156)"/><rect x="552" y="468" width="4.5" height="269.8" fill="url(#g157)"/><rect x="556" y="468" width="4.5" height="269.8" fill="url(#g158)"/><rect x="560" y="468" width="4.5" height="269.8" fill="url(#g159)"/><rect x="564" y="468" width="4.5" height="269.8" fill="url(#g15a)"/><rect x="568" y="468" width="4.5" height="269.8" fill="url(#g15b)"/><rect x="572" y="468" width="4.5" height="269.8" fill="url(#g15c)"/><rect x="576" y="468" width="4.5" height="269.8" fill="url(#g15d)"/><rect x="580" y="468" width="4.5" height="269.8" fill="url(#g15e)"/><rect x="584" y="468" width="4.5" height="269.8" fill="url(#g15f)"/><rect x="588" y="468" width="4.5" height="269.8" fill="url(#g160)"/><rect x="592" y="468" width="4.5" height="269.8" fill="url(#g161)"/><rect x="596" y="468" width="4.5" height="269.8" fill="url(#g162)"/><rect x="600" y="468" width="4.5" height="269.8" fill="url(#g163)"/><rect x="604" y="468" width="4.5" height="269.8" fill="url(#g164)"/><rect x="608" y="468" width="4.5" height="269.8" fill="url(#g165)"/><rect x="612" y="468" width="4.5" height="269.8" fill="url(#g166)"/><rect x="616" y="468" width="4.5" height="269.8" fill="url(#g167)"/><rect x="620" y="468" width="4.5" height="269.8" fill="url(#g168)"/><rect x="624" y="468" width="4.5" height="269.8" fill="url(#g169)"/><rect x="628" y="468" width="4.5" height="269.8" fill="url(#g16a)"/><rect x="632" y="468" width="4.5" height="269.8" fill="url(#g16b)"/><rect x="636" y="468" width="4.5" height="269.8" fill="url(#g16c)"/><rect x="640" y="468" width="4.5" height="269.8" fill="url(#g16d)"/><rect x="644" y="468" width="4.5" height="269.8" fill="url(#g16e)"/><rect x="648" y="468" width="4.5" height="269.8" fill="url(#g16f)"/><rect x="652" y="468" width="4.5" height="269.8" fill="url(#g170)"/><rect x="656" y="468" width="4.5" height="269.8" fill="url(#g171)"/><rect x="660" y="468" width="4.5" height="269.8" fill="url(#g172)"/><rect x="664" y="468" width="4.5" height="269.8" fill="url(#g173)"/><rect x="668" y="468" width="4.5" height="269.8" fill="url(#g174)"/></g></g><g clip-path="url(#cj2)"><g filter="url(#fjet)"><rect x="704" y="469.5" width="4.5" height="268.4" fill="url(#g175)"/><rect x="708" y="469.5" width="4.5" height="268.4" fill="url(#g176)"/><rect x="712" y="469.5" width="4.5" height="268.4" fill="url(#g177)"/><rect x="716" y="469.5" width="4.5" height="268.4" fill="url(#g178)"/><rect x="720" y="469.5" width="4.5" height="268.4" fill="url(#g179)"/><rect x="724" y="469.5" width="4.5" height="268.4" fill="url(#g17a)"/><rect x="728" y="469.5" width="4.5" height="268.4" fill="url(#g17b)"/><rect x="732" y="469.5" width="4.5" height="268.4" fill="url(#g17c)"/><rect x="736" y="469.5" width="4.5" height="268.4" fill="url(#g17d)"/><rect x="740" y="469.5" width="4.5" height="268.4" fill="url(#g17e)"/><rect x="744" y="469.5" width="4.5" height="268.4" fill="url(#g17f)"/><rect x="748" y="469.5" width="4.5" height="268.4" fill="url(#g180)"/><rect x="752" y="469.5" width="4.5" height="268.4" fill="url(#g181)"/><rect x="756" y="469.5" width="4.5" height="268.4" fill="url(#g182)"/><rect x="760" y="469.5" width="4.5" height="268.4" fill="url(#g183)"/><rect x="764" y="469.5" width="4.5" height="268.4" fill="url(#g184)"/><rect x="768" y="469.5" width="4.5" height="268.4" fill="url(#g185)"/><rect x="772" y="469.5" width="4.5" height="268.4" fill="url(#g186)"/><rect x="776" y="469.5" width="4.5" height="268.4" fill="url(#g187)"/><rect x="780" y="469.5" width="4.5" height="268.4" fill="url(#g188)"/><rect x="784" y="469.5" width="4.5" height="268.4" fill="url(#g189)"/><rect x="788" y="469.5" width="4.5" height="268.4" fill="url(#g18a)"/><rect x="792" y="469.5" width="4.5" height="268.4" fill="url(#g18b)"/><rect x="796" y="469.5" width="4.5" height="268.4" fill="url(#g18c)"/><rect x="800" y="469.5" width="4.5" height="268.4" fill="url(#g18d)"/><rect x="804" y="469.5" width="4.5" height="268.4" fill="url(#g18e)"/><rect x="808" y="469.5" width="4.5" height="268.4" fill="url(#g18f)"/><rect x="812" y="469.5" width="4.5" height="268.4" fill="url(#g190)"/><rect x="816" y="469.5" width="4.5" height="268.4" fill="url(#g191)"/><rect x="820" y="469.5" width="4.5" height="268.4" fill="url(#g192)"/><rect x="824" y="469.5" width="4.5" height="268.4" fill="url(#g193)"/><rect x="828" y="469.5" width="4.5" height="268.4" fill="url(#g194)"/><rect x="832" y="469.5" width="4.5" height="268.4" fill="url(#g195)"/><rect x="836" y="469.5" width="4.5" height="268.4" fill="url(#g196)"/><rect x="840" y="469.5" width="4.5" height="268.4" fill="url(#g197)"/><rect x="844" y="469.5" width="4.5" height="268.4" fill="url(#g198)"/><rect x="848" y="469.5" width="4.5" height="268.4" fill="url(#g199)"/><rect x="852" y="469.5" width="4.5" height="268.4" fill="url(#g19a)"/><rect x="856" y="469.5" width="4.5" height="268.4" fill="url(#g19b)"/><rect x="860" y="469.5" width="4.5" height="268.4" fill="url(#g19c)"/><rect x="864" y="469.5" width="4.5" height="268.4" fill="url(#g19d)"/><rect x="868" y="469.5" width="4.5" height="268.4" fill="url(#g19e)"/><rect x="872" y="469.5" width="4.5" height="268.4" fill="url(#g19f)"/><rect x="876" y="469.5" width="4.5" height="268.4" fill="url(#g1a0)"/><rect x="880" y="469.5" width="4.5" height="268.4" fill="url(#g1a1)"/><rect x="884" y="469.5" width="4.5" height="268.4" fill="url(#g1a2)"/><rect x="888" y="469.5" width="4.5" height="268.4" fill="url(#g1a3)"/><rect x="892" y="469.5" width="4.5" height="268.4" fill="url(#g1a4)"/><rect x="896" y="469.5" width="4.5" height="268.4" fill="url(#g1a5)"/><rect x="900" y="469.5" width="4.5" height="268.4" fill="url(#g1a6)"/><rect x="904" y="469.5" width="4.5" height="268.4" fill="url(#g1a7)"/><rect x="908" y="469.5" width="4.5" height="268.4" fill="url(#g1a8)"/><rect x="912" y="469.5" width="4.5" height="268.4" fill="url(#g1a9)"/><rect x="916" y="469.5" width="4.5" height="268.4" fill="url(#g1aa)"/><rect x="920" y="469.5" width="4.5" height="268.4" fill="url(#g1ab)"/><rect x="924" y="469.5" width="4.5" height="268.4" fill="url(#g1ac)"/><rect x="928" y="469.5" width="4.5" height="268.4" fill="url(#g1ad)"/><rect x="932" y="469.5" width="4.5" height="268.4" fill="url(#g1ae)"/><rect x="936" y="469.5" width="4.5" height="268.4" fill="url(#g1af)"/><rect x="940" y="469.5" width="4.5" height="268.4" fill="url(#g1b0)"/><rect x="944" y="469.5" width="4.5" height="268.4" fill="url(#g1b1)"/><rect x="948" y="469.5" width="4.5" height="268.4" fill="url(#g1b2)"/><rect x="952" y="469.5" width="4.5" height="268.4" fill="url(#g1b3)"/><rect x="956" y="469.5" width="4.5" height="268.4" fill="url(#g1b4)"/></g></g><g clip-path="url(#cj3)"><g filter="url(#fjet)"><rect x="991" y="469.2" width="4.5" height="268.7" fill="url(#g1b5)"/><rect x="995" y="469.2" width="4.5" height="268.7" fill="url(#g1b6)"/><rect x="999" y="469.2" width="4.5" height="268.7" fill="url(#g1b7)"/><rect x="1003" y="469.2" width="4.5" height="268.7" fill="url(#g1b8)"/><rect x="1007" y="469.2" width="4.5" height="268.7" fill="url(#g1b9)"/><rect x="1011" y="469.2" width="4.5" height="268.7" fill="url(#g1ba)"/><rect x="1015" y="469.2" width="4.5" height="268.7" fill="url(#g1bb)"/><rect x="1019" y="469.2" width="4.5" height="268.7" fill="url(#g1bc)"/><rect x="1023" y="469.2" width="4.5" height="268.7" fill="url(#g1bd)"/><rect x="1027" y="469.2" width="4.5" height="268.7" fill="url(#g1be)"/><rect x="1031" y="469.2" width="4.5" height="268.7" fill="url(#g1bf)"/><rect x="1035" y="469.2" width="4.5" height="268.7" fill="url(#g1c0)"/><rect x="1039" y="469.2" width="4.5" height="268.7" fill="url(#g1c1)"/><rect x="1043" y="469.2" width="4.5" height="268.7" fill="url(#g1c2)"/><rect x="1047" y="469.2" width="4.5" height="268.7" fill="url(#g1c3)"/><rect x="1051" y="469.2" width="4.5" height="268.7" fill="url(#g1c4)"/><rect x="1055" y="469.2" width="4.5" height="268.7" fill="url(#g1c5)"/><rect x="1059" y="469.2" width="4.5" height="268.7" fill="url(#g1c6)"/><rect x="1063" y="469.2" width="4.5" height="268.7" fill="url(#g1c7)"/><rect x="1067" y="469.2" width="4.5" height="268.7" fill="url(#g1c8)"/><rect x="1071" y="469.2" width="4.5" height="268.7" fill="url(#g1c9)"/><rect x="1075" y="469.2" width="4.5" height="268.7" fill="url(#g1ca)"/><rect x="1079" y="469.2" width="4.5" height="268.7" fill="url(#g1cb)"/><rect x="1083" y="469.2" width="4.5" height="268.7" fill="url(#g1cc)"/><rect x="1087" y="469.2" width="4.5" height="268.7" fill="url(#g1cd)"/><rect x="1091" y="469.2" width="4.5" height="268.7" fill="url(#g1ce)"/><rect x="1095" y="469.2" width="4.5" height="268.7" fill="url(#g1cf)"/><rect x="1099" y="469.2" width="4.5" height="268.7" fill="url(#g1d0)"/><rect x="1103" y="469.2" width="4.5" height="268.7" fill="url(#g1d1)"/><rect x="1107" y="469.2" width="4.5" height="268.7" fill="url(#g1d2)"/><rect x="1111" y="469.2" width="4.5" height="268.7" fill="url(#g1d3)"/><rect x="1115" y="469.2" width="4.5" height="268.7" fill="url(#g1d4)"/><rect x="1119" y="469.2" width="4.5" height="268.7" fill="url(#g1d5)"/><rect x="1123" y="469.2" width="4.5" height="268.7" fill="url(#g1d6)"/><rect x="1127" y="469.2" width="4.5" height="268.7" fill="url(#g1d7)"/><rect x="1131" y="469.2" width="4.5" height="268.7" fill="url(#g1d8)"/><rect x="1135" y="469.2" width="4.5" height="268.7" fill="url(#g1d9)"/><rect x="1139" y="469.2" width="4.5" height="268.7" fill="url(#g1da)"/><rect x="1143" y="469.2" width="4.5" height="268.7" fill="url(#g1db)"/><rect x="1147" y="469.2" width="4.5" height="268.7" fill="url(#g1dc)"/><rect x="1151" y="469.2" width="4.5" height="268.7" fill="url(#g1dd)"/><rect x="1155" y="469.2" width="4.5" height="268.7" fill="url(#g1de)"/><rect x="1159" y="469.2" width="4.5" height="268.7" fill="url(#g1df)"/><rect x="1163" y="469.2" width="4.5" height="268.7" fill="url(#g1e0)"/><rect x="1167" y="469.2" width="4.5" height="268.7" fill="url(#g1e1)"/><rect x="1171" y="469.2" width="4.5" height="268.7" fill="url(#g1e2)"/><rect x="1175" y="469.2" width="4.5" height="268.7" fill="url(#g1e3)"/><rect x="1179" y="469.2" width="4.5" height="268.7" fill="url(#g1e4)"/><rect x="1183" y="469.2" width="4.5" height="268.7" fill="url(#g1e5)"/><rect x="1187" y="469.2" width="4.5" height="268.7" fill="url(#g1e6)"/><rect x="1191" y="469.2" width="4.5" height="268.7" fill="url(#g1e7)"/><rect x="1195" y="469.2" width="4.5" height="268.7" fill="url(#g1e8)"/><rect x="1199" y="469.2" width="4.5" height="268.7" fill="url(#g1e9)"/><rect x="1203" y="469.2" width="4.5" height="268.7" fill="url(#g1ea)"/><rect x="1207" y="469.2" width="4.5" height="268.7" fill="url(#g1eb)"/><rect x="1211" y="469.2" width="4.5" height="268.7" fill="url(#g1ec)"/><rect x="1215" y="469.2" width="4.5" height="268.7" fill="url(#g1ed)"/><rect x="1219" y="469.2" width="4.5" height="268.7" fill="url(#g1ee)"/><rect x="1223" y="469.2" width="4.5" height="268.7" fill="url(#g1ef)"/><rect x="1227" y="469.2" width="4.5" height="268.7" fill="url(#g1f0)"/><rect x="1231" y="469.2" width="4.5" height="268.7" fill="url(#g1f1)"/><rect x="1235" y="469.2" width="4.5" height="268.7" fill="url(#g1f2)"/><rect x="1239" y="469.2" width="4.5" height="268.7" fill="url(#g1f3)"/><rect x="1243" y="469.2" width="4.5" height="268.7" fill="url(#g1f4)"/></g></g>
<text transform="translate(31.1 602.7) rotate(-90) scale(1 1.04)" x="-103.31" font-size="43">Frequency</text>
<text transform="translate(78.4 603) rotate(-90) scale(1 1.04)" x="-52.58" font-size="44">(kHz)</text>
<text x="101.09" y="528" font-size="37">32</text>
<text x="100.91" y="656.5" font-size="37">28</text>
<text x="128.5" y="777.8" font-size="37.5">-55</text>
<text x="200.4" y="777.8" font-size="37.5">-45</text>
<text x="274.7" y="777.8" font-size="37.5">-35</text>
<text x="349" y="777.8" font-size="37.5">-25</text>
<text x="414.62" y="777.8" font-size="37.5">25</text>
<text x="490.59" y="777.8" font-size="37.5">35</text>
<text x="563.65" y="777.8" font-size="37.5">45</text>
<text x="640" y="777.8" font-size="37.5">55</text>
<text x="692" y="777.8" font-size="37.5">-55</text>
<text x="762.1" y="777.8" font-size="37.5">-45</text>
<text x="836.7" y="777.8" font-size="37.5">-35</text>
<text x="911.5" y="777.8" font-size="37.5">-25</text>
<text x="984.23" y="777.8" font-size="37.5">25</text>
<text x="1062.29" y="777.8" font-size="37.5">35</text>
<text x="1136.05" y="777.8" font-size="37.5">45</text>
<text x="1212" y="777.8" font-size="37.5">55</text>
<text transform="translate(339.52 835) scale(1 1.04)" font-size="43" class="i">x</text>
<text transform="translate(378.04 835) scale(1 1.04)" font-size="44.4" fill="#262626">(cm)</text>
<text transform="translate(913.12 835) scale(1 1.04)" font-size="43" class="i">x</text>
<text transform="translate(951.74 835) scale(1 1.04)" font-size="44.4" fill="#262626">(cm)</text>
<defs><linearGradient id="cbj" x1="0" y1="1" x2="0" y2="0"><stop offset="0" stop-color="#000080"/><stop offset=".125" stop-color="#00f"/><stop offset=".375" stop-color="#0ff"/><stop offset=".625" stop-color="#ff0"/><stop offset=".875" stop-color="#f00"/><stop offset="1" stop-color="#800000"/></linearGradient></defs>
<rect x="1313.9" y="532.8" width="12.9" height="180.4" fill="url(#cbj)" stroke="#999" stroke-width="0.5"/>
<text x="1285.52" y="514.1" font-size="32">max</text>
<text transform="translate(1312.68 743.2) scale(1 1.04)" font-size="32">0</text>
<rect x="1248.4" y="597.6" width="2.3" height="49.4" fill="#000"/>
<rect x="1297" y="597.6" width="2.3" height="49.4" fill="#000"/>
<text class="si" font-size="40" stroke="#fff" stroke-width="0.6" transform="translate(1253.26 630.6) scale(1.3 1)">u</text>
<text x="1277.86" y="639.2" font-size="31.3" class="si">y</text>
<text transform="translate(182.56 937.3) scale(1 1.04)" font-size="43">Normalized amplitude</text>
<rect x="139.5" y="976.2" width="530.0" height="332.5999999999999" fill="none" stroke="#262626" stroke-width="1.6"/>
<path d="M139.5 976.2v2.6M139.5 1308.8v-2.6M172.45 976.2v2.6M172.45 1308.8v-2.6M205.4 976.2v2.6M205.4 1308.8v-2.6M238.35 976.2v2.6M238.35 1308.8v-2.6M271.3 976.2v2.6M271.3 1308.8v-2.6M304.25 976.2v2.6M304.25 1308.8v-2.6M337.2 976.2v2.6M337.2 1308.8v-2.6M370.15 976.2v2.6M370.15 1308.8v-2.6M403.1 976.2v2.6M403.1 1308.8v-2.6M436.05 976.2v2.6M436.05 1308.8v-2.6M469 976.2v2.6M469 1308.8v-2.6M501.95 976.2v2.6M501.95 1308.8v-2.6M534.9 976.2v2.6M534.9 1308.8v-2.6M567.85 976.2v2.6M567.85 1308.8v-2.6M600.8 976.2v2.6M600.8 1308.8v-2.6M633.75 976.2v2.6M633.75 1308.8v-2.6M666.7 976.2v2.6M666.7 1308.8v-2.6M139.5 1019.8h6M669.5 1019.8h-6M139.5 1064.6h6M669.5 1064.6h-6M139.5 1109.4h6M669.5 1109.4h-6M139.5 1154.2h6M669.5 1154.2h-6M139.5 1199.0h6M669.5 1199.0h-6M139.5 1245.8h6M669.5 1245.8h-6M139.5 1290.6h6M669.5 1290.6h-6" stroke="#262626" stroke-width="1.6" fill="none"/>
<text transform="translate(102.22 1023.5) scale(1 1.04)" font-size="37.5" fill="#262626">2</text>
<text transform="translate(103.69 1253.4) scale(1 1.04)" font-size="37.5" fill="#262626">1</text>
<text transform="translate(31.5 1165) rotate(-90) scale(1 1.04)" x="-95.81" font-size="43.5">Amplitude</text>
<text transform="translate(85.2 1157.7) rotate(-90) scale(1 1.04)" x="-103.49" font-size="43.3">(arb. units)</text>
<text x="116.26" y="1348.6" font-size="38.5">-55</text>
<text x="174.86" y="1348.6" font-size="38.5">-45</text>
<text x="238.46" y="1348.6" font-size="38.5">-35</text>
<text x="304.26" y="1348.6" font-size="38.5">-25</text>
<text x="446.97" y="1348.6" font-size="38.5">25</text>
<text x="511.95" y="1348.6" font-size="38.5">35</text>
<text x="577.03" y="1348.6" font-size="38.5">45</text>
<text x="640.66" y="1348.6" font-size="38.5">55</text>
<text transform="translate(343.28 1398) scale(1 1.04)" font-size="42" class="i">x</text>
<text transform="translate(388.31 1398) scale(1 1.04)" font-size="44.9" fill="#262626">(cm)</text>
<g fill="#f00"><ellipse cx="139.4" cy="1043.8" rx="4.7" ry="3.7"/><ellipse cx="146.03" cy="1075.2" rx="4.7" ry="3.7"/><ellipse cx="152.67" cy="1095.9" rx="4.7" ry="3.7"/><ellipse cx="159.3" cy="1078.4" rx="4.7" ry="3.7"/><ellipse cx="165.93" cy="1069.9" rx="4.7" ry="3.7"/><ellipse cx="172.56" cy="1083.4" rx="4.7" ry="3.7"/><ellipse cx="179.2" cy="1108.3" rx="4.7" ry="3.7"/><ellipse cx="185.83" cy="1107.4" rx="4.7" ry="3.7"/><ellipse cx="192.46" cy="1102.6" rx="4.7" ry="3.7"/><ellipse cx="199.1" cy="1063.5" rx="4.7" ry="3.7"/><ellipse cx="205.73" cy="1057.8" rx="4.7" ry="3.7"/><ellipse cx="212.36" cy="1070.6" rx="4.7" ry="3.7"/><ellipse cx="219" cy="1078.4" rx="4.7" ry="3.7"/><ellipse cx="225.63" cy="1068.7" rx="4.7" ry="3.7"/><ellipse cx="232.26" cy="1060" rx="4.7" ry="3.7"/><ellipse cx="238.9" cy="1055.3" rx="4.7" ry="3.7"/><ellipse cx="245.53" cy="1048.8" rx="4.7" ry="3.7"/><ellipse cx="252.16" cy="1010.9" rx="4.7" ry="3.7"/><ellipse cx="258.79" cy="998.4" rx="4.7" ry="3.7"/><ellipse cx="265.43" cy="1023.7" rx="4.7" ry="3.7"/><ellipse cx="272.06" cy="1047.5" rx="4.7" ry="3.7"/><ellipse cx="278.69" cy="1083.2" rx="4.7" ry="3.7"/><ellipse cx="285.33" cy="1085.9" rx="4.7" ry="3.7"/><ellipse cx="291.96" cy="1090" rx="4.7" ry="3.7"/><ellipse cx="298.59" cy="1097.1" rx="4.7" ry="3.7"/><ellipse cx="305.23" cy="1106.2" rx="4.7" ry="3.7"/><ellipse cx="311.86" cy="1119.5" rx="4.7" ry="3.7"/><ellipse cx="318.49" cy="1141" rx="4.7" ry="3.7"/><ellipse cx="325.12" cy="1126.6" rx="4.7" ry="3.7"/><ellipse cx="331.76" cy="1128.4" rx="4.7" ry="3.7"/><ellipse cx="338.39" cy="1128.4" rx="4.7" ry="3.7"/></g>
<g fill="#f00"><ellipse cx="470.2" cy="1220.4" rx="4.7" ry="3.7"/><ellipse cx="476.84" cy="1186.7" rx="4.7" ry="3.7"/><ellipse cx="483.47" cy="1174.8" rx="4.7" ry="3.7"/><ellipse cx="490.11" cy="1209.4" rx="4.7" ry="3.7"/><ellipse cx="496.74" cy="1220.4" rx="4.7" ry="3.7"/><ellipse cx="503.38" cy="1205.3" rx="4.7" ry="3.7"/><ellipse cx="510.02" cy="1213.3" rx="4.7" ry="3.7"/><ellipse cx="516.65" cy="1217.2" rx="4.7" ry="3.7"/><ellipse cx="523.29" cy="1208.9" rx="4.7" ry="3.7"/><ellipse cx="529.92" cy="1201.4" rx="4.7" ry="3.7"/><ellipse cx="536.56" cy="1189.9" rx="4.7" ry="3.7"/><ellipse cx="543.2" cy="1184.4" rx="4.7" ry="3.7"/><ellipse cx="549.83" cy="1205.7" rx="4.7" ry="3.7"/><ellipse cx="556.47" cy="1225.8" rx="4.7" ry="3.7"/><ellipse cx="563.1" cy="1228.4" rx="4.7" ry="3.7"/><ellipse cx="569.74" cy="1232.9" rx="4.7" ry="3.7"/><ellipse cx="576.38" cy="1230.2" rx="4.7" ry="3.7"/><ellipse cx="583.01" cy="1218.7" rx="4.7" ry="3.7"/><ellipse cx="589.65" cy="1210.1" rx="4.7" ry="3.7"/><ellipse cx="596.28" cy="1200.5" rx="4.7" ry="3.7"/><ellipse cx="602.92" cy="1179" rx="4.7" ry="3.7"/><ellipse cx="609.56" cy="1178.7" rx="4.7" ry="3.7"/><ellipse cx="616.19" cy="1181.3" rx="4.7" ry="3.7"/><ellipse cx="622.83" cy="1185.4" rx="4.7" ry="3.7"/><ellipse cx="629.46" cy="1175.6" rx="4.7" ry="3.7"/><ellipse cx="636.1" cy="1171.6" rx="4.7" ry="3.7"/><ellipse cx="642.74" cy="1182.2" rx="4.7" ry="3.7"/><ellipse cx="649.37" cy="1199.6" rx="4.7" ry="3.7"/><ellipse cx="656.01" cy="1208" rx="4.7" ry="3.7"/><ellipse cx="662.64" cy="1190.6" rx="4.7" ry="3.7"/><ellipse cx="669.28" cy="1190.6" rx="4.7" ry="3.7"/></g>
<g fill="#00f"><ellipse cx="139.4" cy="1245.8" rx="4.7" ry="3.7"/><ellipse cx="146.03" cy="1259.5" rx="4.7" ry="3.7"/><ellipse cx="152.67" cy="1261.8" rx="4.7" ry="3.7"/><ellipse cx="159.3" cy="1247.2" rx="4.7" ry="3.7"/><ellipse cx="165.93" cy="1239.6" rx="4.7" ry="3.7"/><ellipse cx="172.56" cy="1239.2" rx="4.7" ry="3.7"/><ellipse cx="179.2" cy="1256.8" rx="4.7" ry="3.7"/><ellipse cx="185.83" cy="1284" rx="4.7" ry="3.7"/><ellipse cx="192.46" cy="1287.2" rx="4.7" ry="3.7"/><ellipse cx="199.1" cy="1261.2" rx="4.7" ry="3.7"/><ellipse cx="205.73" cy="1273.3" rx="4.7" ry="3.7"/><ellipse cx="212.36" cy="1277.8" rx="4.7" ry="3.7"/><ellipse cx="219" cy="1275.1" rx="4.7" ry="3.7"/><ellipse cx="225.63" cy="1281.9" rx="4.7" ry="3.7"/><ellipse cx="232.26" cy="1280.1" rx="4.7" ry="3.7"/><ellipse cx="238.9" cy="1284.9" rx="4.7" ry="3.7"/><ellipse cx="245.53" cy="1287.2" rx="4.7" ry="3.7"/><ellipse cx="252.16" cy="1283.6" rx="4.7" ry="3.7"/><ellipse cx="258.79" cy="1276.9" rx="4.7" ry="3.7"/><ellipse cx="265.43" cy="1267.1" rx="4.7" ry="3.7"/><ellipse cx="272.06" cy="1269.4" rx="4.7" ry="3.7"/><ellipse cx="278.69" cy="1268" rx="4.7" ry="3.7"/><ellipse cx="285.33" cy="1257.3" rx="4.7" ry="3.7"/><ellipse cx="291.96" cy="1257.9" rx="4.7" ry="3.7"/><ellipse cx="298.59" cy="1259.5" rx="4.7" ry="3.7"/><ellipse cx="305.23" cy="1250.2" rx="4.7" ry="3.7"/><ellipse cx="311.86" cy="1290.2" rx="4.7" ry="3.7"/><ellipse cx="318.49" cy="1279.2" rx="4.7" ry="3.7"/><ellipse cx="325.12" cy="1275.6" rx="4.7" ry="3.7"/><ellipse cx="331.76" cy="1255" rx="4.7" ry="3.7"/><ellipse cx="338.39" cy="1240.8" rx="4.7" ry="3.7"/></g>
<g fill="#00f"><ellipse cx="470.2" cy="1082.4" rx="4.7" ry="3.7"/><ellipse cx="476.84" cy="1088.8" rx="4.7" ry="3.7"/><ellipse cx="483.47" cy="1075.2" rx="4.7" ry="3.7"/><ellipse cx="490.11" cy="1081.1" rx="4.7" ry="3.7"/><ellipse cx="496.74" cy="1087.7" rx="4.7" ry="3.7"/><ellipse cx="503.38" cy="1088.8" rx="4.7" ry="3.7"/><ellipse cx="510.02" cy="1109" rx="4.7" ry="3.7"/><ellipse cx="516.65" cy="1081.5" rx="4.7" ry="3.7"/><ellipse cx="523.29" cy="1080.6" rx="4.7" ry="3.7"/><ellipse cx="529.92" cy="1057.6" rx="4.7" ry="3.7"/><ellipse cx="536.56" cy="1048.2" rx="4.7" ry="3.7"/><ellipse cx="543.2" cy="1028.1" rx="4.7" ry="3.7"/><ellipse cx="549.83" cy="1026.5" rx="4.7" ry="3.7"/><ellipse cx="556.47" cy="1036.7" rx="4.7" ry="3.7"/><ellipse cx="563.1" cy="1052.3" rx="4.7" ry="3.7"/><ellipse cx="569.74" cy="1082" rx="4.7" ry="3.7"/><ellipse cx="576.38" cy="1085.2" rx="4.7" ry="3.7"/><ellipse cx="583.01" cy="1064.8" rx="4.7" ry="3.7"/><ellipse cx="589.65" cy="1053.2" rx="4.7" ry="3.7"/><ellipse cx="596.28" cy="1054.4" rx="4.7" ry="3.7"/><ellipse cx="602.92" cy="1019.2" rx="4.7" ry="3.7"/><ellipse cx="609.56" cy="1047.7" rx="4.7" ry="3.7"/><ellipse cx="616.19" cy="1052.1" rx="4.7" ry="3.7"/><ellipse cx="622.83" cy="1068.7" rx="4.7" ry="3.7"/><ellipse cx="629.46" cy="1103.7" rx="4.7" ry="3.7"/><ellipse cx="636.1" cy="1111" rx="4.7" ry="3.7"/><ellipse cx="642.74" cy="1115.4" rx="4.7" ry="3.7"/><ellipse cx="649.37" cy="1063" rx="4.7" ry="3.7"/><ellipse cx="656.01" cy="1046.8" rx="4.7" ry="3.7"/><ellipse cx="662.64" cy="1046.8" rx="4.7" ry="3.7"/><ellipse cx="669.28" cy="1021.9" rx="4.7" ry="3.7"/></g>
<circle cx="358.1" cy="1260.8" r="7.1" fill="#f00"/><circle cx="358.1" cy="1297.1" r="7.1" fill="#00f"/>
<text transform="translate(374.71 1267.8) scale(1 0.98)" font-size="21.3">with elastic spin-up source</text>
<text transform="translate(374.71 1301.4) scale(1 0.98)" font-size="21.3">with elastic spin-down source</text>
<text x="988.28" y="937.8" font-size="44">Ratio</text>
<rect x="788.1" y="975.5" width="531.3" height="336.0" fill="none" stroke="#262626" stroke-width="1.6"/>
<path d="M821.3 975.5v3.5M821.3 1311.5v-3.5M887.7 975.5v3.5M887.7 1311.5v-3.5M954.1 975.5v3.5M954.1 1311.5v-3.5M1020.5 975.5v3.5M1020.5 1311.5v-3.5M1086.9 975.5v3.5M1086.9 1311.5v-3.5M1153.3 975.5v3.5M1153.3 1311.5v-3.5M1219.7 975.5v3.5M1219.7 1311.5v-3.5M1286.1 975.5v3.5M1286.1 1311.5v-3.5M788.1 989.3h5.5M1319.4 989.3h-5.5M788.1 1035.3h5.5M1319.4 1035.3h-5.5M788.1 1081.2h5.5M1319.4 1081.2h-5.5M788.1 1127.3h5.5M1319.4 1127.3h-5.5M788.1 1173.3h5.5M1319.4 1173.3h-5.5M788.1 1219.5h5.5M1319.4 1219.5h-5.5M788.1 1267.3h5.5M1319.4 1267.3h-5.5" stroke="#262626" stroke-width="1.6" fill="none"/>
<path d="M788.1 1219.5H1319.4" stroke="#000" stroke-width="1.7" stroke-dasharray="9.5 4.3"/>
<text font-size="40" transform="translate(799.9 1346.6) scale(1.0 1.0)">22</text>
<text font-size="40" transform="translate(934 1345.2) scale(1.0 1.0)">26</text>
<text font-size="40" transform="translate(1068.3 1347.6) scale(1.0 1.0)">30</text>
<text font-size="40" transform="translate(1203.6 1345.2) scale(1.0 1.0)">34</text>
<text font-size="39.5" transform="translate(752.71 1042.4) scale(0.93 1.0)">3</text>
<text font-size="39.5" transform="translate(751.86 1133.8) scale(0.93 1.0)">2</text>
<text font-size="39.5" transform="translate(752.84 1228.6) scale(0.93 1.0)">1</text>
<text font-size="39.5" transform="translate(752.71 1306.7) scale(0.93 1.0)">0</text>
<text transform="translate(740.7 1149) rotate(-90) scale(1 1.08)" x="-52.25" font-size="44">Ratio</text>
<text transform="translate(898.75 1388.7) scale(1 1.04)" font-size="43.1">Frequency (kHz)</text>
<path d="M788.1 1100.8V1186.5M784.9 1100.8h6.4M784.9 1186.5h6.4M821.3 1079.9V1155.4M818.1 1079.9h6.4M818.1 1155.4h6.4M854.5 1028.9V1128.5M851.3 1028.9h6.4M851.3 1128.5h6.4M887.7 1007.3V1087.3M884.5 1007.3h6.4M884.5 1087.3h6.4M920.9 1039.5V1099.3M917.7 1039.5h6.4M917.7 1099.3h6.4M954.1 1081.1V1246.4M950.9 1081.1h6.4M950.9 1246.4h6.4M987.3 1195.2V1221.2M984.1 1195.2h6.4M984.1 1221.2h6.4M1020.5 1160.5V1192.5M1017.3 1160.5h6.4M1017.3 1192.5h6.4M1053.7 1114.3V1155.4M1050.5 1114.3h6.4M1050.5 1155.4h6.4M1086.9 1078.5V1165M1083.7 1078.5h6.4M1083.7 1165h6.4M1120.1 1070.2V1122.3M1116.9 1070.2h6.4M1116.9 1122.3h6.4M1153.3 986.4V1017.4M1150.1 986.4h6.4M1150.1 1017.4h6.4M1186.5 1169.4V1191.5M1183.3 1169.4h6.4M1183.3 1191.5h6.4M1219.7 1143V1220.2M1216.5 1143h6.4M1216.5 1220.2h6.4M1252.9 1146.5V1195.4M1249.7 1146.5h6.4M1249.7 1195.4h6.4M1286.1 1146.5V1183.2M1282.9 1146.5h6.4M1282.9 1183.2h6.4M1319.3 1157V1185M1316.1 1157h6.4M1316.1 1185h6.4" stroke="#f00" stroke-opacity="0.85" stroke-width="1.3" fill="none"/>
<g fill="#f00"><ellipse cx="788.1" cy="1143.4" rx="5.9" ry="5.4"/><ellipse cx="821.3" cy="1117.8" rx="5.9" ry="5.4"/><ellipse cx="854.5" cy="1078.8" rx="5.9" ry="5.4"/><ellipse cx="887.7" cy="1047.4" rx="5.9" ry="5.4"/><ellipse cx="920.9" cy="1069.8" rx="5.9" ry="5.4"/><ellipse cx="954.1" cy="1162.2" rx="5.9" ry="5.4"/><ellipse cx="987.3" cy="1208" rx="5.9" ry="5.4"/><ellipse cx="1020.5" cy="1176.5" rx="5.9" ry="5.4"/><ellipse cx="1053.7" cy="1135.3" rx="5.9" ry="5.4"/><ellipse cx="1086.9" cy="1121.9" rx="5.9" ry="5.4"/><ellipse cx="1120.1" cy="1096.6" rx="5.9" ry="5.4"/><ellipse cx="1153.3" cy="1001.8" rx="5.9" ry="5.4"/><ellipse cx="1186.5" cy="1180.9" rx="5.9" ry="5.4"/><ellipse cx="1219.7" cy="1181.6" rx="5.9" ry="5.4"/><ellipse cx="1252.9" cy="1170.8" rx="5.9" ry="5.4"/><ellipse cx="1286.1" cy="1164.8" rx="5.9" ry="5.4"/><ellipse cx="1319.3" cy="1170.8" rx="5.9" ry="5.4"/></g>
<path d="M788.1 1152.6V1206.3M784.9 1152.6h6.4M784.9 1206.3h6.4M821.3 1107.2V1167.3M818.1 1107.2h6.4M818.1 1167.3h6.4M854.5 1161.5V1185.4M851.3 1161.5h6.4M851.3 1185.4h6.4M887.7 1176.5V1201.4M884.5 1176.5h6.4M884.5 1201.4h6.4M920.9 1183.5V1213.4M917.7 1183.5h6.4M917.7 1213.4h6.4M954.1 1171.6V1192.5M950.9 1171.6h6.4M950.9 1192.5h6.4M987.3 1137.4V1164.3M984.1 1137.4h6.4M984.1 1164.3h6.4M1020.5 1107.2V1147.7M1017.3 1107.2h6.4M1017.3 1147.7h6.4M1053.7 1087.7V1138.2M1050.5 1087.7h6.4M1050.5 1138.2h6.4M1086.9 1082.2V1144.8M1083.7 1082.2h6.4M1083.7 1144.8h6.4M1120.1 1075.3V1140.7M1116.9 1075.3h6.4M1116.9 1140.7h6.4M1153.3 1045.4V1129.9M1150.1 1045.4h6.4M1150.1 1129.9h6.4M1186.5 977.2V1124.2M1183.3 977.2h6.4M1183.3 1124.2h6.4M1219.7 1046.6V1158.2M1216.5 1046.6h6.4M1216.5 1158.2h6.4M1252.9 1089.7V1174.7M1249.7 1089.7h6.4M1249.7 1174.7h6.4M1286.1 1121.4V1188M1282.9 1121.4h6.4M1282.9 1188h6.4M1319.3 1152.2V1199.5M1316.1 1152.2h6.4M1316.1 1199.5h6.4" stroke="#00f" stroke-opacity="0.85" stroke-width="1.3" fill="none"/>
<g fill="#00f"><ellipse cx="788.1" cy="1179.2" rx="5.9" ry="5.4"/><ellipse cx="821.3" cy="1137" rx="5.9" ry="5.4"/><ellipse cx="854.5" cy="1173.3" rx="5.9" ry="5.4"/><ellipse cx="887.7" cy="1189.3" rx="5.9" ry="5.4"/><ellipse cx="920.9" cy="1198.4" rx="5.9" ry="5.4"/><ellipse cx="954.1" cy="1182.2" rx="5.9" ry="5.4"/><ellipse cx="987.3" cy="1150.9" rx="5.9" ry="5.4"/><ellipse cx="1020.5" cy="1127.4" rx="5.9" ry="5.4"/><ellipse cx="1053.7" cy="1113.5" rx="5.9" ry="5.4"/><ellipse cx="1086.9" cy="1113.8" rx="5.9" ry="5.4"/><ellipse cx="1120.1" cy="1108.1" rx="5.9" ry="5.4"/><ellipse cx="1153.3" cy="1087.9" rx="5.9" ry="5.4"/><ellipse cx="1186.5" cy="1050.7" rx="5.9" ry="5.4"/><ellipse cx="1219.7" cy="1102.8" rx="5.9" ry="5.4"/><ellipse cx="1252.9" cy="1132.2" rx="5.9" ry="5.4"/><ellipse cx="1286.1" cy="1155.2" rx="5.9" ry="5.4"/><ellipse cx="1319.3" cy="1175.8" rx="5.9" ry="5.4"/></g>
<circle cx="1234.7" cy="1001.8" r="5.7" fill="#f00"/><circle cx="1234.7" cy="1028.9" r="5.7" fill="#00f"/>
<text transform="translate(1254.04 1007.1) scale(1 1.04)" font-size="22">L/R</text>
<text transform="translate(1254.04 1035.3) scale(1 1.04)" font-size="22">R/L</text>
</svg></body></html>
